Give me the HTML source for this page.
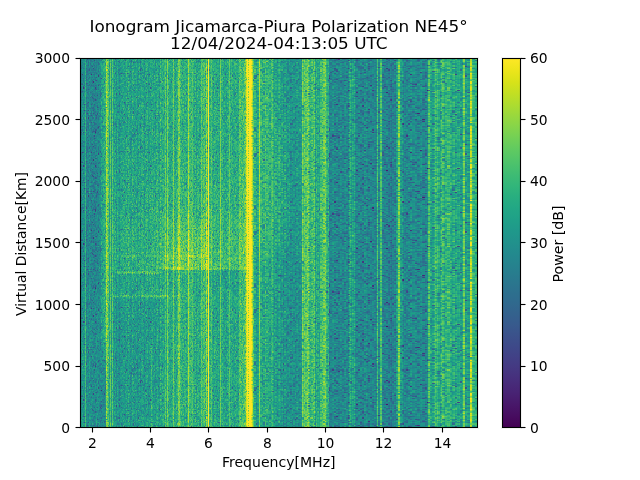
<!DOCTYPE html>
<html><head><meta charset="utf-8"><title>Ionogram</title>
<style>
html,body{margin:0;padding:0;background:#fff;}
body{width:640px;height:480px;overflow:hidden;}
svg{display:block;}
text{font-family:"DejaVu Sans","Liberation Sans",sans-serif;fill:#000;}
.t{font-size:13.89px;}
.ti{font-size:16.67px;}
</style></head><body>
<svg width="640" height="480" viewBox="0 0 640 480">
<defs>
<filter id="vir" x="0" y="0" width="100%" height="100%" filterUnits="objectBoundingBox" color-interpolation-filters="sRGB">
<feColorMatrix type="matrix" values="1.3333 .5 -.5 0 0 1.3333 .5 -.5 0 0 1.3333 .5 -.5 0 0 0 0 0 1 0"/>
<feComponentTransfer><feFuncR type="table" tableValues="0.267 0.273 0.277 0.280 0.282 0.283 0.283 0.281 0.279 0.275 0.271 0.265 0.259 0.252 0.245 0.237 0.230 0.222 0.214 0.207 0.199 0.192 0.186 0.179 0.173 0.167 0.161 0.155 0.149 0.143 0.138 0.132 0.128 0.123 0.121 0.119 0.121 0.125 0.132 0.143 0.158 0.176 0.197 0.220 0.246 0.274 0.304 0.336 0.369 0.404 0.440 0.478 0.516 0.555 0.596 0.637 0.678 0.720 0.762 0.804 0.846 0.886 0.926 0.965 0.993"/><feFuncG type="table" tableValues="0.005 0.026 0.050 0.073 0.095 0.116 0.136 0.156 0.175 0.195 0.214 0.233 0.252 0.270 0.288 0.305 0.322 0.339 0.356 0.372 0.388 0.403 0.419 0.434 0.449 0.464 0.479 0.493 0.508 0.523 0.537 0.552 0.567 0.582 0.596 0.611 0.626 0.640 0.655 0.669 0.684 0.698 0.712 0.726 0.739 0.752 0.765 0.777 0.789 0.800 0.811 0.821 0.831 0.840 0.849 0.857 0.864 0.870 0.876 0.882 0.887 0.892 0.897 0.902 0.906"/><feFuncB type="table" tableValues="0.329 0.353 0.376 0.397 0.417 0.436 0.453 0.469 0.483 0.496 0.507 0.517 0.525 0.532 0.537 0.542 0.546 0.549 0.551 0.553 0.555 0.556 0.557 0.557 0.558 0.558 0.558 0.558 0.557 0.556 0.555 0.553 0.551 0.547 0.544 0.539 0.533 0.527 0.520 0.511 0.502 0.491 0.479 0.466 0.452 0.437 0.420 0.402 0.383 0.363 0.341 0.318 0.294 0.269 0.243 0.217 0.190 0.163 0.137 0.115 0.100 0.095 0.104 0.124 0.144"/></feComponentTransfer>
</filter>
<pattern id="nA1" width="67" height="78" patternUnits="userSpaceOnUse" patternTransform="translate(81,59)"><g shape-rendering="crispEdges"><path fill="rgb(0,0,178)" d="M20 19h1v1h-1M43 43h1v1h-1"/><path fill="rgb(0,0,170)" d="M47 7h1v1h-1M1 15h1v1h-1M31 20h1v1h-1M65 24h1v1h-1M2 28h1v2h-1M66 43h1v1h-1M43 55h1v1h-1M14 73h1v1h-1"/><path fill="rgb(0,0,162)" d="M59 10h1v2h-1M57 12h1v1h-1M52 26h1v1h-1M63 57h1v1h-1M26 69h1v1h-1M45 76h1v2h-1"/><path fill="rgb(0,0,153)" d="M60 9h1v1h-1M12 22h1v2h-1M55 38h1v1h-1M3 45h1v1h-1M3 51h1v1h-1M59 66h1v1h-1M55 70h1v2h-1M26 72h1v1h-1M63 74h1v1h-1"/><path fill="rgb(0,0,144)" d="M52 3h1v1h-1M40 14h1v1h-1M46 14h1v1h-1M10 15h1v1h-1M17 16h1v2h-1M65 33h1v1h-1M57 46h1v2h-1M23 56h1v1h-1M56 74h1v1h-1"/><path fill="rgb(0,0,136)" d="M44 1h1v1h-1M7 58h1v2h-1"/><path fill="rgb(0,0,128)" d="M49 12h1v1h-1M34 14h1v1h-1M64 19h1v1h-1M23 22h1v2h-1M1 25h1v1h-1M65 27h1v1h-1M14 28h1v2h-1M47 39h1v1h-1M56 55h1v1h-1M60 58h1v2h-1M27 60h1v1h-1M17 68h1v1h-1M2 73h1v1h-1M53 74h1v1h-1M66 75h1v1h-1"/><path fill="rgb(0,0,119)" d="M34 0h1v1h-1M12 9h1v1h-1M61 10h1v2h-1M57 15h1v1h-1M66 15h1v1h-1M62 18h1v1h-1M35 34h1v2h-1M38 34h1v2h-1M19 36h1v1h-1M11 38h1v1h-1M47 43h1v1h-1M52 52h1v2h-1M30 58h1v2h-1M24 63h1v1h-1M42 63h1v1h-1M23 67h1v1h-1M35 67h1v1h-1M14 72h1v1h-1"/><path fill="rgb(0,0,110)" d="M6 0h1v1h-1M37 2h1v1h-1M11 7h1v1h-1M26 9h1v1h-1M38 15h1v1h-1M8 18h1v1h-1M15 21h1v1h-1M47 21h1v1h-1M57 25h1v1h-1M51 30h1v1h-1M57 31h1v1h-1M1 32h1v1h-1M2 36h1v1h-1M40 36h1v1h-1M7 43h1v1h-1M47 45h1v1h-1M38 46h1v2h-1M16 48h1v1h-1M25 48h1v1h-1M23 50h1v1h-1M40 52h1v2h-1M6 54h1v1h-1M57 54h1v1h-1M41 58h1v2h-1M10 63h1v1h-1M30 66h1v1h-1M32 66h1v1h-1M52 66h1v1h-1M46 67h1v1h-1M51 76h1v2h-1"/><path fill="rgb(0,0,102)" d="M26 1h1v1h-1M50 1h1v1h-1M28 6h1v1h-1M8 10h1v2h-1M29 27h1v1h-1M20 30h1v1h-1M53 31h1v1h-1M47 32h1v1h-1M16 36h1v1h-1M50 37h1v1h-1M29 39h1v1h-1M14 40h1v2h-1M65 44h1v1h-1M46 46h1v2h-1M48 50h1v1h-1M4 51h1v1h-1M7 51h1v1h-1M12 54h1v1h-1M52 54h1v1h-1M16 55h1v1h-1M21 58h1v2h-1M66 66h1v1h-1M1 67h1v1h-1M21 67h1v1h-1M52 69h1v1h-1M5 70h1v2h-1M13 76h1v2h-1"/><path fill="rgb(0,0,94)" d="M29 0h1v1h-1M20 1h1v1h-1M38 3h1v1h-1M59 3h1v1h-1M35 9h1v1h-1M59 14h1v1h-1M24 16h1v2h-1M51 20h1v1h-1M14 21h1v1h-1M38 21h1v1h-1M59 26h1v1h-1M62 27h1v1h-1M20 34h1v2h-1M60 50h1v1h-1M31 55h1v1h-1M10 56h1v1h-1M55 60h1v1h-1M59 60h1v1h-1M43 62h1v1h-1M34 64h1v2h-1M22 67h1v1h-1M64 72h1v1h-1M11 73h1v1h-1"/><path fill="rgb(0,0,85)" d="M64 0h1v1h-1M13 1h1v1h-1M50 2h1v1h-1M55 2h1v1h-1M59 2h1v1h-1M29 3h1v1h-1M33 4h1v2h-1M7 6h1v1h-1M47 14h1v1h-1M57 14h1v1h-1M27 15h1v1h-1M31 19h1v1h-1M59 20h1v1h-1M8 25h1v1h-1M17 26h1v1h-1M15 30h1v1h-1M49 31h1v1h-1M12 39h1v1h-1M46 39h1v1h-1M58 44h1v1h-1M52 49h1v1h-1M63 51h1v1h-1M16 54h1v1h-1M63 60h1v1h-1M21 63h1v1h-1M31 63h1v1h-1M54 66h1v1h-1M17 67h1v1h-1M24 69h1v1h-1M12 72h1v1h-1M30 72h1v1h-1M44 72h1v1h-1M17 73h1v1h-1M31 75h1v1h-1M52 75h1v1h-1"/><path fill="rgb(0,0,76)" d="M49 2h1v1h-1M54 3h1v1h-1M24 4h1v2h-1M63 4h1v2h-1M34 6h1v1h-1M34 8h1v1h-1M66 12h1v1h-1M34 13h1v1h-1M62 14h1v1h-1M19 15h1v1h-1M54 18h1v1h-1M4 19h1v1h-1M23 19h1v1h-1M42 19h1v1h-1M62 22h1v2h-1M0 25h1v1h-1M34 25h1v1h-1M3 26h1v1h-1M3 28h1v2h-1M32 28h1v2h-1M38 28h1v2h-1M17 30h1v1h-1M13 36h1v1h-1M24 37h1v1h-1M29 37h1v1h-1M53 37h1v1h-1M28 39h1v1h-1M58 39h1v1h-1M13 45h1v1h-1M65 45h1v1h-1M17 48h1v1h-1M30 49h1v1h-1M19 50h1v1h-1M24 50h1v1h-1M23 51h1v1h-1M37 52h1v2h-1M7 56h1v1h-1M52 56h1v1h-1M46 58h1v2h-1M32 62h1v1h-1M43 63h1v1h-1M45 67h1v1h-1M62 67h1v1h-1M1 70h1v2h-1M14 70h1v2h-1M62 70h1v2h-1M56 72h1v1h-1M23 75h1v1h-1"/><path fill="rgb(0,0,68)" d="M48 2h1v1h-1M51 2h1v1h-1M30 6h1v1h-1M26 7h1v1h-1M57 7h1v1h-1M49 8h1v1h-1M45 9h1v1h-1M50 9h1v1h-1M27 10h1v2h-1M17 12h1v1h-1M32 12h1v1h-1M30 13h1v1h-1M15 14h1v1h-1M39 14h1v1h-1M41 14h1v1h-1M43 14h1v1h-1M52 14h1v1h-1M60 14h1v1h-1M49 15h1v1h-1M15 18h1v1h-1M33 20h1v1h-1M56 20h1v1h-1M64 20h1v1h-1M33 22h1v2h-1M5 24h1v1h-1M10 26h1v1h-1M66 28h1v2h-1M7 30h1v1h-1M45 33h1v1h-1M54 33h1v1h-1M27 34h1v2h-1M46 34h1v2h-1M26 36h1v1h-1M20 37h1v1h-1M62 40h1v2h-1M49 42h1v1h-1M57 44h1v1h-1M59 44h1v1h-1M23 45h1v1h-1M33 45h1v1h-1M35 45h1v1h-1M37 46h1v2h-1M50 48h1v1h-1M20 49h1v1h-1M29 50h1v1h-1M45 50h1v1h-1M21 51h1v1h-1M61 55h1v1h-1M18 57h1v1h-1M34 60h1v1h-1M8 61h1v1h-1M20 63h1v1h-1M59 67h1v1h-1M35 70h1v2h-1M0 73h1v1h-1M26 75h1v1h-1M57 75h1v1h-1M28 76h1v2h-1M32 76h1v2h-1"/><path fill="rgb(0,0,60)" d="M20 0h2v1h-2M51 0h1v1h-1M53 2h1v1h-1M1 3h1v1h-1M49 6h1v1h-1M8 9h1v1h-1M37 10h1v2h-1M25 13h1v1h-1M37 13h1v1h-1M61 13h1v1h-1M63 13h1v1h-1M50 14h1v1h-1M42 15h1v1h-1M20 16h1v2h-1M48 16h1v2h-1M48 18h1v1h-1M54 21h1v1h-1M8 22h1v2h-1M23 27h1v1h-1M48 30h1v1h-1M26 31h1v1h-1M52 31h1v1h-1M2 32h1v1h-1M40 32h1v1h-1M9 33h1v1h-1M22 33h1v1h-1M38 33h1v1h-1M40 33h1v1h-1M42 33h1v1h-1M11 34h1v2h-1M19 34h1v2h-1M62 34h1v2h-1M57 36h1v1h-1M10 37h1v1h-1M64 37h1v1h-1M18 39h1v1h-1M30 40h1v2h-1M60 40h1v2h-1M63 42h1v1h-1M26 43h1v1h-1M32 43h1v1h-1M38 44h1v1h-1M44 44h1v1h-1M4 45h1v1h-1M10 45h1v1h-1M22 45h1v1h-1M30 45h1v1h-1M36 46h1v2h-1M65 46h1v2h-1M38 49h1v1h-1M45 49h1v1h-1M17 50h1v1h-1M53 51h1v1h-1M51 52h1v2h-1M2 54h1v1h-1M9 54h2v1h-2M13 54h1v1h-1M51 54h1v1h-1M35 55h1v1h-1M1 56h1v1h-1M46 56h1v1h-1M32 57h1v1h-1M2 58h1v2h-1M15 58h1v2h-1M47 58h1v2h-1M57 61h1v1h-1M34 63h1v1h-1M63 64h1v2h-1M11 67h1v1h-1M18 67h1v1h-1M23 68h1v1h-1M40 69h1v1h-1M15 70h1v2h-1M51 70h1v2h-1M65 70h1v2h-1M36 72h1v1h-1M48 72h2v1h-2M54 72h1v1h-1M58 73h1v1h-1M14 74h1v1h-1M22 75h1v1h-1M30 75h1v1h-1M54 75h2v1h-2"/><path fill="rgb(0,0,51)" d="M52 0h1v1h-1M28 1h1v1h-1M42 1h1v1h-1M33 2h1v1h-1M21 3h1v1h-1M50 3h1v1h-1M57 3h1v1h-1M17 4h1v2h-1M10 6h1v1h-1M22 7h1v1h-1M54 8h1v1h-1M2 9h1v1h-1M30 9h1v1h-1M38 12h1v1h-1M53 12h1v1h-1M64 12h1v1h-1M6 13h1v1h-1M10 14h1v1h-1M19 14h1v1h-1M24 14h1v1h-1M12 15h1v1h-1M17 15h1v1h-1M4 16h1v2h-1M40 16h1v2h-1M5 18h1v1h-1M50 18h1v1h-1M2 19h1v1h-1M65 19h1v1h-1M24 20h1v1h-1M57 20h1v1h-1M65 20h1v1h-1M25 21h1v1h-1M35 22h1v2h-1M1 24h1v1h-1M6 24h1v1h-1M46 24h1v1h-1M18 25h1v1h-1M14 26h1v1h-1M30 26h1v1h-1M4 27h1v1h-1M21 28h1v2h-1M53 28h1v2h-1M8 30h1v1h-1M36 30h1v1h-1M45 30h1v1h-1M57 30h1v1h-1M5 31h1v1h-1M22 31h1v1h-1M58 31h1v1h-1M6 33h1v1h-1M2 34h1v2h-1M27 36h1v1h-1M9 38h1v1h-1M31 38h1v1h-1M33 38h1v1h-1M50 38h1v1h-1M59 39h1v1h-1M15 40h1v2h-1M38 42h1v1h-1M48 42h1v1h-1M61 42h1v1h-1M2 43h1v1h-1M56 43h1v1h-1M52 44h1v1h-1M1 48h1v1h-1M49 48h1v1h-1M52 48h1v1h-1M9 49h1v1h-1M11 49h1v1h-1M29 49h1v1h-1M51 49h1v1h-1M65 50h1v1h-1M47 51h1v1h-1M36 52h1v2h-1M54 52h1v2h-1M41 54h1v1h-1M9 56h1v1h-1M60 56h1v1h-1M54 57h1v1h-1M62 57h1v1h-1M32 58h1v2h-1M55 58h1v2h-1M0 60h1v1h-1M8 60h1v1h-1M37 60h1v1h-1M49 61h1v1h-1M1 62h1v1h-1M32 63h1v1h-1M44 63h1v1h-1M6 64h1v2h-1M39 64h1v2h-1M51 64h1v2h-1M59 64h1v2h-1M27 66h1v1h-1M39 66h1v1h-1M50 66h1v1h-1M64 66h1v1h-1M61 67h1v1h-1M51 68h1v1h-1M59 68h1v1h-1M12 70h1v2h-1M19 70h1v2h-1M40 72h1v1h-1M7 73h1v1h-1M45 73h1v1h-1M66 73h1v1h-1M60 74h1v1h-1M18 75h1v1h-1M20 75h1v1h-1M48 75h1v1h-1M31 76h1v2h-1M52 76h1v2h-1"/><path fill="rgb(0,0,42)" d="M48 0h1v1h-1M9 1h1v1h-1M9 2h1v1h-1M23 2h1v1h-1M7 3h1v1h-1M40 3h1v1h-1M58 3h1v1h-1M9 4h1v2h-1M18 4h1v2h-1M28 4h1v2h-1M59 4h1v2h-1M51 6h1v1h-1M62 6h1v1h-1M50 7h1v1h-1M66 7h1v1h-1M9 9h1v1h-1M14 10h1v2h-1M6 12h1v1h-1M28 12h1v1h-1M22 14h1v1h-1M26 14h1v1h-1M5 15h1v1h-1M60 15h1v1h-1M1 16h1v2h-1M47 16h1v2h-1M11 18h1v1h-1M27 18h1v1h-1M65 18h1v1h-1M14 19h1v1h-1M12 20h1v1h-1M22 20h1v1h-1M43 20h1v1h-1M4 21h1v1h-1M49 22h1v2h-1M25 24h1v1h-1M35 24h1v1h-1M60 24h1v1h-1M10 25h1v1h-1M22 25h1v1h-1M32 25h1v1h-1M8 26h1v1h-1M12 26h1v1h-1M15 26h1v1h-1M28 26h1v1h-1M36 27h1v1h-1M15 28h1v2h-1M63 28h1v2h-1M14 30h1v1h-1M28 31h1v1h-1M4 32h1v1h-1M19 32h1v1h-1M0 33h1v1h-1M19 33h2v1h-2M64 33h1v1h-1M41 36h1v1h-1M45 36h1v1h-1M14 37h1v1h-1M46 37h1v1h-1M1 38h1v1h-1M36 38h1v1h-1M40 38h1v1h-1M63 38h1v1h-1M66 38h1v1h-1M41 42h1v1h-1M57 42h2v1h-2M62 42h1v1h-1M2 44h1v1h-1M29 44h1v1h-1M43 44h1v1h-1M1 45h1v1h-1M25 45h1v1h-1M48 45h1v1h-1M57 45h1v1h-1M16 46h1v2h-1M19 46h1v2h-1M44 46h1v2h-1M5 48h1v1h-1M26 48h1v1h-1M44 48h1v1h-1M58 48h1v1h-1M8 49h1v1h-1M62 49h1v1h-1M52 50h1v1h-1M66 50h1v1h-1M43 51h1v1h-1M14 52h1v2h-1M40 54h1v1h-1M47 54h1v1h-1M55 54h1v1h-1M14 55h1v1h-1M24 55h1v1h-1M55 55h1v1h-1M15 56h1v1h-1M48 56h1v1h-1M11 58h1v2h-1M63 58h1v2h-1M17 60h1v1h-1M22 60h1v1h-1M9 61h1v1h-1M38 61h1v1h-1M34 62h1v1h-1M38 62h1v1h-1M8 63h1v1h-1M40 63h1v1h-1M13 64h1v2h-1M53 64h1v2h-1M42 66h1v1h-1M28 67h1v1h-1M40 67h1v1h-1M63 67h1v1h-1M31 68h1v1h-1M62 68h1v1h-1M5 69h1v1h-1M10 69h1v1h-1M13 69h1v1h-1M38 69h1v1h-1M66 70h1v2h-1M13 72h1v1h-1M21 72h1v1h-1M4 73h1v1h-1M37 73h1v1h-1M44 74h1v1h-1M9 75h1v1h-1M37 75h1v1h-1M53 75h1v1h-1M65 75h1v1h-1M54 76h1v2h-1"/><path fill="rgb(0,0,34)" d="M43 0h1v1h-1M60 0h1v1h-1M24 1h1v1h-1M29 1h1v1h-1M55 1h2v1h-2M66 2h1v1h-1M17 3h1v1h-1M1 6h1v1h-1M24 6h1v1h-1M26 6h1v1h-1M37 6h1v1h-1M58 6h1v1h-1M28 7h1v1h-1M13 8h1v1h-1M30 8h1v1h-1M46 8h1v1h-1M3 9h1v1h-1M17 9h1v1h-1M33 9h1v1h-1M51 9h1v1h-1M55 9h1v1h-1M6 10h1v2h-1M17 10h1v2h-1M35 12h1v1h-1M43 12h1v1h-1M9 13h1v1h-1M8 14h1v1h-1M18 14h1v1h-1M28 14h1v1h-1M63 14h1v1h-1M0 15h1v1h-1M6 15h1v1h-1M13 15h1v1h-1M63 15h1v1h-1M56 16h1v2h-1M10 18h1v1h-1M30 18h1v1h-1M52 18h1v1h-1M8 19h1v1h-1M26 20h1v1h-1M48 20h1v1h-1M2 21h1v1h-1M11 21h1v1h-1M30 21h1v1h-1M39 21h1v1h-1M45 21h1v1h-1M65 21h1v1h-1M11 22h1v2h-1M27 22h1v2h-1M39 22h1v2h-1M57 22h1v2h-1M0 24h1v1h-1M3 24h1v1h-1M58 24h1v1h-1M5 25h1v1h-1M20 25h1v1h-1M46 25h1v1h-1M55 26h1v1h-1M33 27h1v1h-1M8 28h1v2h-1M22 28h1v2h-1M25 28h1v2h-1M30 28h1v2h-1M37 28h1v2h-1M5 30h1v1h-1M26 30h1v1h-1M54 30h1v1h-1M65 30h1v1h-1M48 31h1v1h-1M11 32h1v1h-1M27 32h1v1h-1M37 32h1v1h-1M46 32h1v1h-1M15 33h1v1h-1M56 33h1v1h-1M39 34h1v2h-1M41 37h1v1h-1M56 37h1v1h-1M51 38h1v1h-1M4 39h1v1h-1M7 39h1v1h-1M11 39h1v1h-1M60 39h1v1h-1M64 39h1v1h-1M8 40h1v2h-1M13 40h1v2h-1M50 40h1v2h-1M2 42h1v1h-1M12 42h1v1h-1M28 42h1v1h-1M30 43h1v1h-1M36 43h1v1h-1M41 43h1v1h-1M24 44h1v1h-1M28 44h1v1h-1M32 44h1v1h-1M26 45h1v1h-1M32 45h1v1h-1M50 46h1v2h-1M2 48h1v1h-1M11 48h2v1h-2M36 48h1v1h-1M22 49h1v1h-1M56 49h1v1h-1M64 49h1v1h-1M13 50h1v1h-1M30 50h1v1h-1M41 50h1v1h-1M54 50h1v1h-1M2 51h1v1h-1M19 51h1v1h-1M28 51h1v1h-1M31 51h1v1h-1M10 52h1v2h-1M13 52h1v2h-1M17 52h1v2h-1M49 52h1v2h-1M57 52h1v2h-1M7 54h1v1h-1M18 54h1v1h-1M21 54h1v1h-1M49 54h1v1h-1M63 54h1v1h-1M19 55h1v1h-1M45 55h1v1h-1M17 56h1v1h-1M20 56h1v1h-1M55 56h1v1h-1M8 57h1v1h-1M11 57h1v1h-1M20 57h1v1h-1M31 57h1v1h-1M40 57h1v1h-1M55 57h1v1h-1M5 58h1v2h-1M12 58h1v2h-1M27 58h1v2h-1M44 58h1v2h-1M61 58h1v2h-1M2 60h1v1h-1M9 60h1v1h-1M61 60h1v1h-1M4 61h1v1h-1M20 61h2v1h-2M25 61h1v1h-1M61 61h2v1h-2M2 62h1v1h-1M9 62h1v1h-1M6 63h1v1h-1M12 63h1v1h-1M54 63h1v1h-1M63 63h1v1h-1M54 64h1v2h-1M38 66h1v1h-1M58 66h1v1h-1M39 67h1v1h-1M56 67h1v1h-1M55 68h1v1h-1M4 69h1v1h-1M7 69h1v1h-1M17 69h1v1h-1M39 69h1v1h-1M58 69h1v1h-1M62 69h1v1h-1M0 70h1v2h-1M10 70h1v2h-1M20 70h1v2h-1M32 70h1v2h-1M39 70h1v2h-1M45 70h1v2h-1M11 72h1v1h-1M18 72h2v1h-2M41 72h1v1h-1M22 74h1v1h-1M29 74h1v1h-1M47 74h1v1h-1M50 74h2v1h-2M5 75h1v1h-1M19 76h1v2h-1M50 76h1v2h-1M64 76h1v2h-1"/><path fill="rgb(0,0,26)" d="M4 0h1v1h-1M15 0h1v1h-1M36 0h1v1h-1M45 0h1v1h-1M10 1h1v1h-1M58 1h1v1h-1M4 2h1v1h-1M22 2h1v1h-1M31 2h1v1h-1M42 2h1v1h-1M57 2h1v1h-1M14 3h1v1h-1M28 3h1v1h-1M47 3h1v1h-1M56 3h1v1h-1M3 4h1v2h-1M43 4h1v2h-1M61 4h1v2h-1M25 6h1v1h-1M47 6h1v1h-1M31 7h1v1h-1M49 7h1v1h-1M59 7h1v1h-1M1 8h1v1h-1M44 8h1v1h-1M4 9h3v1h-3M52 9h1v1h-1M54 9h1v1h-1M59 9h1v1h-1M63 9h1v1h-1M39 10h1v2h-1M55 10h1v2h-1M3 12h1v1h-1M44 12h1v1h-1M63 12h1v1h-1M65 12h1v1h-1M15 13h1v1h-1M49 13h1v1h-1M62 13h1v1h-1M42 14h1v1h-1M58 14h1v1h-1M61 14h1v1h-1M28 15h1v1h-1M34 15h1v1h-1M39 15h1v1h-1M44 15h1v1h-1M43 16h1v2h-1M62 16h1v2h-1M65 16h1v2h-1M3 18h1v1h-1M19 19h1v1h-1M26 19h1v1h-1M38 19h1v1h-1M62 19h1v1h-1M16 20h1v1h-1M20 20h1v1h-1M27 20h1v1h-1M35 20h1v1h-1M41 20h1v1h-1M50 20h1v1h-1M23 21h1v1h-1M28 21h1v1h-1M61 21h1v1h-1M2 22h1v2h-1M27 24h1v1h-1M38 24h1v1h-1M43 24h1v1h-1M21 25h1v1h-1M35 25h1v1h-1M41 25h1v1h-1M51 25h1v1h-1M54 25h2v1h-2M58 25h1v1h-1M62 25h1v1h-1M65 25h1v1h-1M66 26h1v1h-1M9 27h1v1h-1M26 27h1v1h-1M28 27h1v1h-1M39 27h1v1h-1M46 27h1v1h-1M34 28h1v2h-1M48 28h1v2h-1M51 28h1v2h-1M58 28h1v2h-1M22 30h1v1h-1M35 30h1v1h-1M39 30h1v1h-1M52 30h1v1h-1M0 31h1v1h-1M19 31h1v1h-1M33 31h1v1h-1M39 31h1v1h-1M65 31h1v1h-1M0 32h1v1h-1M48 32h1v1h-1M55 32h1v1h-1M61 32h1v1h-1M1 33h1v1h-1M7 34h1v2h-1M18 34h1v2h-1M11 36h1v1h-1M36 36h1v1h-1M39 36h1v1h-1M42 36h1v1h-1M59 36h1v1h-1M19 37h1v1h-1M44 37h1v1h-1M47 37h1v1h-1M54 37h1v1h-1M0 38h1v1h-1M8 38h1v1h-1M29 38h1v1h-1M35 38h1v1h-1M64 38h1v1h-1M5 39h1v1h-1M8 39h1v1h-1M14 39h1v1h-1M16 39h1v1h-1M19 39h1v1h-1M33 39h1v1h-1M36 39h1v1h-1M44 39h1v1h-1M20 40h1v2h-1M39 40h1v2h-1M57 40h1v2h-1M61 40h1v2h-1M4 42h1v1h-1M31 42h1v1h-1M34 42h1v1h-1M14 43h1v1h-1M38 43h1v1h-1M44 43h1v1h-1M46 43h1v1h-1M62 43h1v1h-1M21 44h1v1h-1M63 44h1v1h-1M7 45h1v1h-1M34 45h1v1h-1M39 45h1v1h-1M49 45h2v1h-2M53 45h2v1h-2M62 45h1v1h-1M26 46h1v2h-1M30 46h1v2h-1M40 46h1v2h-1M10 48h1v1h-1M31 48h1v1h-1M42 48h1v1h-1M54 48h1v1h-1M12 49h1v1h-1M19 49h1v1h-1M33 49h2v1h-2M65 49h1v1h-1M12 50h1v1h-1M33 50h1v1h-1M36 50h1v1h-1M57 50h1v1h-1M45 51h1v1h-1M6 52h1v2h-1M41 52h2v2h-2M64 52h1v2h-1M5 54h1v1h-1M25 54h1v1h-1M5 55h1v1h-1M63 55h1v1h-1M44 56h1v1h-1M4 57h1v1h-1M15 57h1v1h-1M42 57h1v1h-1M52 58h1v2h-1M3 60h1v1h-1M14 60h2v1h-2M38 60h1v1h-1M42 60h1v1h-1M46 60h1v1h-1M53 60h1v1h-1M39 61h1v1h-1M41 61h1v1h-1M47 61h1v1h-1M66 61h1v1h-1M21 62h1v1h-1M26 62h1v1h-1M35 62h1v1h-1M42 62h1v1h-1M54 62h1v1h-1M7 63h1v1h-1M9 63h1v1h-1M13 63h1v1h-1M46 63h1v1h-1M49 63h1v1h-1M51 63h1v1h-1M3 64h1v2h-1M14 64h2v2h-2M28 64h1v2h-1M58 64h1v2h-1M34 66h1v1h-1M40 66h1v1h-1M56 66h1v1h-1M6 67h2v1h-2M32 67h1v1h-1M48 67h2v1h-2M65 67h1v1h-1M22 68h1v1h-1M56 68h1v1h-1M1 69h1v1h-1M3 69h1v1h-1M41 69h1v1h-1M65 69h1v1h-1M27 70h1v2h-1M40 70h1v2h-1M48 70h1v2h-1M53 70h1v2h-1M58 70h1v2h-1M22 72h1v1h-1M29 72h1v1h-1M57 72h1v1h-1M39 73h1v1h-1M46 73h1v1h-1M60 73h1v1h-1M2 74h1v1h-1M16 74h1v1h-1M30 74h1v1h-1M57 74h1v1h-1M64 74h1v1h-1M2 75h2v1h-2M16 75h1v1h-1M38 75h1v1h-1M45 75h1v1h-1M64 75h1v1h-1M8 76h1v2h-1M29 76h1v2h-1M46 76h1v2h-1M53 76h1v2h-1"/><path fill="rgb(0,0,17)" d="M9 0h1v1h-1M11 0h1v1h-1M18 0h1v1h-1M30 0h1v1h-1M37 0h1v1h-1M44 0h1v1h-1M5 1h1v1h-1M38 1h1v1h-1M47 1h1v1h-1M11 2h1v1h-1M21 2h1v1h-1M26 2h1v1h-1M36 2h1v1h-1M38 2h1v1h-1M5 3h1v1h-1M22 3h1v1h-1M30 3h2v1h-2M44 3h1v1h-1M62 3h1v1h-1M1 4h1v2h-1M4 4h1v2h-1M12 4h1v2h-1M40 4h1v2h-1M47 4h1v2h-1M49 4h1v2h-1M53 4h1v2h-1M62 4h1v2h-1M0 6h1v1h-1M17 6h1v1h-1M35 6h2v1h-2M38 6h1v1h-1M27 7h1v1h-1M15 8h1v1h-1M41 8h1v1h-1M55 8h1v1h-1M61 8h1v1h-1M64 8h1v1h-1M25 9h1v1h-1M40 9h1v1h-1M4 10h2v2h-2M7 10h1v2h-1M11 10h1v2h-1M24 10h1v2h-1M30 10h1v2h-1M38 10h1v2h-1M42 10h1v2h-1M50 10h1v2h-1M63 10h1v2h-1M5 12h1v1h-1M45 12h1v1h-1M59 12h1v1h-1M1 13h1v1h-1M4 13h1v1h-1M10 13h1v1h-1M18 13h1v1h-1M22 13h1v1h-1M28 13h1v1h-1M6 14h1v1h-1M9 14h1v1h-1M27 14h1v1h-1M22 15h1v1h-1M24 15h1v1h-1M36 15h1v1h-1M48 15h1v1h-1M55 15h1v1h-1M28 16h1v2h-1M35 16h1v2h-1M53 16h1v2h-1M55 16h1v2h-1M47 18h1v1h-1M5 19h1v1h-1M7 19h1v1h-1M25 19h1v1h-1M57 19h1v1h-1M2 20h1v1h-1M5 20h1v1h-1M10 20h1v1h-1M39 20h1v1h-1M42 20h1v1h-1M46 20h1v1h-1M52 21h1v1h-1M58 21h1v1h-1M60 21h1v1h-1M3 22h1v2h-1M19 22h1v2h-1M31 22h1v2h-1M37 22h2v2h-2M40 22h1v2h-1M43 22h1v2h-1M61 22h1v2h-1M14 24h1v1h-1M39 24h1v1h-1M45 24h1v1h-1M43 25h1v1h-1M52 25h1v1h-1M66 25h1v1h-1M6 26h2v1h-2M40 26h1v1h-1M46 26h1v1h-1M50 26h1v1h-1M56 26h1v1h-1M58 26h1v1h-1M15 27h1v1h-1M27 27h1v1h-1M58 27h1v1h-1M6 28h2v2h-2M28 28h1v2h-1M13 30h1v1h-1M24 30h1v1h-1M63 30h1v1h-1M21 31h1v1h-1M8 32h1v1h-1M18 32h1v1h-1M32 32h1v1h-1M38 32h1v1h-1M21 33h1v1h-1M50 33h1v1h-1M53 33h1v1h-1M62 33h2v1h-2M12 34h1v2h-1M14 34h2v2h-2M23 34h3v2h-3M33 34h1v2h-1M48 34h1v2h-1M57 34h1v2h-1M59 34h3v2h-3M65 34h1v2h-1M8 36h1v1h-1M12 36h1v1h-1M21 36h1v1h-1M37 36h1v1h-1M46 36h1v1h-1M55 36h1v1h-1M62 36h1v1h-1M8 37h1v1h-1M30 37h1v1h-1M39 37h1v1h-1M59 37h1v1h-1M63 37h1v1h-1M24 38h1v1h-1M43 38h1v1h-1M57 38h2v1h-2M26 39h1v1h-1M54 39h1v1h-1M65 39h1v1h-1M3 40h2v2h-2M9 40h1v2h-1M29 40h1v2h-1M54 40h1v2h-1M64 40h1v2h-1M5 42h1v1h-1M8 42h1v1h-1M17 42h1v1h-1M6 43h1v1h-1M42 43h1v1h-1M54 43h1v1h-1M60 43h1v1h-1M64 43h1v1h-1M5 44h1v1h-1M53 44h1v1h-1M2 45h1v1h-1M21 45h1v1h-1M45 45h1v1h-1M56 45h1v1h-1M64 45h1v1h-1M3 46h1v2h-1M7 46h1v2h-1M14 46h1v2h-1M20 46h1v2h-1M28 46h1v2h-1M33 46h1v2h-1M66 46h1v2h-1M8 48h1v1h-1M29 48h1v1h-1M33 48h1v1h-1M35 48h1v1h-1M56 48h1v1h-1M65 48h1v1h-1M3 49h1v1h-1M41 49h1v1h-1M49 49h1v1h-1M26 50h1v1h-1M43 50h1v1h-1M50 50h1v1h-1M62 50h1v1h-1M12 51h1v1h-1M39 51h2v1h-2M19 52h1v2h-1M24 52h1v2h-1M28 52h1v2h-1M38 52h1v2h-1M56 52h1v2h-1M58 52h1v2h-1M61 52h1v2h-1M63 52h1v2h-1M30 54h1v1h-1M44 54h1v1h-1M48 54h1v1h-1M64 54h1v1h-1M6 55h1v1h-1M22 55h1v1h-1M3 56h1v1h-1M12 56h1v1h-1M39 56h1v1h-1M51 56h1v1h-1M5 57h1v1h-1M0 58h1v2h-1M22 58h1v2h-1M36 58h1v2h-1M59 58h1v2h-1M7 60h1v1h-1M32 60h1v1h-1M40 60h1v1h-1M64 60h1v1h-1M3 61h1v1h-1M13 61h1v1h-1M17 61h1v1h-1M42 61h1v1h-1M20 62h1v1h-1M29 62h1v1h-1M46 62h1v1h-1M48 62h1v1h-1M62 62h2v1h-2M0 63h1v1h-1M23 63h1v1h-1M66 63h1v1h-1M10 64h1v2h-1M26 64h1v2h-1M38 64h1v2h-1M46 64h1v2h-1M48 64h1v2h-1M57 64h1v2h-1M62 64h1v2h-1M22 66h1v1h-1M31 66h1v1h-1M65 66h1v1h-1M2 67h2v1h-2M24 67h1v1h-1M36 67h1v1h-1M54 67h2v1h-2M3 68h1v1h-1M6 68h2v1h-2M10 68h1v1h-1M14 68h1v1h-1M25 68h1v1h-1M34 68h1v1h-1M36 68h1v1h-1M60 68h1v1h-1M9 69h1v1h-1M14 69h1v1h-1M32 69h1v1h-1M44 69h1v1h-1M46 69h1v1h-1M25 70h1v2h-1M23 72h1v1h-1M28 72h1v1h-1M33 72h1v1h-1M51 72h1v1h-1M59 72h1v1h-1M35 73h1v1h-1M49 73h2v1h-2M19 74h1v1h-1M48 74h1v1h-1M6 75h1v1h-1M17 75h1v1h-1M51 75h1v1h-1M7 76h1v2h-1M18 76h1v2h-1M22 76h1v2h-1M38 76h1v2h-1M42 76h1v2h-1M66 76h1v2h-1"/><path fill="rgb(0,0,8)" d="M25 0h1v1h-1M49 0h1v1h-1M19 1h1v1h-1M22 1h1v1h-1M35 1h1v1h-1M49 1h1v1h-1M13 2h1v1h-1M34 2h1v1h-1M46 2h1v1h-1M52 2h1v1h-1M63 2h1v1h-1M8 3h1v1h-1M23 3h1v1h-1M33 3h1v1h-1M48 3h1v1h-1M53 3h1v1h-1M60 3h1v1h-1M65 3h1v1h-1M26 4h1v2h-1M36 4h2v2h-2M50 4h1v2h-1M52 4h1v2h-1M57 4h1v2h-1M9 6h1v1h-1M13 6h1v1h-1M15 6h1v1h-1M46 6h1v1h-1M4 7h1v1h-1M6 7h1v1h-1M9 7h2v1h-2M14 7h1v1h-1M18 7h1v1h-1M2 8h1v1h-1M7 8h1v1h-1M9 8h1v1h-1M21 8h1v1h-1M32 8h1v1h-1M40 8h1v1h-1M43 8h1v1h-1M48 8h1v1h-1M59 8h2v1h-2M65 8h1v1h-1M0 9h1v1h-1M10 9h1v1h-1M15 9h1v1h-1M19 9h1v1h-1M22 9h1v1h-1M39 9h1v1h-1M43 9h1v1h-1M49 9h1v1h-1M10 10h1v2h-1M13 10h1v2h-1M20 10h1v2h-1M41 10h1v2h-1M44 10h1v2h-1M48 10h1v2h-1M51 10h1v2h-1M0 12h1v1h-1M25 12h1v1h-1M27 12h1v1h-1M36 12h2v1h-2M40 12h2v1h-2M46 12h1v1h-1M5 13h1v1h-1M11 13h1v1h-1M24 13h1v1h-1M40 13h1v1h-1M7 14h1v1h-1M13 14h1v1h-1M37 14h1v1h-1M56 14h1v1h-1M18 15h1v1h-1M52 15h1v1h-1M59 15h1v1h-1M0 16h1v2h-1M5 16h1v2h-1M50 16h1v2h-1M63 16h1v2h-1M9 18h1v1h-1M26 18h1v1h-1M34 18h1v1h-1M45 18h1v1h-1M53 18h1v1h-1M57 18h1v1h-1M60 18h1v1h-1M0 19h1v1h-1M28 19h1v1h-1M32 19h1v1h-1M36 19h1v1h-1M60 19h1v1h-1M6 20h1v1h-1M30 20h1v1h-1M38 20h1v1h-1M45 20h1v1h-1M55 20h1v1h-1M16 21h1v1h-1M18 21h1v1h-1M32 21h1v1h-1M36 21h1v1h-1M42 21h1v1h-1M48 21h1v1h-1M9 22h1v2h-1M56 22h1v2h-1M33 24h1v1h-1M48 24h1v1h-1M53 24h1v1h-1M59 24h1v1h-1M61 24h1v1h-1M3 25h2v1h-2M17 25h1v1h-1M23 25h1v1h-1M30 25h1v1h-1M40 25h1v1h-1M42 25h1v1h-1M47 25h1v1h-1M61 25h1v1h-1M18 26h1v1h-1M25 26h1v1h-1M33 26h1v1h-1M38 26h1v1h-1M44 26h2v1h-2M54 26h1v1h-1M61 26h1v1h-1M0 27h1v1h-1M12 27h2v1h-2M38 27h1v1h-1M40 27h3v1h-3M50 27h1v1h-1M0 28h1v2h-1M9 28h1v2h-1M17 28h1v2h-1M23 28h1v2h-1M27 28h1v2h-1M39 28h1v2h-1M44 28h2v2h-2M49 28h2v2h-2M54 28h2v2h-2M32 30h1v1h-1M44 30h1v1h-1M1 31h1v1h-1M10 31h1v1h-1M25 31h1v1h-1M46 31h1v1h-1M3 32h1v1h-1M9 32h1v1h-1M28 32h1v1h-1M50 32h1v1h-1M53 32h2v1h-2M3 33h1v1h-1M51 33h1v1h-1M59 33h1v1h-1M49 34h1v2h-1M51 34h1v2h-1M55 34h1v2h-1M63 34h2v2h-2M0 36h1v1h-1M7 36h1v1h-1M29 36h1v1h-1M35 36h1v1h-1M50 36h1v1h-1M61 36h1v1h-1M36 37h1v1h-1M42 37h1v1h-1M3 38h1v1h-1M15 38h1v1h-1M20 38h1v1h-1M23 38h1v1h-1M34 38h1v1h-1M61 38h1v1h-1M42 39h1v1h-1M49 39h1v1h-1M62 39h1v1h-1M0 40h1v2h-1M2 40h1v2h-1M21 40h1v2h-1M27 40h2v2h-2M45 40h1v2h-1M47 40h1v2h-1M56 40h1v2h-1M0 42h1v1h-1M13 42h1v1h-1M22 42h1v1h-1M32 42h1v1h-1M37 42h1v1h-1M60 42h1v1h-1M19 43h1v1h-1M22 43h1v1h-1M53 43h1v1h-1M58 43h1v1h-1M6 44h1v1h-1M16 44h1v1h-1M18 44h1v1h-1M22 44h1v1h-1M31 44h1v1h-1M5 45h1v1h-1M11 45h1v1h-1M14 45h1v1h-1M27 45h1v1h-1M31 45h1v1h-1M44 45h1v1h-1M6 46h1v2h-1M18 46h1v2h-1M54 46h1v2h-1M18 48h1v1h-1M30 48h1v1h-1M39 48h1v1h-1M6 49h1v1h-1M13 49h1v1h-1M17 49h1v1h-1M23 49h1v1h-1M46 49h1v1h-1M61 49h1v1h-1M38 50h1v1h-1M58 50h1v1h-1M63 50h1v1h-1M6 51h1v1h-1M42 51h1v1h-1M16 52h1v2h-1M55 52h1v2h-1M31 54h1v1h-1M33 54h1v1h-1M46 54h1v1h-1M53 54h1v1h-1M58 54h1v1h-1M28 55h1v1h-1M32 55h1v1h-1M50 55h1v1h-1M53 55h1v1h-1M60 55h1v1h-1M65 55h1v1h-1M8 56h1v1h-1M19 56h1v1h-1M26 56h1v1h-1M35 56h1v1h-1M45 56h1v1h-1M50 56h1v1h-1M54 56h1v1h-1M56 56h1v1h-1M17 57h1v1h-1M24 57h1v1h-1M9 58h1v2h-1M16 58h1v2h-1M25 58h1v2h-1M39 58h1v2h-1M57 58h1v2h-1M11 60h1v1h-1M24 60h2v1h-2M29 60h1v1h-1M36 60h1v1h-1M47 60h2v1h-2M51 60h1v1h-1M15 61h1v1h-1M24 61h1v1h-1M45 61h1v1h-1M56 61h1v1h-1M63 61h2v1h-2M6 62h1v1h-1M17 62h1v1h-1M28 62h1v1h-1M36 62h1v1h-1M45 62h1v1h-1M51 62h1v1h-1M53 62h1v1h-1M55 62h1v1h-1M19 63h1v1h-1M29 63h1v1h-1M37 63h1v1h-1M47 63h1v1h-1M59 63h1v1h-1M7 64h1v2h-1M18 64h1v2h-1M32 64h2v2h-2M35 64h1v2h-1M42 64h1v2h-1M7 66h1v1h-1M10 66h1v1h-1M13 66h1v1h-1M20 66h1v1h-1M26 66h1v1h-1M47 66h1v1h-1M51 66h1v1h-1M63 66h1v1h-1M25 67h1v1h-1M33 67h1v1h-1M37 67h1v1h-1M1 68h1v1h-1M12 68h1v1h-1M16 68h1v1h-1M24 68h1v1h-1M28 68h1v1h-1M38 68h1v1h-1M40 68h1v1h-1M44 68h3v1h-3M52 68h1v1h-1M63 68h1v1h-1M16 69h1v1h-1M23 69h1v1h-1M29 69h2v1h-2M49 69h1v1h-1M56 69h1v1h-1M18 70h1v2h-1M22 70h1v2h-1M46 70h1v2h-1M56 70h1v2h-1M63 70h1v2h-1M17 72h1v1h-1M58 72h1v1h-1M66 72h1v1h-1M15 73h1v1h-1M24 73h1v1h-1M27 73h3v1h-3M42 73h1v1h-1M44 73h1v1h-1M47 73h1v1h-1M52 73h1v1h-1M54 73h1v1h-1M56 73h1v1h-1M0 74h1v1h-1M18 74h1v1h-1M21 74h1v1h-1M34 74h2v1h-2M45 74h1v1h-1M58 74h1v1h-1M19 75h1v1h-1M28 75h1v1h-1M40 75h2v1h-2M50 75h1v1h-1M35 76h1v2h-1M39 76h1v2h-1M59 76h1v2h-1M65 76h1v2h-1"/><path fill="rgb(0,8,0)" d="M0 0h1v1h-1M17 0h1v1h-1M23 0h1v1h-1M53 0h1v1h-1M56 0h1v1h-1M58 0h1v1h-1M63 0h1v1h-1M7 1h2v1h-2M12 1h1v1h-1M17 1h1v1h-1M27 1h1v1h-1M32 1h1v1h-1M39 1h1v1h-1M48 1h1v1h-1M51 1h1v1h-1M63 1h1v1h-1M7 2h1v1h-1M58 2h1v1h-1M65 2h1v1h-1M11 3h1v1h-1M13 3h1v1h-1M20 3h1v1h-1M24 3h1v1h-1M61 3h1v1h-1M64 3h1v1h-1M66 3h1v1h-1M7 4h1v2h-1M27 4h1v2h-1M30 4h1v2h-1M55 4h1v2h-1M12 6h1v1h-1M31 6h1v1h-1M48 6h1v1h-1M50 6h1v1h-1M59 6h1v1h-1M1 7h1v1h-1M17 7h1v1h-1M24 7h1v1h-1M38 7h1v1h-1M40 7h1v1h-1M46 7h1v1h-1M52 7h1v1h-1M56 7h1v1h-1M10 8h1v1h-1M33 8h1v1h-1M39 8h1v1h-1M13 9h1v1h-1M48 9h1v1h-1M61 9h1v1h-1M0 10h1v2h-1M12 10h1v2h-1M15 10h1v2h-1M21 10h1v2h-1M29 10h1v2h-1M32 10h1v2h-1M34 10h1v2h-1M47 10h1v2h-1M56 10h1v2h-1M64 10h1v2h-1M7 12h1v1h-1M9 12h1v1h-1M11 12h1v1h-1M14 12h1v1h-1M16 12h1v1h-1M20 12h1v1h-1M24 12h1v1h-1M55 12h1v1h-1M61 12h2v1h-2M3 13h1v1h-1M17 13h1v1h-1M29 13h1v1h-1M50 13h3v1h-3M55 13h1v1h-1M58 13h3v1h-3M65 13h1v1h-1M0 14h1v1h-1M16 14h1v1h-1M20 14h1v1h-1M30 14h1v1h-1M35 14h1v1h-1M55 14h1v1h-1M65 14h1v1h-1M9 15h1v1h-1M15 15h1v1h-1M30 15h1v1h-1M50 15h1v1h-1M64 15h1v1h-1M3 16h1v2h-1M11 16h1v2h-1M13 16h1v2h-1M27 16h1v2h-1M29 16h1v2h-1M57 16h1v2h-1M61 16h1v2h-1M20 18h1v1h-1M22 18h1v1h-1M24 18h1v1h-1M39 18h1v1h-1M41 18h1v1h-1M55 18h1v1h-1M10 19h1v1h-1M27 19h1v1h-1M34 19h1v1h-1M46 19h1v1h-1M53 19h1v1h-1M8 20h1v1h-1M22 21h1v1h-1M49 21h1v1h-1M51 21h1v1h-1M55 21h1v1h-1M59 21h1v1h-1M63 21h1v1h-1M0 22h2v2h-2M15 22h1v2h-1M25 22h1v2h-1M28 22h1v2h-1M34 22h1v2h-1M46 22h1v2h-1M55 22h1v2h-1M26 24h1v1h-1M28 24h1v1h-1M31 24h1v1h-1M44 24h1v1h-1M47 24h1v1h-1M57 24h1v1h-1M12 25h1v1h-1M14 25h2v1h-2M27 25h2v1h-2M31 25h1v1h-1M5 26h1v1h-1M13 26h1v1h-1M22 26h1v1h-1M48 26h2v1h-2M60 26h1v1h-1M1 27h1v1h-1M10 27h1v1h-1M25 27h1v1h-1M51 27h4v1h-4M60 27h1v1h-1M1 28h1v2h-1M29 28h1v2h-1M43 28h1v2h-1M61 28h2v2h-2M0 30h2v1h-2M12 30h1v1h-1M19 30h1v1h-1M23 30h1v1h-1M30 30h2v1h-2M40 30h1v1h-1M64 30h1v1h-1M4 31h1v1h-1M8 31h2v1h-2M12 31h1v1h-1M18 31h1v1h-1M29 31h1v1h-1M32 31h1v1h-1M34 31h1v1h-1M37 31h1v1h-1M44 31h1v1h-1M55 31h1v1h-1M59 31h1v1h-1M63 31h1v1h-1M33 32h1v1h-1M42 32h1v1h-1M45 32h1v1h-1M57 32h1v1h-1M60 32h1v1h-1M4 33h1v1h-1M11 33h1v1h-1M33 33h1v1h-1M55 33h1v1h-1M57 33h1v1h-1M0 34h1v2h-1M4 34h1v2h-1M6 34h1v2h-1M8 34h2v2h-2M13 34h1v2h-1M26 34h1v2h-1M32 34h1v2h-1M52 34h1v2h-1M66 34h1v2h-1M1 36h1v1h-1M23 36h1v1h-1M31 36h1v1h-1M44 36h1v1h-1M47 36h1v1h-1M51 36h2v1h-2M58 36h1v1h-1M63 36h2v1h-2M1 37h1v1h-1M5 37h1v1h-1M17 37h1v1h-1M26 37h1v1h-1M51 37h1v1h-1M4 38h1v1h-1M25 38h1v1h-1M37 38h1v1h-1M41 38h1v1h-1M59 38h1v1h-1M22 39h1v1h-1M24 39h2v1h-2M27 39h1v1h-1M31 39h1v1h-1M35 39h1v1h-1M40 39h2v1h-2M66 39h1v1h-1M16 40h1v2h-1M22 40h1v2h-1M34 40h1v2h-1M40 40h1v2h-1M42 40h1v2h-1M48 40h1v2h-1M51 40h1v2h-1M25 42h1v1h-1M39 42h1v1h-1M42 42h2v1h-2M55 42h2v1h-2M39 43h2v1h-2M48 43h1v1h-1M50 43h1v1h-1M52 43h1v1h-1M0 44h2v1h-2M7 44h2v1h-2M15 44h1v1h-1M36 44h1v1h-1M40 44h1v1h-1M48 44h2v1h-2M60 44h1v1h-1M12 45h1v1h-1M36 45h3v1h-3M55 45h1v1h-1M63 45h1v1h-1M15 46h1v2h-1M23 46h1v2h-1M29 46h1v2h-1M45 46h1v2h-1M51 46h3v2h-3M34 48h1v1h-1M38 48h1v1h-1M41 48h1v1h-1M48 48h1v1h-1M51 48h1v1h-1M53 48h1v1h-1M59 48h1v1h-1M18 49h1v1h-1M21 49h1v1h-1M32 49h1v1h-1M43 49h1v1h-1M54 49h1v1h-1M66 49h1v1h-1M8 50h1v1h-1M14 50h1v1h-1M28 50h1v1h-1M31 50h1v1h-1M49 50h1v1h-1M0 51h1v1h-1M9 51h1v1h-1M11 51h1v1h-1M14 51h1v1h-1M34 51h1v1h-1M37 51h1v1h-1M46 51h1v1h-1M51 51h1v1h-1M54 51h1v1h-1M57 51h1v1h-1M61 51h1v1h-1M5 52h1v2h-1M23 52h1v2h-1M34 52h1v2h-1M66 52h1v2h-1M3 54h1v1h-1M15 54h1v1h-1M20 54h1v1h-1M22 54h1v1h-1M36 54h1v1h-1M43 54h1v1h-1M45 54h1v1h-1M0 55h1v1h-1M12 55h2v1h-2M21 55h1v1h-1M25 55h1v1h-1M29 55h2v1h-2M40 55h1v1h-1M47 55h1v1h-1M58 55h1v1h-1M66 55h1v1h-1M31 56h1v1h-1M40 56h1v1h-1M42 56h1v1h-1M57 56h1v1h-1M62 56h1v1h-1M64 56h1v1h-1M3 57h1v1h-1M25 57h1v1h-1M39 57h1v1h-1M44 57h1v1h-1M50 57h1v1h-1M8 58h1v2h-1M17 58h1v2h-1M26 58h1v2h-1M29 58h1v2h-1M31 58h1v2h-1M34 58h1v2h-1M40 58h1v2h-1M56 58h1v2h-1M58 58h1v2h-1M10 60h1v1h-1M16 60h1v1h-1M20 60h1v1h-1M44 60h1v1h-1M49 60h2v1h-2M57 60h2v1h-2M62 60h1v1h-1M65 60h1v1h-1M1 61h1v1h-1M10 61h1v1h-1M14 61h1v1h-1M22 61h1v1h-1M32 61h1v1h-1M34 61h2v1h-2M43 61h1v1h-1M46 61h1v1h-1M50 61h1v1h-1M4 62h1v1h-1M12 62h1v1h-1M16 62h1v1h-1M25 62h1v1h-1M27 62h1v1h-1M39 62h1v1h-1M41 62h1v1h-1M49 62h1v1h-1M56 62h1v1h-1M58 62h1v1h-1M28 63h1v1h-1M33 63h1v1h-1M50 63h1v1h-1M53 63h1v1h-1M57 63h2v1h-2M62 63h1v1h-1M16 64h1v2h-1M23 64h1v2h-1M25 64h1v2h-1M36 64h1v2h-1M40 64h1v2h-1M60 64h2v2h-2M65 64h1v2h-1M15 66h1v1h-1M29 66h1v1h-1M55 66h1v1h-1M57 66h1v1h-1M61 66h1v1h-1M0 67h1v1h-1M5 67h1v1h-1M14 67h1v1h-1M11 68h1v1h-1M18 68h2v1h-2M33 68h1v1h-1M35 68h1v1h-1M43 68h1v1h-1M49 68h2v1h-2M15 69h1v1h-1M18 69h1v1h-1M31 69h1v1h-1M34 69h1v1h-1M36 69h1v1h-1M54 69h1v1h-1M57 69h1v1h-1M59 69h1v1h-1M63 69h1v1h-1M3 70h1v2h-1M17 70h1v2h-1M23 70h1v2h-1M30 70h1v2h-1M36 70h1v2h-1M47 70h1v2h-1M54 70h1v2h-1M1 72h1v1h-1M8 72h2v1h-2M27 72h1v1h-1M37 72h1v1h-1M65 72h1v1h-1M8 73h1v1h-1M25 73h1v1h-1M30 73h1v1h-1M40 73h1v1h-1M48 73h1v1h-1M55 73h1v1h-1M64 73h1v1h-1M5 74h1v1h-1M7 74h1v1h-1M17 74h1v1h-1M23 74h1v1h-1M28 74h1v1h-1M11 75h1v1h-1M24 75h1v1h-1M35 75h1v1h-1M39 75h1v1h-1M43 75h1v1h-1M60 75h1v1h-1M4 76h1v2h-1M14 76h2v2h-2M23 76h1v2h-1M26 76h1v2h-1M30 76h1v2h-1M33 76h1v2h-1M43 76h1v2h-1M55 76h1v2h-1M61 76h1v2h-1"/><path fill="rgb(0,17,0)" d="M1 0h1v1h-1M3 0h1v1h-1M12 0h2v1h-2M19 0h1v1h-1M27 0h1v1h-1M31 0h1v1h-1M35 0h1v1h-1M46 0h1v1h-1M50 0h1v1h-1M59 0h1v1h-1M62 0h1v1h-1M65 0h2v1h-2M0 1h1v1h-1M18 1h1v1h-1M34 1h1v1h-1M40 1h2v1h-2M53 1h1v1h-1M66 1h1v1h-1M12 2h1v1h-1M15 2h1v1h-1M18 2h1v1h-1M29 2h1v1h-1M32 2h1v1h-1M62 2h1v1h-1M4 3h1v1h-1M10 3h1v1h-1M27 3h1v1h-1M35 3h2v1h-2M39 3h1v1h-1M41 3h1v1h-1M51 3h1v1h-1M6 4h1v2h-1M16 4h1v2h-1M22 4h1v2h-1M56 4h1v2h-1M11 6h1v1h-1M16 6h1v1h-1M23 6h1v1h-1M45 6h1v1h-1M53 6h1v1h-1M0 7h1v1h-1M19 7h2v1h-2M23 7h1v1h-1M32 7h1v1h-1M34 7h2v1h-2M42 7h1v1h-1M54 7h1v1h-1M58 7h1v1h-1M3 8h1v1h-1M17 8h1v1h-1M19 8h1v1h-1M23 8h1v1h-1M26 8h1v1h-1M37 8h1v1h-1M62 8h1v1h-1M1 9h1v1h-1M11 9h1v1h-1M20 9h1v1h-1M29 9h1v1h-1M31 9h1v1h-1M34 9h1v1h-1M37 9h1v1h-1M44 9h1v1h-1M53 9h1v1h-1M56 9h1v1h-1M62 9h1v1h-1M64 9h1v1h-1M1 10h3v2h-3M9 10h1v2h-1M36 10h1v2h-1M54 10h1v2h-1M58 10h1v2h-1M62 10h1v2h-1M8 12h1v1h-1M10 12h1v1h-1M12 12h1v1h-1M19 12h1v1h-1M22 12h1v1h-1M26 12h1v1h-1M34 12h1v1h-1M42 12h1v1h-1M48 12h1v1h-1M50 12h1v1h-1M60 12h1v1h-1M2 13h1v1h-1M7 13h1v1h-1M16 13h1v1h-1M36 13h1v1h-1M38 13h1v1h-1M42 13h1v1h-1M54 13h1v1h-1M4 14h1v1h-1M14 14h1v1h-1M44 14h1v1h-1M51 14h1v1h-1M66 14h1v1h-1M2 15h1v1h-1M21 15h1v1h-1M26 15h1v1h-1M33 15h1v1h-1M43 15h1v1h-1M58 15h1v1h-1M61 15h1v1h-1M65 15h1v1h-1M8 16h1v2h-1M10 16h1v2h-1M12 16h1v2h-1M22 16h1v2h-1M25 16h2v2h-2M30 16h1v2h-1M39 16h1v2h-1M44 16h1v2h-1M49 16h1v2h-1M51 16h1v2h-1M59 16h1v2h-1M66 16h1v2h-1M13 18h1v1h-1M28 18h1v1h-1M35 18h1v1h-1M37 18h1v1h-1M46 18h1v1h-1M56 18h1v1h-1M59 18h1v1h-1M63 18h1v1h-1M18 19h1v1h-1M21 19h1v1h-1M29 19h1v1h-1M37 19h1v1h-1M48 19h1v1h-1M51 19h1v1h-1M58 19h1v1h-1M61 19h1v1h-1M3 20h2v1h-2M7 20h1v1h-1M9 20h1v1h-1M17 20h1v1h-1M23 20h1v1h-1M34 20h1v1h-1M37 20h1v1h-1M49 20h1v1h-1M54 20h1v1h-1M62 20h1v1h-1M1 21h1v1h-1M37 21h1v1h-1M50 21h1v1h-1M21 22h1v2h-1M36 22h1v2h-1M41 22h2v2h-2M63 22h2v2h-2M66 22h1v2h-1M9 24h1v1h-1M20 24h1v1h-1M34 24h1v1h-1M37 24h1v1h-1M56 24h1v1h-1M64 24h1v1h-1M2 25h1v1h-1M6 25h1v1h-1M9 25h1v1h-1M13 25h1v1h-1M16 25h1v1h-1M19 25h1v1h-1M24 25h1v1h-1M29 25h1v1h-1M44 25h1v1h-1M60 25h1v1h-1M63 25h1v1h-1M2 26h1v1h-1M19 26h1v1h-1M26 26h2v1h-2M39 26h1v1h-1M42 26h1v1h-1M3 27h1v1h-1M7 27h1v1h-1M16 27h1v1h-1M37 27h1v1h-1M47 27h1v1h-1M56 27h2v1h-2M59 27h1v1h-1M61 27h1v1h-1M63 27h2v1h-2M66 27h1v1h-1M16 28h1v2h-1M35 28h2v2h-2M47 28h1v2h-1M59 28h1v2h-1M65 28h1v2h-1M4 30h1v1h-1M9 30h1v1h-1M18 30h1v1h-1M25 30h1v1h-1M41 30h1v1h-1M49 30h1v1h-1M6 31h2v1h-2M23 31h1v1h-1M38 31h1v1h-1M40 31h3v1h-3M60 31h1v1h-1M6 32h2v1h-2M12 32h1v1h-1M22 32h1v1h-1M25 32h1v1h-1M29 32h1v1h-1M35 32h1v1h-1M49 32h1v1h-1M56 32h1v1h-1M59 32h1v1h-1M65 32h1v1h-1M7 33h1v1h-1M10 33h1v1h-1M12 33h1v1h-1M14 33h1v1h-1M16 33h1v1h-1M18 33h1v1h-1M27 33h1v1h-1M30 33h2v1h-2M41 33h1v1h-1M46 33h1v1h-1M58 33h1v1h-1M1 34h1v2h-1M16 34h2v2h-2M29 34h1v2h-1M31 34h1v2h-1M37 34h1v2h-1M44 34h1v2h-1M50 34h1v2h-1M53 34h1v2h-1M56 34h1v2h-1M58 34h1v2h-1M22 36h1v1h-1M24 36h2v1h-2M38 36h1v1h-1M54 36h1v1h-1M66 36h1v1h-1M6 37h1v1h-1M12 37h1v1h-1M16 37h1v1h-1M23 37h1v1h-1M33 37h1v1h-1M38 37h1v1h-1M40 37h1v1h-1M45 37h1v1h-1M48 37h1v1h-1M58 37h1v1h-1M17 38h2v1h-2M46 38h1v1h-1M49 38h1v1h-1M52 38h3v1h-3M62 38h1v1h-1M0 39h3v1h-3M6 39h1v1h-1M9 39h2v1h-2M13 39h1v1h-1M15 39h1v1h-1M23 39h1v1h-1M30 39h1v1h-1M32 39h1v1h-1M48 39h1v1h-1M5 40h1v2h-1M10 40h1v2h-1M17 40h1v2h-1M36 40h1v2h-1M38 40h1v2h-1M46 40h1v2h-1M59 40h1v2h-1M65 40h1v2h-1M7 42h1v1h-1M15 42h1v1h-1M20 42h2v1h-2M26 42h1v1h-1M29 42h1v1h-1M35 42h2v1h-2M40 42h1v1h-1M53 42h1v1h-1M5 43h1v1h-1M11 43h1v1h-1M15 43h1v1h-1M37 43h1v1h-1M45 43h1v1h-1M4 44h1v1h-1M14 44h1v1h-1M51 44h1v1h-1M55 44h1v1h-1M62 44h1v1h-1M64 44h1v1h-1M9 45h1v1h-1M17 45h1v1h-1M19 45h1v1h-1M24 45h1v1h-1M28 45h2v1h-2M51 45h1v1h-1M59 45h2v1h-2M5 46h1v2h-1M21 46h1v2h-1M39 46h1v2h-1M42 46h1v2h-1M48 46h1v2h-1M55 46h2v2h-2M61 46h1v2h-1M63 46h1v2h-1M4 48h1v1h-1M7 48h1v1h-1M13 48h1v1h-1M19 48h1v1h-1M24 48h1v1h-1M45 48h1v1h-1M47 48h1v1h-1M64 48h1v1h-1M4 49h1v1h-1M7 49h1v1h-1M24 49h1v1h-1M27 49h2v1h-2M63 49h1v1h-1M0 50h1v1h-1M3 50h1v1h-1M9 50h1v1h-1M11 50h1v1h-1M16 50h1v1h-1M20 50h3v1h-3M34 50h1v1h-1M37 50h1v1h-1M55 50h1v1h-1M61 50h1v1h-1M25 51h1v1h-1M38 51h1v1h-1M44 51h1v1h-1M49 51h1v1h-1M59 51h1v1h-1M4 52h1v2h-1M8 52h1v2h-1M22 52h1v2h-1M25 52h2v2h-2M30 52h1v2h-1M33 52h1v2h-1M44 52h1v2h-1M47 52h1v2h-1M11 54h1v1h-1M14 54h1v1h-1M29 54h1v1h-1M38 54h1v1h-1M59 54h1v1h-1M7 55h1v1h-1M10 55h2v1h-2M15 55h1v1h-1M17 55h1v1h-1M23 55h1v1h-1M39 55h1v1h-1M44 55h1v1h-1M6 56h1v1h-1M13 56h1v1h-1M18 56h1v1h-1M36 56h1v1h-1M43 56h1v1h-1M9 57h1v1h-1M30 57h1v1h-1M36 57h1v1h-1M52 57h1v1h-1M65 57h1v1h-1M10 58h1v2h-1M35 58h1v2h-1M6 60h1v1h-1M13 60h1v1h-1M23 60h1v1h-1M26 60h1v1h-1M43 60h1v1h-1M52 60h1v1h-1M54 60h1v1h-1M27 61h1v1h-1M37 61h1v1h-1M52 61h1v1h-1M55 61h1v1h-1M19 62h1v1h-1M22 62h1v1h-1M30 62h1v1h-1M47 62h1v1h-1M50 62h1v1h-1M57 62h1v1h-1M59 62h2v1h-2M3 63h1v1h-1M18 63h1v1h-1M26 63h2v1h-2M61 63h1v1h-1M5 64h1v2h-1M9 64h1v2h-1M20 64h1v2h-1M24 64h1v2h-1M45 64h1v2h-1M49 64h1v2h-1M52 64h1v2h-1M3 66h1v1h-1M17 66h1v1h-1M23 66h1v1h-1M35 66h1v1h-1M37 66h1v1h-1M45 66h2v1h-2M62 66h1v1h-1M9 67h1v1h-1M15 67h1v1h-1M26 67h2v1h-2M31 67h1v1h-1M44 67h1v1h-1M50 67h1v1h-1M58 67h1v1h-1M64 67h1v1h-1M66 67h1v1h-1M0 68h1v1h-1M4 68h2v1h-2M21 68h1v1h-1M29 68h1v1h-1M32 68h1v1h-1M47 68h1v1h-1M65 68h1v1h-1M2 69h1v1h-1M6 69h1v1h-1M12 69h1v1h-1M37 69h1v1h-1M6 70h1v2h-1M29 70h1v2h-1M37 70h1v2h-1M24 72h1v1h-1M32 72h1v1h-1M39 72h1v1h-1M50 72h1v1h-1M55 72h1v1h-1M62 72h2v1h-2M3 73h1v1h-1M10 73h1v1h-1M16 73h1v1h-1M63 73h1v1h-1M6 74h1v1h-1M11 74h1v1h-1M27 74h1v1h-1M59 74h1v1h-1M61 74h1v1h-1M7 75h1v1h-1M27 75h1v1h-1M29 75h1v1h-1M42 75h1v1h-1M46 75h1v1h-1M59 75h1v1h-1M1 76h1v2h-1M10 76h1v2h-1M16 76h1v2h-1M41 76h1v2h-1M49 76h1v2h-1"/><path fill="rgb(0,26,0)" d="M22 0h1v1h-1M33 0h1v1h-1M39 0h1v1h-1M47 0h1v1h-1M57 0h1v1h-1M2 1h2v1h-2M14 1h1v1h-1M30 1h1v1h-1M33 1h1v1h-1M45 1h2v1h-2M52 1h1v1h-1M61 1h1v1h-1M1 2h2v1h-2M6 2h1v1h-1M19 2h1v1h-1M27 2h1v1h-1M40 2h1v1h-1M44 2h1v1h-1M54 2h1v1h-1M64 2h1v1h-1M9 3h1v1h-1M16 3h1v1h-1M18 3h1v1h-1M32 3h1v1h-1M42 3h1v1h-1M45 3h1v1h-1M55 3h1v1h-1M63 3h1v1h-1M0 4h1v2h-1M13 4h1v2h-1M25 4h1v2h-1M44 4h2v2h-2M8 6h1v1h-1M18 6h1v1h-1M20 6h1v1h-1M40 6h1v1h-1M64 6h1v1h-1M3 7h1v1h-1M5 7h1v1h-1M7 7h1v1h-1M16 7h1v1h-1M25 7h1v1h-1M45 7h1v1h-1M51 7h1v1h-1M6 8h1v1h-1M14 8h1v1h-1M47 8h1v1h-1M7 9h1v1h-1M21 9h1v1h-1M24 9h1v1h-1M28 9h1v1h-1M41 9h2v1h-2M58 9h1v1h-1M23 10h1v2h-1M35 10h1v2h-1M4 12h1v1h-1M21 12h1v1h-1M51 12h1v1h-1M54 12h1v1h-1M0 13h1v1h-1M19 13h1v1h-1M27 13h1v1h-1M32 13h1v1h-1M43 13h1v1h-1M53 13h1v1h-1M66 13h1v1h-1M5 14h1v1h-1M21 14h1v1h-1M32 14h2v1h-2M36 14h1v1h-1M45 14h1v1h-1M11 15h1v1h-1M40 15h1v1h-1M45 15h1v1h-1M47 15h1v1h-1M21 16h1v2h-1M31 16h1v2h-1M54 16h1v2h-1M1 18h1v1h-1M4 18h1v1h-1M6 18h1v1h-1M16 18h1v1h-1M29 18h1v1h-1M32 18h1v1h-1M42 18h1v1h-1M51 18h1v1h-1M61 18h1v1h-1M12 19h2v1h-2M35 19h1v1h-1M39 19h1v1h-1M44 19h2v1h-2M52 19h1v1h-1M56 19h1v1h-1M66 19h1v1h-1M14 20h1v1h-1M19 20h1v1h-1M47 20h1v1h-1M53 20h1v1h-1M9 21h1v1h-1M17 21h1v1h-1M19 21h1v1h-1M24 21h1v1h-1M33 21h1v1h-1M35 21h1v1h-1M41 21h1v1h-1M46 21h1v1h-1M57 21h1v1h-1M13 22h1v2h-1M16 22h3v2h-3M45 22h1v2h-1M50 22h1v2h-1M59 22h1v2h-1M7 24h1v1h-1M12 24h2v1h-2M17 24h1v1h-1M21 24h1v1h-1M62 24h1v1h-1M11 25h1v1h-1M50 25h1v1h-1M20 26h2v1h-2M29 26h1v1h-1M31 26h1v1h-1M37 26h1v1h-1M6 27h1v1h-1M17 27h2v1h-2M21 27h2v1h-2M55 27h1v1h-1M5 28h1v2h-1M18 28h2v2h-2M41 28h1v2h-1M52 28h1v2h-1M16 30h1v1h-1M62 30h1v1h-1M2 31h1v1h-1M50 31h2v1h-2M54 31h1v1h-1M66 31h1v1h-1M13 32h1v1h-1M21 32h1v1h-1M30 32h1v1h-1M41 32h1v1h-1M58 32h1v1h-1M66 32h1v1h-1M5 33h1v1h-1M23 33h1v1h-1M26 33h1v1h-1M36 33h1v1h-1M44 33h1v1h-1M47 33h2v1h-2M52 33h1v1h-1M60 33h1v1h-1M66 33h1v1h-1M10 34h1v2h-1M30 34h1v2h-1M41 34h1v2h-1M45 34h1v2h-1M5 36h1v1h-1M17 36h2v1h-2M30 36h1v1h-1M43 36h1v1h-1M48 36h1v1h-1M53 36h1v1h-1M56 36h1v1h-1M60 36h1v1h-1M2 37h1v1h-1M13 37h1v1h-1M21 37h1v1h-1M37 37h1v1h-1M12 38h1v1h-1M30 38h1v1h-1M44 38h1v1h-1M47 38h2v1h-2M45 39h1v1h-1M51 39h2v1h-2M55 39h1v1h-1M63 39h1v1h-1M11 40h1v2h-1M23 40h2v2h-2M43 40h1v2h-1M49 40h1v2h-1M52 40h1v2h-1M63 40h1v2h-1M18 42h1v1h-1M23 42h1v1h-1M59 42h1v1h-1M4 43h1v1h-1M10 43h1v1h-1M23 43h1v1h-1M31 43h1v1h-1M34 43h1v1h-1M57 43h1v1h-1M65 43h1v1h-1M9 44h1v1h-1M13 44h1v1h-1M25 44h1v1h-1M45 44h1v1h-1M8 45h1v1h-1M42 45h1v1h-1M4 46h1v2h-1M8 46h1v2h-1M17 46h1v2h-1M35 46h1v2h-1M43 46h1v2h-1M59 46h2v2h-2M3 48h1v1h-1M6 48h1v1h-1M28 48h1v1h-1M32 48h1v1h-1M46 48h1v1h-1M55 48h1v1h-1M57 48h1v1h-1M61 48h2v1h-2M2 49h1v1h-1M14 49h3v1h-3M39 49h2v1h-2M55 49h1v1h-1M6 50h2v1h-2M10 50h1v1h-1M39 50h1v1h-1M42 50h1v1h-1M59 50h1v1h-1M64 50h1v1h-1M18 51h1v1h-1M33 51h1v1h-1M48 51h1v1h-1M12 52h1v2h-1M21 52h1v2h-1M32 52h1v2h-1M35 52h1v2h-1M46 52h1v2h-1M50 52h1v2h-1M53 52h1v2h-1M65 52h1v2h-1M8 54h1v1h-1M23 54h1v1h-1M28 54h1v1h-1M32 54h1v1h-1M56 54h1v1h-1M4 55h1v1h-1M20 55h1v1h-1M33 55h1v1h-1M36 55h2v1h-2M42 55h1v1h-1M48 55h1v1h-1M54 55h1v1h-1M2 56h1v1h-1M32 56h2v1h-2M37 56h1v1h-1M6 57h2v1h-2M10 57h1v1h-1M21 57h1v1h-1M23 57h1v1h-1M46 57h1v1h-1M58 57h1v1h-1M64 57h1v1h-1M3 58h1v2h-1M18 58h1v2h-1M24 58h1v2h-1M28 58h1v2h-1M33 58h1v2h-1M1 60h1v1h-1M4 60h1v1h-1M30 60h1v1h-1M35 60h1v1h-1M45 60h1v1h-1M7 61h1v1h-1M16 61h1v1h-1M18 61h1v1h-1M23 61h1v1h-1M28 61h1v1h-1M30 61h1v1h-1M60 61h1v1h-1M13 62h1v1h-1M23 62h2v1h-2M31 62h1v1h-1M37 62h1v1h-1M52 62h1v1h-1M61 62h1v1h-1M4 63h1v1h-1M15 63h1v1h-1M39 63h1v1h-1M48 63h1v1h-1M56 63h1v1h-1M60 63h1v1h-1M0 64h1v2h-1M2 64h1v2h-1M11 64h1v2h-1M41 64h1v2h-1M43 64h2v2h-2M1 66h2v1h-2M6 66h1v1h-1M19 66h1v1h-1M21 66h1v1h-1M28 66h1v1h-1M48 66h1v1h-1M10 67h1v1h-1M29 67h1v1h-1M53 67h1v1h-1M57 67h1v1h-1M8 68h1v1h-1M37 68h1v1h-1M41 68h2v1h-2M48 68h1v1h-1M53 68h1v1h-1M57 68h1v1h-1M66 68h1v1h-1M8 69h1v1h-1M19 69h1v1h-1M27 69h1v1h-1M43 69h1v1h-1M45 69h1v1h-1M47 69h1v1h-1M53 69h1v1h-1M7 70h1v2h-1M9 70h1v2h-1M13 70h1v2h-1M34 70h1v2h-1M38 70h1v2h-1M41 70h2v2h-2M50 70h1v2h-1M60 70h2v2h-2M3 72h1v1h-1M25 72h1v1h-1M35 72h1v1h-1M38 72h1v1h-1M46 72h1v1h-1M6 73h1v1h-1M19 73h1v1h-1M21 73h1v1h-1M34 73h1v1h-1M36 73h1v1h-1M4 74h1v1h-1M13 74h1v1h-1M26 74h1v1h-1M33 74h1v1h-1M36 74h1v1h-1M39 74h1v1h-1M41 74h1v1h-1M54 74h1v1h-1M65 74h1v1h-1M10 75h1v1h-1M14 75h1v1h-1M2 76h1v2h-1M9 76h1v2h-1M11 76h1v2h-1M27 76h1v2h-1M40 76h1v2h-1M56 76h2v2h-2"/><path fill="rgb(0,34,0)" d="M14 0h1v1h-1M41 0h1v1h-1M54 0h1v1h-1M6 1h1v1h-1M11 1h1v1h-1M23 1h1v1h-1M37 1h1v1h-1M0 2h1v1h-1M3 2h1v1h-1M17 2h1v1h-1M39 2h1v1h-1M0 3h1v1h-1M2 3h2v1h-2M6 3h1v1h-1M26 3h1v1h-1M37 3h1v1h-1M10 4h1v2h-1M14 4h2v2h-2M20 4h1v2h-1M23 4h1v2h-1M38 4h1v2h-1M58 4h1v2h-1M60 4h1v2h-1M64 4h2v2h-2M2 6h1v1h-1M4 6h1v1h-1M14 6h1v1h-1M27 6h1v1h-1M29 6h1v1h-1M39 6h1v1h-1M42 6h1v1h-1M55 6h1v1h-1M61 6h1v1h-1M63 6h1v1h-1M65 6h1v1h-1M2 7h1v1h-1M12 7h1v1h-1M30 7h1v1h-1M37 7h1v1h-1M39 7h1v1h-1M43 7h1v1h-1M48 7h1v1h-1M5 8h1v1h-1M11 8h1v1h-1M16 8h1v1h-1M20 8h1v1h-1M22 8h1v1h-1M25 8h1v1h-1M28 8h2v1h-2M31 8h1v1h-1M42 8h1v1h-1M45 8h1v1h-1M50 8h1v1h-1M52 8h1v1h-1M57 8h1v1h-1M66 8h1v1h-1M16 9h1v1h-1M27 9h1v1h-1M57 9h1v1h-1M18 10h1v2h-1M26 10h1v2h-1M33 10h1v2h-1M43 10h1v2h-1M57 10h1v2h-1M29 12h2v1h-2M33 12h1v1h-1M47 12h1v1h-1M20 13h1v1h-1M23 13h1v1h-1M26 13h1v1h-1M35 13h1v1h-1M41 13h1v1h-1M48 13h1v1h-1M56 13h1v1h-1M49 14h1v1h-1M64 14h1v1h-1M4 15h1v1h-1M14 15h1v1h-1M16 15h1v1h-1M41 15h1v1h-1M46 15h1v1h-1M51 15h1v1h-1M32 16h1v2h-1M36 16h1v2h-1M41 16h1v2h-1M46 16h1v2h-1M52 16h1v2h-1M60 16h1v2h-1M12 18h1v1h-1M23 18h1v1h-1M36 18h1v1h-1M38 18h1v1h-1M40 18h1v1h-1M9 19h1v1h-1M15 19h2v1h-2M43 19h1v1h-1M55 19h1v1h-1M63 19h1v1h-1M1 20h1v1h-1M11 20h1v1h-1M25 20h1v1h-1M60 20h2v1h-2M66 20h1v1h-1M7 21h1v1h-1M12 21h1v1h-1M20 21h2v1h-2M43 21h1v1h-1M62 21h1v1h-1M4 22h2v2h-2M7 22h1v2h-1M20 22h1v2h-1M29 22h2v2h-2M32 22h1v2h-1M51 22h2v2h-2M16 24h1v1h-1M29 24h1v1h-1M42 24h1v1h-1M49 24h1v1h-1M54 24h2v1h-2M38 25h1v1h-1M1 26h1v1h-1M4 26h1v1h-1M23 26h1v1h-1M32 26h1v1h-1M64 26h1v1h-1M5 27h1v1h-1M8 27h1v1h-1M24 27h1v1h-1M34 27h2v1h-2M44 27h1v1h-1M49 27h1v1h-1M10 28h1v2h-1M13 28h1v2h-1M56 28h1v2h-1M60 28h1v2h-1M2 30h1v1h-1M42 30h1v1h-1M46 30h1v1h-1M50 30h1v1h-1M55 30h1v1h-1M58 30h1v1h-1M60 30h1v1h-1M13 31h1v1h-1M31 31h1v1h-1M47 31h1v1h-1M10 32h1v1h-1M15 32h1v1h-1M20 32h1v1h-1M62 32h3v1h-3M2 33h1v1h-1M32 33h1v1h-1M39 33h1v1h-1M3 34h1v2h-1M28 34h1v2h-1M34 34h1v2h-1M36 34h1v2h-1M43 34h1v2h-1M47 34h1v2h-1M54 34h1v2h-1M9 36h1v1h-1M20 36h1v1h-1M34 36h1v1h-1M4 37h1v1h-1M7 37h1v1h-1M15 37h1v1h-1M22 37h1v1h-1M27 37h1v1h-1M31 37h2v1h-2M35 37h1v1h-1M60 37h1v1h-1M65 37h1v1h-1M2 38h1v1h-1M13 38h2v1h-2M22 38h1v1h-1M42 38h1v1h-1M60 38h1v1h-1M3 39h1v1h-1M20 39h2v1h-2M37 39h1v1h-1M6 40h2v2h-2M55 40h1v2h-1M3 42h1v1h-1M6 42h1v1h-1M11 42h1v1h-1M14 42h1v1h-1M16 42h1v1h-1M19 42h1v1h-1M24 42h1v1h-1M33 42h1v1h-1M52 42h1v1h-1M54 42h1v1h-1M12 43h2v1h-2M21 43h1v1h-1M51 43h1v1h-1M59 43h1v1h-1M61 43h1v1h-1M63 43h1v1h-1M33 44h3v1h-3M37 44h1v1h-1M39 44h1v1h-1M46 44h1v1h-1M50 44h1v1h-1M66 44h1v1h-1M18 45h1v1h-1M20 45h1v1h-1M40 45h1v1h-1M52 45h1v1h-1M2 46h1v2h-1M10 46h2v2h-2M22 46h1v2h-1M24 46h1v2h-1M27 46h1v2h-1M47 46h1v2h-1M64 46h1v2h-1M9 48h1v1h-1M21 48h1v1h-1M23 48h1v1h-1M5 49h1v1h-1M25 49h1v1h-1M44 49h1v1h-1M59 49h2v1h-2M1 50h1v1h-1M18 50h1v1h-1M40 50h1v1h-1M8 51h1v1h-1M15 51h2v1h-2M32 51h1v1h-1M0 52h1v2h-1M9 52h1v2h-1M15 52h1v2h-1M20 52h1v2h-1M27 52h1v2h-1M59 52h1v2h-1M1 54h1v1h-1M24 54h1v1h-1M26 54h1v1h-1M34 54h2v1h-2M39 54h1v1h-1M50 54h1v1h-1M60 54h1v1h-1M66 54h1v1h-1M1 55h1v1h-1M9 55h1v1h-1M27 55h1v1h-1M41 55h1v1h-1M49 55h1v1h-1M51 55h1v1h-1M57 55h1v1h-1M62 55h1v1h-1M5 56h1v1h-1M25 56h1v1h-1M28 56h1v1h-1M41 56h1v1h-1M59 56h1v1h-1M63 56h1v1h-1M0 57h2v1h-2M26 57h1v1h-1M33 57h1v1h-1M43 57h1v1h-1M47 57h1v1h-1M59 57h1v1h-1M23 58h1v2h-1M38 58h1v2h-1M45 58h1v2h-1M33 60h1v1h-1M56 60h1v1h-1M66 60h1v1h-1M19 61h1v1h-1M36 61h1v1h-1M40 61h1v1h-1M3 62h1v1h-1M5 62h1v1h-1M18 62h1v1h-1M1 63h1v1h-1M35 63h1v1h-1M52 63h1v1h-1M55 63h1v1h-1M1 64h1v2h-1M8 64h1v2h-1M22 64h1v2h-1M50 64h1v2h-1M56 64h1v2h-1M0 66h1v1h-1M4 66h2v1h-2M24 66h1v1h-1M49 66h1v1h-1M53 66h1v1h-1M4 67h1v1h-1M12 67h1v1h-1M19 67h1v1h-1M41 67h1v1h-1M9 68h1v1h-1M11 69h1v1h-1M25 69h1v1h-1M35 69h1v1h-1M42 69h1v1h-1M66 69h1v1h-1M16 70h1v2h-1M21 70h1v2h-1M5 72h1v1h-1M7 72h1v1h-1M15 72h1v1h-1M20 72h1v1h-1M31 72h1v1h-1M34 72h1v1h-1M47 72h1v1h-1M13 73h1v1h-1M20 73h1v1h-1M23 73h1v1h-1M31 73h1v1h-1M41 73h1v1h-1M59 73h1v1h-1M62 73h1v1h-1M8 74h1v1h-1M12 74h1v1h-1M24 74h1v1h-1M37 74h1v1h-1M21 75h1v1h-1M25 75h1v1h-1M34 75h1v1h-1M58 75h1v1h-1M3 76h1v2h-1M24 76h1v2h-1M36 76h1v2h-1M44 76h1v2h-1M48 76h1v2h-1"/><path fill="rgb(0,42,0)" d="M7 0h1v1h-1M24 0h1v1h-1M42 0h1v1h-1M55 0h1v1h-1M61 0h1v1h-1M25 1h1v1h-1M31 1h1v1h-1M36 1h1v1h-1M60 1h1v1h-1M8 2h1v1h-1M16 2h1v1h-1M24 2h1v1h-1M30 2h1v1h-1M43 2h1v1h-1M47 2h1v1h-1M61 2h1v1h-1M19 3h1v1h-1M34 3h1v1h-1M8 4h1v2h-1M11 4h1v2h-1M29 4h1v2h-1M34 4h1v2h-1M54 4h1v2h-1M66 4h1v2h-1M19 6h1v1h-1M22 6h1v1h-1M32 6h1v1h-1M43 6h1v1h-1M60 6h1v1h-1M66 6h1v1h-1M21 7h1v1h-1M33 7h1v1h-1M36 7h1v1h-1M55 7h1v1h-1M65 7h1v1h-1M24 8h1v1h-1M38 8h1v1h-1M51 8h1v1h-1M23 9h1v1h-1M16 10h1v2h-1M22 10h1v2h-1M28 10h1v2h-1M31 10h1v2h-1M45 10h1v2h-1M65 10h1v2h-1M1 12h1v1h-1M31 12h1v1h-1M58 12h1v1h-1M14 13h1v1h-1M21 13h1v1h-1M45 13h2v1h-2M64 13h1v1h-1M11 14h1v1h-1M17 14h1v1h-1M29 14h1v1h-1M54 14h1v1h-1M8 15h1v1h-1M23 15h1v1h-1M32 15h1v1h-1M53 15h2v1h-2M56 15h1v1h-1M62 15h1v1h-1M2 16h1v2h-1M9 16h1v2h-1M14 16h1v2h-1M16 16h1v2h-1M19 16h1v2h-1M34 16h1v2h-1M45 16h1v2h-1M58 16h1v2h-1M17 18h1v1h-1M49 18h1v1h-1M58 18h1v1h-1M11 19h1v1h-1M17 19h1v1h-1M24 19h1v1h-1M40 19h2v1h-2M49 19h1v1h-1M15 20h1v1h-1M18 20h1v1h-1M28 20h2v1h-2M40 20h1v1h-1M63 20h1v1h-1M26 21h1v1h-1M53 22h1v2h-1M58 22h1v2h-1M2 24h1v1h-1M10 24h1v1h-1M15 24h1v1h-1M19 24h1v1h-1M7 25h1v1h-1M25 25h1v1h-1M33 25h1v1h-1M45 25h1v1h-1M48 25h2v1h-2M64 25h1v1h-1M35 26h2v1h-2M41 26h1v1h-1M51 26h1v1h-1M20 27h1v1h-1M4 28h1v2h-1M24 28h1v2h-1M46 28h1v2h-1M37 30h1v1h-1M47 30h1v1h-1M53 30h1v1h-1M59 30h1v1h-1M66 30h1v1h-1M3 31h1v1h-1M16 31h1v1h-1M27 31h1v1h-1M30 31h1v1h-1M24 32h1v1h-1M36 32h1v1h-1M39 32h1v1h-1M52 32h1v1h-1M8 33h1v1h-1M13 33h1v1h-1M28 33h2v1h-2M49 33h1v1h-1M21 34h1v2h-1M40 34h1v2h-1M3 36h1v1h-1M6 36h1v1h-1M33 36h1v1h-1M0 37h1v1h-1M34 37h1v1h-1M66 37h1v1h-1M21 38h1v1h-1M26 38h1v1h-1M39 38h1v1h-1M65 38h1v1h-1M38 39h1v1h-1M50 39h1v1h-1M53 39h1v1h-1M56 39h1v1h-1M19 40h1v2h-1M25 40h1v2h-1M44 40h1v2h-1M9 42h1v1h-1M27 42h1v1h-1M46 42h1v1h-1M64 42h1v1h-1M9 43h1v1h-1M24 43h1v1h-1M28 43h1v1h-1M55 43h1v1h-1M19 44h2v1h-2M42 44h1v1h-1M54 44h1v1h-1M61 44h1v1h-1M0 45h1v1h-1M15 45h1v1h-1M58 45h1v1h-1M41 46h1v2h-1M62 46h1v2h-1M22 48h1v1h-1M37 48h1v1h-1M63 48h1v1h-1M1 49h1v1h-1M47 49h1v1h-1M50 49h1v1h-1M58 49h1v1h-1M4 50h1v1h-1M1 51h1v1h-1M17 51h1v1h-1M22 51h1v1h-1M35 51h1v1h-1M50 51h1v1h-1M58 51h1v1h-1M2 52h1v2h-1M7 52h1v2h-1M31 52h1v2h-1M4 54h1v1h-1M17 54h1v1h-1M61 54h2v1h-2M3 55h1v1h-1M18 55h1v1h-1M26 55h1v1h-1M52 55h1v1h-1M0 56h1v1h-1M16 56h1v1h-1M24 56h1v1h-1M29 56h1v1h-1M34 56h1v1h-1M47 56h1v1h-1M61 56h1v1h-1M13 57h2v1h-2M34 57h1v1h-1M37 57h2v1h-2M48 57h2v1h-2M61 57h1v1h-1M19 58h1v2h-1M37 58h1v2h-1M51 58h1v2h-1M53 58h1v2h-1M64 58h1v2h-1M5 60h1v1h-1M12 60h1v1h-1M48 61h1v1h-1M53 61h1v1h-1M0 62h1v1h-1M14 62h1v1h-1M33 62h1v1h-1M44 62h1v1h-1M64 62h1v1h-1M66 62h1v1h-1M11 63h1v1h-1M12 64h1v2h-1M19 64h1v2h-1M21 64h1v2h-1M30 64h2v2h-2M33 66h1v1h-1M36 66h1v1h-1M44 66h1v1h-1M60 66h1v1h-1M13 67h1v1h-1M20 67h1v1h-1M51 67h1v1h-1M15 68h1v1h-1M54 68h1v1h-1M64 68h1v1h-1M28 69h1v1h-1M51 69h1v1h-1M55 69h1v1h-1M64 69h1v1h-1M4 70h1v2h-1M49 70h1v2h-1M59 70h1v2h-1M64 70h1v2h-1M2 72h1v1h-1M43 72h1v1h-1M60 72h1v1h-1M22 73h1v1h-1M43 73h1v1h-1M65 73h1v1h-1M3 74h1v1h-1M15 74h1v1h-1M25 74h1v1h-1M46 74h1v1h-1M55 74h1v1h-1M62 74h1v1h-1M66 74h1v1h-1M15 75h1v1h-1M33 75h1v1h-1M36 75h1v1h-1M61 75h1v1h-1M63 75h1v1h-1M58 76h1v2h-1"/><path fill="rgb(0,51,0)" d="M5 0h1v1h-1M16 0h1v1h-1M38 0h1v1h-1M40 0h1v1h-1M16 1h1v1h-1M14 2h1v1h-1M45 2h1v1h-1M19 4h1v2h-1M41 4h1v2h-1M51 4h1v2h-1M61 7h1v1h-1M12 8h1v1h-1M35 8h1v1h-1M36 9h1v1h-1M65 9h1v1h-1M25 10h1v2h-1M46 10h1v2h-1M52 10h1v2h-1M13 12h1v1h-1M33 13h1v1h-1M47 13h1v1h-1M12 14h1v1h-1M48 14h1v1h-1M31 15h1v1h-1M6 16h1v2h-1M7 18h1v1h-1M3 19h1v1h-1M6 19h1v1h-1M22 19h1v1h-1M33 19h1v1h-1M47 19h1v1h-1M59 19h1v1h-1M36 20h1v1h-1M44 20h1v1h-1M8 21h1v1h-1M34 21h1v1h-1M44 21h1v1h-1M64 21h1v1h-1M6 22h1v2h-1M14 22h1v2h-1M24 22h1v2h-1M47 22h2v2h-2M32 24h1v1h-1M40 24h2v1h-2M26 25h1v1h-1M37 25h1v1h-1M59 25h1v1h-1M0 26h1v1h-1M16 26h1v1h-1M47 26h1v1h-1M53 26h1v1h-1M30 27h1v1h-1M32 27h1v1h-1M43 27h1v1h-1M21 30h1v1h-1M27 30h1v1h-1M38 30h1v1h-1M15 31h1v1h-1M17 31h1v1h-1M35 31h1v1h-1M56 31h1v1h-1M61 31h1v1h-1M64 31h1v1h-1M26 32h1v1h-1M25 33h1v1h-1M34 33h2v1h-2M37 33h1v1h-1M4 36h1v1h-1M10 36h1v1h-1M3 37h1v1h-1M9 37h1v1h-1M25 37h1v1h-1M49 37h1v1h-1M55 37h1v1h-1M61 37h1v1h-1M10 38h1v1h-1M28 38h1v1h-1M31 40h1v2h-1M53 40h1v2h-1M1 42h1v1h-1M45 42h1v1h-1M16 43h1v1h-1M20 43h1v1h-1M25 43h1v1h-1M33 43h1v1h-1M17 44h1v1h-1M9 46h1v2h-1M25 46h1v2h-1M34 46h1v2h-1M58 46h1v2h-1M0 48h1v1h-1M14 48h1v1h-1M27 48h1v1h-1M66 48h1v1h-1M42 49h1v1h-1M48 49h1v1h-1M57 49h1v1h-1M5 50h1v1h-1M15 50h1v1h-1M32 50h1v1h-1M35 50h1v1h-1M44 50h1v1h-1M53 50h1v1h-1M10 51h1v1h-1M27 51h1v1h-1M52 51h1v1h-1M65 51h2v1h-2M11 52h1v2h-1M43 52h1v2h-1M48 52h1v2h-1M42 54h1v1h-1M2 55h1v1h-1M30 56h1v1h-1M38 56h1v1h-1M66 56h1v1h-1M28 57h1v1h-1M35 57h1v1h-1M53 57h1v1h-1M66 57h1v1h-1M1 58h1v2h-1M4 58h1v2h-1M6 58h1v2h-1M43 58h1v2h-1M66 58h1v2h-1M31 60h1v1h-1M39 60h1v1h-1M41 60h1v1h-1M60 60h1v1h-1M26 61h1v1h-1M31 61h1v1h-1M33 61h1v1h-1M58 61h2v1h-2M5 63h1v1h-1M22 63h1v1h-1M41 63h1v1h-1M65 63h1v1h-1M29 64h1v2h-1M55 64h1v2h-1M66 64h1v2h-1M16 67h1v1h-1M20 68h1v1h-1M0 69h1v1h-1M20 69h1v1h-1M50 69h1v1h-1M43 70h1v2h-1M6 72h1v1h-1M18 73h1v1h-1M9 74h2v1h-2M40 74h1v1h-1M4 75h1v1h-1M8 75h1v1h-1M13 75h1v1h-1M6 76h1v2h-1M25 76h1v2h-1M60 76h1v2h-1"/><path fill="rgb(0,60,0)" d="M43 1h1v1h-1M54 1h1v1h-1M12 3h1v1h-1M5 4h1v2h-1M21 4h1v2h-1M48 4h1v2h-1M53 7h1v1h-1M56 12h1v1h-1M25 14h1v1h-1M30 19h1v1h-1M54 19h1v1h-1M52 20h1v1h-1M13 21h1v1h-1M63 24h1v1h-1M39 25h1v1h-1M11 28h2v2h-2M20 28h1v2h-1M10 30h1v1h-1M56 30h1v1h-1M11 31h1v1h-1M5 32h1v1h-1M5 34h1v2h-1M14 36h1v1h-1M28 36h1v1h-1M49 36h1v1h-1M57 37h1v1h-1M45 38h1v1h-1M57 39h1v1h-1M33 40h1v2h-1M41 40h1v2h-1M3 44h1v1h-1M12 44h1v1h-1M15 48h1v1h-1M43 48h1v1h-1M0 49h1v1h-1M37 49h1v1h-1M26 51h1v1h-1M18 52h1v2h-1M64 55h1v1h-1M2 57h1v1h-1M12 57h1v1h-1M13 58h1v2h-1M20 58h1v2h-1M28 60h1v1h-1M2 61h1v1h-1M12 61h1v1h-1M10 62h1v1h-1M2 63h1v1h-1M45 63h1v1h-1M27 64h1v2h-1M25 66h1v1h-1M42 67h2v1h-2M2 68h1v1h-1M30 68h1v1h-1M39 68h1v1h-1M26 70h1v2h-1M4 72h1v1h-1M61 72h1v1h-1M5 73h1v1h-1M33 73h1v1h-1M51 73h1v1h-1M52 74h1v1h-1M12 75h1v1h-1M32 75h1v1h-1"/><path fill="rgb(0,68,0)" d="M21 1h1v1h-1M64 1h1v1h-1M58 8h1v1h-1M52 12h1v1h-1M44 13h1v1h-1M64 16h1v2h-1M65 22h1v2h-1M52 24h1v1h-1M45 27h1v1h-1M33 30h1v1h-1M28 37h1v1h-1M47 42h1v1h-1M51 42h1v1h-1M35 43h1v1h-1M47 50h1v1h-1M56 50h1v1h-1M29 52h1v2h-1M51 57h1v1h-1M11 62h1v1h-1M61 68h1v1h-1M1 73h1v1h-1"/><path fill="rgb(0,76,0)" d="M62 37h1v1h-1M8 55h1v1h-1"/></g></pattern>
<pattern id="nA2" width="59" height="66" patternUnits="userSpaceOnUse" patternTransform="translate(81,59)"><g shape-rendering="crispEdges"><path fill="rgb(0,0,110)" d="M2 27h1v1h-1"/><path fill="rgb(0,0,76)" d="M21 4h1v2h-1"/><path fill="rgb(0,0,68)" d="M41 13h1v1h-1M42 14h1v1h-1M20 19h1v1h-1M29 27h1v1h-1M2 55h1v1h-1M15 56h1v1h-1"/><path fill="rgb(0,0,60)" d="M24 0h1v1h-1M39 6h1v1h-1M28 12h1v1h-1M14 13h1v1h-1M23 15h1v1h-1M28 19h1v1h-1M14 20h1v1h-1M17 26h1v1h-1M19 26h1v1h-1M20 28h1v2h-1M41 37h1v1h-1M6 44h1v1h-1M4 45h1v1h-1M44 45h1v1h-1M12 51h1v1h-1M58 54h1v1h-1M1 57h1v1h-1M21 57h1v1h-1M17 58h1v2h-1M32 64h1v2h-1"/><path fill="rgb(0,0,51)" d="M56 0h1v1h-1M56 3h1v1h-1M37 7h1v1h-1M0 9h1v1h-1M37 13h1v1h-1M31 15h1v1h-1M2 16h1v2h-1M21 16h1v2h-1M38 18h1v1h-1M11 24h1v1h-1M27 24h1v1h-1M58 27h1v1h-1M35 28h1v2h-1M49 28h1v2h-1M57 28h1v2h-1M34 31h1v1h-1M26 39h1v1h-1M40 39h1v1h-1M25 40h1v2h-1M39 42h1v1h-1M16 50h1v1h-1M41 50h1v1h-1M27 57h1v1h-1M46 58h1v2h-1M40 61h1v1h-1M21 62h1v1h-1M52 62h1v1h-1M58 62h1v1h-1M3 64h1v2h-1M38 64h1v2h-1"/><path fill="rgb(0,0,42)" d="M8 0h1v1h-1M43 1h1v1h-1M4 2h1v1h-1M16 2h1v1h-1M53 3h1v1h-1M48 7h1v1h-1M28 8h1v1h-1M53 8h1v1h-1M31 9h1v1h-1M23 13h1v1h-1M26 14h1v1h-1M48 14h1v1h-1M49 16h1v2h-1M53 16h1v2h-1M58 20h1v1h-1M48 21h1v1h-1M44 22h1v2h-1M20 25h1v1h-1M27 25h1v1h-1M42 25h1v1h-1M53 25h1v1h-1M30 26h1v1h-1M46 26h1v1h-1M30 27h1v1h-1M46 27h1v1h-1M32 36h1v1h-1M41 38h1v1h-1M55 38h1v1h-1M47 39h1v1h-1M16 43h1v1h-1M11 44h1v1h-1M38 44h1v1h-1M3 48h1v1h-1M55 49h1v1h-1M40 50h1v1h-1M53 50h1v1h-1M36 52h1v2h-1M26 55h1v1h-1M36 56h1v1h-1M42 56h1v1h-1M20 57h1v1h-1M25 57h1v1h-1M43 57h1v1h-1M45 57h1v1h-1M58 57h1v1h-1M55 60h1v1h-1M46 62h1v1h-1M56 63h1v1h-1M39 64h1v2h-1"/><path fill="rgb(0,0,34)" d="M21 0h1v1h-1M16 1h1v1h-1M18 1h1v1h-1M20 1h1v1h-1M25 1h1v1h-1M7 2h1v1h-1M17 3h1v1h-1M8 4h1v2h-1M15 4h1v2h-1M43 4h1v2h-1M13 6h1v1h-1M0 7h1v1h-1M3 7h1v1h-1M43 7h1v1h-1M50 7h1v1h-1M33 8h1v1h-1M39 8h1v1h-1M32 9h1v1h-1M39 9h1v1h-1M51 9h1v1h-1M38 10h1v2h-1M21 12h1v1h-1M26 12h1v1h-1M35 13h1v1h-1M8 14h1v1h-1M39 14h1v1h-1M8 16h1v2h-1M35 16h1v2h-1M19 18h1v1h-1M27 18h1v1h-1M3 19h1v1h-1M57 19h1v1h-1M19 20h1v1h-1M31 20h1v1h-1M57 20h1v1h-1M1 21h1v1h-1M20 21h1v1h-1M25 21h1v1h-1M26 25h1v1h-1M56 25h1v1h-1M8 26h1v1h-1M26 26h1v1h-1M38 26h1v1h-1M41 26h1v1h-1M41 27h1v1h-1M49 27h2v1h-2M27 32h1v1h-1M52 32h1v1h-1M58 32h1v1h-1M10 33h1v1h-1M36 33h1v1h-1M49 33h1v1h-1M16 34h1v2h-1M27 36h1v1h-1M35 36h1v1h-1M37 37h1v1h-1M20 40h1v2h-1M29 43h1v1h-1M34 43h1v1h-1M30 44h1v1h-1M24 45h1v1h-1M32 45h1v1h-1M37 45h1v1h-1M10 46h1v2h-1M24 48h1v1h-1M33 49h1v1h-1M49 49h1v1h-1M10 51h1v1h-1M56 52h1v2h-1M3 54h1v1h-1M18 54h1v1h-1M30 54h1v1h-1M38 55h1v1h-1M14 56h1v1h-1M0 57h1v1h-1M9 57h1v1h-1M19 57h1v1h-1M46 57h1v1h-1M36 60h1v1h-1M31 61h1v1h-1M27 62h1v1h-1M32 63h1v1h-1M40 63h1v1h-1M33 64h1v2h-1M42 64h1v2h-1"/><path fill="rgb(0,0,26)" d="M7 0h1v1h-1M12 0h1v1h-1M39 0h1v1h-1M0 1h1v1h-1M2 1h2v1h-2M15 1h1v1h-1M5 2h1v1h-1M15 2h1v1h-1M47 2h1v1h-1M16 3h1v1h-1M20 3h3v1h-3M32 3h2v1h-2M40 3h1v1h-1M43 3h1v1h-1M50 3h1v1h-1M31 4h1v2h-1M51 4h1v2h-1M15 6h1v1h-1M51 6h1v1h-1M31 7h1v1h-1M38 7h1v1h-1M15 8h1v1h-1M22 8h1v1h-1M29 9h1v1h-1M40 9h1v1h-1M43 9h1v1h-1M47 9h2v1h-2M52 9h1v1h-1M31 10h1v2h-1M58 10h1v2h-1M8 12h1v1h-1M19 12h1v1h-1M2 13h1v1h-1M40 13h1v1h-1M49 13h1v1h-1M34 14h1v1h-1M37 14h1v1h-1M40 14h1v1h-1M46 14h1v1h-1M50 14h1v1h-1M7 15h1v1h-1M10 15h1v1h-1M26 15h1v1h-1M28 15h1v1h-1M30 15h1v1h-1M6 16h1v2h-1M22 16h1v2h-1M48 16h1v2h-1M1 18h1v1h-1M4 18h1v1h-1M6 18h1v1h-1M13 18h1v1h-1M15 18h1v1h-1M21 18h1v1h-1M29 18h2v1h-2M48 18h1v1h-1M56 18h1v1h-1M7 19h1v1h-1M34 19h1v1h-1M45 19h1v1h-1M5 20h1v1h-1M18 20h1v1h-1M22 20h1v1h-1M25 20h1v1h-1M11 21h1v1h-1M44 21h1v1h-1M49 21h1v1h-1M8 22h1v2h-1M17 22h1v2h-1M20 22h1v2h-1M31 22h1v2h-1M9 24h1v1h-1M23 24h1v1h-1M44 24h1v1h-1M17 25h1v1h-1M25 25h1v1h-1M37 25h1v1h-1M54 25h1v1h-1M7 26h1v1h-1M12 28h1v2h-1M32 28h1v2h-1M14 30h1v1h-1M12 31h1v1h-1M7 32h1v1h-1M38 32h1v1h-1M42 33h1v1h-1M36 34h1v2h-1M14 36h1v1h-1M45 36h1v1h-1M3 37h1v1h-1M15 37h1v1h-1M23 37h1v1h-1M48 37h1v1h-1M12 38h1v1h-1M39 38h1v1h-1M29 39h1v1h-1M0 40h1v2h-1M12 40h1v2h-1M27 40h1v2h-1M9 42h1v1h-1M12 42h1v1h-1M21 42h1v1h-1M10 43h1v1h-1M18 43h1v1h-1M21 43h1v1h-1M30 43h1v1h-1M37 43h1v1h-1M53 43h1v1h-1M42 44h1v1h-1M38 45h1v1h-1M46 45h1v1h-1M50 45h1v1h-1M53 45h1v1h-1M22 46h1v2h-1M12 48h1v1h-1M41 48h1v1h-1M51 48h1v1h-1M0 49h1v1h-1M8 49h1v1h-1M19 49h1v1h-1M27 49h1v1h-1M32 49h1v1h-1M37 50h1v1h-1M46 50h1v1h-1M50 50h1v1h-1M15 52h1v2h-1M27 52h1v2h-1M52 52h1v2h-1M10 55h1v1h-1M19 55h1v1h-1M23 55h1v1h-1M28 55h1v1h-1M18 56h1v1h-1M23 56h1v1h-1M39 56h1v1h-1M8 57h1v1h-1M14 57h2v1h-2M14 58h2v2h-2M26 58h1v2h-1M31 58h1v2h-1M54 58h1v2h-1M42 60h1v1h-1M47 60h1v1h-1M25 61h1v1h-1M41 61h1v1h-1M10 62h1v1h-1M41 62h1v1h-1M48 62h1v1h-1M21 63h1v1h-1M49 63h1v1h-1M1 64h1v2h-1M7 64h1v2h-1M19 64h1v2h-1M35 64h1v2h-1M45 64h1v2h-1"/><path fill="rgb(0,0,17)" d="M16 0h1v1h-1M27 0h1v1h-1M31 0h1v1h-1M34 0h1v1h-1M49 0h1v1h-1M6 1h1v1h-1M13 1h1v1h-1M21 1h1v1h-1M35 1h1v1h-1M38 1h1v1h-1M48 1h1v1h-1M22 2h1v1h-1M25 2h1v1h-1M37 2h2v1h-2M41 2h1v1h-1M58 2h1v1h-1M9 3h1v1h-1M15 3h1v1h-1M30 3h1v1h-1M7 4h1v2h-1M20 4h1v2h-1M24 4h1v2h-1M39 4h1v2h-1M41 4h2v2h-2M52 4h1v2h-1M1 6h1v1h-1M5 6h1v1h-1M2 7h1v1h-1M46 7h1v1h-1M51 7h1v1h-1M1 8h1v1h-1M19 8h1v1h-1M32 8h1v1h-1M57 8h1v1h-1M8 9h1v1h-1M18 9h1v1h-1M8 10h1v2h-1M10 10h1v2h-1M12 10h1v2h-1M15 10h1v2h-1M54 10h1v2h-1M56 10h1v2h-1M20 12h1v1h-1M30 12h1v1h-1M49 12h1v1h-1M57 12h1v1h-1M20 13h1v1h-1M29 13h1v1h-1M53 13h2v1h-2M56 13h1v1h-1M0 14h1v1h-1M16 14h1v1h-1M28 14h1v1h-1M38 14h1v1h-1M25 15h1v1h-1M58 15h1v1h-1M4 16h1v2h-1M26 16h1v2h-1M28 16h1v2h-1M33 16h1v2h-1M40 16h1v2h-1M43 16h2v2h-2M57 16h1v2h-1M0 18h1v1h-1M14 18h1v1h-1M28 18h1v1h-1M47 18h1v1h-1M1 19h2v1h-2M19 19h1v1h-1M43 19h2v1h-2M52 19h1v1h-1M56 19h1v1h-1M1 20h2v1h-2M24 20h1v1h-1M30 21h1v1h-1M33 21h1v1h-1M40 21h1v1h-1M45 21h1v1h-1M53 21h1v1h-1M18 22h2v2h-2M23 22h1v2h-1M22 24h1v1h-1M26 24h1v1h-1M49 24h1v1h-1M57 24h1v1h-1M45 25h1v1h-1M6 26h1v1h-1M11 26h1v1h-1M31 26h1v1h-1M33 26h3v1h-3M43 26h1v1h-1M21 27h1v1h-1M24 27h1v1h-1M36 27h1v1h-1M42 27h1v1h-1M51 27h1v1h-1M29 28h1v2h-1M31 28h1v2h-1M43 28h1v2h-1M7 30h1v1h-1M26 30h1v1h-1M43 30h1v1h-1M56 30h1v1h-1M39 31h2v1h-2M48 31h1v1h-1M55 31h1v1h-1M3 32h1v1h-1M10 32h1v1h-1M18 32h1v1h-1M31 32h1v1h-1M1 33h1v1h-1M21 33h1v1h-1M30 33h1v1h-1M37 33h1v1h-1M51 33h1v1h-1M20 34h1v2h-1M52 34h1v2h-1M58 34h1v2h-1M11 36h1v1h-1M1 37h1v1h-1M8 37h1v1h-1M18 37h1v1h-1M20 37h1v1h-1M24 37h1v1h-1M38 37h1v1h-1M51 37h1v1h-1M56 37h1v1h-1M4 38h3v1h-3M9 38h2v1h-2M19 38h1v1h-1M24 38h1v1h-1M28 38h1v1h-1M35 38h2v1h-2M49 38h1v1h-1M13 39h1v1h-1M24 39h2v1h-2M30 39h1v1h-1M46 39h1v1h-1M57 39h2v1h-2M11 40h1v2h-1M43 40h2v2h-2M53 40h1v2h-1M56 40h2v2h-2M1 42h1v1h-1M47 42h1v1h-1M49 42h1v1h-1M53 42h1v1h-1M26 43h1v1h-1M31 43h1v1h-1M57 43h1v1h-1M9 44h1v1h-1M15 44h1v1h-1M36 44h1v1h-1M43 44h1v1h-1M54 44h1v1h-1M0 45h1v1h-1M10 45h1v1h-1M21 45h1v1h-1M35 45h1v1h-1M40 45h1v1h-1M42 45h1v1h-1M54 45h1v1h-1M58 45h1v1h-1M5 46h3v2h-3M19 46h1v2h-1M21 46h1v2h-1M27 46h1v2h-1M51 46h1v2h-1M14 48h1v1h-1M20 48h1v1h-1M27 48h1v1h-1M56 48h1v1h-1M6 49h1v1h-1M12 49h1v1h-1M20 49h1v1h-1M34 49h1v1h-1M48 49h1v1h-1M24 50h1v1h-1M36 50h1v1h-1M52 50h1v1h-1M7 51h1v1h-1M9 51h1v1h-1M17 51h1v1h-1M22 51h1v1h-1M45 51h1v1h-1M47 51h1v1h-1M56 51h1v1h-1M2 52h3v2h-3M8 52h1v2h-1M12 52h1v2h-1M25 52h1v2h-1M30 52h1v2h-1M33 52h1v2h-1M2 54h1v1h-1M16 54h1v1h-1M24 54h1v1h-1M29 54h1v1h-1M32 54h1v1h-1M53 54h1v1h-1M9 55h1v1h-1M12 55h1v1h-1M36 55h1v1h-1M42 55h1v1h-1M8 56h1v1h-1M10 56h1v1h-1M17 56h1v1h-1M19 56h1v1h-1M25 56h1v1h-1M30 56h1v1h-1M32 56h1v1h-1M41 56h1v1h-1M44 57h1v1h-1M12 58h1v2h-1M20 58h2v2h-2M23 58h1v2h-1M36 58h1v2h-1M58 58h1v2h-1M1 60h1v1h-1M5 60h1v1h-1M17 60h1v1h-1M48 60h1v1h-1M57 60h1v1h-1M9 61h2v1h-2M12 61h1v1h-1M33 61h1v1h-1M47 61h1v1h-1M12 63h1v1h-1M37 63h1v1h-1M47 63h1v1h-1M51 63h1v1h-1M55 63h1v1h-1M5 64h1v2h-1M30 64h1v2h-1M41 64h1v2h-1M43 64h2v2h-2M55 64h1v2h-1"/><path fill="rgb(0,0,8)" d="M5 0h1v1h-1M10 0h2v1h-2M17 0h1v1h-1M26 0h1v1h-1M32 0h2v1h-2M43 0h1v1h-1M57 0h1v1h-1M5 1h1v1h-1M17 1h1v1h-1M27 1h2v1h-2M42 1h1v1h-1M50 1h2v1h-2M56 1h1v1h-1M58 1h1v1h-1M1 2h2v1h-2M10 2h1v1h-1M12 2h1v1h-1M17 2h1v1h-1M31 2h1v1h-1M33 2h1v1h-1M35 2h1v1h-1M46 2h1v1h-1M56 2h2v1h-2M7 3h1v1h-1M13 3h1v1h-1M19 3h1v1h-1M24 3h1v1h-1M42 3h1v1h-1M52 3h1v1h-1M55 3h1v1h-1M14 4h1v2h-1M27 4h1v2h-1M47 4h1v2h-1M54 4h1v2h-1M6 6h1v1h-1M22 6h2v1h-2M27 6h1v1h-1M36 6h2v1h-2M42 6h1v1h-1M52 6h2v1h-2M55 6h1v1h-1M18 7h2v1h-2M29 7h1v1h-1M36 7h1v1h-1M49 7h1v1h-1M53 7h2v1h-2M0 8h1v1h-1M6 8h1v1h-1M9 8h2v1h-2M17 8h1v1h-1M20 8h1v1h-1M23 8h1v1h-1M30 8h1v1h-1M34 8h1v1h-1M38 8h1v1h-1M40 8h1v1h-1M46 8h1v1h-1M2 9h1v1h-1M5 9h1v1h-1M33 9h1v1h-1M37 9h2v1h-2M42 9h1v1h-1M53 9h1v1h-1M13 10h1v2h-1M19 10h1v2h-1M28 10h2v2h-2M37 10h1v2h-1M46 10h1v2h-1M57 10h1v2h-1M1 12h1v1h-1M12 12h1v1h-1M14 12h1v1h-1M25 12h1v1h-1M27 12h1v1h-1M42 12h1v1h-1M44 12h1v1h-1M50 12h1v1h-1M8 13h1v1h-1M11 13h3v1h-3M26 13h2v1h-2M58 13h1v1h-1M12 14h1v1h-1M27 14h1v1h-1M29 14h1v1h-1M31 14h2v1h-2M43 14h2v1h-2M53 14h1v1h-1M55 14h1v1h-1M1 15h1v1h-1M3 15h1v1h-1M9 15h1v1h-1M16 15h1v1h-1M18 15h1v1h-1M33 15h1v1h-1M51 15h1v1h-1M3 16h1v2h-1M13 16h1v2h-1M20 16h1v2h-1M30 16h1v2h-1M34 16h1v2h-1M38 16h1v2h-1M47 16h1v2h-1M51 16h2v2h-2M54 16h1v2h-1M49 18h1v1h-1M22 19h1v1h-1M37 19h1v1h-1M39 19h1v1h-1M41 19h2v1h-2M49 19h1v1h-1M55 19h1v1h-1M58 19h1v1h-1M10 20h1v1h-1M23 20h1v1h-1M28 20h1v1h-1M36 20h1v1h-1M39 20h2v1h-2M44 20h1v1h-1M2 21h1v1h-1M17 21h1v1h-1M19 21h1v1h-1M28 21h1v1h-1M41 21h1v1h-1M47 21h1v1h-1M56 21h1v1h-1M12 22h1v2h-1M16 22h1v2h-1M28 22h1v2h-1M38 22h1v2h-1M49 22h1v2h-1M56 22h1v2h-1M1 24h1v1h-1M3 24h1v1h-1M6 24h2v1h-2M13 24h1v1h-1M20 24h1v1h-1M28 24h2v1h-2M35 24h1v1h-1M51 24h1v1h-1M2 25h1v1h-1M8 25h1v1h-1M18 25h2v1h-2M21 25h1v1h-1M31 25h1v1h-1M44 25h1v1h-1M57 25h1v1h-1M2 26h1v1h-1M4 26h1v1h-1M21 26h1v1h-1M29 26h1v1h-1M39 26h1v1h-1M44 26h1v1h-1M49 26h3v1h-3M5 27h1v1h-1M7 27h2v1h-2M13 27h1v1h-1M17 27h1v1h-1M23 27h1v1h-1M25 27h1v1h-1M37 27h1v1h-1M44 27h1v1h-1M0 28h1v2h-1M10 28h1v2h-1M13 28h1v2h-1M21 28h1v2h-1M24 28h1v2h-1M26 28h1v2h-1M37 28h2v2h-2M40 28h1v2h-1M42 28h1v2h-1M47 28h1v2h-1M51 28h1v2h-1M56 28h1v2h-1M58 28h1v2h-1M2 30h1v1h-1M4 30h1v1h-1M15 30h1v1h-1M25 30h1v1h-1M28 30h1v1h-1M34 30h1v1h-1M36 30h1v1h-1M42 30h1v1h-1M46 30h1v1h-1M1 31h3v1h-3M8 31h1v1h-1M14 31h1v1h-1M16 31h1v1h-1M19 31h1v1h-1M28 31h1v1h-1M36 31h1v1h-1M38 31h1v1h-1M41 31h1v1h-1M52 31h1v1h-1M0 32h1v1h-1M11 32h1v1h-1M13 32h1v1h-1M22 32h1v1h-1M25 32h2v1h-2M30 32h1v1h-1M33 32h1v1h-1M46 32h1v1h-1M49 32h1v1h-1M51 32h1v1h-1M56 32h1v1h-1M2 33h1v1h-1M6 33h2v1h-2M14 33h1v1h-1M19 33h1v1h-1M35 33h1v1h-1M52 33h2v1h-2M57 33h1v1h-1M8 34h1v2h-1M10 34h1v2h-1M17 34h1v2h-1M21 34h1v2h-1M46 34h1v2h-1M15 36h2v1h-2M21 36h2v1h-2M24 36h1v1h-1M44 36h1v1h-1M53 36h2v1h-2M10 37h1v1h-1M12 37h1v1h-1M17 37h1v1h-1M19 37h1v1h-1M32 37h1v1h-1M45 37h1v1h-1M18 38h1v1h-1M20 38h1v1h-1M23 38h1v1h-1M31 38h1v1h-1M34 38h1v1h-1M0 39h1v1h-1M10 39h1v1h-1M20 39h1v1h-1M22 39h1v1h-1M37 39h3v1h-3M41 39h1v1h-1M52 39h2v1h-2M10 40h1v2h-1M14 40h1v2h-1M26 40h1v2h-1M30 40h1v2h-1M35 40h2v2h-2M42 40h1v2h-1M51 40h1v2h-1M58 40h1v2h-1M6 42h1v1h-1M23 42h3v1h-3M27 42h2v1h-2M50 42h1v1h-1M3 43h2v1h-2M9 43h1v1h-1M15 43h1v1h-1M17 43h1v1h-1M19 43h1v1h-1M32 43h1v1h-1M36 43h1v1h-1M49 43h1v1h-1M8 44h1v1h-1M16 44h1v1h-1M24 44h1v1h-1M29 44h1v1h-1M35 44h1v1h-1M51 44h1v1h-1M55 44h2v1h-2M5 45h1v1h-1M8 45h2v1h-2M18 45h1v1h-1M22 45h2v1h-2M28 45h1v1h-1M51 45h2v1h-2M56 45h2v1h-2M13 46h1v2h-1M15 46h2v2h-2M23 46h1v2h-1M29 46h2v2h-2M36 46h1v2h-1M46 46h1v2h-1M48 46h1v2h-1M57 46h1v2h-1M1 48h1v1h-1M5 48h1v1h-1M8 48h1v1h-1M10 48h1v1h-1M15 48h1v1h-1M23 48h1v1h-1M25 48h1v1h-1M30 48h1v1h-1M32 48h1v1h-1M37 48h1v1h-1M43 48h2v1h-2M48 48h1v1h-1M2 49h1v1h-1M11 49h1v1h-1M25 49h1v1h-1M28 49h1v1h-1M36 49h2v1h-2M39 49h1v1h-1M46 49h1v1h-1M56 49h2v1h-2M10 50h1v1h-1M12 50h1v1h-1M33 50h1v1h-1M55 50h1v1h-1M58 50h1v1h-1M1 51h1v1h-1M4 51h1v1h-1M11 51h1v1h-1M18 51h1v1h-1M27 51h2v1h-2M30 51h1v1h-1M33 51h1v1h-1M37 51h1v1h-1M51 51h1v1h-1M55 51h1v1h-1M57 51h1v1h-1M0 52h1v2h-1M24 52h1v2h-1M38 52h1v2h-1M42 52h1v2h-1M44 52h1v2h-1M49 52h2v2h-2M5 54h1v1h-1M17 54h1v1h-1M20 54h3v1h-3M25 54h1v1h-1M28 54h1v1h-1M31 54h1v1h-1M36 54h1v1h-1M46 54h1v1h-1M49 54h1v1h-1M8 55h1v1h-1M14 55h1v1h-1M18 55h1v1h-1M25 55h1v1h-1M30 55h1v1h-1M41 55h1v1h-1M57 55h1v1h-1M11 56h1v1h-1M16 56h1v1h-1M31 56h1v1h-1M37 56h1v1h-1M43 56h1v1h-1M49 56h2v1h-2M53 56h1v1h-1M57 56h1v1h-1M2 57h1v1h-1M10 57h1v1h-1M23 57h1v1h-1M35 57h1v1h-1M52 57h1v1h-1M7 58h2v2h-2M27 58h1v2h-1M30 58h1v2h-1M49 58h1v2h-1M57 58h1v2h-1M3 60h1v1h-1M12 60h1v1h-1M26 60h2v1h-2M35 60h1v1h-1M38 60h1v1h-1M58 60h1v1h-1M0 61h2v1h-2M3 61h1v1h-1M8 61h1v1h-1M28 61h1v1h-1M36 61h1v1h-1M38 61h1v1h-1M48 61h1v1h-1M3 62h1v1h-1M5 62h1v1h-1M8 62h1v1h-1M20 62h1v1h-1M22 62h1v1h-1M30 62h1v1h-1M33 62h1v1h-1M38 62h2v1h-2M54 62h1v1h-1M57 62h1v1h-1M3 63h1v1h-1M5 63h1v1h-1M13 63h1v1h-1M28 63h1v1h-1M54 63h1v1h-1M0 64h1v2h-1M2 64h1v2h-1M14 64h2v2h-2M17 64h2v2h-2M20 64h2v2h-2M27 64h1v2h-1M48 64h1v2h-1M51 64h1v2h-1M56 64h1v2h-1M58 64h1v2h-1"/><path fill="rgb(0,8,0)" d="M4 0h1v1h-1M6 0h1v1h-1M15 0h1v1h-1M18 0h1v1h-1M20 0h1v1h-1M29 0h2v1h-2M36 0h1v1h-1M46 0h2v1h-2M58 0h1v1h-1M8 1h3v1h-3M34 1h1v1h-1M40 1h1v1h-1M45 1h1v1h-1M55 1h1v1h-1M57 1h1v1h-1M6 2h1v1h-1M13 2h1v1h-1M18 2h1v1h-1M21 2h1v1h-1M27 2h1v1h-1M29 2h1v1h-1M34 2h1v1h-1M42 2h1v1h-1M45 2h1v1h-1M4 3h1v1h-1M8 3h1v1h-1M10 3h1v1h-1M27 3h1v1h-1M34 3h2v1h-2M39 3h1v1h-1M46 3h1v1h-1M51 3h1v1h-1M1 4h1v2h-1M4 4h1v2h-1M6 4h1v2h-1M9 4h2v2h-2M12 4h1v2h-1M16 4h1v2h-1M22 4h1v2h-1M25 4h1v2h-1M29 4h1v2h-1M32 4h4v2h-4M37 4h1v2h-1M44 4h1v2h-1M55 4h1v2h-1M58 4h1v2h-1M0 6h1v1h-1M2 6h2v1h-2M9 6h2v1h-2M14 6h1v1h-1M16 6h1v1h-1M19 6h2v1h-2M25 6h1v1h-1M30 6h1v1h-1M32 6h1v1h-1M43 6h1v1h-1M49 6h1v1h-1M57 6h1v1h-1M7 7h1v1h-1M9 7h1v1h-1M13 7h2v1h-2M20 7h2v1h-2M25 7h3v1h-3M42 7h1v1h-1M44 7h1v1h-1M47 7h1v1h-1M55 7h3v1h-3M3 8h3v1h-3M7 8h1v1h-1M11 8h1v1h-1M14 8h1v1h-1M16 8h1v1h-1M26 8h1v1h-1M29 8h1v1h-1M35 8h3v1h-3M41 8h5v1h-5M49 8h1v1h-1M55 8h2v1h-2M1 9h1v1h-1M10 9h1v1h-1M12 9h1v1h-1M15 9h1v1h-1M17 9h1v1h-1M19 9h1v1h-1M25 9h2v1h-2M28 9h1v1h-1M41 9h1v1h-1M44 9h2v1h-2M50 9h1v1h-1M55 9h2v1h-2M2 10h2v2h-2M9 10h1v2h-1M16 10h2v2h-2M21 10h1v2h-1M24 10h1v2h-1M36 10h1v2h-1M40 10h1v2h-1M43 10h1v2h-1M47 10h2v2h-2M2 12h1v1h-1M10 12h2v1h-2M13 12h1v1h-1M18 12h1v1h-1M22 12h2v1h-2M31 12h1v1h-1M35 12h1v1h-1M37 12h1v1h-1M41 12h1v1h-1M43 12h1v1h-1M46 12h1v1h-1M55 12h1v1h-1M3 13h1v1h-1M5 13h1v1h-1M15 13h2v1h-2M24 13h2v1h-2M30 13h2v1h-2M39 13h1v1h-1M44 13h1v1h-1M48 13h1v1h-1M52 13h1v1h-1M5 14h2v1h-2M11 14h1v1h-1M15 14h1v1h-1M18 14h1v1h-1M21 14h1v1h-1M33 14h1v1h-1M35 14h1v1h-1M41 14h1v1h-1M47 14h1v1h-1M52 14h1v1h-1M56 14h1v1h-1M58 14h1v1h-1M4 15h3v1h-3M8 15h1v1h-1M13 15h1v1h-1M19 15h2v1h-2M24 15h1v1h-1M32 15h1v1h-1M38 15h1v1h-1M43 15h1v1h-1M46 15h1v1h-1M56 15h2v1h-2M0 16h2v2h-2M10 16h1v2h-1M12 16h1v2h-1M19 16h1v2h-1M23 16h1v2h-1M31 16h2v2h-2M42 16h1v2h-1M56 16h1v2h-1M11 18h1v1h-1M17 18h2v1h-2M22 18h1v1h-1M24 18h3v1h-3M31 18h1v1h-1M34 18h2v1h-2M40 18h1v1h-1M45 18h1v1h-1M50 18h2v1h-2M55 18h1v1h-1M0 19h1v1h-1M4 19h1v1h-1M9 19h1v1h-1M11 19h3v1h-3M16 19h1v1h-1M25 19h3v1h-3M31 19h1v1h-1M35 19h1v1h-1M40 19h1v1h-1M54 19h1v1h-1M0 20h1v1h-1M3 20h1v1h-1M8 20h1v1h-1M21 20h1v1h-1M30 20h1v1h-1M34 20h2v1h-2M42 20h2v1h-2M50 20h3v1h-3M55 20h1v1h-1M3 21h1v1h-1M5 21h2v1h-2M8 21h2v1h-2M15 21h2v1h-2M18 21h1v1h-1M23 21h1v1h-1M34 21h1v1h-1M36 21h1v1h-1M54 21h2v1h-2M3 22h3v2h-3M10 22h1v2h-1M13 22h1v2h-1M26 22h1v2h-1M30 22h1v2h-1M45 22h1v2h-1M54 22h1v2h-1M58 22h1v2h-1M0 24h1v1h-1M2 24h1v1h-1M5 24h1v1h-1M8 24h1v1h-1M10 24h1v1h-1M15 24h1v1h-1M19 24h1v1h-1M30 24h1v1h-1M34 24h1v1h-1M37 24h1v1h-1M40 24h1v1h-1M43 24h1v1h-1M55 24h2v1h-2M58 24h1v1h-1M1 25h1v1h-1M3 25h3v1h-3M13 25h1v1h-1M22 25h1v1h-1M29 25h2v1h-2M32 25h1v1h-1M35 25h1v1h-1M40 25h1v1h-1M48 25h1v1h-1M51 25h2v1h-2M55 25h1v1h-1M58 25h1v1h-1M5 26h1v1h-1M9 26h1v1h-1M12 26h1v1h-1M15 26h2v1h-2M20 26h1v1h-1M27 26h1v1h-1M52 26h2v1h-2M56 26h1v1h-1M1 27h1v1h-1M4 27h1v1h-1M10 27h2v1h-2M18 27h1v1h-1M26 27h1v1h-1M28 27h1v1h-1M34 27h2v1h-2M39 27h2v1h-2M45 27h1v1h-1M54 27h1v1h-1M57 27h1v1h-1M3 28h3v2h-3M16 28h1v2h-1M27 28h1v2h-1M34 28h1v2h-1M41 28h1v2h-1M46 28h1v2h-1M52 28h2v2h-2M5 30h1v1h-1M10 30h4v1h-4M18 30h1v1h-1M21 30h3v1h-3M31 30h2v1h-2M35 30h1v1h-1M40 30h2v1h-2M48 30h2v1h-2M4 31h1v1h-1M7 31h1v1h-1M20 31h1v1h-1M25 31h2v1h-2M29 31h1v1h-1M42 31h1v1h-1M46 31h1v1h-1M50 31h2v1h-2M54 31h1v1h-1M4 32h2v1h-2M9 32h1v1h-1M14 32h1v1h-1M19 32h3v1h-3M29 32h1v1h-1M35 32h2v1h-2M39 32h1v1h-1M43 32h1v1h-1M48 32h1v1h-1M53 32h2v1h-2M3 33h1v1h-1M9 33h1v1h-1M12 33h1v1h-1M16 33h1v1h-1M26 33h1v1h-1M29 33h1v1h-1M33 33h1v1h-1M41 33h1v1h-1M43 33h1v1h-1M45 33h2v1h-2M50 33h1v1h-1M54 33h2v1h-2M0 34h1v2h-1M2 34h1v2h-1M4 34h1v2h-1M13 34h2v2h-2M18 34h1v2h-1M23 34h1v2h-1M25 34h1v2h-1M33 34h1v2h-1M40 34h2v2h-2M43 34h1v2h-1M49 34h1v2h-1M51 34h1v2h-1M54 34h1v2h-1M56 34h2v2h-2M0 36h1v1h-1M4 36h1v1h-1M9 36h1v1h-1M13 36h1v1h-1M23 36h1v1h-1M26 36h1v1h-1M31 36h1v1h-1M34 36h1v1h-1M37 36h3v1h-3M41 36h1v1h-1M43 36h1v1h-1M47 36h1v1h-1M49 36h1v1h-1M51 36h2v1h-2M2 37h1v1h-1M6 37h1v1h-1M11 37h1v1h-1M13 37h1v1h-1M26 37h1v1h-1M29 37h1v1h-1M31 37h1v1h-1M33 37h2v1h-2M40 37h1v1h-1M43 37h1v1h-1M49 37h1v1h-1M53 37h1v1h-1M57 37h1v1h-1M1 38h3v1h-3M13 38h3v1h-3M26 38h1v1h-1M29 38h2v1h-2M37 38h2v1h-2M42 38h3v1h-3M52 38h2v1h-2M2 39h1v1h-1M7 39h1v1h-1M11 39h2v1h-2M16 39h1v1h-1M18 39h1v1h-1M31 39h1v1h-1M33 39h1v1h-1M42 39h1v1h-1M45 39h1v1h-1M48 39h1v1h-1M50 39h1v1h-1M6 40h3v2h-3M15 40h1v2h-1M17 40h2v2h-2M24 40h1v2h-1M31 40h2v2h-2M37 40h3v2h-3M47 40h2v2h-2M4 42h2v1h-2M7 42h1v1h-1M14 42h1v1h-1M16 42h2v1h-2M26 42h1v1h-1M31 42h1v1h-1M33 42h4v1h-4M44 42h1v1h-1M48 42h1v1h-1M52 42h1v1h-1M55 42h2v1h-2M58 42h1v1h-1M2 43h1v1h-1M13 43h1v1h-1M22 43h1v1h-1M33 43h1v1h-1M35 43h1v1h-1M39 43h1v1h-1M43 43h1v1h-1M46 43h1v1h-1M2 44h1v1h-1M10 44h1v1h-1M13 44h1v1h-1M17 44h1v1h-1M19 44h1v1h-1M21 44h1v1h-1M23 44h1v1h-1M25 44h1v1h-1M46 44h1v1h-1M57 44h1v1h-1M1 45h1v1h-1M11 45h3v1h-3M30 45h1v1h-1M33 45h2v1h-2M39 45h1v1h-1M47 45h1v1h-1M49 45h1v1h-1M0 46h1v2h-1M3 46h1v2h-1M8 46h2v2h-2M17 46h1v2h-1M32 46h4v2h-4M37 46h4v2h-4M44 46h2v2h-2M55 46h1v2h-1M2 48h1v1h-1M13 48h1v1h-1M16 48h1v1h-1M18 48h2v1h-2M21 48h2v1h-2M45 48h2v1h-2M53 48h3v1h-3M5 49h1v1h-1M9 49h1v1h-1M13 49h2v1h-2M22 49h2v1h-2M44 49h1v1h-1M50 49h1v1h-1M54 49h1v1h-1M4 50h2v1h-2M8 50h1v1h-1M13 50h3v1h-3M17 50h3v1h-3M27 50h1v1h-1M31 50h2v1h-2M39 50h1v1h-1M43 50h1v1h-1M45 50h1v1h-1M49 50h1v1h-1M51 50h1v1h-1M54 50h1v1h-1M57 50h1v1h-1M6 51h1v1h-1M8 51h1v1h-1M13 51h3v1h-3M20 51h2v1h-2M24 51h2v1h-2M35 51h1v1h-1M50 51h1v1h-1M1 52h1v2h-1M5 52h1v2h-1M16 52h2v2h-2M20 52h1v2h-1M23 52h1v2h-1M34 52h2v2h-2M39 52h1v2h-1M43 52h1v2h-1M45 52h2v2h-2M55 52h1v2h-1M57 52h1v2h-1M7 54h1v1h-1M9 54h2v1h-2M14 54h1v1h-1M26 54h1v1h-1M39 54h2v1h-2M44 54h1v1h-1M51 54h1v1h-1M57 54h1v1h-1M3 55h2v1h-2M11 55h1v1h-1M15 55h1v1h-1M20 55h1v1h-1M24 55h1v1h-1M31 55h1v1h-1M33 55h1v1h-1M35 55h1v1h-1M39 55h1v1h-1M44 55h1v1h-1M49 55h3v1h-3M56 55h1v1h-1M0 56h2v1h-2M4 56h2v1h-2M13 56h1v1h-1M20 56h3v1h-3M24 56h1v1h-1M46 56h2v1h-2M51 56h1v1h-1M54 56h2v1h-2M4 57h2v1h-2M7 57h1v1h-1M13 57h1v1h-1M16 57h2v1h-2M34 57h1v1h-1M36 57h1v1h-1M38 57h1v1h-1M47 57h2v1h-2M53 57h1v1h-1M0 58h1v2h-1M11 58h1v2h-1M13 58h1v2h-1M24 58h2v2h-2M28 58h1v2h-1M33 58h1v2h-1M37 58h1v2h-1M50 58h1v2h-1M6 60h1v1h-1M10 60h1v1h-1M16 60h1v1h-1M18 60h1v1h-1M23 60h1v1h-1M28 60h1v1h-1M31 60h1v1h-1M33 60h2v1h-2M37 60h1v1h-1M46 60h1v1h-1M50 60h1v1h-1M52 60h3v1h-3M11 61h1v1h-1M14 61h1v1h-1M16 61h1v1h-1M18 61h1v1h-1M22 61h2v1h-2M27 61h1v1h-1M29 61h1v1h-1M43 61h1v1h-1M49 61h1v1h-1M51 61h1v1h-1M53 61h1v1h-1M55 61h3v1h-3M0 62h1v1h-1M12 62h3v1h-3M17 62h1v1h-1M25 62h1v1h-1M35 62h1v1h-1M40 62h1v1h-1M42 62h1v1h-1M50 62h1v1h-1M53 62h1v1h-1M55 62h1v1h-1M0 63h1v1h-1M8 63h4v1h-4M24 63h2v1h-2M30 63h1v1h-1M33 63h1v1h-1M35 63h1v1h-1M38 63h1v1h-1M43 63h1v1h-1M45 63h1v1h-1M52 63h1v1h-1M58 63h1v1h-1M10 64h2v2h-2M23 64h1v2h-1M26 64h1v2h-1M47 64h1v2h-1M49 64h1v2h-1M52 64h1v2h-1M54 64h1v2h-1M57 64h1v2h-1"/><path fill="rgb(0,17,0)" d="M1 0h1v1h-1M14 0h1v1h-1M28 0h1v1h-1M38 0h1v1h-1M40 0h1v1h-1M42 0h1v1h-1M45 0h1v1h-1M50 0h4v1h-4M11 1h2v1h-2M22 1h2v1h-2M31 1h3v1h-3M37 1h1v1h-1M39 1h1v1h-1M47 1h1v1h-1M14 2h1v1h-1M32 2h1v1h-1M36 2h1v1h-1M40 2h1v1h-1M44 2h1v1h-1M48 2h1v1h-1M51 2h1v1h-1M2 3h2v1h-2M11 3h2v1h-2M14 3h1v1h-1M18 3h1v1h-1M23 3h1v1h-1M31 3h1v1h-1M49 3h1v1h-1M11 4h1v2h-1M19 4h1v2h-1M26 4h1v2h-1M45 4h2v2h-2M48 4h1v2h-1M17 6h2v1h-2M31 6h1v1h-1M35 6h1v1h-1M44 6h5v1h-5M50 6h1v1h-1M56 6h1v1h-1M58 6h1v1h-1M4 7h3v1h-3M8 7h1v1h-1M11 7h2v1h-2M17 7h1v1h-1M24 7h1v1h-1M30 7h1v1h-1M34 7h1v1h-1M52 7h1v1h-1M58 7h1v1h-1M2 8h1v1h-1M18 8h1v1h-1M21 8h1v1h-1M24 8h1v1h-1M31 8h1v1h-1M47 8h1v1h-1M54 8h1v1h-1M3 9h2v1h-2M22 9h1v1h-1M24 9h1v1h-1M27 9h1v1h-1M36 9h1v1h-1M6 10h1v2h-1M25 10h1v2h-1M33 10h1v2h-1M44 10h2v2h-2M0 12h1v1h-1M3 12h2v1h-2M16 12h2v1h-2M32 12h1v1h-1M34 12h1v1h-1M38 12h1v1h-1M45 12h1v1h-1M47 12h1v1h-1M51 12h1v1h-1M6 13h2v1h-2M10 13h1v1h-1M18 13h2v1h-2M33 13h1v1h-1M36 13h1v1h-1M38 13h1v1h-1M50 13h2v1h-2M1 14h1v1h-1M4 14h1v1h-1M10 14h1v1h-1M19 14h2v1h-2M24 14h1v1h-1M36 14h1v1h-1M49 14h1v1h-1M51 14h1v1h-1M54 14h1v1h-1M57 14h1v1h-1M12 15h1v1h-1M29 15h1v1h-1M36 15h1v1h-1M40 15h1v1h-1M42 15h1v1h-1M50 15h1v1h-1M52 15h1v1h-1M5 16h1v2h-1M9 16h1v2h-1M16 16h1v2h-1M24 16h1v2h-1M55 16h1v2h-1M2 18h1v1h-1M7 18h3v1h-3M12 18h1v1h-1M20 18h1v1h-1M23 18h1v1h-1M32 18h2v1h-2M36 18h2v1h-2M39 18h1v1h-1M42 18h2v1h-2M52 18h1v1h-1M57 18h2v1h-2M15 19h1v1h-1M17 19h1v1h-1M21 19h1v1h-1M23 19h1v1h-1M29 19h2v1h-2M32 19h2v1h-2M51 19h1v1h-1M53 19h1v1h-1M26 20h1v1h-1M32 20h1v1h-1M38 20h1v1h-1M41 20h1v1h-1M49 20h1v1h-1M54 20h1v1h-1M10 21h1v1h-1M13 21h2v1h-2M29 21h1v1h-1M43 21h1v1h-1M46 21h1v1h-1M52 21h1v1h-1M57 21h2v1h-2M0 22h1v2h-1M7 22h1v2h-1M9 22h1v2h-1M21 22h1v2h-1M25 22h1v2h-1M27 22h1v2h-1M29 22h1v2h-1M34 22h1v2h-1M39 22h1v2h-1M55 22h1v2h-1M4 24h1v1h-1M12 24h1v1h-1M21 24h1v1h-1M33 24h1v1h-1M38 24h1v1h-1M50 24h1v1h-1M0 25h1v1h-1M11 25h1v1h-1M14 25h1v1h-1M23 25h1v1h-1M34 25h1v1h-1M36 25h1v1h-1M38 25h2v1h-2M43 25h1v1h-1M46 25h1v1h-1M10 26h1v1h-1M13 26h1v1h-1M22 26h1v1h-1M24 26h1v1h-1M32 26h1v1h-1M36 26h1v1h-1M0 27h1v1h-1M3 27h1v1h-1M14 27h1v1h-1M27 27h1v1h-1M31 27h1v1h-1M43 27h1v1h-1M47 27h1v1h-1M7 28h3v2h-3M15 28h1v2h-1M19 28h1v2h-1M25 28h1v2h-1M44 28h1v2h-1M50 28h1v2h-1M9 30h1v1h-1M17 30h1v1h-1M19 30h1v1h-1M24 30h1v1h-1M38 30h2v1h-2M44 30h2v1h-2M47 30h1v1h-1M50 30h1v1h-1M52 30h1v1h-1M5 31h1v1h-1M9 31h2v1h-2M13 31h1v1h-1M15 31h1v1h-1M22 31h1v1h-1M37 31h1v1h-1M49 31h1v1h-1M57 31h2v1h-2M6 32h1v1h-1M16 32h1v1h-1M23 32h2v1h-2M34 32h1v1h-1M40 32h1v1h-1M42 32h1v1h-1M47 32h1v1h-1M57 32h1v1h-1M11 33h1v1h-1M13 33h1v1h-1M18 33h1v1h-1M22 33h1v1h-1M27 33h2v1h-2M31 33h1v1h-1M38 33h1v1h-1M47 33h2v1h-2M56 33h1v1h-1M1 34h1v2h-1M7 34h1v2h-1M19 34h1v2h-1M22 34h1v2h-1M32 34h1v2h-1M45 34h1v2h-1M50 34h1v2h-1M53 34h1v2h-1M6 36h2v1h-2M10 36h1v1h-1M25 36h1v1h-1M33 36h1v1h-1M36 36h1v1h-1M40 36h1v1h-1M46 36h1v1h-1M48 36h1v1h-1M0 37h1v1h-1M7 37h1v1h-1M14 37h1v1h-1M28 37h1v1h-1M30 37h1v1h-1M36 37h1v1h-1M39 37h1v1h-1M42 37h1v1h-1M46 37h1v1h-1M50 37h1v1h-1M54 37h1v1h-1M58 37h1v1h-1M0 38h1v1h-1M8 38h1v1h-1M11 38h1v1h-1M22 38h1v1h-1M45 38h1v1h-1M51 38h1v1h-1M6 39h1v1h-1M8 39h1v1h-1M23 39h1v1h-1M27 39h2v1h-2M32 39h1v1h-1M36 39h1v1h-1M44 39h1v1h-1M49 39h1v1h-1M51 39h1v1h-1M54 39h1v1h-1M3 40h2v2h-2M13 40h1v2h-1M16 40h1v2h-1M19 40h1v2h-1M33 40h2v2h-2M40 40h1v2h-1M50 40h1v2h-1M52 40h1v2h-1M54 40h2v2h-2M2 42h2v1h-2M8 42h1v1h-1M20 42h1v1h-1M29 42h1v1h-1M32 42h1v1h-1M40 42h1v1h-1M43 42h1v1h-1M54 42h1v1h-1M1 43h1v1h-1M8 43h1v1h-1M11 43h1v1h-1M14 43h1v1h-1M20 43h1v1h-1M25 43h1v1h-1M38 43h1v1h-1M41 43h1v1h-1M45 43h1v1h-1M0 44h2v1h-2M4 44h2v1h-2M18 44h1v1h-1M27 44h2v1h-2M31 44h1v1h-1M39 44h1v1h-1M41 44h1v1h-1M44 44h2v1h-2M48 44h2v1h-2M3 45h1v1h-1M7 45h1v1h-1M14 45h1v1h-1M26 45h1v1h-1M31 45h1v1h-1M45 45h1v1h-1M55 45h1v1h-1M11 46h1v2h-1M14 46h1v2h-1M18 46h1v2h-1M28 46h1v2h-1M41 46h1v2h-1M43 46h1v2h-1M47 46h1v2h-1M49 46h1v2h-1M52 46h1v2h-1M4 48h1v1h-1M6 48h1v1h-1M9 48h1v1h-1M11 48h1v1h-1M26 48h1v1h-1M29 48h1v1h-1M31 48h1v1h-1M34 48h2v1h-2M40 48h1v1h-1M49 48h1v1h-1M1 49h1v1h-1M3 49h2v1h-2M7 49h1v1h-1M15 49h1v1h-1M26 49h1v1h-1M29 49h2v1h-2M42 49h1v1h-1M47 49h1v1h-1M51 49h1v1h-1M53 49h1v1h-1M0 50h2v1h-2M7 50h1v1h-1M20 50h1v1h-1M22 50h1v1h-1M34 50h1v1h-1M38 50h1v1h-1M48 50h1v1h-1M56 50h1v1h-1M3 51h1v1h-1M19 51h1v1h-1M29 51h1v1h-1M32 51h1v1h-1M40 51h1v1h-1M44 51h1v1h-1M48 51h2v1h-2M52 51h3v1h-3M6 52h1v2h-1M11 52h1v2h-1M13 52h2v2h-2M26 52h1v2h-1M31 52h1v2h-1M40 52h2v2h-2M47 52h2v2h-2M54 52h1v2h-1M1 54h1v1h-1M4 54h1v1h-1M11 54h1v1h-1M15 54h1v1h-1M27 54h1v1h-1M33 54h2v1h-2M37 54h2v1h-2M48 54h1v1h-1M5 55h1v1h-1M13 55h1v1h-1M21 55h1v1h-1M37 55h1v1h-1M40 55h1v1h-1M46 55h1v1h-1M48 55h1v1h-1M58 55h1v1h-1M3 56h1v1h-1M9 56h1v1h-1M26 56h4v1h-4M33 56h2v1h-2M40 56h1v1h-1M44 56h2v1h-2M48 56h1v1h-1M52 56h1v1h-1M56 56h1v1h-1M58 56h1v1h-1M6 57h1v1h-1M26 57h1v1h-1M28 57h1v1h-1M33 57h1v1h-1M37 57h1v1h-1M41 57h2v1h-2M50 57h1v1h-1M54 57h1v1h-1M56 57h2v1h-2M1 58h1v2h-1M3 58h1v2h-1M6 58h1v2h-1M9 58h2v2h-2M19 58h1v2h-1M29 58h1v2h-1M34 58h2v2h-2M39 58h1v2h-1M47 58h1v2h-1M4 60h1v1h-1M8 60h2v1h-2M13 60h1v1h-1M22 60h1v1h-1M29 60h1v1h-1M32 60h1v1h-1M40 60h1v1h-1M49 60h1v1h-1M51 60h1v1h-1M56 60h1v1h-1M6 61h1v1h-1M19 61h3v1h-3M24 61h1v1h-1M26 61h1v1h-1M35 61h1v1h-1M37 61h1v1h-1M50 61h1v1h-1M54 61h1v1h-1M1 62h2v1h-2M6 62h2v1h-2M16 62h1v1h-1M26 62h1v1h-1M28 62h2v1h-2M32 62h1v1h-1M34 62h1v1h-1M36 62h1v1h-1M45 62h1v1h-1M47 62h1v1h-1M2 63h1v1h-1M4 63h1v1h-1M7 63h1v1h-1M14 63h1v1h-1M17 63h1v1h-1M19 63h1v1h-1M22 63h2v1h-2M36 63h1v1h-1M39 63h1v1h-1M41 63h1v1h-1M48 63h1v1h-1M57 63h1v1h-1M16 64h1v2h-1M28 64h2v2h-2M34 64h1v2h-1M36 64h1v2h-1"/><path fill="rgb(0,26,0)" d="M3 0h1v1h-1M19 0h1v1h-1M37 0h1v1h-1M29 1h1v1h-1M41 1h1v1h-1M46 1h1v1h-1M9 2h1v1h-1M24 2h1v1h-1M53 2h1v1h-1M5 3h2v1h-2M26 3h1v1h-1M29 3h1v1h-1M44 3h1v1h-1M5 4h1v2h-1M36 4h1v2h-1M40 4h1v2h-1M50 4h1v2h-1M53 4h1v2h-1M4 6h1v1h-1M7 6h1v1h-1M21 6h1v1h-1M41 6h1v1h-1M22 7h1v1h-1M33 7h1v1h-1M39 7h1v1h-1M12 8h1v1h-1M27 8h1v1h-1M48 8h1v1h-1M6 9h1v1h-1M9 9h1v1h-1M13 9h1v1h-1M16 9h1v1h-1M0 10h1v2h-1M5 10h1v2h-1M14 10h1v2h-1M18 10h1v2h-1M26 10h1v2h-1M49 10h1v2h-1M55 10h1v2h-1M15 12h1v1h-1M39 12h1v1h-1M48 12h1v1h-1M52 12h2v1h-2M58 12h1v1h-1M0 13h1v1h-1M32 13h1v1h-1M34 13h1v1h-1M45 13h1v1h-1M17 14h1v1h-1M23 14h1v1h-1M45 14h1v1h-1M0 15h1v1h-1M2 15h1v1h-1M34 15h1v1h-1M45 15h1v1h-1M53 15h3v1h-3M7 16h1v2h-1M11 16h1v2h-1M14 16h2v2h-2M27 16h1v2h-1M45 16h1v2h-1M58 16h1v2h-1M41 18h1v1h-1M54 18h1v1h-1M5 19h2v1h-2M14 19h1v1h-1M46 19h1v1h-1M4 20h1v1h-1M9 20h1v1h-1M16 20h2v1h-2M20 20h1v1h-1M27 20h1v1h-1M45 20h1v1h-1M35 21h1v1h-1M42 21h1v1h-1M50 21h1v1h-1M22 22h1v2h-1M36 22h2v2h-2M46 22h2v2h-2M52 22h1v2h-1M57 22h1v2h-1M16 24h1v1h-1M18 24h1v1h-1M39 24h1v1h-1M41 24h1v1h-1M45 24h1v1h-1M48 24h1v1h-1M52 24h2v1h-2M7 25h1v1h-1M10 25h1v1h-1M16 25h1v1h-1M24 25h1v1h-1M49 25h1v1h-1M0 26h1v1h-1M18 26h1v1h-1M23 26h1v1h-1M25 26h1v1h-1M28 26h1v1h-1M37 26h1v1h-1M40 26h1v1h-1M47 26h1v1h-1M6 27h1v1h-1M16 27h1v1h-1M22 27h1v1h-1M32 27h1v1h-1M52 27h1v1h-1M1 28h1v2h-1M6 28h1v2h-1M37 30h1v1h-1M54 30h1v1h-1M0 31h1v1h-1M33 31h1v1h-1M35 31h1v1h-1M2 32h1v1h-1M12 32h1v1h-1M15 32h1v1h-1M28 32h1v1h-1M32 32h1v1h-1M41 32h1v1h-1M55 32h1v1h-1M5 33h1v1h-1M15 33h1v1h-1M17 33h1v1h-1M24 33h2v1h-2M3 34h1v2h-1M5 34h1v2h-1M15 34h1v2h-1M31 34h1v2h-1M37 34h1v2h-1M39 34h1v2h-1M44 34h1v2h-1M2 36h1v1h-1M28 36h2v1h-2M42 36h1v1h-1M58 36h1v1h-1M4 37h2v1h-2M9 37h1v1h-1M22 37h1v1h-1M44 37h1v1h-1M55 37h1v1h-1M50 38h1v1h-1M54 38h1v1h-1M58 38h1v1h-1M1 39h1v1h-1M4 39h1v1h-1M15 39h1v1h-1M19 39h1v1h-1M29 40h1v2h-1M46 40h1v2h-1M49 40h1v2h-1M0 42h1v1h-1M11 42h1v1h-1M13 42h1v1h-1M37 42h1v1h-1M42 42h1v1h-1M51 42h1v1h-1M5 43h1v1h-1M24 43h1v1h-1M52 43h1v1h-1M56 43h1v1h-1M3 44h1v1h-1M52 44h1v1h-1M16 45h1v1h-1M41 45h1v1h-1M2 46h1v2h-1M25 46h1v2h-1M42 46h1v2h-1M58 46h1v2h-1M33 48h1v1h-1M39 48h1v1h-1M50 48h1v1h-1M58 48h1v1h-1M17 49h1v1h-1M21 49h1v1h-1M31 49h1v1h-1M41 49h1v1h-1M43 49h1v1h-1M23 51h1v1h-1M26 51h1v1h-1M43 51h1v1h-1M46 51h1v1h-1M7 52h1v2h-1M9 52h1v2h-1M19 52h1v2h-1M22 52h1v2h-1M32 52h1v2h-1M51 52h1v2h-1M58 52h1v2h-1M13 54h1v1h-1M19 54h1v1h-1M23 54h1v1h-1M43 54h1v1h-1M50 54h1v1h-1M54 54h1v1h-1M22 55h1v1h-1M52 55h1v1h-1M3 57h1v1h-1M12 57h1v1h-1M29 57h1v1h-1M31 57h1v1h-1M51 57h1v1h-1M55 57h1v1h-1M4 58h1v2h-1M16 58h1v2h-1M40 58h1v2h-1M42 58h1v2h-1M48 58h1v2h-1M51 58h1v2h-1M15 60h1v1h-1M19 60h3v1h-3M25 60h1v1h-1M2 61h1v1h-1M32 61h1v1h-1M34 61h1v1h-1M19 62h1v1h-1M26 63h1v1h-1M6 64h1v2h-1M22 64h1v2h-1M24 64h2v2h-2M50 64h1v2h-1M53 64h1v2h-1"/><path fill="rgb(0,34,0)" d="M52 1h1v1h-1M54 1h1v1h-1M26 2h1v1h-1M28 2h1v1h-1M35 9h1v1h-1M58 9h1v1h-1M50 10h1v2h-1M44 15h1v1h-1M10 18h1v1h-1M32 24h1v1h-1M48 26h1v1h-1M33 28h1v2h-1M48 28h1v2h-1M55 30h1v1h-1M4 33h1v1h-1M11 34h1v2h-1M27 34h1v2h-1M1 36h1v1h-1M12 36h1v1h-1M47 37h1v1h-1M43 39h1v1h-1M23 40h1v2h-1M36 45h1v1h-1M1 46h1v2h-1M42 50h1v1h-1M2 56h1v1h-1M12 56h1v1h-1M52 58h1v2h-1M44 61h1v1h-1M44 62h1v1h-1M27 63h1v1h-1M8 64h1v2h-1"/><path fill="rgb(0,42,0)" d="M17 55h1v1h-1"/></g></pattern>
<pattern id="nB1" width="75" height="78" patternUnits="userSpaceOnUse" patternTransform="translate(250,59)"><g shape-rendering="crispEdges"><path fill="rgb(0,0,178)" d="M3 21h1v1h-1"/><path fill="rgb(0,0,170)" d="M4 19h2v1h-2M58 34h2v2h-2M28 60h2v1h-2"/><path fill="rgb(0,0,162)" d="M22 20h2v1h-2M64 25h2v1h-2"/><path fill="rgb(0,0,144)" d="M7 15h2v1h-2M30 60h1v1h-1M66 69h1v1h-1M69 72h1v1h-1"/><path fill="rgb(0,0,136)" d="M9 8h1v1h-1M64 12h2v1h-2M55 32h2v1h-2M45 48h1v1h-1M61 55h2v1h-2M57 76h1v2h-1"/><path fill="rgb(0,0,128)" d="M6 16h1v2h-1M13 22h2v2h-2M12 45h1v1h-1M6 52h1v2h-1M1 76h2v2h-2"/><path fill="rgb(0,0,119)" d="M57 12h1v1h-1M69 30h1v1h-1M6 32h1v1h-1M36 46h1v2h-1M52 46h2v2h-2M25 57h2v1h-2M72 68h1v1h-1M33 70h1v2h-1"/><path fill="rgb(0,0,110)" d="M18 0h1v1h-1M4 16h2v2h-2M40 37h2v1h-2M27 43h1v1h-1M19 61h2v1h-2M4 70h2v2h-2M15 72h1v1h-1M58 75h2v1h-2M28 76h3v2h-3M33 76h1v2h-1M70 76h2v2h-2"/><path fill="rgb(0,0,102)" d="M6 1h1v1h-1M45 6h1v1h-1M13 12h2v1h-2M12 13h1v1h-1M34 14h2v1h-2M40 15h2v1h-2M42 25h1v1h-1M61 31h2v1h-2M60 37h1v1h-1M13 45h2v1h-2M25 49h2v1h-2M13 51h2v1h-2M36 51h1v1h-1M9 58h1v2h-1M6 60h1v1h-1M51 61h1v1h-1M1 63h2v1h-2M4 69h2v1h-2M6 72h1v1h-1M66 74h3v1h-3M63 76h1v2h-1"/><path fill="rgb(0,0,94)" d="M12 0h1v1h-1M72 4h1v2h-1M24 15h1v1h-1M4 18h2v1h-2M66 20h1v1h-1M33 26h1v1h-1M67 30h2v1h-2M58 37h2v1h-2M37 39h2v1h-2M46 46h2v2h-2M24 51h1v1h-1M73 57h2v1h-2M45 58h1v2h-1M42 61h1v1h-1M40 64h2v2h-2M12 67h1v1h-1M3 72h1v1h-1M46 73h2v1h-2M52 73h2v1h-2M27 75h1v1h-1"/><path fill="rgb(0,0,85)" d="M12 7h1v1h-1M13 9h2v1h-2M12 12h1v1h-1M30 12h1v1h-1M61 13h2v1h-2M48 20h1v1h-1M61 24h2v1h-2M66 24h1v1h-1M58 26h2v1h-2M18 28h1v2h-1M60 30h1v1h-1M42 43h1v1h-1M19 46h2v2h-2M52 48h2v1h-2M64 52h2v2h-2M52 57h2v1h-2M69 57h1v1h-1M58 72h2v1h-2"/><path fill="rgb(0,0,76)" d="M19 1h2v1h-2M51 1h1v1h-1M34 2h2v1h-2M16 3h2v1h-2M63 8h1v1h-1M16 9h2v1h-2M10 10h2v2h-2M61 10h2v2h-2M39 14h1v1h-1M60 14h1v1h-1M9 19h1v1h-1M63 19h1v1h-1M3 20h1v1h-1M40 21h2v1h-2M73 22h2v2h-2M60 24h1v1h-1M19 26h2v1h-2M51 27h1v1h-1M57 27h1v1h-1M51 32h1v1h-1M3 34h1v2h-1M36 36h1v1h-1M18 38h1v1h-1M60 54h1v1h-1M52 56h2v1h-2M12 58h1v2h-1M42 64h1v2h-1M4 68h2v1h-2M25 68h2v1h-2M55 70h2v2h-2M12 76h1v2h-1"/><path fill="rgb(0,0,68)" d="M58 0h2v1h-2M31 2h2v1h-2M12 4h1v2h-1M48 4h1v2h-1M0 6h3v1h-3M70 7h2v1h-2M13 13h2v1h-2M13 15h2v1h-2M16 15h2v1h-2M33 15h1v1h-1M27 16h1v2h-1M37 24h2v1h-2M4 27h2v1h-2M54 27h1v1h-1M40 28h2v2h-2M45 28h1v2h-1M70 28h2v2h-2M6 33h1v1h-1M55 36h2v1h-2M73 39h2v1h-2M27 44h1v1h-1M64 44h2v1h-2M57 48h1v1h-1M12 50h1v1h-1M40 51h2v1h-2M73 51h2v1h-2M36 57h1v1h-1M1 61h2v1h-2M57 69h1v1h-1M21 74h1v1h-1"/><path fill="rgb(0,0,60)" d="M46 0h2v1h-2M22 1h2v1h-2M72 1h1v1h-1M63 2h1v1h-1M25 8h3v1h-3M6 9h1v1h-1M27 9h1v1h-1M49 9h2v1h-2M46 10h2v2h-2M70 13h2v1h-2M58 14h2v1h-2M67 19h2v1h-2M46 22h2v2h-2M34 25h2v1h-2M67 26h2v1h-2M64 28h2v2h-2M10 30h2v1h-2M45 31h1v1h-1M13 32h2v1h-2M19 34h2v2h-2M66 36h1v1h-1M12 39h1v1h-1M70 39h2v1h-2M21 42h1v1h-1M36 42h1v1h-1M60 45h1v1h-1M33 46h1v2h-1M9 48h1v1h-1M49 48h2v1h-2M33 49h1v1h-1M61 50h2v1h-2M7 51h2v1h-2M19 51h2v1h-2M9 52h1v2h-1M28 54h2v1h-2M51 55h1v1h-1M64 55h2v1h-2M51 56h1v1h-1M54 56h1v1h-1M66 57h1v1h-1M7 58h2v2h-2M19 58h2v2h-2M67 58h2v2h-2M19 60h2v1h-2M9 61h1v1h-1M39 62h1v1h-1M30 64h1v2h-1M66 64h3v2h-3M13 66h2v1h-2M24 66h1v1h-1M18 68h1v1h-1M15 69h1v1h-1M55 69h2v1h-2M63 69h1v1h-1M37 70h2v2h-2M61 70h2v2h-2M34 72h2v1h-2M54 72h1v1h-1M15 73h1v1h-1M22 74h2v1h-2M46 74h2v1h-2M25 75h2v1h-2"/><path fill="rgb(0,0,51)" d="M42 2h1v1h-1M27 3h1v1h-1M52 3h2v1h-2M66 3h1v1h-1M24 4h1v2h-1M37 4h2v2h-2M45 4h1v2h-1M12 6h1v1h-1M30 6h1v1h-1M0 7h1v1h-1M61 7h3v1h-3M15 8h1v1h-1M24 8h1v1h-1M69 10h1v2h-1M31 12h2v1h-2M40 14h2v1h-2M67 14h2v1h-2M25 15h2v1h-2M43 15h2v1h-2M28 16h2v2h-2M39 16h1v2h-1M55 18h2v1h-2M40 20h2v1h-2M46 21h2v1h-2M40 22h2v2h-2M63 22h1v2h-1M72 22h1v2h-1M58 24h2v1h-2M72 27h1v1h-1M13 28h2v2h-2M73 28h2v2h-2M24 31h1v1h-1M72 32h1v1h-1M13 33h2v1h-2M37 33h2v1h-2M24 34h1v2h-1M34 36h2v1h-2M70 36h2v1h-2M19 37h2v1h-2M22 38h2v1h-2M7 39h2v1h-2M25 42h2v1h-2M3 43h1v1h-1M54 43h1v1h-1M61 43h2v1h-2M66 43h1v1h-1M1 44h2v1h-2M15 44h1v1h-1M72 44h1v1h-1M7 45h2v1h-2M28 45h2v1h-2M3 46h1v2h-1M58 46h2v2h-2M42 48h1v1h-1M45 49h1v1h-1M42 50h1v1h-1M57 50h1v1h-1M60 50h1v1h-1M27 54h1v1h-1M36 54h1v1h-1M7 55h2v1h-2M13 57h2v1h-2M49 57h2v1h-2M57 57h1v1h-1M0 62h1v1h-1M19 62h2v1h-2M30 62h1v1h-1M49 63h2v1h-2M25 64h2v2h-2M70 64h2v2h-2M19 66h2v1h-2M58 66h2v1h-2M52 67h3v1h-3M10 68h2v1h-2M9 69h1v1h-1M21 70h1v2h-1M60 72h1v1h-1M25 73h2v1h-2M18 74h1v1h-1M40 74h2v1h-2M6 75h1v1h-1M19 75h2v1h-2M48 76h1v2h-1M55 76h2v2h-2"/><path fill="rgb(0,0,42)" d="M16 0h2v1h-2M37 0h2v1h-2M24 1h1v1h-1M27 2h1v1h-1M40 2h2v1h-2M46 2h2v1h-2M60 2h1v1h-1M12 3h1v1h-1M22 3h2v1h-2M55 3h2v1h-2M58 3h2v1h-2M57 6h1v1h-1M24 7h1v1h-1M43 7h2v1h-2M55 7h2v1h-2M67 7h2v1h-2M1 9h2v1h-2M42 9h1v1h-1M12 10h1v2h-1M33 10h1v2h-1M39 12h1v1h-1M22 13h2v1h-2M49 13h2v1h-2M49 14h2v1h-2M10 16h2v2h-2M34 16h2v2h-2M58 16h2v2h-2M40 18h2v1h-2M25 19h2v1h-2M31 20h2v1h-2M60 20h1v1h-1M39 21h1v1h-1M24 24h1v1h-1M54 24h1v1h-1M15 26h1v1h-1M9 27h1v1h-1M63 28h1v2h-1M22 30h2v1h-2M33 30h1v1h-1M39 30h1v1h-1M58 30h2v1h-2M51 31h1v1h-1M55 31h2v1h-2M70 31h2v1h-2M36 32h1v1h-1M58 32h2v1h-2M66 32h3v1h-3M12 33h1v1h-1M6 36h1v1h-1M19 36h2v1h-2M34 37h2v1h-2M7 38h2v1h-2M37 38h2v1h-2M64 38h2v1h-2M63 39h1v1h-1M10 40h2v2h-2M39 40h1v2h-1M66 40h1v2h-1M22 43h2v1h-2M28 44h2v1h-2M63 45h1v1h-1M9 46h1v2h-1M10 49h2v1h-2M18 49h1v1h-1M42 49h1v1h-1M54 49h1v1h-1M30 50h1v1h-1M39 50h1v1h-1M61 51h2v1h-2M33 52h1v2h-1M48 52h1v2h-1M30 54h1v1h-1M48 54h1v1h-1M13 55h2v1h-2M19 56h2v1h-2M25 56h2v1h-2M45 56h1v1h-1M3 57h1v1h-1M54 57h1v1h-1M60 57h1v1h-1M54 60h1v1h-1M30 61h1v1h-1M52 61h2v1h-2M42 62h1v1h-1M55 62h2v1h-2M34 63h2v1h-2M42 63h1v1h-1M60 63h1v1h-1M66 63h1v1h-1M45 66h1v1h-1M73 66h2v1h-2M7 67h2v1h-2M48 67h1v1h-1M63 67h1v1h-1M40 68h2v1h-2M37 72h2v1h-2M61 72h2v1h-2M1 73h2v1h-2M61 73h2v1h-2M31 74h2v1h-2M0 75h1v1h-1M72 76h1v2h-1"/><path fill="rgb(0,0,34)" d="M51 0h1v1h-1M55 0h2v1h-2M4 1h2v1h-2M4 2h2v1h-2M66 2h1v1h-1M10 3h2v1h-2M42 3h1v1h-1M63 3h1v1h-1M69 3h1v1h-1M51 4h1v2h-1M66 4h1v2h-1M9 6h1v1h-1M19 6h2v1h-2M24 6h1v1h-1M39 7h1v1h-1M3 8h1v1h-1M28 8h2v1h-2M34 8h2v1h-2M58 8h2v1h-2M72 8h1v1h-1M7 9h2v1h-2M37 9h2v1h-2M43 9h2v1h-2M58 9h3v1h-3M22 10h2v2h-2M25 10h2v2h-2M54 10h1v2h-1M3 12h1v1h-1M21 12h1v1h-1M45 12h1v1h-1M21 14h1v1h-1M37 14h2v1h-2M42 14h1v1h-1M64 14h2v1h-2M49 15h2v1h-2M69 16h1v2h-1M0 18h1v1h-1M22 18h2v1h-2M13 19h2v1h-2M49 19h2v1h-2M54 20h1v1h-1M37 21h2v1h-2M52 21h2v1h-2M31 22h2v2h-2M51 22h1v2h-1M49 24h2v1h-2M57 24h1v1h-1M3 25h1v1h-1M10 25h2v1h-2M13 25h2v1h-2M30 25h1v1h-1M37 25h2v1h-2M72 25h1v1h-1M13 26h2v1h-2M18 26h1v1h-1M43 27h2v1h-2M48 27h1v1h-1M12 31h1v1h-1M34 31h2v1h-2M69 31h1v1h-1M3 33h1v1h-1M10 33h2v1h-2M25 34h2v2h-2M51 34h1v2h-1M54 34h1v2h-1M67 34h2v2h-2M31 36h2v1h-2M48 37h1v1h-1M12 38h1v1h-1M6 39h1v1h-1M28 39h2v1h-2M33 40h1v2h-1M36 40h1v2h-1M73 40h2v2h-2M12 42h1v1h-1M22 42h2v1h-2M45 42h1v1h-1M48 42h3v1h-3M69 42h1v1h-1M4 43h2v1h-2M34 43h2v1h-2M46 43h2v1h-2M63 43h1v1h-1M6 44h1v1h-1M9 44h1v1h-1M54 44h1v1h-1M57 44h1v1h-1M15 45h3v1h-3M34 46h2v2h-2M63 46h1v2h-1M28 48h2v1h-2M63 49h1v1h-1M70 49h2v1h-2M37 50h2v1h-2M63 50h1v1h-1M73 50h2v1h-2M9 51h1v1h-1M31 54h2v1h-2M25 55h2v1h-2M63 55h1v1h-1M13 56h2v1h-2M27 56h1v1h-1M4 58h2v2h-2M22 60h2v1h-2M72 60h1v1h-1M48 63h1v1h-1M34 64h2v2h-2M61 64h2v2h-2M37 66h2v1h-2M1 67h2v1h-2M13 67h2v1h-2M28 67h2v1h-2M49 67h2v1h-2M3 68h1v1h-1M6 68h1v1h-1M13 68h2v1h-2M43 68h2v1h-2M51 68h3v1h-3M73 68h2v1h-2M73 69h2v1h-2M1 72h2v1h-2M9 72h1v1h-1M27 72h1v1h-1M43 72h2v1h-2M39 73h1v1h-1M55 73h2v1h-2M67 73h2v1h-2M0 74h1v1h-1M15 74h1v1h-1M19 74h2v1h-2M45 74h1v1h-1M70 74h2v1h-2M16 75h2v1h-2M16 76h2v2h-2M49 76h3v2h-3M69 76h1v2h-1"/><path fill="rgb(0,0,26)" d="M21 0h1v1h-1M48 0h1v1h-1M63 0h1v1h-1M3 1h1v1h-1M9 1h1v1h-1M33 1h1v1h-1M70 1h2v1h-2M6 2h1v1h-1M52 2h2v1h-2M28 3h2v1h-2M31 3h2v1h-2M18 4h1v2h-1M30 4h1v2h-1M6 6h1v1h-1M49 6h2v1h-2M22 7h2v1h-2M49 7h2v1h-2M72 7h1v1h-1M1 8h2v1h-2M18 8h1v1h-1M37 8h2v1h-2M45 8h1v1h-1M55 8h2v1h-2M60 8h1v1h-1M66 8h1v1h-1M19 9h2v1h-2M34 9h2v1h-2M51 9h1v1h-1M63 9h1v1h-1M6 10h1v2h-1M52 10h2v2h-2M24 12h1v1h-1M27 12h1v1h-1M37 12h2v1h-2M52 12h2v1h-2M1 13h2v1h-2M24 13h1v1h-1M31 13h2v1h-2M37 13h3v1h-3M16 14h2v1h-2M22 14h3v1h-3M27 14h1v1h-1M48 14h1v1h-1M31 15h2v1h-2M73 15h2v1h-2M33 16h1v2h-1M64 16h2v2h-2M70 16h2v2h-2M73 16h2v2h-2M6 18h1v1h-1M66 19h1v1h-1M30 20h1v1h-1M43 20h2v1h-2M7 21h2v1h-2M12 21h1v1h-1M4 22h2v2h-2M16 22h2v2h-2M37 22h2v2h-2M54 22h1v2h-1M6 24h1v1h-1M48 25h1v1h-1M58 25h2v1h-2M36 26h1v1h-1M51 26h1v1h-1M0 27h1v1h-1M12 27h1v1h-1M27 27h1v1h-1M60 27h1v1h-1M0 28h1v2h-1M27 28h1v2h-1M33 28h1v2h-1M36 28h1v2h-1M66 28h3v2h-3M4 30h2v1h-2M19 30h2v1h-2M36 30h1v1h-1M31 31h3v1h-3M73 31h2v1h-2M22 32h2v1h-2M43 32h2v1h-2M7 33h2v1h-2M34 34h2v2h-2M55 34h2v2h-2M64 34h2v2h-2M54 36h1v1h-1M67 36h2v1h-2M6 37h1v1h-1M45 37h1v1h-1M73 37h2v1h-2M40 38h2v1h-2M70 38h2v1h-2M73 38h2v1h-2M25 39h2v1h-2M43 39h3v1h-3M69 39h1v1h-1M31 40h2v2h-2M69 40h1v2h-1M0 42h1v1h-1M10 42h2v1h-2M24 42h1v1h-1M51 42h1v1h-1M57 42h1v1h-1M30 43h3v1h-3M64 43h2v1h-2M72 43h1v1h-1M0 44h1v1h-1M19 44h2v1h-2M36 44h1v1h-1M49 44h2v1h-2M6 45h1v1h-1M19 45h2v1h-2M33 45h1v1h-1M39 45h1v1h-1M51 45h1v1h-1M55 45h2v1h-2M67 45h2v1h-2M73 45h2v1h-2M1 46h2v2h-2M10 46h2v2h-2M51 46h1v2h-1M0 48h1v1h-1M25 48h2v1h-2M36 48h1v1h-1M46 48h2v1h-2M61 48h2v1h-2M72 48h3v1h-3M0 49h1v1h-1M31 49h2v1h-2M60 49h1v1h-1M24 50h1v1h-1M31 50h2v1h-2M33 51h1v1h-1M54 51h1v1h-1M16 52h2v2h-2M36 52h1v2h-1M42 52h1v2h-1M4 54h2v1h-2M37 54h2v1h-2M10 55h3v1h-3M39 55h1v1h-1M45 55h1v1h-1M52 55h2v1h-2M72 55h1v1h-1M33 56h1v1h-1M58 56h2v1h-2M7 57h2v1h-2M55 57h2v1h-2M58 57h2v1h-2M3 58h1v2h-1M54 58h1v2h-1M12 60h1v1h-1M33 60h1v1h-1M37 60h2v1h-2M55 60h2v1h-2M73 60h2v1h-2M33 61h1v1h-1M9 62h1v1h-1M72 62h1v1h-1M37 63h2v1h-2M57 63h1v1h-1M9 64h1v2h-1M28 64h2v2h-2M10 67h2v1h-2M39 67h1v1h-1M42 67h1v1h-1M45 67h1v1h-1M73 67h2v1h-2M1 68h2v1h-2M16 68h2v1h-2M24 68h1v1h-1M10 69h2v1h-2M54 69h1v1h-1M0 70h1v2h-1M66 70h1v2h-1M13 72h2v1h-2M30 72h1v1h-1M36 72h1v1h-1M51 72h3v1h-3M55 72h2v1h-2M7 73h2v1h-2M12 74h1v1h-1M72 74h3v1h-3M21 75h3v1h-3M0 76h1v2h-1M3 76h1v2h-1M6 76h1v2h-1M22 76h2v2h-2M45 76h1v2h-1"/><path fill="rgb(0,0,17)" d="M13 0h2v1h-2M25 0h2v1h-2M15 1h1v1h-1M57 1h1v1h-1M61 1h2v1h-2M67 1h2v1h-2M0 2h1v1h-1M21 2h1v1h-1M48 2h1v1h-1M19 3h2v1h-2M30 3h1v1h-1M33 3h1v1h-1M4 4h2v2h-2M13 4h2v2h-2M16 4h2v2h-2M67 4h2v2h-2M3 6h1v1h-1M15 6h1v1h-1M25 6h2v1h-2M48 6h1v1h-1M55 6h2v1h-2M63 6h1v1h-1M66 6h1v1h-1M54 7h1v1h-1M28 9h2v1h-2M3 10h1v2h-1M43 10h2v2h-2M51 10h1v2h-1M67 10h2v2h-2M61 12h2v1h-2M16 13h2v1h-2M19 13h2v1h-2M27 13h1v1h-1M57 13h3v1h-3M12 14h1v1h-1M31 14h2v1h-2M43 14h2v1h-2M39 15h1v1h-1M58 15h2v1h-2M63 15h1v1h-1M70 15h3v1h-3M3 16h1v2h-1M12 18h1v1h-1M15 18h1v1h-1M36 18h1v1h-1M49 18h2v1h-2M67 18h3v1h-3M73 18h2v1h-2M57 19h1v1h-1M72 19h1v1h-1M16 20h2v1h-2M58 20h2v1h-2M6 21h1v1h-1M30 21h3v1h-3M6 22h1v2h-1M15 22h1v2h-1M25 22h2v2h-2M42 22h1v2h-1M33 24h1v1h-1M4 25h2v1h-2M15 25h1v1h-1M39 25h1v1h-1M6 26h1v1h-1M10 26h2v1h-2M46 26h2v1h-2M49 26h2v1h-2M63 26h1v1h-1M19 27h2v1h-2M66 27h1v1h-1M70 27h2v1h-2M34 28h2v2h-2M52 28h2v2h-2M15 30h1v1h-1M27 30h1v1h-1M30 30h1v1h-1M15 31h1v1h-1M49 31h2v1h-2M67 31h2v1h-2M7 32h2v1h-2M10 32h2v1h-2M30 32h1v1h-1M33 32h1v1h-1M37 32h2v1h-2M49 32h2v1h-2M54 32h1v1h-1M61 33h2v1h-2M13 34h2v2h-2M28 34h2v2h-2M36 34h3v2h-3M73 34h2v2h-2M9 36h1v1h-1M37 36h3v1h-3M3 37h1v1h-1M15 37h1v1h-1M54 37h1v1h-1M61 37h3v1h-3M3 38h1v1h-1M15 38h1v1h-1M19 38h2v1h-2M25 38h2v1h-2M49 38h2v1h-2M55 38h2v1h-2M3 39h1v1h-1M30 39h1v1h-1M51 39h1v1h-1M61 39h2v1h-2M67 39h2v1h-2M3 40h1v2h-1M21 40h1v2h-1M24 40h1v2h-1M28 40h2v2h-2M37 40h2v2h-2M7 42h3v1h-3M46 42h2v1h-2M19 43h2v1h-2M33 43h1v1h-1M58 43h3v1h-3M16 44h2v1h-2M3 45h1v1h-1M54 45h1v1h-1M61 45h2v1h-2M4 46h3v2h-3M19 48h2v1h-2M37 48h2v1h-2M16 49h2v1h-2M30 49h1v1h-1M49 49h2v1h-2M67 49h2v1h-2M21 50h1v1h-1M54 50h1v1h-1M16 51h2v1h-2M27 51h1v1h-1M52 51h2v1h-2M60 51h1v1h-1M12 52h1v2h-1M21 52h1v2h-1M28 52h2v2h-2M34 52h2v2h-2M45 52h3v2h-3M55 52h2v2h-2M13 54h2v1h-2M19 54h3v1h-3M25 54h2v1h-2M33 54h1v1h-1M49 54h2v1h-2M42 55h1v1h-1M31 56h2v1h-2M37 56h2v1h-2M40 56h2v1h-2M49 56h2v1h-2M67 56h2v1h-2M48 57h1v1h-1M13 58h2v2h-2M36 58h1v2h-1M51 60h1v1h-1M61 60h2v1h-2M69 60h3v1h-3M12 61h1v1h-1M16 61h2v1h-2M40 61h2v1h-2M7 62h2v1h-2M12 62h1v1h-1M58 62h2v1h-2M18 63h1v1h-1M21 63h1v1h-1M28 63h2v1h-2M36 63h1v1h-1M46 63h2v1h-2M4 64h2v2h-2M52 64h2v2h-2M55 64h2v2h-2M60 64h1v2h-1M12 66h1v1h-1M25 66h2v1h-2M57 66h1v1h-1M0 67h1v1h-1M57 67h1v1h-1M61 67h2v1h-2M19 68h2v1h-2M49 68h2v1h-2M16 69h3v1h-3M31 69h2v1h-2M39 69h1v1h-1M52 69h2v1h-2M64 69h2v1h-2M10 70h2v2h-2M19 70h2v2h-2M4 72h2v1h-2M22 72h2v1h-2M39 72h1v1h-1M66 72h1v1h-1M73 73h2v1h-2M4 74h2v1h-2M36 75h1v1h-1M45 75h1v1h-1M49 75h3v1h-3M73 75h2v1h-2M24 76h1v2h-1M60 76h1v2h-1"/><path fill="rgb(0,0,8)" d="M24 0h1v1h-1M42 0h1v1h-1M52 0h3v1h-3M1 1h2v1h-2M7 1h2v1h-2M12 1h1v1h-1M16 1h2v1h-2M49 1h2v1h-2M36 2h1v1h-1M49 2h2v1h-2M57 2h1v1h-1M70 2h2v1h-2M4 3h2v1h-2M21 3h1v1h-1M34 3h2v1h-2M49 3h2v1h-2M57 3h1v1h-1M6 4h3v2h-3M25 4h2v2h-2M49 4h2v2h-2M63 4h1v2h-1M64 6h2v1h-2M72 6h1v1h-1M25 7h2v1h-2M34 7h2v1h-2M60 7h1v1h-1M16 8h2v1h-2M73 8h2v1h-2M0 9h1v1h-1M4 9h2v1h-2M18 9h1v1h-1M33 9h1v1h-1M55 9h2v1h-2M61 9h2v1h-2M67 9h2v1h-2M70 9h2v1h-2M73 9h2v1h-2M9 10h1v2h-1M13 10h2v2h-2M24 10h1v2h-1M37 10h2v2h-2M58 10h2v2h-2M25 12h2v1h-2M42 12h1v1h-1M67 12h2v1h-2M72 12h1v1h-1M21 13h1v1h-1M40 13h2v1h-2M55 13h2v1h-2M1 14h2v1h-2M15 14h1v1h-1M30 14h1v1h-1M33 14h1v1h-1M51 14h1v1h-1M55 14h2v1h-2M72 14h1v1h-1M15 15h1v1h-1M30 15h1v1h-1M36 15h1v1h-1M54 16h1v2h-1M61 16h3v2h-3M24 18h3v1h-3M33 18h1v1h-1M37 18h2v1h-2M21 19h1v1h-1M70 19h2v1h-2M21 20h1v1h-1M51 20h1v1h-1M67 20h2v1h-2M4 21h2v1h-2M9 21h1v1h-1M48 21h1v1h-1M9 22h1v2h-1M36 22h1v2h-1M43 22h2v2h-2M58 22h2v2h-2M21 24h1v1h-1M46 24h2v1h-2M69 24h1v1h-1M33 25h1v1h-1M49 25h2v1h-2M70 25h2v1h-2M21 26h3v1h-3M55 26h2v1h-2M60 26h1v1h-1M30 27h1v1h-1M61 27h2v1h-2M24 28h1v2h-1M48 28h1v2h-1M13 30h2v1h-2M24 30h1v1h-1M43 30h2v1h-2M46 30h2v1h-2M54 30h1v1h-1M3 31h1v1h-1M10 31h2v1h-2M16 31h2v1h-2M21 31h3v1h-3M40 31h2v1h-2M3 32h1v1h-1M42 32h1v1h-1M48 32h1v1h-1M57 32h1v1h-1M64 32h2v1h-2M9 33h1v1h-1M22 33h2v1h-2M31 33h3v1h-3M36 33h1v1h-1M42 33h1v1h-1M55 33h2v1h-2M67 33h2v1h-2M7 34h2v2h-2M10 34h2v2h-2M16 34h2v2h-2M22 34h2v2h-2M40 34h2v2h-2M63 34h1v2h-1M3 36h1v1h-1M12 36h1v1h-1M61 36h2v1h-2M0 37h1v1h-1M39 37h1v1h-1M57 37h1v1h-1M27 38h1v1h-1M48 38h1v1h-1M67 38h2v1h-2M21 39h1v1h-1M58 39h2v1h-2M64 39h2v1h-2M0 40h1v2h-1M27 40h1v2h-1M46 40h2v2h-2M61 40h2v2h-2M43 42h2v1h-2M61 42h2v1h-2M64 42h2v1h-2M67 42h2v1h-2M72 42h1v1h-1M18 43h1v1h-1M25 43h2v1h-2M39 43h1v1h-1M61 44h2v1h-2M66 44h1v1h-1M27 45h1v1h-1M69 45h3v1h-3M7 46h2v2h-2M24 46h1v2h-1M72 46h1v2h-1M43 48h2v1h-2M69 48h3v1h-3M9 49h1v1h-1M34 49h2v1h-2M37 49h2v1h-2M58 49h2v1h-2M13 50h2v1h-2M34 50h2v1h-2M52 50h2v1h-2M64 50h3v1h-3M0 51h1v1h-1M64 51h2v1h-2M67 51h2v1h-2M30 52h1v2h-1M49 52h2v2h-2M61 52h2v2h-2M67 52h2v2h-2M7 54h2v1h-2M10 54h2v1h-2M45 54h1v1h-1M70 54h2v1h-2M0 55h1v1h-1M9 55h1v1h-1M15 55h3v1h-3M19 55h2v1h-2M34 55h3v1h-3M57 55h1v1h-1M67 55h2v1h-2M9 56h1v1h-1M18 56h1v1h-1M22 56h2v1h-2M57 56h1v1h-1M12 57h1v1h-1M19 57h2v1h-2M31 57h2v1h-2M34 57h2v1h-2M42 57h1v1h-1M46 57h2v1h-2M63 57h1v1h-1M15 58h1v2h-1M30 58h1v2h-1M33 58h1v2h-1M52 58h2v2h-2M66 58h1v2h-1M69 58h1v2h-1M3 60h1v1h-1M10 60h2v1h-2M13 60h2v1h-2M31 60h2v1h-2M36 60h1v1h-1M45 60h1v1h-1M64 60h2v1h-2M13 61h2v1h-2M18 61h1v1h-1M28 61h2v1h-2M31 61h2v1h-2M39 61h1v1h-1M46 61h2v1h-2M58 61h2v1h-2M63 61h1v1h-1M4 62h2v1h-2M22 62h2v1h-2M31 62h2v1h-2M36 62h3v1h-3M45 62h1v1h-1M60 62h1v1h-1M69 62h1v1h-1M6 63h1v1h-1M13 63h2v1h-2M19 63h2v1h-2M30 63h1v1h-1M61 63h2v1h-2M12 64h1v2h-1M63 64h1v2h-1M60 66h1v1h-1M31 67h2v1h-2M36 67h1v1h-1M7 68h2v1h-2M31 68h2v1h-2M37 68h2v1h-2M42 68h1v1h-1M69 68h1v1h-1M1 69h2v1h-2M12 69h3v1h-3M22 69h2v1h-2M34 69h2v1h-2M9 70h1v2h-1M52 70h2v2h-2M73 72h2v1h-2M3 73h1v1h-1M22 73h2v1h-2M57 73h1v1h-1M69 73h1v1h-1M10 74h2v1h-2M13 74h2v1h-2M16 74h2v1h-2M42 74h1v1h-1M52 74h2v1h-2M13 75h2v1h-2M28 75h2v1h-2M34 75h2v1h-2M54 75h1v1h-1M64 75h2v1h-2M72 75h1v1h-1"/><path fill="rgb(0,8,0)" d="M6 0h1v1h-1M9 0h1v1h-1M27 0h1v1h-1M30 0h3v1h-3M60 0h1v1h-1M64 0h3v1h-3M69 0h1v1h-1M36 1h1v1h-1M40 1h5v1h-5M55 1h2v1h-2M60 1h1v1h-1M7 2h2v1h-2M10 2h2v1h-2M19 2h2v1h-2M28 2h2v1h-2M37 2h2v1h-2M61 2h2v1h-2M3 3h1v1h-1M25 3h2v1h-2M37 3h2v1h-2M51 3h1v1h-1M54 3h1v1h-1M72 3h1v1h-1M1 4h2v2h-2M10 4h2v2h-2M31 4h2v2h-2M36 4h1v2h-1M42 4h1v2h-1M46 4h2v2h-2M55 4h2v2h-2M70 4h2v2h-2M73 4h2v2h-2M13 6h2v1h-2M34 6h5v1h-5M40 6h2v1h-2M67 6h2v1h-2M1 7h2v1h-2M4 7h2v1h-2M7 7h2v1h-2M15 7h1v1h-1M19 7h2v1h-2M45 7h1v1h-1M19 8h3v1h-3M39 8h3v1h-3M43 8h2v1h-2M52 8h2v1h-2M30 9h1v1h-1M46 9h2v1h-2M19 10h2v2h-2M55 10h3v2h-3M16 12h2v1h-2M34 12h3v1h-3M55 12h2v1h-2M63 12h1v1h-1M66 12h1v1h-1M73 12h2v1h-2M7 13h2v1h-2M43 13h2v1h-2M60 13h1v1h-1M66 13h1v1h-1M6 14h1v1h-1M13 14h2v1h-2M19 14h2v1h-2M25 14h2v1h-2M46 14h2v1h-2M52 14h2v1h-2M1 15h2v1h-2M6 15h1v1h-1M9 15h3v1h-3M51 15h3v1h-3M57 15h1v1h-1M64 15h2v1h-2M9 16h1v2h-1M13 16h2v2h-2M18 16h1v2h-1M21 16h1v2h-1M24 16h1v2h-1M30 16h1v2h-1M36 16h1v2h-1M49 16h2v2h-2M57 16h1v2h-1M42 18h1v1h-1M52 18h3v1h-3M58 18h2v1h-2M63 18h1v1h-1M70 18h3v1h-3M0 19h3v1h-3M16 19h2v1h-2M28 19h2v1h-2M31 19h2v1h-2M46 19h2v1h-2M69 19h1v1h-1M25 20h2v1h-2M42 20h1v1h-1M52 20h2v1h-2M61 20h2v1h-2M72 20h3v1h-3M1 21h2v1h-2M15 21h1v1h-1M18 21h1v1h-1M27 21h1v1h-1M33 21h1v1h-1M3 22h1v2h-1M21 22h1v2h-1M7 24h2v1h-2M10 24h2v1h-2M25 24h2v1h-2M45 24h1v1h-1M51 24h1v1h-1M63 24h3v1h-3M1 25h2v1h-2M31 25h2v1h-2M63 25h1v1h-1M66 25h1v1h-1M69 25h1v1h-1M54 26h1v1h-1M69 26h1v1h-1M6 27h3v1h-3M15 27h1v1h-1M28 27h2v1h-2M46 27h2v1h-2M1 28h2v2h-2M6 28h3v2h-3M21 28h1v2h-1M46 28h2v2h-2M55 28h2v2h-2M60 28h1v2h-1M69 28h1v2h-1M0 30h3v1h-3M7 30h2v1h-2M40 30h2v1h-2M49 30h2v1h-2M52 30h2v1h-2M0 31h1v1h-1M6 31h1v1h-1M25 31h2v1h-2M28 31h2v1h-2M48 31h1v1h-1M4 32h2v1h-2M12 32h1v1h-1M52 32h2v1h-2M70 32h2v1h-2M15 33h3v1h-3M21 33h1v1h-1M25 33h2v1h-2M39 33h1v1h-1M66 33h1v1h-1M6 34h1v2h-1M30 34h1v2h-1M48 34h1v2h-1M57 34h1v2h-1M60 34h1v2h-1M72 34h1v2h-1M42 36h1v1h-1M69 36h1v1h-1M72 36h1v1h-1M4 37h2v1h-2M49 37h2v1h-2M10 38h2v1h-2M36 38h1v1h-1M39 38h1v1h-1M63 38h1v1h-1M13 39h2v1h-2M27 39h1v1h-1M36 39h1v1h-1M40 39h2v1h-2M49 39h2v1h-2M52 39h2v1h-2M55 39h2v1h-2M66 39h1v1h-1M72 39h1v1h-1M12 40h1v2h-1M15 40h1v2h-1M40 40h2v2h-2M60 40h1v2h-1M70 40h2v2h-2M27 42h1v1h-1M37 42h2v1h-2M40 42h2v1h-2M63 42h1v1h-1M66 42h1v1h-1M21 43h1v1h-1M51 43h1v1h-1M57 43h1v1h-1M70 43h2v1h-2M73 43h2v1h-2M22 44h2v1h-2M31 44h2v1h-2M34 44h2v1h-2M40 44h2v1h-2M67 44h2v1h-2M70 44h2v1h-2M21 45h1v1h-1M25 45h2v1h-2M43 45h2v1h-2M72 45h1v1h-1M16 46h2v2h-2M31 46h2v2h-2M43 46h2v2h-2M3 48h1v1h-1M6 48h1v1h-1M48 48h1v1h-1M6 49h3v1h-3M15 49h1v1h-1M22 49h2v1h-2M52 49h2v1h-2M55 49h2v1h-2M61 49h2v1h-2M66 49h1v1h-1M18 50h1v1h-1M27 50h1v1h-1M45 50h3v1h-3M25 51h2v1h-2M42 51h1v1h-1M48 51h1v1h-1M57 51h1v1h-1M66 51h1v1h-1M22 52h3v2h-3M57 52h1v2h-1M0 54h1v1h-1M42 54h1v1h-1M72 54h3v1h-3M22 55h2v1h-2M54 55h1v1h-1M70 55h2v1h-2M3 56h1v1h-1M10 56h2v1h-2M55 56h2v1h-2M63 56h1v1h-1M66 56h1v1h-1M69 56h1v1h-1M15 57h1v1h-1M18 57h1v1h-1M39 57h1v1h-1M45 57h1v1h-1M0 58h3v2h-3M28 58h2v2h-2M40 58h3v2h-3M48 58h1v2h-1M0 60h1v1h-1M46 60h2v1h-2M22 61h2v1h-2M27 61h1v1h-1M55 61h2v1h-2M61 61h2v1h-2M64 61h2v1h-2M73 61h2v1h-2M18 62h1v1h-1M24 62h3v1h-3M34 62h2v1h-2M43 62h2v1h-2M54 62h1v1h-1M61 62h2v1h-2M12 63h1v1h-1M31 63h2v1h-2M40 63h2v1h-2M52 63h2v1h-2M55 63h2v1h-2M73 63h2v1h-2M3 64h1v2h-1M15 64h1v2h-1M37 64h2v2h-2M48 64h1v2h-1M69 64h1v2h-1M0 66h1v1h-1M28 66h3v1h-3M33 66h1v1h-1M46 66h3v1h-3M55 66h2v1h-2M61 66h2v1h-2M64 66h2v1h-2M69 66h1v1h-1M6 67h1v1h-1M30 67h1v1h-1M55 67h2v1h-2M0 68h1v1h-1M9 68h1v1h-1M22 68h2v1h-2M34 68h2v1h-2M45 68h3v1h-3M66 68h1v1h-1M0 69h1v1h-1M45 69h1v1h-1M60 69h3v1h-3M72 69h1v1h-1M13 70h2v2h-2M16 70h2v2h-2M22 70h2v2h-2M27 70h1v2h-1M30 70h1v2h-1M46 70h3v2h-3M63 70h1v2h-1M69 70h1v2h-1M73 70h2v2h-2M40 72h2v1h-2M45 72h1v1h-1M18 73h1v1h-1M31 73h2v1h-2M37 73h2v1h-2M40 73h2v1h-2M39 74h1v1h-1M43 74h2v1h-2M40 75h2v1h-2M43 75h2v1h-2M55 75h3v1h-3M61 75h2v1h-2M10 76h2v2h-2M31 76h2v2h-2M64 76h2v2h-2"/><path fill="rgb(0,17,0)" d="M3 0h3v1h-3M10 0h2v1h-2M36 0h1v1h-1M39 0h1v1h-1M49 0h2v1h-2M57 0h1v1h-1M34 1h2v1h-2M37 1h2v1h-2M46 1h2v1h-2M3 2h1v1h-1M9 2h1v1h-1M13 2h3v1h-3M22 2h3v1h-3M30 2h1v1h-1M51 2h1v1h-1M55 2h2v1h-2M58 2h2v1h-2M72 2h3v1h-3M0 3h3v1h-3M67 3h2v1h-2M15 4h1v2h-1M34 4h2v2h-2M40 4h2v2h-2M4 6h2v1h-2M16 6h2v1h-2M39 6h1v1h-1M51 6h3v1h-3M70 6h2v1h-2M73 6h2v1h-2M10 7h2v1h-2M16 7h2v1h-2M31 7h2v1h-2M57 7h1v1h-1M66 7h1v1h-1M4 8h2v1h-2M54 8h1v1h-1M57 8h1v1h-1M61 8h2v1h-2M69 8h1v1h-1M3 9h1v1h-1M16 10h2v2h-2M27 10h1v2h-1M48 10h1v2h-1M60 10h1v2h-1M64 10h2v2h-2M7 12h2v1h-2M28 12h2v1h-2M33 12h1v1h-1M48 12h1v1h-1M51 12h1v1h-1M60 12h1v1h-1M69 12h1v1h-1M0 13h1v1h-1M10 13h2v1h-2M25 13h2v1h-2M36 13h1v1h-1M45 13h1v1h-1M54 13h1v1h-1M69 13h1v1h-1M7 14h2v1h-2M18 14h1v1h-1M28 14h2v1h-2M54 14h1v1h-1M73 14h2v1h-2M27 15h1v1h-1M48 15h1v1h-1M61 15h2v1h-2M45 16h1v2h-1M52 16h2v2h-2M55 16h2v2h-2M7 18h2v1h-2M10 18h2v1h-2M13 18h2v1h-2M27 18h1v1h-1M39 18h1v1h-1M6 19h1v1h-1M22 19h2v1h-2M27 19h1v1h-1M36 19h1v1h-1M40 19h2v1h-2M1 20h2v1h-2M4 20h2v1h-2M10 20h2v1h-2M13 20h2v1h-2M63 20h1v1h-1M13 21h2v1h-2M22 21h3v1h-3M34 21h2v1h-2M49 21h2v1h-2M57 21h1v1h-1M66 21h3v1h-3M73 21h2v1h-2M1 22h2v2h-2M22 22h2v2h-2M30 22h1v2h-1M48 22h3v2h-3M52 22h2v2h-2M67 22h2v2h-2M70 22h2v2h-2M3 24h1v1h-1M31 24h2v1h-2M36 24h1v1h-1M40 24h2v1h-2M43 24h2v1h-2M19 25h2v1h-2M22 25h2v1h-2M27 25h1v1h-1M40 25h2v1h-2M55 25h3v1h-3M28 26h2v1h-2M61 26h2v1h-2M70 26h2v1h-2M73 26h2v1h-2M55 27h2v1h-2M64 27h2v1h-2M16 28h2v2h-2M22 28h2v2h-2M39 28h1v2h-1M54 28h1v2h-1M61 28h2v2h-2M72 28h1v2h-1M6 30h1v1h-1M25 30h2v1h-2M28 30h2v1h-2M55 30h2v1h-2M73 30h2v1h-2M1 31h2v1h-2M9 31h1v1h-1M60 31h1v1h-1M24 32h1v1h-1M4 33h2v1h-2M18 33h3v1h-3M27 33h1v1h-1M70 33h2v1h-2M21 34h1v2h-1M49 34h2v2h-2M66 34h1v2h-1M69 34h1v2h-1M4 36h2v1h-2M7 36h2v1h-2M10 36h2v1h-2M22 36h2v1h-2M25 36h2v1h-2M28 36h2v1h-2M7 37h2v1h-2M12 37h1v1h-1M64 37h3v1h-3M1 38h2v1h-2M30 38h1v1h-1M42 38h1v1h-1M52 38h3v1h-3M22 39h2v1h-2M31 39h2v1h-2M39 39h1v1h-1M54 39h1v1h-1M13 40h2v2h-2M49 40h2v2h-2M63 40h1v2h-1M3 42h1v1h-1M6 42h1v1h-1M30 42h1v1h-1M54 42h3v1h-3M70 42h2v1h-2M0 43h1v1h-1M6 43h4v1h-4M13 43h2v1h-2M24 43h1v1h-1M36 43h1v1h-1M45 43h1v1h-1M48 43h1v1h-1M67 43h2v1h-2M45 44h3v1h-3M58 44h3v1h-3M0 45h1v1h-1M40 45h2v1h-2M66 45h1v1h-1M12 46h1v2h-1M18 46h1v2h-1M28 46h2v2h-2M45 46h1v2h-1M48 46h1v2h-1M64 46h2v2h-2M73 46h2v2h-2M1 48h2v1h-2M12 48h3v1h-3M16 48h2v1h-2M21 48h1v1h-1M39 48h1v1h-1M51 48h1v1h-1M58 48h2v1h-2M63 48h1v1h-1M12 49h1v1h-1M24 49h1v1h-1M27 49h1v1h-1M6 50h6v1h-6M22 50h2v1h-2M36 50h1v1h-1M67 50h3v1h-3M3 51h1v1h-1M15 51h1v1h-1M34 51h2v1h-2M45 51h1v1h-1M49 51h3v1h-3M72 51h1v1h-1M0 52h1v2h-1M10 52h2v2h-2M15 52h1v2h-1M18 52h3v2h-3M40 52h2v2h-2M52 52h3v2h-3M16 54h2v1h-2M39 54h1v1h-1M52 54h2v1h-2M67 54h3v1h-3M21 55h1v1h-1M24 55h1v1h-1M27 55h1v1h-1M33 55h1v1h-1M37 55h2v1h-2M46 55h2v1h-2M49 55h2v1h-2M0 56h1v1h-1M21 56h1v1h-1M28 56h3v1h-3M34 56h3v1h-3M42 56h3v1h-3M64 56h2v1h-2M1 57h2v1h-2M4 57h2v1h-2M9 57h1v1h-1M21 57h1v1h-1M64 57h2v1h-2M10 58h2v2h-2M55 58h2v2h-2M61 58h2v2h-2M9 60h1v1h-1M25 60h2v1h-2M39 60h1v1h-1M42 60h1v1h-1M67 60h2v1h-2M4 61h2v1h-2M7 61h2v1h-2M10 61h2v1h-2M24 61h1v1h-1M37 61h2v1h-2M48 61h3v1h-3M54 61h1v1h-1M66 61h3v1h-3M70 61h2v1h-2M1 62h2v1h-2M15 62h3v1h-3M49 62h3v1h-3M57 62h1v1h-1M7 63h2v1h-2M15 63h1v1h-1M22 63h2v1h-2M25 63h2v1h-2M45 63h1v1h-1M64 63h2v1h-2M69 63h1v1h-1M0 64h1v2h-1M7 64h2v2h-2M13 64h2v2h-2M45 64h1v2h-1M72 64h1v2h-1M3 66h3v1h-3M34 66h2v1h-2M42 66h1v1h-1M49 66h2v1h-2M54 66h1v1h-1M72 66h1v1h-1M18 67h1v1h-1M64 67h2v1h-2M12 68h1v1h-1M30 68h1v1h-1M55 68h2v1h-2M58 68h2v1h-2M3 69h1v1h-1M6 69h1v1h-1M27 69h3v1h-3M43 69h2v1h-2M46 69h2v1h-2M49 69h2v1h-2M69 69h3v1h-3M6 70h1v2h-1M24 70h1v2h-1M60 70h1v2h-1M7 72h2v1h-2M10 72h2v1h-2M21 72h1v1h-1M31 72h2v1h-2M0 73h1v1h-1M16 73h2v1h-2M34 73h2v1h-2M48 73h1v1h-1M58 73h2v1h-2M24 74h1v1h-1M30 74h1v1h-1M37 74h2v1h-2M49 74h3v1h-3M54 74h3v1h-3M33 75h1v1h-1M48 75h1v1h-1M52 75h2v1h-2M37 76h2v2h-2M42 76h1v2h-1M54 76h1v2h-1M66 76h1v2h-1"/><path fill="rgb(0,26,0)" d="M7 0h2v1h-2M28 0h2v1h-2M33 0h3v1h-3M45 0h1v1h-1M0 1h1v1h-1M21 1h1v1h-1M28 1h2v1h-2M52 1h2v1h-2M66 1h1v1h-1M1 2h2v1h-2M45 2h1v1h-1M39 3h1v1h-1M70 3h2v1h-2M3 4h1v2h-1M9 4h1v2h-1M19 4h2v2h-2M22 4h2v2h-2M27 4h3v2h-3M52 4h2v2h-2M64 4h2v2h-2M7 6h2v1h-2M10 6h2v1h-2M31 6h2v1h-2M42 6h1v1h-1M54 6h1v1h-1M60 6h1v1h-1M46 7h2v1h-2M64 7h2v1h-2M69 7h1v1h-1M0 8h1v1h-1M10 8h2v1h-2M31 8h2v1h-2M36 8h1v1h-1M9 9h1v1h-1M15 9h1v1h-1M25 9h2v1h-2M39 9h1v1h-1M54 9h1v1h-1M72 9h1v1h-1M15 10h1v2h-1M40 10h2v2h-2M49 10h2v2h-2M63 10h1v2h-1M0 12h1v1h-1M4 12h2v1h-2M10 12h2v1h-2M19 12h2v1h-2M40 12h2v1h-2M49 12h2v1h-2M30 13h1v1h-1M51 13h1v1h-1M72 13h1v1h-1M57 14h1v1h-1M70 14h2v1h-2M3 15h1v1h-1M12 15h1v1h-1M19 15h2v1h-2M34 15h2v1h-2M37 15h2v1h-2M46 15h2v1h-2M60 15h1v1h-1M66 15h1v1h-1M0 16h1v2h-1M7 16h2v2h-2M15 16h3v2h-3M19 16h2v2h-2M25 16h2v2h-2M37 16h2v2h-2M40 16h2v2h-2M1 18h2v1h-2M9 18h1v1h-1M16 18h2v1h-2M19 18h2v1h-2M28 18h2v1h-2M45 18h1v1h-1M66 18h1v1h-1M39 19h1v1h-1M43 19h2v1h-2M51 19h1v1h-1M61 19h2v1h-2M64 19h2v1h-2M73 19h2v1h-2M0 20h1v1h-1M9 20h1v1h-1M15 20h1v1h-1M19 20h2v1h-2M49 20h2v1h-2M57 20h1v1h-1M10 21h2v1h-2M16 21h2v1h-2M25 21h2v1h-2M63 21h3v1h-3M69 21h3v1h-3M12 22h1v2h-1M19 22h2v2h-2M24 22h1v2h-1M27 22h1v2h-1M33 22h1v2h-1M60 22h1v2h-1M66 22h1v2h-1M1 24h2v1h-2M16 24h2v1h-2M6 25h1v1h-1M18 25h1v1h-1M24 25h1v1h-1M36 25h1v1h-1M45 25h1v1h-1M7 26h2v1h-2M25 26h2v1h-2M31 26h2v1h-2M34 26h2v1h-2M43 26h2v1h-2M52 26h2v1h-2M64 26h3v1h-3M72 26h1v1h-1M3 27h1v1h-1M16 27h2v1h-2M34 27h3v1h-3M39 27h4v1h-4M63 27h1v1h-1M67 27h3v1h-3M73 27h2v1h-2M31 28h2v2h-2M43 28h2v2h-2M57 28h3v2h-3M3 30h1v1h-1M16 30h2v1h-2M42 30h1v1h-1M57 30h1v1h-1M72 30h1v1h-1M36 31h1v1h-1M43 31h2v1h-2M52 31h2v1h-2M66 31h1v1h-1M0 32h1v1h-1M46 32h2v1h-2M69 32h1v1h-1M73 32h2v1h-2M28 33h3v1h-3M40 33h2v1h-2M49 33h2v1h-2M54 33h1v1h-1M73 33h2v1h-2M0 34h1v2h-1M27 34h1v2h-1M39 34h1v2h-1M43 34h2v2h-2M1 36h2v1h-2M13 36h2v1h-2M16 36h3v1h-3M21 36h1v1h-1M45 36h1v1h-1M60 36h1v1h-1M64 36h2v1h-2M27 37h3v1h-3M31 37h2v1h-2M51 37h1v1h-1M69 37h1v1h-1M43 38h2v1h-2M51 38h1v1h-1M57 38h1v1h-1M60 38h1v1h-1M1 39h2v1h-2M57 39h1v1h-1M4 40h3v2h-3M19 40h2v2h-2M25 40h2v2h-2M52 40h2v2h-2M55 40h3v2h-3M72 40h1v2h-1M13 42h2v1h-2M16 42h2v1h-2M19 42h2v1h-2M28 42h2v1h-2M39 42h1v1h-1M42 42h1v1h-1M52 42h2v1h-2M60 42h1v1h-1M73 42h2v1h-2M40 43h2v1h-2M52 43h2v1h-2M37 44h2v1h-2M43 44h2v1h-2M69 44h1v1h-1M10 45h2v1h-2M24 45h1v1h-1M49 45h2v1h-2M52 45h2v1h-2M0 46h1v2h-1M13 46h2v2h-2M30 46h1v2h-1M42 46h1v2h-1M54 46h1v2h-1M70 46h2v2h-2M7 48h2v1h-2M33 48h1v1h-1M54 48h1v1h-1M1 49h3v1h-3M21 49h1v1h-1M43 49h2v1h-2M46 49h3v1h-3M57 49h1v1h-1M72 49h1v1h-1M25 50h2v1h-2M48 50h1v1h-1M72 50h1v1h-1M18 51h1v1h-1M22 51h2v1h-2M69 51h3v1h-3M1 52h2v2h-2M27 52h1v2h-1M31 52h2v2h-2M69 52h1v2h-1M72 52h1v2h-1M6 54h1v1h-1M9 54h1v1h-1M15 54h1v1h-1M46 54h2v1h-2M63 54h1v1h-1M1 55h2v1h-2M40 55h2v1h-2M43 55h2v1h-2M48 55h1v1h-1M69 55h1v1h-1M15 56h1v1h-1M73 56h2v1h-2M10 57h2v1h-2M22 57h2v1h-2M28 57h2v1h-2M33 57h1v1h-1M61 57h2v1h-2M16 58h2v2h-2M21 58h1v2h-1M25 58h2v2h-2M31 58h2v2h-2M39 58h1v2h-1M57 58h1v2h-1M60 58h1v2h-1M4 60h2v1h-2M7 60h2v1h-2M15 60h1v1h-1M24 60h1v1h-1M27 60h1v1h-1M48 60h1v1h-1M52 60h2v1h-2M60 60h1v1h-1M6 61h1v1h-1M21 61h1v1h-1M25 61h2v1h-2M36 61h1v1h-1M43 61h2v1h-2M57 61h1v1h-1M72 61h1v1h-1M10 62h2v1h-2M21 62h1v1h-1M28 62h2v1h-2M64 62h2v1h-2M73 62h2v1h-2M0 63h1v1h-1M24 63h1v1h-1M43 63h2v1h-2M58 63h2v1h-2M1 64h2v2h-2M16 64h2v2h-2M22 64h2v2h-2M36 64h1v2h-1M73 64h2v2h-2M10 66h2v1h-2M18 66h1v1h-1M22 66h2v1h-2M40 66h2v1h-2M63 66h1v1h-1M66 66h1v1h-1M3 67h1v1h-1M16 67h2v1h-2M19 67h2v1h-2M22 67h2v1h-2M25 67h2v1h-2M40 67h2v1h-2M46 67h2v1h-2M60 67h1v1h-1M69 67h1v1h-1M33 68h1v1h-1M54 68h1v1h-1M57 68h1v1h-1M64 68h2v1h-2M67 68h2v1h-2M70 68h2v1h-2M30 69h1v1h-1M33 69h1v1h-1M36 69h1v1h-1M28 70h2v2h-2M31 70h2v2h-2M70 70h3v2h-3M0 72h1v1h-1M18 72h3v1h-3M28 72h2v1h-2M42 72h1v1h-1M48 72h1v1h-1M63 72h1v1h-1M6 73h1v1h-1M13 73h2v1h-2M19 73h2v1h-2M28 73h2v1h-2M33 73h1v1h-1M42 73h1v1h-1M49 73h2v1h-2M54 73h1v1h-1M70 73h2v1h-2M63 74h1v1h-1M7 75h2v1h-2M12 75h1v1h-1M30 75h1v1h-1M46 75h2v1h-2M63 75h1v1h-1M67 75h2v1h-2M7 76h3v2h-3M21 76h1v2h-1M36 76h1v2h-1M40 76h2v2h-2M43 76h2v2h-2M67 76h2v2h-2M73 76h2v2h-2"/><path fill="rgb(0,34,0)" d="M43 0h2v1h-2M61 0h2v1h-2M73 0h2v1h-2M13 1h2v1h-2M25 1h2v1h-2M39 1h1v1h-1M48 1h1v1h-1M54 1h1v1h-1M69 1h1v1h-1M12 2h1v1h-1M25 2h2v1h-2M54 2h1v1h-1M69 2h1v1h-1M6 3h1v1h-1M24 3h1v1h-1M40 3h2v1h-2M60 3h1v1h-1M0 4h1v2h-1M60 4h1v2h-1M69 4h1v2h-1M18 6h1v1h-1M21 6h3v1h-3M28 6h2v1h-2M43 6h2v1h-2M9 7h1v1h-1M13 7h2v1h-2M27 7h1v1h-1M30 7h1v1h-1M33 7h1v1h-1M13 8h2v1h-2M48 8h1v1h-1M70 8h2v1h-2M40 9h2v1h-2M52 9h2v1h-2M64 9h3v1h-3M1 10h2v2h-2M7 10h2v2h-2M18 10h1v2h-1M21 10h1v2h-1M28 10h3v2h-3M39 10h1v2h-1M42 10h1v2h-1M66 10h1v2h-1M1 12h2v1h-2M9 12h1v1h-1M15 12h1v1h-1M18 12h1v1h-1M54 12h1v1h-1M58 12h2v1h-2M33 13h1v1h-1M64 13h2v1h-2M3 14h1v1h-1M36 14h1v1h-1M61 14h3v1h-3M66 14h1v1h-1M4 15h2v1h-2M18 15h1v1h-1M21 15h3v1h-3M42 15h1v1h-1M55 15h2v1h-2M67 15h3v1h-3M1 16h2v2h-2M12 16h1v2h-1M51 16h1v2h-1M72 16h1v2h-1M21 18h1v1h-1M46 18h2v1h-2M64 18h2v1h-2M18 19h1v1h-1M45 19h1v1h-1M6 20h1v1h-1M27 20h1v1h-1M33 20h1v1h-1M36 20h1v1h-1M64 20h2v1h-2M21 21h1v1h-1M28 21h2v1h-2M42 21h1v1h-1M45 21h1v1h-1M55 22h2v2h-2M69 22h1v2h-1M0 24h1v1h-1M9 24h1v1h-1M18 24h3v1h-3M27 24h3v1h-3M34 24h2v1h-2M72 24h1v1h-1M12 25h1v1h-1M52 25h2v1h-2M1 26h2v1h-2M4 26h2v1h-2M40 26h2v1h-2M45 26h1v1h-1M57 26h1v1h-1M10 27h2v1h-2M21 27h1v1h-1M24 27h1v1h-1M9 28h1v2h-1M19 28h2v2h-2M28 28h3v2h-3M37 28h2v2h-2M21 30h1v1h-1M37 30h2v1h-2M70 30h2v1h-2M4 31h2v1h-2M7 31h2v1h-2M13 31h2v1h-2M27 31h1v1h-1M72 31h1v1h-1M15 32h1v1h-1M18 32h3v1h-3M31 32h2v1h-2M34 32h2v1h-2M45 32h1v1h-1M61 32h3v1h-3M51 33h3v1h-3M57 33h1v1h-1M60 33h1v1h-1M33 34h1v2h-1M52 34h2v2h-2M70 34h2v2h-2M15 36h1v1h-1M48 36h3v1h-3M57 36h1v1h-1M73 36h2v1h-2M13 37h2v1h-2M21 37h3v1h-3M67 37h2v1h-2M9 38h1v1h-1M24 38h1v1h-1M28 38h2v1h-2M31 38h2v1h-2M66 38h1v1h-1M9 39h1v1h-1M15 39h1v1h-1M18 39h1v1h-1M24 39h1v1h-1M46 39h2v1h-2M16 40h2v2h-2M42 40h1v2h-1M45 40h1v2h-1M18 42h1v1h-1M31 42h2v1h-2M34 42h2v1h-2M49 43h2v1h-2M55 43h2v1h-2M12 44h1v1h-1M24 44h3v1h-3M39 44h1v1h-1M52 44h2v1h-2M73 44h2v1h-2M18 45h1v1h-1M37 45h2v1h-2M42 45h1v1h-1M64 45h2v1h-2M25 46h2v2h-2M37 46h2v2h-2M55 46h2v2h-2M66 46h1v2h-1M69 46h1v2h-1M30 48h1v1h-1M55 48h2v1h-2M19 49h2v1h-2M28 49h2v1h-2M64 49h2v1h-2M69 49h1v1h-1M0 50h3v1h-3M16 50h2v1h-2M33 50h1v1h-1M49 50h2v1h-2M6 51h1v1h-1M12 51h1v1h-1M28 51h2v1h-2M37 51h2v1h-2M46 51h2v1h-2M60 52h1v2h-1M70 52h2v2h-2M3 54h1v1h-1M22 54h2v1h-2M34 54h2v1h-2M40 54h2v1h-2M54 54h1v1h-1M58 54h2v1h-2M66 54h1v1h-1M3 55h1v1h-1M18 55h1v1h-1M55 55h2v1h-2M1 56h2v1h-2M6 56h1v1h-1M24 57h1v1h-1M27 57h1v1h-1M67 57h2v1h-2M24 58h1v2h-1M43 58h2v2h-2M51 58h1v2h-1M58 58h2v2h-2M72 58h1v2h-1M16 60h2v1h-2M0 61h1v1h-1M3 61h1v1h-1M45 61h1v1h-1M6 62h1v1h-1M40 62h2v1h-2M48 62h1v1h-1M66 62h1v1h-1M4 63h2v1h-2M9 63h1v1h-1M16 63h2v1h-2M54 63h1v1h-1M49 64h2v2h-2M64 64h2v2h-2M15 66h1v1h-1M27 66h1v1h-1M36 66h1v1h-1M39 66h1v1h-1M52 66h2v1h-2M67 66h2v1h-2M4 67h2v1h-2M24 67h1v1h-1M27 67h1v1h-1M34 67h2v1h-2M51 67h1v1h-1M36 68h1v1h-1M63 68h1v1h-1M21 69h1v1h-1M42 69h1v1h-1M48 69h1v1h-1M51 69h1v1h-1M58 69h2v1h-2M7 70h2v2h-2M42 70h1v2h-1M58 70h2v2h-2M64 70h2v2h-2M33 72h1v1h-1M57 72h1v1h-1M64 72h2v1h-2M10 73h3v1h-3M21 73h1v1h-1M60 73h1v1h-1M66 73h1v1h-1M72 73h1v1h-1M25 74h2v1h-2M28 74h2v1h-2M33 74h1v1h-1M61 74h2v1h-2M64 74h2v1h-2M3 75h3v1h-3M24 75h1v1h-1M31 75h2v1h-2M37 75h2v1h-2M69 75h3v1h-3M19 76h2v2h-2M34 76h2v2h-2M39 76h1v2h-1"/><path fill="rgb(0,42,0)" d="M15 0h1v1h-1M22 0h2v1h-2M40 0h2v1h-2M67 0h2v1h-2M18 1h1v1h-1M30 1h1v1h-1M58 1h2v1h-2M18 2h1v1h-1M33 2h1v1h-1M39 2h1v1h-1M15 3h1v1h-1M18 3h1v1h-1M48 3h1v1h-1M21 4h1v2h-1M33 4h1v2h-1M39 4h1v2h-1M43 4h2v2h-2M27 6h1v1h-1M61 6h2v1h-2M69 6h1v1h-1M3 7h1v1h-1M6 7h1v1h-1M21 7h1v1h-1M28 7h2v1h-2M42 7h1v1h-1M7 8h2v1h-2M46 8h2v1h-2M49 8h2v1h-2M64 8h2v1h-2M67 8h2v1h-2M10 9h2v1h-2M21 9h1v1h-1M57 9h1v1h-1M31 10h2v2h-2M36 10h1v2h-1M70 10h2v2h-2M22 12h2v1h-2M15 13h1v1h-1M34 13h2v1h-2M46 13h2v1h-2M63 13h1v1h-1M73 13h2v1h-2M10 14h2v1h-2M54 15h1v1h-1M42 16h3v2h-3M48 16h1v2h-1M60 16h1v2h-1M48 18h1v1h-1M61 18h2v1h-2M3 19h1v1h-1M15 19h1v1h-1M19 19h2v1h-2M33 19h3v1h-3M37 19h2v1h-2M60 19h1v1h-1M18 20h1v1h-1M24 20h1v1h-1M37 20h3v1h-3M45 20h1v1h-1M55 20h2v1h-2M69 20h1v1h-1M0 21h1v1h-1M54 21h1v1h-1M61 21h2v1h-2M72 21h1v1h-1M7 22h2v2h-2M18 22h1v2h-1M34 22h2v2h-2M39 22h1v2h-1M4 24h2v1h-2M13 24h2v1h-2M39 24h1v1h-1M42 24h1v1h-1M52 24h2v1h-2M25 25h2v1h-2M67 25h2v1h-2M3 26h1v1h-1M30 26h1v1h-1M39 26h1v1h-1M1 27h2v1h-2M33 27h1v1h-1M45 27h1v1h-1M58 27h2v1h-2M3 28h1v2h-1M25 28h2v2h-2M49 28h2v2h-2M9 30h1v1h-1M51 30h1v1h-1M61 30h2v1h-2M19 31h2v1h-2M30 31h1v1h-1M54 31h1v1h-1M57 31h1v1h-1M1 32h2v1h-2M60 32h1v1h-1M1 33h2v1h-2M48 33h1v1h-1M58 33h2v1h-2M72 33h1v1h-1M1 34h2v2h-2M12 34h1v2h-1M42 34h1v2h-1M0 36h1v1h-1M24 36h1v1h-1M30 36h1v1h-1M52 36h2v1h-2M58 36h2v1h-2M63 36h1v1h-1M1 37h2v1h-2M37 37h2v1h-2M43 37h2v1h-2M46 37h2v1h-2M72 37h1v1h-1M4 38h2v1h-2M34 38h2v1h-2M45 38h1v1h-1M61 38h2v1h-2M69 38h1v1h-1M0 39h1v1h-1M18 40h1v2h-1M22 40h2v2h-2M34 40h2v2h-2M51 40h1v2h-1M67 40h2v2h-2M58 42h2v1h-2M10 43h3v1h-3M3 44h1v1h-1M10 44h2v1h-2M18 44h1v1h-1M33 44h1v1h-1M51 44h1v1h-1M55 44h2v1h-2M22 45h2v1h-2M36 45h1v1h-1M58 45h2v1h-2M27 46h1v2h-1M40 46h2v2h-2M49 46h2v2h-2M57 46h1v2h-1M61 46h2v2h-2M67 46h2v2h-2M4 48h2v1h-2M24 48h1v1h-1M27 48h1v1h-1M60 48h1v1h-1M66 48h1v1h-1M4 49h2v1h-2M39 49h1v1h-1M51 49h1v1h-1M73 49h2v1h-2M43 50h2v1h-2M21 51h1v1h-1M37 52h2v2h-2M63 52h1v2h-1M1 54h2v1h-2M18 54h1v1h-1M24 54h1v1h-1M64 54h2v1h-2M30 55h3v1h-3M7 56h2v1h-2M16 56h2v1h-2M39 56h1v1h-1M0 57h1v1h-1M43 57h2v1h-2M51 57h1v1h-1M70 57h3v1h-3M22 58h2v2h-2M37 58h2v2h-2M64 58h2v2h-2M1 60h2v1h-2M18 60h1v1h-1M57 60h1v1h-1M34 61h2v1h-2M60 61h1v1h-1M3 62h1v1h-1M13 62h2v1h-2M27 62h1v1h-1M46 62h2v1h-2M67 62h2v1h-2M10 63h2v1h-2M67 63h2v1h-2M72 63h1v1h-1M10 64h2v2h-2M19 64h2v2h-2M43 64h2v2h-2M1 66h2v1h-2M21 66h1v1h-1M31 66h2v1h-2M43 66h2v1h-2M51 66h1v1h-1M9 67h1v1h-1M15 67h1v1h-1M33 67h1v1h-1M66 67h1v1h-1M72 67h1v1h-1M21 68h1v1h-1M27 68h1v1h-1M61 68h2v1h-2M1 70h2v2h-2M25 70h2v2h-2M39 70h1v2h-1M45 70h1v2h-1M57 70h1v2h-1M67 70h2v2h-2M25 72h2v1h-2M49 72h2v1h-2M67 72h2v1h-2M4 73h2v1h-2M9 73h1v1h-1M45 73h1v1h-1M1 74h3v1h-3M7 74h3v1h-3M48 74h1v1h-1M57 74h3v1h-3M42 75h1v1h-1M60 75h1v1h-1M13 76h2v2h-2M25 76h3v2h-3M46 76h2v2h-2"/><path fill="rgb(0,51,0)" d="M0 0h1v1h-1M67 2h2v1h-2M9 3h1v1h-1M13 3h2v1h-2M61 3h2v1h-2M64 3h2v1h-2M73 3h2v1h-2M73 7h2v1h-2M22 8h2v1h-2M42 8h1v1h-1M4 10h2v2h-2M73 10h2v2h-2M4 13h2v1h-2M18 13h1v1h-1M28 13h2v1h-2M66 16h1v2h-1M31 18h2v1h-2M7 19h2v1h-2M42 19h1v1h-1M54 19h1v1h-1M46 20h2v1h-2M70 20h2v1h-2M58 21h2v1h-2M48 24h1v1h-1M0 25h1v1h-1M9 25h1v1h-1M60 25h1v1h-1M73 25h2v1h-2M0 26h1v1h-1M27 26h1v1h-1M13 27h2v1h-2M18 27h1v1h-1M31 27h2v1h-2M49 27h2v1h-2M51 28h1v2h-1M58 31h2v1h-2M63 31h1v1h-1M24 33h1v1h-1M34 33h2v1h-2M46 33h2v1h-2M63 33h1v1h-1M31 34h2v2h-2M40 36h2v1h-2M43 36h2v1h-2M24 37h1v1h-1M33 37h1v1h-1M46 38h2v1h-2M16 39h2v1h-2M33 39h1v1h-1M42 39h1v1h-1M48 39h1v1h-1M54 40h1v2h-1M64 40h2v2h-2M48 44h1v1h-1M1 45h2v1h-2M4 45h2v1h-2M45 45h3v1h-3M40 48h2v1h-2M67 48h2v1h-2M13 49h2v1h-2M15 50h1v1h-1M19 50h2v1h-2M28 50h2v1h-2M40 50h2v1h-2M31 51h2v1h-2M39 51h1v1h-1M43 51h2v1h-2M43 52h2v2h-2M66 52h1v2h-1M73 52h2v2h-2M6 55h1v1h-1M58 55h2v1h-2M30 57h1v1h-1M34 58h2v2h-2M70 58h2v2h-2M58 60h2v1h-2M66 60h1v1h-1M70 62h2v1h-2M27 63h1v1h-1M51 63h1v1h-1M21 64h1v2h-1M31 64h2v2h-2M39 64h1v2h-1M57 64h1v2h-1M58 67h2v1h-2M48 68h1v1h-1M37 69h2v1h-2M3 70h1v2h-1M12 70h1v2h-1M34 70h2v2h-2M40 70h2v2h-2M43 70h2v2h-2M16 72h2v1h-2M70 72h2v1h-2M24 73h1v1h-1M51 73h1v1h-1M27 74h1v1h-1M66 75h1v1h-1M4 76h2v2h-2M15 76h1v2h-1M52 76h2v2h-2"/><path fill="rgb(0,60,0)" d="M72 0h1v1h-1M7 3h2v1h-2M36 3h1v1h-1M46 3h2v1h-2M58 6h2v1h-2M52 7h2v1h-2M58 7h2v1h-2M6 8h1v1h-1M69 9h1v1h-1M70 12h2v1h-2M18 18h1v1h-1M30 18h1v1h-1M36 21h1v1h-1M45 22h1v2h-1M12 24h1v1h-1M28 25h2v1h-2M42 26h1v1h-1M37 27h2v1h-2M18 30h1v1h-1M64 31h2v1h-2M18 34h1v2h-1M33 36h1v1h-1M18 37h1v1h-1M52 37h2v1h-2M33 42h1v1h-1M30 45h1v1h-1M57 45h1v1h-1M39 46h1v2h-1M60 55h1v1h-1M66 55h1v1h-1M6 57h1v1h-1M40 57h2v1h-2M18 58h1v2h-1M52 62h2v1h-2M33 63h1v1h-1M70 66h2v1h-2M37 67h2v1h-2M39 68h1v1h-1M24 69h1v1h-1M18 70h1v2h-1M72 72h1v1h-1M69 74h1v1h-1M18 75h1v1h-1M39 75h1v1h-1M18 76h1v2h-1"/><path fill="rgb(0,68,0)" d="M19 0h2v1h-2M16 2h2v1h-2M34 18h2v1h-2M57 22h1v2h-1M51 25h1v1h-1M45 30h1v1h-1M66 30h1v1h-1M46 31h2v1h-2M46 36h2v1h-2M16 38h2v1h-2M15 46h1v2h-1M60 46h1v2h-1M58 51h2v1h-2M57 54h1v1h-1M63 62h1v1h-1M49 70h2v2h-2M36 73h1v1h-1M58 76h2v2h-2"/></g></pattern>
<pattern id="nB2" width="63" height="66" patternUnits="userSpaceOnUse" patternTransform="translate(250,59)"><g shape-rendering="crispEdges"><path fill="rgb(0,0,110)" d="M27 62h1v1h-1"/><path fill="rgb(0,0,102)" d="M13 34h2v2h-2"/><path fill="rgb(0,0,94)" d="M21 10h1v2h-1M52 50h2v1h-2M15 57h1v1h-1"/><path fill="rgb(0,0,76)" d="M1 30h2v1h-2M24 40h1v2h-1M37 43h2v1h-2M3 44h1v1h-1"/><path fill="rgb(0,0,68)" d="M54 6h1v1h-1M31 18h2v1h-2M49 20h2v1h-2M55 31h2v1h-2M30 49h1v1h-1M25 51h2v1h-2M43 61h2v1h-2"/><path fill="rgb(0,0,60)" d="M33 3h1v1h-1M25 13h2v1h-2M48 20h1v1h-1M45 24h1v1h-1M37 42h2v1h-2M16 45h2v1h-2M24 46h1v2h-1M16 48h2v1h-2M3 55h1v1h-1M4 60h2v1h-2M9 60h1v1h-1M43 60h2v1h-2"/><path fill="rgb(0,0,51)" d="M27 3h1v1h-1M43 7h2v1h-2M58 8h2v1h-2M37 10h2v2h-2M0 12h1v1h-1M58 14h2v1h-2M15 19h1v1h-1M28 19h2v1h-2M31 19h2v1h-2M60 21h1v1h-1M36 22h1v2h-1M46 24h2v1h-2M4 30h2v1h-2M18 30h1v1h-1M48 30h1v1h-1M27 31h1v1h-1M22 32h2v1h-2M61 33h2v1h-2M16 34h2v2h-2M9 38h1v1h-1M12 42h1v1h-1M61 51h2v1h-2M10 52h3v2h-3M1 61h2v1h-2M1 64h2v2h-2"/><path fill="rgb(0,0,42)" d="M55 1h2v1h-2M10 2h2v1h-2M18 2h1v1h-1M37 2h2v1h-2M48 3h1v1h-1M25 6h2v1h-2M42 8h1v1h-1M52 8h2v1h-2M15 9h1v1h-1M16 10h2v2h-2M9 13h1v1h-1M21 13h1v1h-1M49 13h2v1h-2M54 16h1v2h-1M34 18h2v1h-2M19 19h2v1h-2M43 20h2v1h-2M9 24h1v1h-1M39 24h1v1h-1M33 27h1v1h-1M10 32h2v1h-2M42 33h1v1h-1M30 37h1v1h-1M24 39h1v1h-1M7 42h2v1h-2M24 42h3v1h-3M33 43h1v1h-1M7 48h2v1h-2M31 50h2v1h-2M48 52h1v2h-1M12 56h1v1h-1M31 57h2v1h-2M7 58h2v2h-2M18 58h1v2h-1M36 60h1v1h-1M27 61h1v1h-1M48 61h1v1h-1M28 62h2v1h-2M55 63h2v1h-2"/><path fill="rgb(0,0,34)" d="M7 0h2v1h-2M19 2h2v1h-2M6 4h1v2h-1M27 6h1v1h-1M28 7h2v1h-2M9 8h1v1h-1M49 8h2v1h-2M0 9h1v1h-1M60 9h1v1h-1M13 10h2v2h-2M16 14h2v1h-2M42 14h1v1h-1M15 15h1v1h-1M24 15h1v1h-1M6 16h1v2h-1M37 16h2v2h-2M49 16h2v2h-2M12 19h1v1h-1M16 19h2v1h-2M30 19h1v1h-1M39 20h1v1h-1M6 22h1v2h-1M27 22h1v2h-1M54 22h1v2h-1M7 24h2v1h-2M13 25h2v1h-2M33 25h3v1h-3M15 26h1v1h-1M33 26h1v1h-1M13 27h2v1h-2M16 28h2v2h-2M40 28h2v2h-2M43 28h2v2h-2M40 31h2v1h-2M25 32h2v1h-2M12 33h1v1h-1M7 34h2v2h-2M28 34h2v2h-2M42 34h1v2h-1M10 36h2v1h-2M25 36h2v1h-2M33 37h4v1h-4M42 37h1v1h-1M34 38h2v1h-2M51 38h1v1h-1M3 40h1v2h-1M10 40h2v2h-2M39 40h1v2h-1M30 42h1v1h-1M55 42h2v1h-2M36 43h1v1h-1M58 43h2v1h-2M13 44h2v1h-2M52 44h2v1h-2M15 45h1v1h-1M33 45h1v1h-1M21 46h1v2h-1M30 46h1v2h-1M33 46h1v2h-1M22 49h2v1h-2M13 50h2v1h-2M43 50h2v1h-2M28 51h2v1h-2M60 52h1v2h-1M16 54h2v1h-2M22 54h2v1h-2M55 54h2v1h-2M7 56h2v1h-2M28 57h2v1h-2M34 57h2v1h-2M12 58h1v2h-1M25 61h2v1h-2M13 63h2v1h-2M43 63h2v1h-2"/><path fill="rgb(0,0,26)" d="M27 0h1v1h-1M1 1h2v1h-2M60 1h1v1h-1M4 2h2v1h-2M24 2h1v1h-1M27 2h1v1h-1M37 3h3v1h-3M45 3h1v1h-1M51 3h1v1h-1M36 4h1v2h-1M33 6h1v1h-1M13 7h2v1h-2M21 7h3v1h-3M37 7h2v1h-2M34 8h2v1h-2M39 9h1v1h-1M25 10h2v2h-2M58 10h2v2h-2M10 12h2v1h-2M13 12h2v1h-2M19 12h2v1h-2M37 12h2v1h-2M61 12h2v1h-2M55 13h2v1h-2M60 13h1v1h-1M43 14h5v1h-5M61 14h2v1h-2M4 15h2v1h-2M19 15h2v1h-2M22 15h2v1h-2M54 15h1v1h-1M13 16h2v2h-2M3 18h1v1h-1M6 18h1v1h-1M60 18h1v1h-1M6 19h1v1h-1M10 19h2v1h-2M12 20h1v1h-1M0 21h1v1h-1M33 21h1v1h-1M15 22h1v2h-1M21 22h1v2h-1M27 24h1v1h-1M60 24h1v1h-1M19 25h2v1h-2M24 26h1v1h-1M37 26h2v1h-2M49 26h5v1h-5M16 27h2v1h-2M6 28h1v2h-1M15 30h1v1h-1M12 31h1v1h-1M22 31h2v1h-2M51 31h1v1h-1M13 33h2v1h-2M49 33h2v1h-2M34 34h2v2h-2M55 38h2v1h-2M40 39h2v1h-2M7 40h2v2h-2M57 40h1v2h-1M33 42h1v1h-1M40 43h2v1h-2M54 43h3v1h-3M1 46h2v2h-2M54 46h1v2h-1M9 48h1v1h-1M40 48h2v1h-2M45 48h1v1h-1M55 48h2v1h-2M16 49h2v1h-2M34 49h2v1h-2M57 50h1v1h-1M0 51h1v1h-1M15 51h3v1h-3M3 54h1v1h-1M52 55h2v1h-2M4 56h2v1h-2M28 56h2v1h-2M42 56h1v1h-1M1 57h2v1h-2M22 57h2v1h-2M45 58h1v2h-1M24 60h1v1h-1M40 60h2v1h-2M46 60h2v1h-2M0 61h1v1h-1M34 61h2v1h-2M45 61h1v1h-1M43 62h2v1h-2M60 62h1v1h-1M0 63h1v1h-1M45 63h1v1h-1M51 64h1v2h-1"/><path fill="rgb(0,0,17)" d="M40 0h2v1h-2M45 0h1v1h-1M52 0h2v1h-2M28 1h2v1h-2M40 1h2v1h-2M6 2h1v1h-1M43 2h2v1h-2M28 3h2v1h-2M31 3h2v1h-2M4 4h2v2h-2M27 4h1v2h-1M60 4h1v2h-1M12 6h3v1h-3M19 6h2v1h-2M37 6h3v1h-3M61 7h2v1h-2M3 8h1v1h-1M21 8h1v1h-1M6 9h1v1h-1M24 9h1v1h-1M36 9h1v1h-1M10 10h2v2h-2M60 10h1v2h-1M49 12h2v1h-2M1 13h2v1h-2M28 13h2v1h-2M31 13h2v1h-2M61 13h2v1h-2M6 14h1v1h-1M12 14h1v1h-1M21 14h1v1h-1M28 15h2v1h-2M36 15h1v1h-1M0 16h1v2h-1M31 16h2v2h-2M52 16h2v2h-2M12 18h1v1h-1M30 18h1v1h-1M42 18h1v1h-1M33 19h1v1h-1M60 19h1v1h-1M9 20h1v1h-1M13 20h2v1h-2M4 21h2v1h-2M46 21h2v1h-2M51 21h3v1h-3M34 22h2v2h-2M39 22h1v2h-1M45 22h1v2h-1M34 24h2v1h-2M49 24h2v1h-2M10 25h2v1h-2M18 25h1v1h-1M25 25h2v1h-2M0 26h3v1h-3M7 27h2v1h-2M45 27h1v1h-1M1 28h3v2h-3M21 28h1v2h-1M21 30h1v1h-1M6 31h4v1h-4M28 31h3v1h-3M0 32h1v1h-1M7 32h2v1h-2M24 32h1v1h-1M42 32h1v1h-1M52 32h2v1h-2M1 33h2v1h-2M24 33h1v1h-1M33 33h1v1h-1M0 34h1v2h-1M13 36h2v1h-2M31 36h2v1h-2M43 36h2v1h-2M55 36h2v1h-2M22 37h2v1h-2M31 37h2v1h-2M48 37h1v1h-1M12 38h1v1h-1M18 38h1v1h-1M21 38h1v1h-1M36 38h1v1h-1M40 38h2v1h-2M4 39h2v1h-2M25 39h2v1h-2M45 39h3v1h-3M58 39h2v1h-2M30 40h1v2h-1M36 40h1v2h-1M10 42h2v1h-2M16 42h2v1h-2M1 43h2v1h-2M6 43h1v1h-1M9 43h1v1h-1M15 43h1v1h-1M25 43h2v1h-2M34 43h2v1h-2M12 44h1v1h-1M15 44h1v1h-1M22 44h2v1h-2M1 45h2v1h-2M12 45h1v1h-1M43 45h2v1h-2M55 45h2v1h-2M58 45h2v1h-2M0 46h1v2h-1M7 46h2v2h-2M10 46h2v2h-2M28 46h2v2h-2M52 46h2v2h-2M30 48h3v1h-3M34 48h2v1h-2M58 48h2v1h-2M7 49h2v1h-2M42 49h1v1h-1M39 50h3v1h-3M45 50h1v1h-1M51 50h1v1h-1M61 50h2v1h-2M6 51h1v1h-1M19 52h2v2h-2M51 52h1v2h-1M54 52h1v2h-1M10 54h3v1h-3M21 54h1v1h-1M27 54h1v1h-1M36 54h1v1h-1M25 55h2v1h-2M57 55h1v1h-1M6 56h1v1h-1M18 56h1v1h-1M21 56h1v1h-1M39 56h3v1h-3M49 56h2v1h-2M58 56h2v1h-2M61 56h2v1h-2M12 57h1v1h-1M27 57h1v1h-1M33 57h1v1h-1M48 57h1v1h-1M58 57h2v1h-2M15 58h1v2h-1M27 58h1v2h-1M31 58h2v2h-2M31 60h2v1h-2M21 61h1v1h-1M30 61h1v1h-1M36 61h1v1h-1M0 62h1v1h-1M3 62h1v1h-1M9 62h1v1h-1M48 62h1v1h-1M1 63h2v1h-2M27 63h1v1h-1M12 64h1v2h-1M25 64h2v2h-2M34 64h3v2h-3M42 64h1v2h-1M49 64h2v2h-2M57 64h1v2h-1"/><path fill="rgb(0,0,8)" d="M10 0h2v1h-2M16 0h2v1h-2M28 0h2v1h-2M33 0h1v1h-1M36 0h1v1h-1M43 0h2v1h-2M54 0h1v1h-1M7 1h6v1h-6M25 1h2v1h-2M51 1h1v1h-1M9 2h1v1h-1M15 2h1v1h-1M21 2h1v1h-1M31 2h3v1h-3M46 2h2v1h-2M34 3h2v1h-2M42 3h1v1h-1M54 3h1v1h-1M60 3h1v1h-1M0 4h1v2h-1M10 4h2v2h-2M18 4h1v2h-1M22 4h2v2h-2M25 4h2v2h-2M28 4h2v2h-2M31 4h2v2h-2M40 4h3v2h-3M48 4h1v2h-1M52 4h3v2h-3M0 6h1v1h-1M4 6h2v1h-2M7 6h2v1h-2M16 6h2v1h-2M46 6h2v1h-2M51 6h1v1h-1M3 7h1v1h-1M10 7h2v1h-2M27 7h1v1h-1M54 7h1v1h-1M18 8h1v1h-1M37 8h2v1h-2M19 9h2v1h-2M34 9h2v1h-2M49 9h2v1h-2M3 10h1v2h-1M43 10h2v2h-2M61 10h2v2h-2M9 12h1v1h-1M18 12h1v1h-1M39 12h1v1h-1M42 12h1v1h-1M45 12h1v1h-1M52 12h3v1h-3M58 12h2v1h-2M12 13h1v1h-1M37 13h2v1h-2M42 13h1v1h-1M58 13h2v1h-2M9 14h3v1h-3M18 14h1v1h-1M27 14h1v1h-1M40 14h2v1h-2M57 14h1v1h-1M6 15h1v1h-1M33 15h1v1h-1M46 15h2v1h-2M51 15h1v1h-1M4 16h2v2h-2M9 16h1v2h-1M46 16h2v2h-2M9 18h1v1h-1M13 18h2v1h-2M22 18h2v1h-2M27 18h1v1h-1M36 18h1v1h-1M39 18h3v1h-3M58 18h2v1h-2M52 19h3v1h-3M3 20h1v1h-1M25 20h2v1h-2M7 21h2v1h-2M19 21h2v1h-2M22 21h2v1h-2M27 21h1v1h-1M36 21h1v1h-1M43 21h2v1h-2M55 21h2v1h-2M0 22h1v2h-1M33 22h1v2h-1M37 22h2v2h-2M49 22h2v2h-2M57 22h3v2h-3M61 22h2v2h-2M0 24h1v1h-1M3 24h1v1h-1M22 24h2v1h-2M28 24h3v1h-3M36 24h1v1h-1M51 24h1v1h-1M55 24h2v1h-2M0 25h1v1h-1M21 25h1v1h-1M28 25h2v1h-2M36 25h1v1h-1M52 25h2v1h-2M6 26h3v1h-3M12 26h1v1h-1M27 26h1v1h-1M36 26h1v1h-1M40 26h5v1h-5M55 26h3v1h-3M60 26h1v1h-1M22 27h5v1h-5M30 27h1v1h-1M36 27h1v1h-1M51 27h1v1h-1M54 27h3v1h-3M4 28h2v2h-2M13 28h3v2h-3M19 28h2v2h-2M25 28h2v2h-2M31 28h2v2h-2M10 30h2v1h-2M33 30h1v1h-1M45 30h1v1h-1M54 30h1v1h-1M61 30h2v1h-2M1 31h2v1h-2M13 31h2v1h-2M18 31h1v1h-1M21 31h1v1h-1M25 31h2v1h-2M31 31h2v1h-2M36 31h1v1h-1M39 31h1v1h-1M1 32h2v1h-2M6 32h1v1h-1M15 32h1v1h-1M18 32h1v1h-1M39 32h1v1h-1M46 32h2v1h-2M49 32h2v1h-2M55 32h2v1h-2M19 33h2v1h-2M37 33h2v1h-2M40 33h2v1h-2M51 33h1v1h-1M54 33h1v1h-1M60 33h1v1h-1M1 34h2v2h-2M6 34h1v2h-1M12 34h1v2h-1M31 34h2v2h-2M54 34h1v2h-1M18 36h1v1h-1M24 36h1v1h-1M34 36h2v1h-2M24 37h1v1h-1M45 37h3v1h-3M49 37h2v1h-2M60 37h1v1h-1M7 38h2v1h-2M10 38h2v1h-2M19 38h2v1h-2M22 38h2v1h-2M42 38h3v1h-3M46 38h3v1h-3M54 38h1v1h-1M10 39h2v1h-2M13 39h2v1h-2M27 39h1v1h-1M31 39h2v1h-2M36 39h4v1h-4M48 39h3v1h-3M4 40h2v2h-2M16 40h2v2h-2M22 40h2v2h-2M27 40h1v2h-1M33 40h1v2h-1M46 40h2v2h-2M15 42h1v1h-1M27 42h1v1h-1M42 42h1v1h-1M18 43h1v1h-1M10 44h2v1h-2M18 44h3v1h-3M27 44h1v1h-1M30 44h1v1h-1M40 44h2v1h-2M51 44h1v1h-1M57 44h1v1h-1M21 45h1v1h-1M24 45h1v1h-1M28 45h2v1h-2M37 45h3v1h-3M42 45h1v1h-1M45 45h1v1h-1M49 45h2v1h-2M54 45h1v1h-1M61 45h2v1h-2M18 46h1v2h-1M25 46h2v2h-2M36 46h1v2h-1M40 46h2v2h-2M45 46h1v2h-1M61 46h2v2h-2M0 48h1v1h-1M6 48h1v1h-1M10 48h2v1h-2M18 48h1v1h-1M42 48h1v1h-1M49 48h2v1h-2M52 48h3v1h-3M3 49h3v1h-3M13 49h2v1h-2M21 49h1v1h-1M24 49h1v1h-1M37 49h2v1h-2M40 49h2v1h-2M49 49h2v1h-2M52 49h3v1h-3M1 50h2v1h-2M4 50h2v1h-2M16 50h2v1h-2M21 50h1v1h-1M42 50h1v1h-1M54 50h1v1h-1M22 51h2v1h-2M30 51h1v1h-1M42 51h1v1h-1M46 51h6v1h-6M54 51h1v1h-1M4 52h2v2h-2M18 52h1v2h-1M21 52h1v2h-1M30 52h3v2h-3M57 52h3v2h-3M7 54h2v1h-2M25 54h2v1h-2M33 54h1v1h-1M43 54h2v1h-2M10 55h2v1h-2M24 55h1v1h-1M28 55h2v1h-2M39 55h1v1h-1M43 55h3v1h-3M49 55h2v1h-2M54 55h1v1h-1M61 55h2v1h-2M0 56h1v1h-1M27 56h1v1h-1M31 56h2v1h-2M43 56h2v1h-2M52 56h2v1h-2M6 57h1v1h-1M10 57h2v1h-2M16 57h5v1h-5M39 57h1v1h-1M43 57h2v1h-2M54 57h1v1h-1M61 57h2v1h-2M4 58h2v2h-2M16 58h2v2h-2M24 58h1v2h-1M28 58h2v2h-2M34 58h2v2h-2M42 58h1v2h-1M6 60h1v1h-1M12 60h1v1h-1M39 60h1v1h-1M54 60h1v1h-1M3 61h1v1h-1M24 61h1v1h-1M46 61h2v1h-2M61 61h2v1h-2M10 62h2v1h-2M15 62h1v1h-1M22 62h2v1h-2M25 62h2v1h-2M31 62h2v1h-2M42 62h1v1h-1M25 63h2v1h-2M28 63h2v1h-2M58 63h2v1h-2M0 64h1v2h-1M27 64h1v2h-1M30 64h1v2h-1M33 64h1v2h-1M48 64h1v2h-1M54 64h1v2h-1M58 64h2v2h-2"/><path fill="rgb(0,8,0)" d="M0 0h1v1h-1M9 0h1v1h-1M12 0h1v1h-1M21 0h1v1h-1M25 0h2v1h-2M30 0h1v1h-1M37 0h2v1h-2M46 0h2v1h-2M55 0h3v1h-3M61 0h2v1h-2M0 1h1v1h-1M3 1h1v1h-1M6 1h1v1h-1M18 1h1v1h-1M27 1h1v1h-1M30 1h1v1h-1M33 1h1v1h-1M36 1h4v1h-4M45 1h1v1h-1M49 1h2v1h-2M57 1h1v1h-1M1 2h2v1h-2M25 2h2v1h-2M36 2h1v1h-1M42 2h1v1h-1M45 2h1v1h-1M48 2h1v1h-1M51 2h1v1h-1M54 2h1v1h-1M0 3h3v1h-3M7 3h2v1h-2M12 3h1v1h-1M22 3h5v1h-5M30 3h1v1h-1M36 3h1v1h-1M43 3h2v1h-2M52 3h2v1h-2M55 3h3v1h-3M1 4h3v2h-3M13 4h2v2h-2M24 4h1v2h-1M51 4h1v2h-1M57 4h1v2h-1M3 6h1v1h-1M18 6h1v1h-1M21 6h1v1h-1M31 6h2v1h-2M34 6h2v1h-2M42 6h1v1h-1M55 6h5v1h-5M61 6h2v1h-2M4 7h3v1h-3M19 7h2v1h-2M31 7h2v1h-2M36 7h1v1h-1M40 7h2v1h-2M48 7h6v1h-6M60 7h1v1h-1M0 8h1v1h-1M6 8h3v1h-3M10 8h2v1h-2M19 8h2v1h-2M22 8h2v1h-2M33 8h1v1h-1M39 8h3v1h-3M54 8h1v1h-1M60 8h3v1h-3M10 9h3v1h-3M25 9h2v1h-2M31 9h2v1h-2M37 9h2v1h-2M40 9h2v1h-2M43 9h2v1h-2M46 9h3v1h-3M52 9h5v1h-5M58 9h2v1h-2M4 10h2v2h-2M9 10h1v2h-1M22 10h2v2h-2M30 10h1v2h-1M36 10h1v2h-1M39 10h3v2h-3M45 10h1v2h-1M54 10h1v2h-1M4 12h2v1h-2M12 12h1v1h-1M15 12h1v1h-1M25 12h2v1h-2M30 12h3v1h-3M48 12h1v1h-1M3 13h1v1h-1M10 13h2v1h-2M13 13h2v1h-2M19 13h2v1h-2M33 13h3v1h-3M54 13h1v1h-1M1 14h2v1h-2M24 14h1v1h-1M28 14h2v1h-2M34 14h2v1h-2M48 14h3v1h-3M55 14h2v1h-2M9 15h3v1h-3M16 15h3v1h-3M21 15h1v1h-1M25 15h3v1h-3M39 15h1v1h-1M42 15h1v1h-1M52 15h2v1h-2M55 15h2v1h-2M1 16h2v2h-2M15 16h4v2h-4M21 16h1v2h-1M27 16h4v2h-4M33 16h1v2h-1M36 16h1v2h-1M43 16h2v2h-2M55 16h3v2h-3M0 18h1v1h-1M10 18h2v1h-2M19 18h2v1h-2M24 18h3v1h-3M45 18h3v1h-3M49 18h2v1h-2M52 18h3v1h-3M61 18h2v1h-2M1 19h2v1h-2M7 19h2v1h-2M18 19h1v1h-1M21 19h3v1h-3M37 19h5v1h-5M48 19h1v1h-1M51 19h1v1h-1M57 19h1v1h-1M61 19h2v1h-2M0 20h1v1h-1M6 20h1v1h-1M33 20h1v1h-1M36 20h3v1h-3M52 20h2v1h-2M1 21h2v1h-2M9 21h1v1h-1M18 21h1v1h-1M24 21h1v1h-1M37 21h2v1h-2M42 21h1v1h-1M48 21h3v1h-3M57 21h3v1h-3M4 22h2v2h-2M7 22h2v2h-2M16 22h2v2h-2M19 22h2v2h-2M30 22h1v2h-1M40 22h3v2h-3M46 22h2v2h-2M1 24h2v1h-2M19 24h2v1h-2M31 24h3v1h-3M37 24h2v1h-2M40 24h3v1h-3M52 24h2v1h-2M61 24h2v1h-2M3 25h3v1h-3M12 25h1v1h-1M22 25h2v1h-2M27 25h1v1h-1M30 25h1v1h-1M37 25h2v1h-2M51 25h1v1h-1M54 25h3v1h-3M4 26h2v1h-2M10 26h2v1h-2M13 26h2v1h-2M16 26h3v1h-3M21 26h1v1h-1M28 26h3v1h-3M34 26h2v1h-2M0 27h1v1h-1M3 27h1v1h-1M6 27h1v1h-1M12 27h1v1h-1M21 27h1v1h-1M52 27h2v1h-2M34 28h2v2h-2M42 28h1v2h-1M51 28h1v2h-1M54 28h3v2h-3M60 28h1v2h-1M6 30h1v1h-1M12 30h1v1h-1M16 30h2v1h-2M25 30h2v1h-2M30 30h1v1h-1M40 30h2v1h-2M43 30h2v1h-2M46 30h2v1h-2M10 31h2v1h-2M15 31h1v1h-1M19 31h2v1h-2M42 31h3v1h-3M49 31h2v1h-2M57 31h1v1h-1M31 32h5v1h-5M48 32h1v1h-1M61 32h2v1h-2M3 33h1v1h-1M6 33h4v1h-4M18 33h1v1h-1M21 33h1v1h-1M27 33h1v1h-1M30 33h1v1h-1M52 33h2v1h-2M24 34h1v2h-1M36 34h1v2h-1M43 34h3v2h-3M49 34h3v2h-3M55 34h2v2h-2M1 36h2v1h-2M12 36h1v1h-1M19 36h2v1h-2M22 36h2v1h-2M27 36h1v1h-1M39 36h1v1h-1M49 36h2v1h-2M54 36h1v1h-1M57 36h1v1h-1M1 37h2v1h-2M15 37h3v1h-3M19 37h3v1h-3M28 37h2v1h-2M40 37h2v1h-2M51 37h1v1h-1M54 37h1v1h-1M58 37h2v1h-2M61 37h2v1h-2M0 38h1v1h-1M3 38h3v1h-3M27 38h1v1h-1M37 38h2v1h-2M57 38h1v1h-1M0 39h1v1h-1M12 39h1v1h-1M16 39h2v1h-2M52 39h2v1h-2M55 39h2v1h-2M61 39h2v1h-2M0 40h1v2h-1M6 40h1v2h-1M12 40h1v2h-1M15 40h1v2h-1M18 40h3v2h-3M31 40h2v2h-2M34 40h2v2h-2M37 40h2v2h-2M54 40h1v2h-1M0 42h1v1h-1M9 42h1v1h-1M19 42h3v1h-3M28 42h2v1h-2M36 42h1v1h-1M40 42h2v1h-2M52 42h2v1h-2M61 42h2v1h-2M0 43h1v1h-1M16 43h2v1h-2M22 43h3v1h-3M30 43h1v1h-1M42 43h1v1h-1M48 43h6v1h-6M0 44h1v1h-1M9 44h1v1h-1M25 44h2v1h-2M28 44h2v1h-2M36 44h1v1h-1M46 44h3v1h-3M0 45h1v1h-1M3 45h1v1h-1M6 45h6v1h-6M27 45h1v1h-1M30 45h3v1h-3M36 45h1v1h-1M46 45h3v1h-3M57 45h1v1h-1M6 46h1v2h-1M9 46h1v2h-1M34 46h2v2h-2M46 46h2v2h-2M58 46h2v2h-2M12 48h1v1h-1M15 48h1v1h-1M19 48h2v1h-2M28 48h2v1h-2M37 48h3v1h-3M43 48h2v1h-2M48 48h1v1h-1M51 48h1v1h-1M61 48h2v1h-2M0 49h1v1h-1M9 49h1v1h-1M36 49h1v1h-1M43 49h2v1h-2M55 49h3v1h-3M60 49h1v1h-1M15 50h1v1h-1M27 50h1v1h-1M36 50h1v1h-1M46 50h2v1h-2M1 51h2v1h-2M7 51h2v1h-2M12 51h1v1h-1M19 51h3v1h-3M24 51h1v1h-1M27 51h1v1h-1M31 51h3v1h-3M36 51h1v1h-1M52 51h2v1h-2M57 51h3v1h-3M0 52h3v2h-3M7 52h2v2h-2M13 52h2v2h-2M24 52h1v2h-1M28 52h2v2h-2M34 52h2v2h-2M42 52h1v2h-1M49 52h2v2h-2M55 52h2v2h-2M61 52h2v2h-2M1 54h2v1h-2M4 54h2v1h-2M31 54h2v1h-2M46 54h2v1h-2M58 54h2v1h-2M1 55h2v1h-2M6 55h4v1h-4M12 55h1v1h-1M21 55h1v1h-1M33 55h1v1h-1M37 55h2v1h-2M40 55h3v1h-3M48 55h1v1h-1M51 55h1v1h-1M55 55h2v1h-2M60 55h1v1h-1M9 56h3v1h-3M30 56h1v1h-1M37 56h2v1h-2M46 56h2v1h-2M57 56h1v1h-1M3 57h1v1h-1M9 58h3v2h-3M19 58h3v2h-3M46 58h5v2h-5M52 58h2v2h-2M57 58h1v2h-1M61 58h2v2h-2M7 60h2v1h-2M10 60h2v1h-2M19 60h2v1h-2M22 60h2v1h-2M25 60h2v1h-2M34 60h2v1h-2M45 60h1v1h-1M51 60h1v1h-1M55 60h3v1h-3M61 60h2v1h-2M9 61h3v1h-3M13 61h2v1h-2M16 61h2v1h-2M42 61h1v1h-1M54 61h1v1h-1M4 62h3v1h-3M12 62h3v1h-3M16 62h3v1h-3M30 62h1v1h-1M46 62h2v1h-2M54 62h3v1h-3M58 62h2v1h-2M7 63h2v1h-2M24 63h1v1h-1M34 63h5v1h-5M42 63h1v1h-1M48 63h1v1h-1M61 63h2v1h-2M6 64h3v2h-3M13 64h2v2h-2M16 64h2v2h-2M19 64h2v2h-2M22 64h3v2h-3M45 64h3v2h-3M55 64h2v2h-2"/><path fill="rgb(0,17,0)" d="M3 0h1v1h-1M22 0h2v1h-2M31 0h2v1h-2M34 0h2v1h-2M49 0h2v1h-2M58 0h3v1h-3M16 1h2v1h-2M52 1h3v1h-3M58 1h2v1h-2M61 1h2v1h-2M3 2h1v1h-1M7 2h2v1h-2M22 2h2v1h-2M49 2h2v1h-2M52 2h2v1h-2M60 2h1v1h-1M9 3h1v1h-1M13 3h3v1h-3M21 3h1v1h-1M46 3h2v1h-2M49 3h2v1h-2M58 3h2v1h-2M61 3h2v1h-2M7 4h3v2h-3M12 4h1v2h-1M39 4h1v2h-1M45 4h3v2h-3M55 4h2v2h-2M61 4h2v2h-2M6 6h1v1h-1M9 6h1v1h-1M24 6h1v1h-1M28 6h3v1h-3M40 6h2v1h-2M60 6h1v1h-1M0 7h3v1h-3M12 7h1v1h-1M24 7h3v1h-3M33 7h3v1h-3M39 7h1v1h-1M45 7h1v1h-1M57 7h1v1h-1M1 8h2v1h-2M4 8h2v1h-2M24 8h3v1h-3M31 8h2v1h-2M51 8h1v1h-1M57 8h1v1h-1M1 9h3v1h-3M9 9h1v1h-1M28 9h3v1h-3M33 9h1v1h-1M45 9h1v1h-1M51 9h1v1h-1M57 9h1v1h-1M7 10h2v2h-2M12 10h1v2h-1M19 10h2v2h-2M28 10h2v2h-2M33 10h3v2h-3M48 10h6v2h-6M1 12h2v1h-2M6 12h3v1h-3M22 12h2v1h-2M33 12h1v1h-1M36 12h1v1h-1M43 12h2v1h-2M51 12h1v1h-1M55 12h3v1h-3M60 12h1v1h-1M24 13h1v1h-1M30 13h1v1h-1M36 13h1v1h-1M51 13h3v1h-3M0 14h1v1h-1M7 14h2v1h-2M13 14h2v1h-2M22 14h2v1h-2M36 14h3v1h-3M51 14h1v1h-1M60 14h1v1h-1M12 15h1v1h-1M30 15h3v1h-3M37 15h2v1h-2M45 15h1v1h-1M61 15h2v1h-2M3 16h1v2h-1M7 16h2v2h-2M10 16h3v2h-3M19 16h2v2h-2M24 16h1v2h-1M34 16h2v2h-2M48 16h1v2h-1M51 16h1v2h-1M60 16h1v2h-1M1 18h2v1h-2M4 18h2v1h-2M15 18h1v1h-1M18 18h1v1h-1M37 18h2v1h-2M48 18h1v1h-1M57 18h1v1h-1M0 19h1v1h-1M3 19h1v1h-1M42 19h1v1h-1M45 19h1v1h-1M49 19h2v1h-2M58 19h2v1h-2M1 20h2v1h-2M4 20h2v1h-2M7 20h2v1h-2M10 20h2v1h-2M15 20h6v1h-6M22 20h3v1h-3M30 20h3v1h-3M34 20h2v1h-2M45 20h1v1h-1M51 20h1v1h-1M54 20h1v1h-1M57 20h1v1h-1M60 20h3v1h-3M6 21h1v1h-1M10 21h3v1h-3M15 21h1v1h-1M39 21h3v1h-3M54 21h1v1h-1M61 21h2v1h-2M10 22h2v2h-2M31 22h2v2h-2M51 22h1v2h-1M4 24h2v1h-2M12 24h1v1h-1M18 24h1v1h-1M24 24h1v1h-1M43 24h2v1h-2M54 24h1v1h-1M6 25h1v1h-1M45 25h1v1h-1M57 25h1v1h-1M19 26h2v1h-2M25 26h2v1h-2M46 26h2v1h-2M61 26h2v1h-2M31 27h2v1h-2M39 27h1v1h-1M43 27h2v1h-2M9 28h1v2h-1M27 28h4v2h-4M33 28h1v2h-1M37 28h2v2h-2M57 28h1v2h-1M7 30h2v1h-2M19 30h2v1h-2M22 30h2v1h-2M27 30h3v1h-3M36 30h3v1h-3M42 30h1v1h-1M52 30h2v1h-2M55 30h2v1h-2M0 31h1v1h-1M24 31h1v1h-1M34 31h2v1h-2M45 31h4v1h-4M52 31h3v1h-3M58 31h3v1h-3M3 32h1v1h-1M27 32h1v1h-1M40 32h2v1h-2M43 32h2v1h-2M58 32h2v1h-2M15 33h1v1h-1M34 33h3v1h-3M45 33h3v1h-3M55 33h2v1h-2M3 34h3v2h-3M19 34h5v2h-5M39 34h3v2h-3M46 34h2v2h-2M52 34h2v2h-2M57 34h1v2h-1M0 36h1v1h-1M4 36h6v1h-6M30 36h1v1h-1M45 36h1v1h-1M51 36h1v1h-1M58 36h2v1h-2M0 37h1v1h-1M6 37h1v1h-1M10 37h3v1h-3M18 37h1v1h-1M25 37h3v1h-3M43 37h2v1h-2M1 38h2v1h-2M15 38h3v1h-3M28 38h2v1h-2M31 38h2v1h-2M45 38h1v1h-1M52 38h2v1h-2M58 38h2v1h-2M3 39h1v1h-1M7 39h2v1h-2M15 39h1v1h-1M18 39h1v1h-1M28 39h3v1h-3M33 39h1v1h-1M42 39h1v1h-1M57 39h1v1h-1M60 39h1v1h-1M9 40h1v2h-1M51 40h3v2h-3M55 40h2v2h-2M58 40h3v2h-3M1 42h3v1h-3M18 42h1v1h-1M22 42h2v1h-2M31 42h2v1h-2M34 42h2v1h-2M39 42h1v1h-1M43 42h3v1h-3M48 42h1v1h-1M51 42h1v1h-1M54 42h1v1h-1M58 42h3v1h-3M4 43h2v1h-2M7 43h2v1h-2M12 43h1v1h-1M19 43h3v1h-3M31 43h2v1h-2M60 43h1v1h-1M24 44h1v1h-1M33 44h3v1h-3M39 44h1v1h-1M45 44h1v1h-1M60 44h3v1h-3M18 45h3v1h-3M25 45h2v1h-2M34 45h2v1h-2M52 45h2v1h-2M22 46h2v2h-2M39 46h1v2h-1M48 46h3v2h-3M55 46h2v2h-2M13 48h2v1h-2M21 48h1v1h-1M24 48h1v1h-1M57 48h1v1h-1M6 49h1v1h-1M10 49h3v1h-3M15 49h1v1h-1M18 49h1v1h-1M31 49h2v1h-2M39 49h1v1h-1M45 49h1v1h-1M51 49h1v1h-1M58 49h2v1h-2M10 50h3v1h-3M19 50h2v1h-2M49 50h2v1h-2M4 51h2v1h-2M10 51h2v1h-2M43 51h2v1h-2M3 52h1v2h-1M16 52h2v2h-2M25 52h3v2h-3M33 52h1v2h-1M37 52h2v2h-2M40 52h2v2h-2M43 52h2v2h-2M6 54h1v1h-1M15 54h1v1h-1M30 54h1v1h-1M37 54h6v1h-6M48 54h1v1h-1M52 54h3v1h-3M57 54h1v1h-1M16 55h3v1h-3M34 55h2v1h-2M58 55h2v1h-2M1 56h3v1h-3M16 56h2v1h-2M24 56h1v1h-1M33 56h1v1h-1M36 56h1v1h-1M51 56h1v1h-1M4 57h2v1h-2M7 57h2v1h-2M24 57h1v1h-1M45 57h3v1h-3M55 57h3v1h-3M60 57h1v1h-1M1 58h2v2h-2M6 58h1v2h-1M22 58h2v2h-2M30 58h1v2h-1M33 58h1v2h-1M39 58h1v2h-1M43 58h2v2h-2M54 58h1v2h-1M60 58h1v2h-1M0 60h4v1h-4M13 60h2v1h-2M18 60h1v1h-1M21 60h1v1h-1M48 60h3v1h-3M58 60h2v1h-2M12 61h1v1h-1M18 61h3v1h-3M31 61h3v1h-3M37 61h5v1h-5M49 61h2v1h-2M52 61h2v1h-2M57 61h1v1h-1M60 61h1v1h-1M1 62h2v1h-2M24 62h1v1h-1M37 62h2v1h-2M40 62h2v1h-2M45 62h1v1h-1M51 62h1v1h-1M57 62h1v1h-1M61 62h2v1h-2M10 63h2v1h-2M15 63h3v1h-3M21 63h1v1h-1M30 63h3v1h-3M40 63h2v1h-2M52 63h2v1h-2M4 64h2v2h-2M9 64h1v2h-1M18 64h1v2h-1M21 64h1v2h-1M31 64h2v2h-2M39 64h1v2h-1M52 64h2v2h-2M61 64h2v2h-2"/><path fill="rgb(0,26,0)" d="M6 0h1v1h-1M21 1h3v1h-3M16 2h2v1h-2M28 2h2v1h-2M34 2h2v1h-2M61 2h2v1h-2M49 4h2v2h-2M36 6h1v1h-1M16 7h2v1h-2M30 7h1v1h-1M12 8h1v1h-1M45 8h1v1h-1M55 8h2v1h-2M7 9h2v1h-2M16 9h2v1h-2M61 9h2v1h-2M0 10h1v2h-1M27 10h1v2h-1M31 10h2v2h-2M42 10h1v2h-1M57 10h1v2h-1M27 12h1v1h-1M40 12h2v1h-2M4 13h2v1h-2M16 13h2v1h-2M27 13h1v1h-1M46 13h3v1h-3M15 14h1v1h-1M25 14h2v1h-2M30 14h1v1h-1M54 14h1v1h-1M3 15h1v1h-1M40 15h2v1h-2M57 15h1v1h-1M39 16h1v2h-1M51 18h1v1h-1M9 19h1v1h-1M27 19h1v1h-1M43 19h2v1h-2M46 19h2v1h-2M28 20h2v1h-2M21 21h1v1h-1M25 21h2v1h-2M28 21h3v1h-3M1 22h2v2h-2M9 22h1v2h-1M22 22h2v2h-2M43 22h2v2h-2M52 22h2v2h-2M15 24h1v1h-1M58 24h2v1h-2M7 25h2v1h-2M15 25h1v1h-1M31 25h2v1h-2M40 25h2v1h-2M49 25h2v1h-2M3 26h1v1h-1M22 26h2v1h-2M10 27h2v1h-2M27 27h1v1h-1M34 27h2v1h-2M40 27h2v1h-2M46 27h2v1h-2M57 27h3v1h-3M61 27h2v1h-2M7 28h2v2h-2M45 28h1v2h-1M48 28h1v2h-1M52 28h2v2h-2M24 30h1v1h-1M39 30h1v1h-1M49 30h2v1h-2M4 31h2v1h-2M21 32h1v1h-1M28 32h2v1h-2M28 33h2v1h-2M48 33h1v1h-1M57 33h1v1h-1M15 34h1v2h-1M30 34h1v2h-1M58 34h2v2h-2M21 36h1v1h-1M28 36h2v1h-2M42 36h1v1h-1M4 37h2v1h-2M7 37h3v1h-3M37 37h2v1h-2M61 38h2v1h-2M34 39h2v1h-2M43 39h2v1h-2M51 39h1v1h-1M21 40h1v2h-1M40 40h2v2h-2M48 40h1v2h-1M27 43h3v1h-3M46 43h2v1h-2M57 43h1v1h-1M31 44h2v1h-2M43 44h2v1h-2M13 45h2v1h-2M40 45h2v1h-2M27 46h1v2h-1M43 46h2v2h-2M25 48h2v1h-2M25 49h3v1h-3M7 50h3v1h-3M34 50h2v1h-2M37 50h2v1h-2M48 50h1v1h-1M58 50h2v1h-2M3 51h1v1h-1M18 51h1v1h-1M45 51h1v1h-1M55 51h2v1h-2M6 52h1v2h-1M15 52h1v2h-1M36 52h1v2h-1M51 54h1v1h-1M60 54h1v1h-1M0 55h1v1h-1M4 55h2v1h-2M15 55h1v1h-1M22 55h2v1h-2M30 55h1v1h-1M22 56h2v1h-2M34 56h2v1h-2M45 56h1v1h-1M55 56h2v1h-2M60 56h1v1h-1M0 57h1v1h-1M25 57h2v1h-2M49 57h2v1h-2M52 57h2v1h-2M25 58h2v2h-2M40 58h2v2h-2M55 58h2v2h-2M15 60h3v1h-3M60 60h1v1h-1M4 61h2v1h-2M58 61h2v1h-2M19 62h3v1h-3M33 62h3v1h-3M9 63h1v1h-1M18 63h1v1h-1M33 63h1v1h-1M46 63h2v1h-2M3 64h1v2h-1"/><path fill="rgb(0,34,0)" d="M31 1h2v1h-2M42 7h1v1h-1M27 9h1v1h-1M7 18h2v1h-2M13 24h2v1h-2M39 25h1v1h-1M22 28h2v2h-2M36 28h1v2h-1M61 28h2v2h-2M3 31h1v1h-1M12 32h1v1h-1M19 32h2v1h-2M51 32h1v1h-1M39 37h1v1h-1M55 37h2v1h-2M24 54h1v1h-1M34 54h2v1h-2M42 57h1v1h-1M33 60h1v1h-1M42 60h1v1h-1M39 62h1v1h-1M3 63h1v1h-1M6 63h1v1h-1"/><path fill="rgb(0,42,0)" d="M3 43h1v1h-1"/></g></pattern>
<pattern id="nC1" width="74" height="78" patternUnits="userSpaceOnUse" patternTransform="translate(330,59)"><g shape-rendering="crispEdges"><path fill="rgb(0,0,178)" d="M18 31h2v1h-2M26 33h2v1h-2M56 33h2v1h-2M66 48h2v1h-2"/><path fill="rgb(0,0,162)" d="M56 9h2v1h-2M40 26h2v1h-2M6 45h2v1h-2M70 60h2v1h-2M72 64h2v2h-2"/><path fill="rgb(0,0,153)" d="M42 70h2v2h-2"/><path fill="rgb(0,0,144)" d="M8 0h2v1h-2M18 1h2v1h-2M32 46h2v2h-2M38 50h2v1h-2M2 76h2v2h-2"/><path fill="rgb(0,0,136)" d="M18 9h2v1h-2M4 64h2v2h-2M22 75h2v1h-2"/><path fill="rgb(0,0,128)" d="M6 12h2v1h-2M54 27h2v1h-2M42 31h2v1h-2M26 37h2v1h-2M72 52h2v2h-2M34 66h2v1h-2M36 68h2v1h-2M42 73h2v1h-2"/><path fill="rgb(0,0,119)" d="M38 7h2v1h-2M4 9h2v1h-2M34 13h2v1h-2M32 27h2v1h-2M18 44h2v1h-2M48 44h2v1h-2M18 46h2v2h-2"/><path fill="rgb(0,0,110)" d="M26 1h2v1h-2M64 1h2v1h-2M38 9h2v1h-2M68 14h2v1h-2M70 33h2v1h-2M66 39h2v1h-2M52 60h2v1h-2M46 63h2v1h-2M28 76h2v2h-2"/><path fill="rgb(0,0,102)" d="M48 8h2v1h-2M58 10h2v2h-2M6 20h2v1h-2M14 26h2v1h-2M32 40h2v2h-2M66 43h2v1h-2M26 48h2v1h-2M28 54h2v1h-2M50 54h2v1h-2M22 61h2v1h-2M36 62h2v1h-2M48 63h2v1h-2"/><path fill="rgb(0,0,94)" d="M6 10h2v2h-2M20 10h2v2h-2M14 21h2v1h-2M30 31h2v1h-2M18 50h2v1h-2M68 54h2v1h-2M4 55h2v1h-2M22 60h2v1h-2"/><path fill="rgb(0,0,85)" d="M2 12h2v1h-2M30 14h2v1h-2M66 14h2v1h-2M52 18h2v1h-2M60 25h2v1h-2M60 27h2v1h-2M68 28h2v2h-2M42 36h2v1h-2M4 37h2v1h-2M28 39h2v1h-2M68 40h2v2h-2M4 45h2v1h-2M68 45h2v1h-2M52 51h2v1h-2M70 52h2v2h-2M32 55h2v1h-2M18 62h2v1h-2M40 62h2v1h-2M6 74h2v1h-2M18 74h2v1h-2"/><path fill="rgb(0,0,76)" d="M56 0h2v1h-2M28 7h2v1h-2M64 9h2v1h-2M54 10h2v2h-2M4 14h2v1h-2M52 15h2v1h-2M16 18h2v1h-2M34 19h2v1h-2M64 24h2v1h-2M56 27h2v1h-2M44 31h2v1h-2M26 32h2v1h-2M50 33h2v1h-2M26 46h2v2h-2M56 50h2v1h-2M48 52h2v2h-2M56 55h2v1h-2M28 58h2v2h-2M54 61h2v1h-2M58 62h2v1h-2M14 67h2v1h-2M6 72h2v1h-2"/><path fill="rgb(0,0,68)" d="M6 0h2v1h-2M40 1h2v1h-2M24 6h2v1h-2M52 6h2v1h-2M30 9h2v1h-2M62 10h2v2h-2M20 12h2v1h-2M48 18h2v1h-2M70 18h2v1h-2M26 19h2v1h-2M44 19h2v1h-2M68 20h2v1h-2M70 21h2v1h-2M18 22h2v2h-2M50 22h2v2h-2M26 24h2v1h-2M28 26h2v1h-2M20 33h2v1h-2M32 33h2v1h-2M36 34h2v2h-2M32 37h2v1h-2M64 37h2v1h-2M72 39h2v1h-2M60 40h2v2h-2M8 42h2v1h-2M38 42h2v1h-2M34 43h2v1h-2M30 51h2v1h-2M20 52h2v2h-2M38 52h2v2h-2M60 56h2v1h-2M18 57h2v1h-2M72 57h2v1h-2M12 58h2v2h-2M26 60h2v1h-2M34 61h2v1h-2M38 63h2v1h-2M50 72h2v1h-2M10 73h2v1h-2M28 74h2v1h-2M48 74h2v1h-2M2 75h2v1h-2M52 75h2v1h-2M8 76h2v2h-2"/><path fill="rgb(0,0,60)" d="M12 0h2v1h-2M4 1h2v1h-2M24 1h2v1h-2M66 1h2v1h-2M56 2h2v1h-2M54 3h2v1h-2M38 4h2v2h-2M62 4h2v2h-2M60 6h2v1h-2M18 7h2v1h-2M46 8h2v1h-2M72 8h2v1h-2M32 9h2v1h-2M70 14h2v1h-2M22 15h2v1h-2M46 16h2v2h-2M36 18h2v1h-2M58 18h2v1h-2M6 19h2v1h-2M60 21h2v1h-2M34 24h2v1h-2M30 27h2v1h-2M26 28h2v2h-2M36 28h2v2h-2M10 34h2v2h-2M14 36h2v1h-2M24 37h2v1h-2M58 37h2v1h-2M8 38h2v1h-2M66 38h2v1h-2M22 39h2v1h-2M64 39h2v1h-2M56 43h2v1h-2M66 44h2v1h-2M12 51h2v1h-2M66 51h2v1h-2M22 54h2v1h-2M46 55h2v1h-2M64 56h2v1h-2M66 58h2v2h-2M24 62h2v1h-2M24 63h2v1h-2M30 63h2v1h-2M64 68h2v1h-2M14 69h2v1h-2M8 72h2v1h-2M36 72h2v1h-2M66 72h2v1h-2M6 76h2v2h-2"/><path fill="rgb(0,0,51)" d="M50 1h2v1h-2M58 1h2v1h-2M20 2h2v1h-2M26 2h2v1h-2M68 2h2v1h-2M10 3h2v1h-2M32 3h2v1h-2M4 6h2v1h-2M20 7h2v1h-2M26 7h2v1h-2M64 7h2v1h-2M32 8h2v1h-2M34 10h2v2h-2M12 14h2v1h-2M24 14h2v1h-2M12 16h2v2h-2M24 16h2v2h-2M46 19h2v1h-2M4 20h2v1h-2M2 21h2v1h-2M16 21h2v1h-2M46 22h2v2h-2M68 22h2v2h-2M72 22h2v2h-2M18 25h2v1h-2M52 28h2v2h-2M62 32h2v1h-2M36 33h2v1h-2M24 36h2v1h-2M4 40h2v2h-2M54 40h2v2h-2M52 43h2v1h-2M70 44h2v1h-2M58 46h2v2h-2M48 50h2v1h-2M18 52h2v2h-2M36 52h2v2h-2M52 52h2v2h-2M26 54h2v1h-2M44 54h2v1h-2M70 54h2v1h-2M12 55h2v1h-2M36 58h2v2h-2M28 62h2v1h-2M26 63h2v1h-2M40 63h2v1h-2M32 64h2v2h-2M16 66h2v1h-2M56 66h2v1h-2M36 69h2v1h-2M48 69h2v1h-2M40 72h2v1h-2M68 73h2v1h-2M50 74h2v1h-2M12 76h2v2h-2M20 76h2v2h-2M70 76h2v2h-2"/><path fill="rgb(0,0,42)" d="M26 0h2v1h-2M68 1h2v1h-2M12 3h2v1h-2M22 3h2v1h-2M26 3h2v1h-2M34 3h2v1h-2M44 3h2v1h-2M0 4h2v2h-2M8 4h2v2h-2M32 4h2v2h-2M54 6h2v1h-2M4 7h2v1h-2M40 7h2v1h-2M12 8h2v1h-2M16 9h2v1h-2M38 10h2v2h-2M0 13h2v1h-2M16 13h2v1h-2M52 16h2v2h-2M14 18h2v1h-2M36 19h2v1h-2M32 20h2v1h-2M36 20h2v1h-2M26 21h2v1h-2M30 21h2v1h-2M52 21h2v1h-2M4 22h2v2h-2M64 22h2v2h-2M40 27h2v1h-2M72 27h2v1h-2M22 28h2v2h-2M34 28h2v2h-2M46 28h2v2h-2M16 32h4v1h-4M46 33h2v1h-2M54 33h2v1h-2M64 36h2v1h-2M6 38h2v1h-2M12 38h2v1h-2M52 39h2v1h-2M20 40h2v2h-2M72 42h2v1h-2M30 43h2v1h-2M0 44h2v1h-2M22 44h2v1h-2M4 46h2v2h-2M8 48h2v1h-2M34 48h2v1h-2M20 50h2v1h-2M60 51h2v1h-2M30 52h4v2h-4M32 54h2v1h-2M8 55h2v1h-2M68 56h2v1h-2M4 57h4v1h-4M40 57h2v1h-2M34 58h2v2h-2M4 61h2v1h-2M10 61h2v1h-2M26 61h2v1h-2M44 61h2v1h-2M12 63h2v1h-2M62 63h2v1h-2M66 63h2v1h-2M58 64h2v2h-2M64 64h2v2h-2M20 66h2v1h-2M42 66h2v1h-2M50 67h2v1h-2M28 68h2v1h-2M8 73h2v1h-2M46 73h2v1h-2M46 76h2v2h-2"/><path fill="rgb(0,0,34)" d="M14 0h2v1h-2M2 1h2v1h-2M38 1h2v1h-2M16 2h2v1h-2M22 2h2v1h-2M26 4h2v2h-2M2 7h2v1h-2M56 7h2v1h-2M14 8h2v1h-2M70 8h2v1h-2M8 12h2v1h-2M16 12h2v1h-2M56 12h2v1h-2M50 14h2v1h-2M58 14h2v1h-2M18 15h4v1h-4M14 16h2v2h-2M72 18h2v1h-2M4 19h2v1h-2M20 19h2v1h-2M40 19h2v1h-2M0 20h2v1h-2M18 20h2v1h-2M28 20h2v1h-2M10 21h2v1h-2M38 21h2v1h-2M32 22h2v2h-2M40 22h2v2h-2M12 25h2v1h-2M46 25h2v1h-2M12 26h2v1h-2M30 26h2v1h-2M46 26h2v1h-2M50 26h2v1h-2M12 28h2v2h-2M44 28h2v2h-2M56 28h2v2h-2M62 30h2v1h-2M8 31h2v1h-2M28 31h2v1h-2M36 32h2v1h-2M66 32h2v1h-2M18 33h2v1h-2M44 33h2v1h-2M52 33h2v1h-2M26 34h2v2h-2M72 34h2v2h-2M66 36h2v1h-2M18 37h2v1h-2M68 37h2v1h-2M70 38h2v1h-2M6 39h2v1h-2M14 39h2v1h-2M8 40h2v2h-2M36 40h2v2h-2M6 42h2v1h-2M18 42h2v1h-2M22 42h2v1h-2M32 42h2v1h-2M58 42h2v1h-2M0 43h2v1h-2M60 43h2v1h-2M24 44h2v1h-2M42 44h2v1h-2M64 45h2v1h-2M16 48h2v1h-2M58 48h2v1h-2M16 49h2v1h-2M42 49h2v1h-2M68 49h2v1h-2M44 50h2v1h-2M2 51h2v1h-2M38 54h2v1h-2M60 54h2v1h-2M0 55h2v1h-2M24 55h2v1h-2M30 55h2v1h-2M12 56h2v1h-2M32 56h2v1h-2M44 56h2v1h-2M24 57h2v1h-2M14 60h2v1h-2M62 60h2v1h-2M18 61h2v1h-2M68 61h2v1h-2M22 63h2v1h-2M8 64h4v2h-4M2 66h2v1h-2M18 66h2v1h-2M6 67h2v1h-2M16 67h2v1h-2M4 68h2v1h-2M10 68h2v1h-2M20 68h2v1h-2M30 68h2v1h-2M50 70h2v2h-2M66 70h2v2h-2M18 72h2v1h-2M24 73h2v1h-2M44 73h2v1h-2M60 73h2v1h-2M24 74h2v1h-2M46 74h2v1h-2M4 76h2v2h-2"/><path fill="rgb(0,0,26)" d="M0 0h2v1h-2M72 0h2v1h-2M28 1h2v1h-2M36 1h2v1h-2M2 2h2v1h-2M4 3h2v1h-2M18 3h2v1h-2M24 3h2v1h-2M36 3h2v1h-2M24 4h2v2h-2M56 4h2v2h-2M44 6h2v1h-2M66 6h2v1h-2M0 8h2v1h-2M38 8h2v1h-2M66 8h2v1h-2M22 9h2v1h-2M28 9h2v1h-2M28 10h4v2h-4M46 10h2v2h-2M36 12h2v1h-2M44 12h2v1h-2M64 12h2v1h-2M70 12h2v1h-2M50 13h2v1h-2M20 14h2v1h-2M26 14h2v1h-2M48 14h2v1h-2M0 15h2v1h-2M6 15h2v1h-2M10 15h2v1h-2M16 16h2v2h-2M56 16h2v2h-2M10 18h2v1h-2M54 18h2v1h-2M0 19h2v1h-2M8 19h2v1h-2M32 19h2v1h-2M38 19h2v1h-2M56 19h2v1h-2M60 19h2v1h-2M2 20h2v1h-2M50 20h2v1h-2M10 22h2v2h-2M52 22h4v2h-4M0 24h2v1h-2M24 24h2v1h-2M54 24h2v1h-2M2 25h2v1h-2M10 25h2v1h-2M42 25h2v1h-2M18 27h2v1h-2M50 27h2v1h-2M68 27h2v1h-2M8 28h2v2h-2M42 28h2v2h-2M60 28h2v2h-2M56 30h2v1h-2M4 32h2v1h-2M30 32h2v1h-2M42 32h2v1h-2M16 33h2v1h-2M12 34h2v2h-2M42 34h2v2h-2M22 36h2v1h-2M22 38h2v1h-2M24 39h2v1h-2M32 39h2v1h-2M42 39h4v1h-4M18 40h2v2h-2M22 40h2v2h-2M36 42h2v1h-2M40 43h2v1h-2M70 43h2v1h-2M6 44h2v1h-2M16 44h2v1h-2M28 44h2v1h-2M40 45h2v1h-2M52 45h2v1h-2M6 48h2v1h-2M44 48h2v1h-2M6 50h2v1h-2M30 50h2v1h-2M50 50h2v1h-2M54 50h2v1h-2M32 51h2v1h-2M50 51h2v1h-2M22 52h4v2h-4M6 54h2v1h-2M6 55h2v1h-2M62 56h2v1h-2M16 57h2v1h-2M22 57h2v1h-2M32 57h2v1h-2M54 57h2v1h-2M60 57h2v1h-2M18 58h2v2h-2M22 58h2v2h-2M34 60h2v1h-2M38 60h2v1h-2M8 61h2v1h-2M14 61h2v1h-2M56 61h2v1h-2M64 61h2v1h-2M2 62h2v1h-2M42 62h2v1h-2M4 63h2v1h-2M64 63h2v1h-2M28 64h2v2h-2M46 64h2v2h-2M26 66h2v1h-2M36 66h2v1h-2M52 66h2v1h-2M56 67h2v1h-2M8 68h2v1h-2M22 68h2v1h-2M32 68h2v1h-2M8 69h2v1h-2M30 69h2v1h-2M54 69h2v1h-2M58 69h2v1h-2M14 70h2v2h-2M18 70h2v2h-2M30 70h2v2h-2M46 70h2v2h-2M4 72h2v1h-2M14 73h2v1h-2M54 73h2v1h-2M4 74h2v1h-2M10 74h2v1h-2M6 75h2v1h-2M46 75h2v1h-2M54 76h2v2h-2M72 76h2v2h-2"/><path fill="rgb(0,0,17)" d="M16 0h2v1h-2M20 0h2v1h-2M62 0h2v1h-2M68 0h2v1h-2M6 1h2v1h-2M20 1h4v1h-4M52 1h2v1h-2M4 2h2v1h-2M12 2h2v1h-2M38 2h2v1h-2M46 2h2v1h-2M50 3h4v1h-4M70 3h2v1h-2M16 4h2v2h-2M42 4h2v2h-2M48 4h2v2h-2M20 6h2v1h-2M34 6h2v1h-2M8 7h2v1h-2M42 7h2v1h-2M54 7h2v1h-2M18 8h4v1h-4M30 8h2v1h-2M40 8h2v1h-2M68 8h2v1h-2M10 9h4v1h-4M52 9h2v1h-2M4 10h2v2h-2M44 10h2v2h-2M68 10h2v2h-2M26 12h2v1h-2M54 12h2v1h-2M58 12h2v1h-2M10 13h2v1h-2M24 13h2v1h-2M40 13h2v1h-2M48 13h2v1h-2M22 14h2v1h-2M28 14h2v1h-2M52 14h2v1h-2M60 14h2v1h-2M0 16h2v2h-2M34 16h2v2h-2M2 18h2v1h-2M18 18h2v1h-2M30 18h2v1h-2M38 18h2v1h-2M62 18h2v1h-2M68 18h2v1h-2M14 19h2v1h-2M54 19h2v1h-2M54 20h2v1h-2M8 21h2v1h-2M34 21h2v1h-2M40 21h2v1h-2M48 21h2v1h-2M2 22h2v2h-2M12 24h2v1h-2M16 24h4v1h-4M38 24h2v1h-2M4 25h4v1h-4M54 25h6v1h-6M68 25h4v1h-4M0 26h2v1h-2M38 26h2v1h-2M52 26h4v1h-4M10 27h2v1h-2M28 27h2v1h-2M70 27h2v1h-2M18 28h2v2h-2M70 28h2v2h-2M2 30h2v1h-2M48 30h2v1h-2M60 30h2v1h-2M68 30h2v1h-2M6 31h2v1h-2M66 31h2v1h-2M24 32h2v1h-2M38 32h2v1h-2M44 32h2v1h-2M68 32h2v1h-2M34 33h2v1h-2M72 33h2v1h-2M6 34h2v2h-2M28 34h2v2h-2M40 36h2v1h-2M16 37h2v1h-2M56 37h2v1h-2M60 37h2v1h-2M2 38h2v1h-2M10 38h2v1h-2M38 38h2v1h-2M42 38h2v1h-2M56 39h2v1h-2M14 40h2v2h-2M70 40h4v2h-4M2 42h2v1h-2M4 43h2v1h-2M44 44h2v1h-2M2 45h2v1h-2M18 45h2v1h-2M22 45h2v1h-2M26 45h2v1h-2M34 45h2v1h-2M62 45h2v1h-2M12 46h2v2h-2M28 46h2v2h-2M40 46h2v2h-2M64 46h2v2h-2M72 46h2v2h-2M0 48h2v1h-2M46 48h2v1h-2M62 48h2v1h-2M22 49h2v1h-2M32 49h2v1h-2M60 49h2v1h-2M0 50h2v1h-2M8 50h4v1h-4M38 51h2v1h-2M46 51h2v1h-2M46 52h2v2h-2M54 52h2v2h-2M4 54h2v1h-2M36 54h2v1h-2M16 55h2v1h-2M72 56h2v1h-2M14 57h2v1h-2M20 57h2v1h-2M46 57h2v1h-2M64 57h2v1h-2M0 58h2v2h-2M8 58h2v2h-2M30 58h2v2h-2M40 58h2v2h-2M50 58h2v2h-2M48 60h2v1h-2M24 61h2v1h-2M40 61h2v1h-2M26 62h2v1h-2M6 63h2v1h-2M14 63h2v1h-2M28 63h2v1h-2M56 63h2v1h-2M36 64h2v2h-2M44 64h2v2h-2M12 66h2v1h-2M48 66h2v1h-2M2 67h2v1h-2M10 67h2v1h-2M18 67h2v1h-2M26 67h2v1h-2M34 67h2v1h-2M38 67h2v1h-2M72 67h2v1h-2M50 68h2v1h-2M60 68h2v1h-2M6 69h2v1h-2M26 69h2v1h-2M46 72h2v1h-2M52 72h2v1h-2M58 72h2v1h-2M48 73h2v1h-2M58 74h2v1h-2M12 75h2v1h-2M26 75h2v1h-2M44 75h2v1h-2M32 76h2v2h-2M44 76h2v2h-2"/><path fill="rgb(0,0,8)" d="M8 1h2v1h-2M42 2h2v1h-2M66 2h2v1h-2M0 3h2v1h-2M46 3h2v1h-2M12 4h2v2h-2M44 4h2v2h-2M18 6h2v1h-2M22 7h2v1h-2M30 7h4v1h-4M36 7h2v1h-2M60 7h2v1h-2M72 7h2v1h-2M26 8h4v1h-4M6 9h2v1h-2M54 9h2v1h-2M72 9h2v1h-2M56 10h2v2h-2M2 13h2v1h-2M14 13h2v1h-2M8 14h2v1h-2M44 14h2v1h-2M40 15h4v1h-4M46 15h2v1h-2M70 15h2v1h-2M40 16h2v2h-2M62 16h2v2h-2M68 16h2v2h-2M12 18h2v1h-2M64 18h2v1h-2M18 19h2v1h-2M22 19h2v1h-2M28 19h2v1h-2M66 19h2v1h-2M42 20h2v1h-2M52 20h2v1h-2M54 21h2v1h-2M8 22h2v2h-2M12 22h2v2h-2M22 24h2v1h-2M72 24h2v1h-2M8 25h2v1h-2M28 25h4v1h-4M44 25h2v1h-2M10 26h2v1h-2M72 26h2v1h-2M24 27h2v1h-2M24 28h2v2h-2M72 28h2v2h-2M12 30h2v1h-2M40 30h2v1h-2M64 30h2v1h-2M60 31h2v1h-2M68 31h4v1h-4M34 32h2v1h-2M56 32h2v1h-2M64 32h2v1h-2M72 32h2v1h-2M16 34h2v2h-2M30 34h2v2h-2M38 34h2v2h-2M58 34h2v2h-2M64 34h2v2h-2M70 34h2v2h-2M0 36h2v1h-2M26 36h2v1h-2M54 36h2v1h-2M28 37h2v1h-2M44 37h2v1h-2M70 37h4v1h-4M18 38h2v1h-2M52 38h2v1h-2M50 39h2v1h-2M68 39h2v1h-2M26 40h2v2h-2M64 40h2v2h-2M14 42h2v1h-2M24 42h4v1h-4M30 42h2v1h-2M50 43h2v1h-2M72 43h2v1h-2M34 44h2v1h-2M50 44h2v1h-2M56 44h2v1h-2M0 45h2v1h-2M60 45h2v1h-2M16 46h2v2h-2M42 46h2v2h-2M62 46h2v2h-2M66 46h2v2h-2M12 48h2v1h-2M18 48h2v1h-2M24 48h2v1h-2M40 48h2v1h-2M10 49h4v1h-4M26 49h2v1h-2M44 49h2v1h-2M2 50h2v1h-2M68 50h2v1h-2M44 51h2v1h-2M58 51h2v1h-2M34 52h2v2h-2M58 52h2v2h-2M68 52h2v2h-2M62 54h2v1h-2M22 55h2v1h-2M26 55h2v1h-2M44 55h2v1h-2M64 55h2v1h-2M4 56h2v1h-2M30 56h2v1h-2M2 57h2v1h-2M50 57h2v1h-2M4 58h2v2h-2M58 58h2v2h-2M64 58h2v2h-2M68 58h2v2h-2M20 60h2v1h-2M24 60h2v1h-2M50 60h2v1h-2M46 61h4v1h-4M52 61h2v1h-2M62 61h2v1h-2M22 62h2v1h-2M50 62h2v1h-2M70 62h2v1h-2M2 63h2v1h-2M10 63h2v1h-2M54 63h2v1h-2M58 63h2v1h-2M20 64h2v2h-2M38 64h4v2h-4M50 64h2v2h-2M68 64h2v2h-2M8 66h2v1h-2M22 66h2v1h-2M62 67h2v1h-2M66 67h2v1h-2M14 68h2v1h-2M52 68h2v1h-2M72 68h2v1h-2M66 69h2v1h-2M12 70h2v2h-2M44 70h2v2h-2M20 72h2v1h-2M22 73h2v1h-2M26 73h2v1h-2M34 73h2v1h-2M66 73h2v1h-2M26 74h2v1h-2M70 74h2v1h-2M0 75h2v1h-2M8 75h2v1h-2M32 75h2v1h-2M40 75h2v1h-2M48 75h2v1h-2M62 75h2v1h-2M16 76h2v2h-2M22 76h2v2h-2"/><path fill="rgb(0,8,0)" d="M18 0h2v1h-2M22 0h2v1h-2M50 0h2v1h-2M12 1h2v1h-2M42 1h2v1h-2M8 2h2v1h-2M14 2h2v1h-2M50 2h2v1h-2M60 2h2v1h-2M20 3h2v1h-2M48 3h2v1h-2M6 4h2v2h-2M18 4h2v2h-2M40 4h2v2h-2M46 4h2v2h-2M52 4h2v2h-2M70 4h2v2h-2M16 6h2v1h-2M30 6h2v1h-2M38 6h2v1h-2M50 6h2v1h-2M70 6h2v1h-2M10 7h2v1h-2M50 7h2v1h-2M58 7h2v1h-2M66 7h2v1h-2M4 8h2v1h-2M24 8h2v1h-2M44 8h2v1h-2M60 8h4v1h-4M24 9h4v1h-4M44 9h2v1h-2M58 9h2v1h-2M22 10h2v2h-2M40 10h2v2h-2M66 10h2v2h-2M4 12h2v1h-2M30 12h2v1h-2M48 12h2v1h-2M72 12h2v1h-2M26 13h2v1h-2M44 13h2v1h-2M52 13h2v1h-2M38 14h2v1h-2M46 14h2v1h-2M72 14h2v1h-2M12 15h2v1h-2M16 15h2v1h-2M32 15h2v1h-2M36 15h2v1h-2M58 15h2v1h-2M66 15h2v1h-2M6 16h2v2h-2M20 16h2v2h-2M44 16h2v2h-2M48 16h2v2h-2M54 16h2v2h-2M64 16h2v2h-2M40 18h2v1h-2M56 18h2v1h-2M16 19h2v1h-2M50 19h2v1h-2M58 19h2v1h-2M64 19h2v1h-2M48 20h2v1h-2M62 20h2v1h-2M4 21h2v1h-2M36 21h2v1h-2M44 21h2v1h-2M50 21h2v1h-2M62 21h2v1h-2M6 22h2v2h-2M24 22h2v2h-2M66 22h2v2h-2M30 24h4v1h-4M40 24h4v1h-4M62 24h2v1h-2M26 25h2v1h-2M34 25h2v1h-2M40 25h2v1h-2M72 25h2v1h-2M18 26h2v1h-2M44 26h2v1h-2M58 26h2v1h-2M0 27h2v1h-2M34 27h2v1h-2M52 27h2v1h-2M28 28h2v2h-2M50 28h2v2h-2M64 28h4v2h-4M6 30h4v1h-4M26 30h2v1h-2M32 30h2v1h-2M10 31h2v1h-2M38 31h2v1h-2M50 31h2v1h-2M54 31h2v1h-2M72 31h2v1h-2M2 32h2v1h-2M10 32h2v1h-2M14 32h2v1h-2M58 32h2v1h-2M38 33h2v1h-2M42 33h2v1h-2M58 33h2v1h-2M62 33h2v1h-2M2 34h4v2h-4M22 34h4v2h-4M40 34h2v2h-2M60 34h4v2h-4M6 36h2v1h-2M18 36h2v1h-2M28 36h2v1h-2M34 36h2v1h-2M48 37h2v1h-2M36 38h2v1h-2M20 39h2v1h-2M36 39h2v1h-2M54 39h2v1h-2M10 40h2v2h-2M30 40h2v2h-2M44 40h2v2h-2M50 40h4v2h-4M40 42h2v1h-2M44 42h2v1h-2M48 42h2v1h-2M52 42h2v1h-2M2 43h2v1h-2M12 43h2v1h-2M28 43h2v1h-2M42 43h2v1h-2M58 43h2v1h-2M62 43h2v1h-2M2 44h4v1h-4M10 44h2v1h-2M8 45h2v1h-2M16 45h2v1h-2M32 45h2v1h-2M38 45h2v1h-2M42 45h2v1h-2M66 45h2v1h-2M72 45h2v1h-2M0 46h2v2h-2M6 46h2v2h-2M36 46h2v2h-2M10 48h2v1h-2M20 48h4v1h-4M36 48h2v1h-2M56 48h2v1h-2M68 48h2v1h-2M72 48h2v1h-2M8 49h2v1h-2M34 49h2v1h-2M50 49h2v1h-2M70 49h2v1h-2M16 50h2v1h-2M26 50h2v1h-2M60 50h2v1h-2M66 50h2v1h-2M72 50h2v1h-2M0 51h2v1h-2M10 51h2v1h-2M24 51h2v1h-2M42 51h2v1h-2M48 51h2v1h-2M64 51h2v1h-2M72 51h2v1h-2M2 52h2v2h-2M8 52h2v2h-2M10 54h2v1h-2M14 54h2v1h-2M18 54h2v1h-2M20 55h2v1h-2M42 55h2v1h-2M54 55h2v1h-2M58 55h2v1h-2M66 55h2v1h-2M70 55h2v1h-2M6 56h2v1h-2M22 56h4v1h-4M38 56h2v1h-2M58 56h2v1h-2M66 56h2v1h-2M36 57h2v1h-2M52 57h2v1h-2M2 58h2v2h-2M14 58h2v2h-2M70 58h2v2h-2M16 60h2v1h-2M28 60h2v1h-2M42 60h2v1h-2M64 60h2v1h-2M0 61h2v1h-2M20 61h2v1h-2M60 61h2v1h-2M12 62h2v1h-2M16 62h2v1h-2M20 62h2v1h-2M46 62h4v1h-4M60 62h2v1h-2M66 62h4v1h-4M8 63h2v1h-2M0 64h2v2h-2M34 64h2v2h-2M42 64h2v2h-2M66 64h2v2h-2M4 66h2v1h-2M44 66h2v1h-2M66 66h2v1h-2M72 66h2v1h-2M0 67h2v1h-2M60 67h2v1h-2M6 68h2v1h-2M24 68h4v1h-4M16 69h2v1h-2M22 69h2v1h-2M4 70h2v2h-2M22 70h2v2h-2M10 72h2v1h-2M28 72h2v1h-2M34 72h2v1h-2M42 72h2v1h-2M60 72h2v1h-2M68 72h2v1h-2M0 74h4v1h-4M34 74h2v1h-2M38 74h2v1h-2M16 75h2v1h-2M20 75h2v1h-2M38 75h2v1h-2M58 75h2v1h-2M70 75h2v1h-2M40 76h4v2h-4M52 76h2v2h-2M56 76h2v2h-2M62 76h4v2h-4"/><path fill="rgb(0,17,0)" d="M4 0h2v1h-2M24 0h2v1h-2M46 0h2v1h-2M60 0h2v1h-2M10 1h2v1h-2M34 1h2v1h-2M54 1h2v1h-2M72 1h2v1h-2M6 2h2v1h-2M10 2h2v1h-2M24 2h2v1h-2M30 2h2v1h-2M36 2h2v1h-2M44 2h2v1h-2M64 2h2v1h-2M8 3h2v1h-2M16 3h2v1h-2M30 3h2v1h-2M22 4h2v2h-2M60 4h2v2h-2M0 6h2v1h-2M10 6h2v1h-2M14 6h2v1h-2M40 6h2v1h-2M46 6h2v1h-2M56 6h2v1h-2M14 7h2v1h-2M24 7h2v1h-2M44 7h4v1h-4M42 8h2v1h-2M54 8h6v1h-6M64 8h2v1h-2M42 9h2v1h-2M60 9h4v1h-4M0 10h2v2h-2M12 10h6v2h-6M32 10h2v2h-2M48 10h2v2h-2M52 10h2v2h-2M72 10h2v2h-2M0 12h2v1h-2M60 12h4v1h-4M66 12h2v1h-2M12 13h2v1h-2M22 13h2v1h-2M32 13h2v1h-2M38 13h2v1h-2M42 13h2v1h-2M58 13h2v1h-2M66 13h2v1h-2M2 14h2v1h-2M64 14h2v1h-2M30 15h2v1h-2M44 15h2v1h-2M50 15h2v1h-2M18 16h2v2h-2M22 16h2v2h-2M30 16h4v2h-4M60 16h2v2h-2M0 18h2v1h-2M8 18h2v1h-2M34 18h2v1h-2M42 18h2v1h-2M46 18h2v1h-2M48 19h2v1h-2M70 19h2v1h-2M10 20h2v1h-2M14 20h2v1h-2M60 20h2v1h-2M72 20h2v1h-2M6 21h2v1h-2M24 21h2v1h-2M32 21h2v1h-2M66 21h2v1h-2M42 22h2v2h-2M48 22h2v2h-2M58 22h4v2h-4M4 24h2v1h-2M14 24h2v1h-2M68 24h2v1h-2M16 25h2v1h-2M52 25h2v1h-2M34 26h2v1h-2M56 26h2v1h-2M64 26h2v1h-2M68 26h2v1h-2M8 27h2v1h-2M22 27h2v1h-2M46 27h4v1h-4M66 27h2v1h-2M0 28h2v2h-2M4 28h2v2h-2M14 28h2v2h-2M20 28h2v2h-2M32 28h2v2h-2M38 28h2v2h-2M54 28h2v2h-2M10 30h2v1h-2M18 30h4v1h-4M24 30h2v1h-2M42 30h2v1h-2M66 30h2v1h-2M70 30h2v1h-2M2 31h2v1h-2M20 31h2v1h-2M34 31h2v1h-2M46 31h4v1h-4M64 31h2v1h-2M20 32h2v1h-2M28 32h2v1h-2M32 32h2v1h-2M46 32h2v1h-2M0 33h2v1h-2M4 33h2v1h-2M8 33h2v1h-2M22 33h2v1h-2M28 33h2v1h-2M14 34h2v2h-2M20 34h2v2h-2M10 36h2v1h-2M20 36h2v1h-2M58 36h2v1h-2M8 37h2v1h-2M20 37h2v1h-2M30 37h2v1h-2M40 37h2v1h-2M62 37h2v1h-2M0 38h2v1h-2M14 38h2v1h-2M26 38h4v1h-4M40 38h2v1h-2M0 39h2v1h-2M4 39h2v1h-2M12 40h2v2h-2M56 40h2v2h-2M62 40h2v2h-2M34 42h2v1h-2M60 42h2v1h-2M68 42h2v1h-2M14 43h2v1h-2M26 43h2v1h-2M44 43h4v1h-4M20 44h2v1h-2M38 44h2v1h-2M46 44h2v1h-2M64 44h2v1h-2M68 44h2v1h-2M20 45h2v1h-2M58 45h2v1h-2M22 46h2v2h-2M38 46h2v2h-2M48 46h2v2h-2M54 46h2v2h-2M6 49h2v1h-2M20 49h2v1h-2M28 49h2v1h-2M38 49h2v1h-2M46 49h2v1h-2M54 49h2v1h-2M58 49h2v1h-2M64 49h2v1h-2M58 50h2v1h-2M62 50h2v1h-2M16 51h4v1h-4M28 51h2v1h-2M56 51h2v1h-2M0 52h2v2h-2M4 52h2v2h-2M12 52h2v2h-2M44 52h2v2h-2M66 52h2v2h-2M16 54h2v1h-2M54 54h2v1h-2M58 54h2v1h-2M72 54h2v1h-2M60 55h2v1h-2M8 56h2v1h-2M16 56h4v1h-4M28 56h2v1h-2M48 56h2v1h-2M52 56h2v1h-2M56 56h2v1h-2M12 57h2v1h-2M26 57h4v1h-4M56 57h2v1h-2M62 57h2v1h-2M24 58h4v2h-4M44 58h2v2h-2M48 58h2v2h-2M62 58h2v2h-2M40 60h2v1h-2M58 60h2v1h-2M72 60h2v1h-2M0 62h2v1h-2M4 62h2v1h-2M8 62h4v1h-4M54 62h2v1h-2M32 63h2v1h-2M70 63h2v1h-2M12 64h2v2h-2M62 64h2v2h-2M28 66h2v1h-2M68 66h2v1h-2M22 67h2v1h-2M28 67h2v1h-2M32 67h2v1h-2M40 67h2v1h-2M46 67h2v1h-2M34 68h2v1h-2M54 68h2v1h-2M10 69h2v1h-2M46 69h2v1h-2M52 69h2v1h-2M62 69h2v1h-2M70 69h2v1h-2M10 70h2v2h-2M28 70h2v2h-2M70 70h4v2h-4M12 72h2v1h-2M2 73h4v1h-4M12 73h2v1h-2M16 73h2v1h-2M38 73h4v1h-4M50 73h2v1h-2M58 73h2v1h-2M70 73h2v1h-2M8 74h2v1h-2M14 74h4v1h-4M68 74h2v1h-2M36 75h2v1h-2M10 76h2v2h-2M14 76h2v2h-2M36 76h2v2h-2M58 76h2v2h-2"/><path fill="rgb(0,26,0)" d="M28 0h4v1h-4M38 0h2v1h-2M52 0h2v1h-2M70 0h2v1h-2M48 1h2v1h-2M70 1h2v1h-2M34 2h2v1h-2M58 2h2v1h-2M42 3h2v1h-2M72 3h2v1h-2M14 4h2v2h-2M20 4h2v2h-2M54 4h2v2h-2M2 6h2v1h-2M28 6h2v1h-2M48 6h2v1h-2M62 6h4v1h-4M68 6h2v1h-2M72 6h2v1h-2M16 8h2v1h-2M22 8h2v1h-2M36 8h2v1h-2M8 9h2v1h-2M14 9h2v1h-2M46 9h2v1h-2M50 9h2v1h-2M66 9h4v1h-4M10 10h2v2h-2M24 10h2v2h-2M36 10h2v2h-2M50 10h2v2h-2M60 10h2v2h-2M70 10h2v2h-2M12 12h2v1h-2M18 12h2v1h-2M22 12h4v1h-4M28 12h2v1h-2M32 12h2v1h-2M52 12h2v1h-2M68 12h2v1h-2M4 13h2v1h-2M8 13h2v1h-2M28 13h2v1h-2M68 13h4v1h-4M6 14h2v1h-2M42 14h2v1h-2M54 14h2v1h-2M4 15h2v1h-2M26 15h2v1h-2M54 15h2v1h-2M2 16h2v2h-2M8 16h2v2h-2M42 16h2v2h-2M2 19h2v1h-2M12 19h2v1h-2M62 19h2v1h-2M72 19h2v1h-2M8 20h2v1h-2M16 20h2v1h-2M38 20h2v1h-2M56 20h4v1h-4M18 21h2v1h-2M28 21h2v1h-2M42 21h2v1h-2M68 21h2v1h-2M14 22h2v2h-2M26 22h2v2h-2M34 22h2v2h-2M70 22h2v2h-2M10 24h2v1h-2M56 24h4v1h-4M22 25h2v1h-2M38 25h2v1h-2M2 26h4v1h-4M8 26h2v1h-2M16 26h2v1h-2M48 26h2v1h-2M60 26h2v1h-2M16 27h2v1h-2M44 27h2v1h-2M62 27h2v1h-2M16 28h2v2h-2M48 28h2v2h-2M0 30h2v1h-2M38 30h2v1h-2M44 30h4v1h-4M14 31h2v1h-2M32 31h2v1h-2M52 31h2v1h-2M6 32h2v1h-2M12 32h2v1h-2M52 32h2v1h-2M6 33h2v1h-2M14 33h2v1h-2M66 33h2v1h-2M48 34h2v2h-2M52 34h2v2h-2M68 34h2v2h-2M12 36h2v1h-2M16 36h2v1h-2M30 36h4v1h-4M38 36h2v1h-2M50 36h2v1h-2M62 36h2v1h-2M72 36h2v1h-2M22 37h2v1h-2M38 37h2v1h-2M34 38h2v1h-2M50 38h2v1h-2M54 38h4v1h-4M62 38h2v1h-2M2 39h2v1h-2M8 39h2v1h-2M12 39h2v1h-2M16 39h2v1h-2M30 39h2v1h-2M46 39h2v1h-2M16 40h2v2h-2M40 40h4v2h-4M46 42h2v1h-2M50 42h2v1h-2M62 42h2v1h-2M8 43h2v1h-2M22 43h2v1h-2M32 43h2v1h-2M14 44h2v1h-2M26 44h2v1h-2M36 44h2v1h-2M40 44h2v1h-2M60 44h2v1h-2M10 45h2v1h-2M44 45h2v1h-2M48 45h4v1h-4M2 46h2v2h-2M8 46h2v2h-2M14 46h2v2h-2M30 46h2v2h-2M44 46h2v2h-2M50 46h4v2h-4M68 46h2v2h-2M14 48h2v1h-2M28 48h2v1h-2M50 48h2v1h-2M14 49h2v1h-2M24 49h2v1h-2M30 49h2v1h-2M48 49h2v1h-2M70 50h2v1h-2M6 51h2v1h-2M34 51h2v1h-2M40 51h2v1h-2M68 51h2v1h-2M6 52h2v2h-2M10 52h2v2h-2M40 52h2v2h-2M56 52h2v2h-2M12 54h2v1h-2M30 54h2v1h-2M46 54h2v1h-2M52 54h2v1h-2M56 54h2v1h-2M10 55h2v1h-2M34 55h2v1h-2M38 55h4v1h-4M52 55h2v1h-2M62 55h2v1h-2M72 55h2v1h-2M34 56h2v1h-2M40 56h4v1h-4M10 57h2v1h-2M44 57h2v1h-2M58 57h2v1h-2M66 57h2v1h-2M32 58h2v2h-2M42 58h2v2h-2M54 58h4v2h-4M72 58h2v2h-2M2 60h2v1h-2M6 60h2v1h-2M32 60h2v1h-2M46 60h2v1h-2M66 60h2v1h-2M30 61h2v1h-2M50 61h2v1h-2M70 61h2v1h-2M30 62h4v1h-4M56 62h2v1h-2M16 63h2v1h-2M20 63h2v1h-2M44 63h2v1h-2M50 63h4v1h-4M60 63h2v1h-2M14 64h2v2h-2M18 64h2v2h-2M22 64h2v2h-2M48 64h2v2h-2M56 64h2v2h-2M6 66h2v1h-2M10 66h2v1h-2M24 66h2v1h-2M30 66h4v1h-4M38 66h4v1h-4M58 66h2v1h-2M62 66h4v1h-4M44 67h2v1h-2M40 68h6v1h-6M66 68h4v1h-4M0 69h2v1h-2M20 69h2v1h-2M34 69h2v1h-2M40 69h4v1h-4M72 69h2v1h-2M6 70h2v2h-2M20 70h2v2h-2M26 70h2v2h-2M56 70h2v2h-2M60 70h4v2h-4M0 72h4v1h-4M22 72h2v1h-2M38 72h2v1h-2M54 72h4v1h-4M6 73h2v1h-2M36 73h2v1h-2M52 73h2v1h-2M62 73h2v1h-2M72 73h2v1h-2M44 74h2v1h-2M52 74h2v1h-2M10 75h2v1h-2M42 75h2v1h-2M50 75h2v1h-2M24 76h2v2h-2M34 76h2v2h-2M66 76h2v2h-2"/><path fill="rgb(0,34,0)" d="M36 0h2v1h-2M56 1h2v1h-2M28 2h2v1h-2M48 2h2v1h-2M52 2h2v1h-2M62 2h2v1h-2M2 3h2v1h-2M6 3h2v1h-2M58 3h2v1h-2M10 4h2v2h-2M66 4h4v2h-4M72 4h2v2h-2M12 6h2v1h-2M36 6h2v1h-2M58 6h2v1h-2M34 7h2v1h-2M48 7h2v1h-2M62 7h2v1h-2M10 8h2v1h-2M52 8h2v1h-2M10 12h2v1h-2M46 12h2v1h-2M18 13h4v1h-4M46 13h2v1h-2M56 13h2v1h-2M72 13h2v1h-2M32 14h2v1h-2M2 15h2v1h-2M14 15h2v1h-2M38 15h2v1h-2M48 15h2v1h-2M4 16h2v2h-2M28 16h2v2h-2M50 16h2v2h-2M58 16h2v2h-2M66 16h2v2h-2M6 18h2v1h-2M24 18h4v1h-4M50 18h2v1h-2M60 18h2v1h-2M30 19h2v1h-2M24 20h4v1h-4M46 20h2v1h-2M20 21h4v1h-4M46 21h2v1h-2M56 21h4v1h-4M30 22h2v2h-2M56 22h2v2h-2M52 24h2v1h-2M66 24h2v1h-2M0 25h2v1h-2M24 25h2v1h-2M62 25h4v1h-4M6 26h2v1h-2M22 26h2v1h-2M26 26h2v1h-2M36 26h2v1h-2M42 26h2v1h-2M62 26h2v1h-2M70 26h2v1h-2M38 27h2v1h-2M58 27h2v1h-2M40 28h2v2h-2M14 30h2v1h-2M22 30h2v1h-2M30 30h2v1h-2M54 30h2v1h-2M0 31h2v1h-2M4 31h2v1h-2M16 31h2v1h-2M36 31h2v1h-2M56 31h2v1h-2M48 32h2v1h-2M24 33h2v1h-2M30 33h2v1h-2M48 33h2v1h-2M0 34h2v2h-2M34 34h2v2h-2M66 34h2v2h-2M36 36h2v1h-2M52 36h2v1h-2M60 36h2v1h-2M68 36h2v1h-2M2 37h2v1h-2M10 37h2v1h-2M34 37h2v1h-2M4 38h2v1h-2M20 38h2v1h-2M44 38h4v1h-4M58 38h2v1h-2M68 38h2v1h-2M10 39h2v1h-2M40 39h2v1h-2M28 40h2v2h-2M38 40h2v2h-2M58 40h2v2h-2M54 42h2v1h-2M66 42h2v1h-2M70 42h2v1h-2M6 43h2v1h-2M18 43h2v1h-2M24 43h2v1h-2M36 43h2v1h-2M48 43h2v1h-2M54 43h2v1h-2M12 44h2v1h-2M72 44h2v1h-2M14 45h2v1h-2M30 45h2v1h-2M36 45h2v1h-2M10 46h2v2h-2M24 46h2v2h-2M34 46h2v2h-2M70 46h2v2h-2M2 48h2v1h-2M52 48h2v1h-2M60 48h2v1h-2M64 48h2v1h-2M70 48h2v1h-2M0 49h2v1h-2M40 49h2v1h-2M72 49h2v1h-2M12 50h2v1h-2M22 50h2v1h-2M34 50h4v1h-4M42 50h2v1h-2M36 51h2v1h-2M54 51h2v1h-2M62 51h2v1h-2M2 54h2v1h-2M40 54h4v1h-4M18 55h2v1h-2M28 55h2v1h-2M54 56h2v1h-2M34 57h2v1h-2M42 57h2v1h-2M48 57h2v1h-2M70 57h2v1h-2M20 58h2v2h-2M0 60h2v1h-2M8 60h2v1h-2M30 60h2v1h-2M56 60h2v1h-2M68 60h2v1h-2M6 61h2v1h-2M28 61h2v1h-2M34 62h2v1h-2M38 62h2v1h-2M52 62h2v1h-2M0 63h2v1h-2M34 63h4v1h-4M42 63h2v1h-2M24 64h2v2h-2M12 67h2v1h-2M54 67h2v1h-2M48 68h2v1h-2M70 68h2v1h-2M18 69h2v1h-2M32 69h2v1h-2M60 69h2v1h-2M68 69h2v1h-2M36 70h4v2h-4M68 70h2v2h-2M26 72h2v1h-2M32 72h2v1h-2M48 72h2v1h-2M72 72h2v1h-2M0 73h2v1h-2M18 73h2v1h-2M28 73h2v1h-2M64 73h2v1h-2M12 74h2v1h-2M60 74h4v1h-4M18 75h2v1h-2M24 75h2v1h-2M28 75h2v1h-2M54 75h2v1h-2M60 75h2v1h-2M64 75h2v1h-2M68 75h2v1h-2M26 76h2v2h-2M38 76h2v2h-2M50 76h2v2h-2"/><path fill="rgb(0,42,0)" d="M32 0h2v1h-2M48 0h2v1h-2M32 2h2v1h-2M40 2h2v1h-2M14 3h2v1h-2M28 3h2v1h-2M4 4h2v2h-2M36 4h2v2h-2M50 4h2v2h-2M64 4h2v2h-2M0 7h2v1h-2M6 7h2v1h-2M12 7h2v1h-2M68 7h2v1h-2M6 8h4v1h-4M0 9h2v1h-2M20 9h2v1h-2M48 9h2v1h-2M2 10h2v2h-2M26 10h2v2h-2M42 10h2v2h-2M42 12h2v1h-2M14 14h2v1h-2M40 14h2v1h-2M60 15h2v1h-2M64 15h2v1h-2M72 15h2v1h-2M70 16h2v2h-2M28 18h2v1h-2M32 18h2v1h-2M44 18h2v1h-2M20 20h2v1h-2M30 20h2v1h-2M64 21h2v1h-2M0 22h2v2h-2M16 22h2v2h-2M36 22h4v2h-4M44 24h2v1h-2M14 25h2v1h-2M50 25h2v1h-2M20 26h2v1h-2M24 26h2v1h-2M2 27h4v1h-4M20 27h2v1h-2M42 27h2v1h-2M6 28h2v2h-2M30 28h2v2h-2M58 28h2v2h-2M50 30h2v1h-2M12 31h2v1h-2M24 31h2v1h-2M0 32h2v1h-2M2 33h2v1h-2M18 34h2v2h-2M44 34h2v2h-2M54 34h2v2h-2M2 36h4v1h-4M48 36h2v1h-2M56 36h2v1h-2M52 37h2v1h-2M24 38h2v1h-2M60 38h2v1h-2M64 38h2v1h-2M72 38h2v1h-2M38 39h2v1h-2M58 39h2v1h-2M62 39h2v1h-2M0 40h2v2h-2M6 40h2v2h-2M66 40h2v2h-2M12 42h2v1h-2M16 42h2v1h-2M42 42h2v1h-2M10 43h2v1h-2M64 43h2v1h-2M68 43h2v1h-2M58 44h2v1h-2M62 44h2v1h-2M20 46h2v2h-2M60 46h2v2h-2M42 48h2v1h-2M36 49h2v1h-2M52 49h2v1h-2M56 49h2v1h-2M14 50h2v1h-2M32 50h2v1h-2M40 50h2v1h-2M64 50h2v1h-2M20 51h2v1h-2M70 51h2v1h-2M28 52h2v2h-2M50 52h2v2h-2M24 54h2v1h-2M64 54h2v1h-2M2 55h2v1h-2M36 55h2v1h-2M48 55h2v1h-2M68 55h2v1h-2M0 56h4v1h-4M14 56h2v1h-2M20 56h2v1h-2M36 56h2v1h-2M50 56h2v1h-2M70 56h2v1h-2M30 57h2v1h-2M68 57h2v1h-2M6 58h2v2h-2M52 58h2v2h-2M36 60h2v1h-2M60 60h2v1h-2M2 61h2v1h-2M16 61h2v1h-2M38 61h2v1h-2M42 61h2v1h-2M58 61h2v1h-2M72 61h2v1h-2M6 62h2v1h-2M44 62h2v1h-2M62 62h2v1h-2M72 62h2v1h-2M18 63h2v1h-2M68 63h2v1h-2M26 64h2v2h-2M70 64h2v2h-2M54 66h2v1h-2M4 67h2v1h-2M48 67h2v1h-2M64 67h2v1h-2M70 67h2v1h-2M0 68h4v1h-4M16 68h2v1h-2M56 68h2v1h-2M12 69h2v1h-2M28 69h2v1h-2M0 70h4v2h-4M16 70h2v2h-2M24 70h2v2h-2M34 70h2v2h-2M52 70h4v2h-4M22 74h2v1h-2M30 74h2v1h-2M40 74h2v1h-2M54 74h4v1h-4M64 74h4v1h-4M4 75h2v1h-2M14 75h2v1h-2M30 75h2v1h-2M18 76h2v2h-2M48 76h2v2h-2"/><path fill="rgb(0,51,0)" d="M10 0h2v1h-2M34 0h2v1h-2M54 0h2v1h-2M64 0h2v1h-2M14 1h2v1h-2M30 1h2v1h-2M60 1h2v1h-2M18 2h2v1h-2M54 2h2v1h-2M70 2h2v1h-2M38 3h4v1h-4M56 3h2v1h-2M60 3h2v1h-2M66 3h2v1h-2M52 7h2v1h-2M2 8h2v1h-2M34 8h2v1h-2M34 9h2v1h-2M70 9h2v1h-2M8 10h2v2h-2M64 10h2v2h-2M38 12h2v1h-2M6 13h2v1h-2M62 13h2v1h-2M16 14h2v1h-2M8 15h2v1h-2M28 15h2v1h-2M10 16h2v2h-2M72 16h2v2h-2M42 19h2v1h-2M28 24h2v1h-2M36 24h2v1h-2M48 24h2v1h-2M20 25h2v1h-2M14 27h2v1h-2M36 27h2v1h-2M52 30h2v1h-2M8 32h2v1h-2M12 33h2v1h-2M64 33h2v1h-2M44 36h4v1h-4M6 37h2v1h-2M12 37h2v1h-2M50 37h2v1h-2M18 39h2v1h-2M34 39h2v1h-2M70 39h2v1h-2M46 40h2v2h-2M28 42h2v1h-2M52 44h2v1h-2M56 45h2v1h-2M38 48h2v1h-2M18 49h2v1h-2M14 52h4v2h-4M10 56h2v1h-2M38 57h2v1h-2M32 61h2v1h-2M36 61h2v1h-2M14 62h2v1h-2M72 63h2v1h-2M50 66h2v1h-2M70 66h2v1h-2M20 67h2v1h-2M24 67h2v1h-2M42 67h2v1h-2M52 67h2v1h-2M12 68h2v1h-2M46 68h2v1h-2M40 70h2v2h-2M64 70h2v2h-2M64 72h2v1h-2M42 74h2v1h-2M72 74h2v1h-2M34 75h2v1h-2M56 75h2v1h-2M68 76h2v2h-2"/><path fill="rgb(0,60,0)" d="M0 2h2v1h-2M30 4h2v2h-2M58 4h2v2h-2M32 6h2v1h-2M16 7h2v1h-2M40 12h2v1h-2M10 14h2v1h-2M34 15h2v1h-2M56 15h2v1h-2M64 20h2v1h-2M62 22h2v2h-2M26 27h2v1h-2M2 28h2v2h-2M28 30h2v1h-2M26 31h2v1h-2M40 31h2v1h-2M40 32h2v1h-2M14 37h2v1h-2M16 38h2v1h-2M4 42h2v1h-2M16 43h2v1h-2M4 51h2v1h-2M14 55h2v1h-2M0 57h2v1h-2M2 64h2v2h-2M46 66h2v1h-2M8 67h2v1h-2M30 67h2v1h-2M38 69h2v1h-2M8 70h2v2h-2M24 72h2v1h-2M32 74h2v1h-2M30 76h2v2h-2"/><path fill="rgb(0,68,0)" d="M0 21h2v1h-2M58 30h2v1h-2M56 73h2v1h-2"/><path fill="rgb(0,76,0)" d="M22 20h2v1h-2"/></g></pattern>
<pattern id="nC2" width="62" height="66" patternUnits="userSpaceOnUse" patternTransform="translate(330,59)"><g shape-rendering="crispEdges"><path fill="rgb(0,0,94)" d="M46 37h2v1h-2"/><path fill="rgb(0,0,85)" d="M20 3h2v1h-2"/><path fill="rgb(0,0,76)" d="M30 20h2v1h-2M22 30h2v1h-2M10 46h2v2h-2"/><path fill="rgb(0,0,68)" d="M4 10h2v2h-2M40 16h2v2h-2M38 37h2v1h-2M60 40h2v2h-2M34 50h2v1h-2"/><path fill="rgb(0,0,60)" d="M20 0h2v1h-2M6 4h2v2h-2M2 6h2v1h-2M12 6h2v1h-2M52 6h2v1h-2M48 26h2v1h-2M48 40h2v2h-2M14 42h2v1h-2M50 54h2v1h-2M16 61h2v1h-2"/><path fill="rgb(0,0,51)" d="M56 3h2v1h-2M0 13h2v1h-2M50 18h2v1h-2M56 20h2v1h-2M10 22h2v2h-2M54 25h2v1h-2M46 26h2v1h-2M44 27h2v1h-2M20 31h2v1h-2M30 37h2v1h-2M54 37h2v1h-2M32 39h2v1h-2M4 43h2v1h-2M50 50h2v1h-2M0 54h2v1h-2M20 60h2v1h-2M18 64h2v2h-2"/><path fill="rgb(0,0,42)" d="M10 1h2v1h-2M14 1h2v1h-2M58 3h2v1h-2M28 8h2v1h-2M32 14h2v1h-2M8 15h2v1h-2M42 16h2v2h-2M20 18h2v1h-2M30 19h2v1h-2M60 21h2v1h-2M10 24h2v1h-2M48 24h2v1h-2M60 26h2v1h-2M18 27h2v1h-2M42 34h2v2h-2M58 34h2v2h-2M6 36h2v1h-2M44 36h2v1h-2M50 36h2v1h-2M60 37h2v1h-2M8 40h2v2h-2M12 42h2v1h-2M44 42h2v1h-2M16 46h2v2h-2M50 49h2v1h-2M22 50h2v1h-2M6 52h2v2h-2M32 54h2v1h-2M4 56h2v1h-2M20 58h2v2h-2M22 60h2v1h-2M22 61h2v1h-2M44 62h2v1h-2"/><path fill="rgb(0,0,34)" d="M4 0h2v1h-2M50 2h2v1h-2M60 4h2v2h-2M34 6h2v1h-2M48 6h2v1h-2M50 8h2v1h-2M22 10h2v2h-2M34 10h2v2h-2M16 13h2v1h-2M56 15h2v1h-2M12 18h2v1h-2M36 18h2v1h-2M54 18h2v1h-2M48 19h2v1h-2M20 20h2v1h-2M12 21h2v1h-2M0 24h2v1h-2M34 25h2v1h-2M54 28h2v2h-2M60 30h2v1h-2M10 31h2v1h-2M14 31h2v1h-2M26 31h2v1h-2M10 33h2v1h-2M14 33h2v1h-2M30 33h2v1h-2M44 34h2v2h-2M38 38h2v1h-2M50 39h2v1h-2M28 42h2v1h-2M14 44h2v1h-2M20 45h2v1h-2M0 46h2v2h-2M18 46h2v2h-2M22 46h2v2h-2M42 48h2v1h-2M48 52h2v2h-2M8 62h2v1h-2"/><path fill="rgb(0,0,26)" d="M28 1h2v1h-2M14 2h2v1h-2M54 2h2v1h-2M28 3h2v1h-2M42 3h2v1h-2M18 4h2v2h-2M58 4h2v2h-2M18 6h2v1h-2M30 7h2v1h-2M42 7h2v1h-2M46 7h2v1h-2M2 8h2v1h-2M20 8h2v1h-2M30 8h2v1h-2M34 8h2v1h-2M2 9h2v1h-2M50 10h2v2h-2M12 12h2v1h-2M40 12h2v1h-2M8 13h2v1h-2M4 15h2v1h-2M26 15h2v1h-2M42 15h2v1h-2M18 18h2v1h-2M56 19h2v1h-2M14 21h2v1h-2M52 21h2v1h-2M6 22h2v2h-2M24 22h2v2h-2M44 22h4v2h-4M6 24h2v1h-2M32 24h2v1h-2M44 24h2v1h-2M0 25h2v1h-2M38 25h2v1h-2M24 26h2v1h-2M52 26h2v1h-2M14 27h2v1h-2M4 28h2v2h-2M16 28h2v2h-2M20 28h2v2h-2M52 28h2v2h-2M2 30h2v1h-2M24 30h2v1h-2M52 30h2v1h-2M56 31h4v1h-4M14 32h2v1h-2M32 32h2v1h-2M16 33h2v1h-2M48 33h2v1h-2M4 34h2v2h-2M8 34h2v2h-2M18 34h2v2h-2M4 36h2v1h-2M22 36h2v1h-2M34 36h4v1h-4M44 38h2v1h-2M60 38h2v1h-2M0 39h2v1h-2M60 39h2v1h-2M2 40h2v2h-2M6 40h2v2h-2M44 40h2v2h-2M30 43h2v1h-2M10 44h2v1h-2M52 44h2v1h-2M46 48h2v1h-2M12 49h2v1h-2M44 50h2v1h-2M24 51h2v1h-2M46 51h2v1h-2M18 54h2v1h-2M38 54h2v1h-2M12 55h4v1h-4M36 55h2v1h-2M0 56h2v1h-2M38 56h2v1h-2M60 57h2v1h-2M18 58h2v2h-2M12 60h2v1h-2M8 61h2v1h-2M14 61h2v1h-2M24 61h2v1h-2M48 61h2v1h-2M60 61h2v1h-2M30 62h2v1h-2M60 62h2v1h-2M22 63h2v1h-2M30 63h2v1h-2"/><path fill="rgb(0,0,17)" d="M6 0h2v1h-2M22 0h2v1h-2M48 0h2v1h-2M4 1h4v1h-4M20 1h2v1h-2M22 2h2v1h-2M32 2h4v1h-4M0 3h4v1h-4M12 3h2v1h-2M22 3h2v1h-2M48 3h2v1h-2M52 3h2v1h-2M16 4h2v2h-2M24 4h2v2h-2M28 4h2v2h-2M46 4h2v2h-2M24 6h2v1h-2M28 6h2v1h-2M36 8h2v1h-2M60 9h2v1h-2M14 10h2v2h-2M20 10h2v2h-2M18 12h4v1h-4M24 12h2v1h-2M50 12h2v1h-2M54 12h2v1h-2M6 13h2v1h-2M32 13h2v1h-2M54 13h2v1h-2M4 14h2v1h-2M14 15h2v1h-2M20 15h4v1h-4M48 15h2v1h-2M2 16h2v2h-2M26 16h2v2h-2M54 16h2v2h-2M58 16h2v2h-2M16 18h2v1h-2M58 18h2v1h-2M16 19h2v1h-2M20 19h6v1h-6M32 19h2v1h-2M4 20h2v1h-2M38 20h2v1h-2M42 20h2v1h-2M10 21h2v1h-2M24 21h2v1h-2M38 21h4v1h-4M48 21h2v1h-2M4 22h2v2h-2M18 22h2v2h-2M36 22h2v2h-2M60 22h2v2h-2M2 25h2v1h-2M30 25h2v1h-2M50 25h2v1h-2M58 25h2v1h-2M8 26h2v1h-2M34 26h2v1h-2M50 26h2v1h-2M12 27h2v1h-2M28 27h2v1h-2M48 27h2v1h-2M0 28h2v2h-2M6 28h2v2h-2M18 28h2v2h-2M24 28h2v2h-2M0 30h2v1h-2M6 30h2v1h-2M2 31h2v1h-2M40 31h2v1h-2M50 31h2v1h-2M12 32h2v1h-2M20 32h4v1h-4M12 33h2v1h-2M50 33h2v1h-2M24 34h2v2h-2M40 34h2v2h-2M60 34h2v2h-2M38 36h2v1h-2M0 37h2v1h-2M22 37h4v1h-4M34 37h2v1h-2M2 38h2v1h-2M20 38h2v1h-2M58 38h2v1h-2M16 40h2v2h-2M36 40h2v2h-2M32 42h2v1h-2M40 42h2v1h-2M46 42h2v1h-2M8 43h2v1h-2M28 43h2v1h-2M8 45h2v1h-2M18 45h2v1h-2M40 45h2v1h-2M44 45h2v1h-2M56 45h2v1h-2M12 46h2v2h-2M20 46h2v2h-2M28 46h2v2h-2M56 46h2v2h-2M0 48h2v1h-2M12 48h2v1h-2M16 48h2v1h-2M40 48h2v1h-2M44 48h2v1h-2M44 49h2v1h-2M40 50h2v1h-2M12 52h4v2h-4M38 52h2v2h-2M2 54h2v1h-2M6 54h2v1h-2M38 55h2v1h-2M60 55h2v1h-2M48 56h2v1h-2M58 56h2v1h-2M28 57h2v1h-2M58 57h2v1h-2M14 58h2v2h-2M58 58h2v2h-2M8 60h2v1h-2M30 60h2v1h-2M34 60h2v1h-2M40 60h2v1h-2M10 61h2v1h-2M42 61h2v1h-2M14 62h2v1h-2M58 62h2v1h-2M46 63h2v1h-2M8 64h2v2h-2M42 64h2v2h-2M46 64h2v2h-2M50 64h2v2h-2M56 64h2v2h-2"/><path fill="rgb(0,0,8)" d="M26 0h2v1h-2M30 0h2v1h-2M38 0h4v1h-4M56 0h4v1h-4M22 1h2v1h-2M56 1h2v1h-2M8 2h2v1h-2M28 2h2v1h-2M36 2h4v1h-4M42 2h2v1h-2M14 3h6v1h-6M36 3h2v1h-2M4 4h2v2h-2M0 6h2v1h-2M8 6h2v1h-2M26 6h2v1h-2M0 7h2v1h-2M16 7h2v1h-2M20 7h2v1h-2M14 8h2v1h-2M22 8h2v1h-2M26 8h2v1h-2M32 8h2v1h-2M48 8h2v1h-2M24 9h2v1h-2M28 9h2v1h-2M42 9h2v1h-2M48 9h2v1h-2M58 9h2v1h-2M2 10h2v2h-2M6 10h2v2h-2M10 10h2v2h-2M60 10h2v2h-2M0 12h4v1h-4M22 12h2v1h-2M30 12h2v1h-2M52 13h2v1h-2M2 14h2v1h-2M8 14h4v1h-4M14 14h2v1h-2M40 14h2v1h-2M48 14h2v1h-2M54 14h6v1h-6M6 15h2v1h-2M10 15h2v1h-2M18 15h2v1h-2M50 15h2v1h-2M58 15h2v1h-2M6 16h2v2h-2M16 16h2v2h-2M24 16h2v2h-2M36 16h2v2h-2M60 16h2v2h-2M4 18h2v1h-2M38 18h2v1h-2M44 18h2v1h-2M52 18h2v1h-2M8 19h2v1h-2M58 19h2v1h-2M6 20h2v1h-2M58 20h2v1h-2M8 21h2v1h-2M36 21h2v1h-2M42 21h4v1h-4M58 21h2v1h-2M2 22h2v2h-2M26 22h2v2h-2M34 22h2v2h-2M42 22h2v2h-2M38 24h2v1h-2M8 25h2v1h-2M14 25h2v1h-2M22 25h2v1h-2M32 25h2v1h-2M44 25h2v1h-2M52 25h2v1h-2M2 26h2v1h-2M10 26h2v1h-2M14 26h2v1h-2M18 26h2v1h-2M0 27h2v1h-2M4 27h4v1h-4M10 27h2v1h-2M32 27h2v1h-2M38 27h2v1h-2M52 27h2v1h-2M58 27h2v1h-2M14 28h2v2h-2M34 28h2v2h-2M48 28h2v2h-2M4 30h2v1h-2M8 30h2v1h-2M40 30h2v1h-2M46 30h2v1h-2M56 30h2v1h-2M0 31h2v1h-2M4 31h2v1h-2M12 31h2v1h-2M24 31h2v1h-2M38 31h2v1h-2M18 32h2v1h-2M38 32h4v1h-4M30 34h2v2h-2M46 34h2v2h-2M54 34h2v2h-2M16 36h2v1h-2M20 36h2v1h-2M42 36h2v1h-2M58 36h2v1h-2M2 37h2v1h-2M8 37h2v1h-2M16 37h2v1h-2M44 37h2v1h-2M56 37h2v1h-2M10 38h2v1h-2M24 38h2v1h-2M28 38h2v1h-2M34 38h2v1h-2M50 38h2v1h-2M56 38h2v1h-2M16 39h2v1h-2M36 39h2v1h-2M30 40h2v2h-2M34 40h2v2h-2M38 40h2v2h-2M50 40h2v2h-2M0 42h2v1h-2M4 42h2v1h-2M22 42h2v1h-2M34 42h2v1h-2M56 42h2v1h-2M60 42h2v1h-2M26 43h2v1h-2M38 43h2v1h-2M42 43h2v1h-2M46 43h2v1h-2M50 43h2v1h-2M58 43h2v1h-2M2 44h2v1h-2M40 44h2v1h-2M54 44h4v1h-4M16 45h2v1h-2M60 45h2v1h-2M2 46h2v2h-2M40 46h2v2h-2M50 46h6v2h-6M4 48h2v1h-2M10 48h2v1h-2M58 48h2v1h-2M4 49h2v1h-2M8 49h2v1h-2M24 49h2v1h-2M28 49h2v1h-2M40 49h4v1h-4M58 49h2v1h-2M2 50h2v1h-2M8 50h2v1h-2M12 50h2v1h-2M26 50h4v1h-4M10 51h2v1h-2M22 51h2v1h-2M60 51h2v1h-2M16 52h6v2h-6M34 52h2v2h-2M42 52h2v2h-2M46 52h2v2h-2M54 52h2v2h-2M16 54h2v1h-2M22 54h2v1h-2M28 54h4v1h-4M48 54h2v1h-2M56 54h2v1h-2M0 55h2v1h-2M6 55h2v1h-2M20 55h2v1h-2M24 55h2v1h-2M50 55h4v1h-4M20 56h2v1h-2M26 56h2v1h-2M34 56h2v1h-2M6 57h2v1h-2M26 57h2v1h-2M40 57h2v1h-2M44 57h2v1h-2M28 58h2v2h-2M34 58h2v2h-2M38 58h2v2h-2M46 58h6v2h-6M54 58h2v2h-2M2 60h2v1h-2M50 60h2v1h-2M54 61h2v1h-2M0 62h2v1h-2M4 62h2v1h-2M26 62h2v1h-2M40 62h4v1h-4M52 62h2v1h-2M6 63h2v1h-2M10 63h4v1h-4M28 63h2v1h-2M0 64h2v2h-2M14 64h2v2h-2M20 64h2v2h-2M26 64h2v2h-2M40 64h2v2h-2"/><path fill="rgb(0,8,0)" d="M0 0h2v1h-2M10 0h2v1h-2M18 0h2v1h-2M32 0h2v1h-2M36 0h2v1h-2M52 0h2v1h-2M60 0h2v1h-2M18 1h2v1h-2M24 1h4v1h-4M30 1h4v1h-4M38 1h2v1h-2M44 1h2v1h-2M50 1h4v1h-4M58 1h4v1h-4M0 2h4v1h-4M6 2h2v1h-2M12 2h2v1h-2M16 2h2v1h-2M20 2h2v1h-2M56 2h2v1h-2M60 2h2v1h-2M4 3h4v1h-4M10 3h2v1h-2M30 3h4v1h-4M46 3h2v1h-2M50 3h2v1h-2M54 3h2v1h-2M8 4h2v2h-2M26 4h2v2h-2M30 4h2v2h-2M34 4h2v2h-2M40 4h2v2h-2M48 4h6v2h-6M22 6h2v1h-2M42 6h4v1h-4M56 6h6v1h-6M6 7h2v1h-2M10 7h4v1h-4M26 7h2v1h-2M50 7h2v1h-2M54 7h4v1h-4M60 7h2v1h-2M4 8h2v1h-2M12 8h2v1h-2M24 8h2v1h-2M44 8h2v1h-2M60 8h2v1h-2M4 9h2v1h-2M20 9h2v1h-2M32 9h2v1h-2M36 9h4v1h-4M16 10h2v2h-2M28 10h2v2h-2M38 10h4v2h-4M46 10h4v2h-4M4 12h2v1h-2M8 12h2v1h-2M14 12h4v1h-4M26 12h2v1h-2M34 12h6v1h-6M46 12h4v1h-4M58 12h4v1h-4M12 13h4v1h-4M20 13h2v1h-2M26 13h4v1h-4M34 13h2v1h-2M44 13h8v1h-8M6 14h2v1h-2M16 14h6v1h-6M24 14h4v1h-4M30 14h2v1h-2M46 14h2v1h-2M50 14h2v1h-2M0 15h2v1h-2M12 15h2v1h-2M30 15h2v1h-2M38 15h2v1h-2M44 15h2v1h-2M4 16h2v2h-2M8 16h2v2h-2M20 16h4v2h-4M28 16h8v2h-8M38 16h2v2h-2M46 16h2v2h-2M52 16h2v2h-2M2 18h2v1h-2M6 18h4v1h-4M22 18h2v1h-2M40 18h4v1h-4M56 18h2v1h-2M28 19h2v1h-2M34 19h2v1h-2M40 19h8v1h-8M60 19h2v1h-2M2 20h2v1h-2M16 20h2v1h-2M22 20h2v1h-2M28 20h2v1h-2M32 20h4v1h-4M52 20h2v1h-2M2 21h2v1h-2M6 21h2v1h-2M16 21h2v1h-2M26 21h2v1h-2M54 21h2v1h-2M0 22h2v2h-2M8 22h2v2h-2M12 22h6v2h-6M32 22h2v2h-2M38 22h4v2h-4M48 22h2v2h-2M2 24h2v1h-2M8 24h2v1h-2M18 24h2v1h-2M22 24h10v1h-10M46 24h2v1h-2M52 24h2v1h-2M58 24h4v1h-4M12 25h2v1h-2M16 25h2v1h-2M28 25h2v1h-2M40 25h2v1h-2M48 25h2v1h-2M4 26h4v1h-4M16 26h2v1h-2M26 26h2v1h-2M36 26h10v1h-10M56 26h2v1h-2M20 27h2v1h-2M40 27h2v1h-2M46 27h2v1h-2M50 27h2v1h-2M54 27h2v1h-2M26 28h2v2h-2M36 28h2v2h-2M18 30h2v1h-2M26 30h2v1h-2M30 30h2v1h-2M38 30h2v1h-2M42 30h2v1h-2M6 31h4v1h-4M28 31h2v1h-2M32 31h2v1h-2M46 31h2v1h-2M52 31h4v1h-4M8 32h2v1h-2M26 32h2v1h-2M34 32h2v1h-2M42 32h10v1h-10M60 32h2v1h-2M2 33h2v1h-2M22 33h2v1h-2M28 33h2v1h-2M44 33h4v1h-4M56 33h2v1h-2M0 34h2v2h-2M10 34h2v2h-2M16 34h2v2h-2M20 34h2v2h-2M0 36h2v1h-2M14 36h2v1h-2M28 36h2v1h-2M52 36h2v1h-2M56 36h2v1h-2M60 36h2v1h-2M14 37h2v1h-2M18 37h4v1h-4M42 37h2v1h-2M48 37h2v1h-2M16 38h2v1h-2M36 38h2v1h-2M40 38h2v1h-2M54 38h2v1h-2M10 39h4v1h-4M26 39h2v1h-2M30 39h2v1h-2M34 39h2v1h-2M40 39h2v1h-2M56 39h2v1h-2M14 40h2v2h-2M42 40h2v2h-2M46 40h2v2h-2M52 40h6v2h-6M2 42h2v1h-2M10 42h2v1h-2M16 42h2v1h-2M20 42h2v1h-2M36 42h2v1h-2M48 42h2v1h-2M12 43h2v1h-2M18 43h2v1h-2M48 43h2v1h-2M20 44h2v1h-2M24 44h4v1h-4M32 44h4v1h-4M38 44h2v1h-2M58 44h4v1h-4M2 45h2v1h-2M12 45h2v1h-2M26 45h4v1h-4M46 45h2v1h-2M54 45h2v1h-2M58 45h2v1h-2M14 46h2v2h-2M24 46h2v2h-2M32 46h2v2h-2M38 46h2v2h-2M48 46h2v2h-2M58 46h4v2h-4M2 48h2v1h-2M52 48h2v1h-2M56 48h2v1h-2M0 49h2v1h-2M14 49h2v1h-2M18 49h2v1h-2M34 49h6v1h-6M52 49h2v1h-2M0 50h2v1h-2M4 50h2v1h-2M16 50h2v1h-2M24 50h2v1h-2M32 50h2v1h-2M36 50h4v1h-4M42 50h2v1h-2M46 50h2v1h-2M54 50h2v1h-2M60 50h2v1h-2M2 51h2v1h-2M28 51h4v1h-4M56 51h2v1h-2M4 52h2v2h-2M22 52h2v2h-2M26 52h4v2h-4M32 52h2v2h-2M44 52h2v2h-2M56 52h4v2h-4M4 54h2v1h-2M14 54h2v1h-2M24 54h4v1h-4M36 54h2v1h-2M44 54h4v1h-4M52 54h2v1h-2M60 54h2v1h-2M4 55h2v1h-2M10 55h2v1h-2M18 55h2v1h-2M22 55h2v1h-2M28 55h2v1h-2M40 55h2v1h-2M44 55h2v1h-2M48 55h2v1h-2M58 55h2v1h-2M6 56h8v1h-8M16 56h4v1h-4M22 56h4v1h-4M30 56h2v1h-2M36 56h2v1h-2M46 56h2v1h-2M54 56h2v1h-2M16 57h2v1h-2M24 57h2v1h-2M30 57h2v1h-2M36 57h2v1h-2M48 57h6v1h-6M12 58h2v2h-2M16 58h2v2h-2M22 58h2v2h-2M26 58h2v2h-2M40 58h4v2h-4M60 58h2v2h-2M4 60h4v1h-4M16 60h2v1h-2M24 60h2v1h-2M32 60h2v1h-2M44 60h2v1h-2M52 60h2v1h-2M4 61h4v1h-4M12 61h2v1h-2M18 61h2v1h-2M36 61h2v1h-2M40 61h2v1h-2M44 61h2v1h-2M52 61h2v1h-2M58 61h2v1h-2M2 62h2v1h-2M16 62h4v1h-4M24 62h2v1h-2M32 62h2v1h-2M46 62h2v1h-2M50 62h2v1h-2M0 63h2v1h-2M4 63h2v1h-2M14 63h2v1h-2M20 63h2v1h-2M26 63h2v1h-2M36 63h2v1h-2M40 63h2v1h-2M44 63h2v1h-2M48 63h2v1h-2M58 63h2v1h-2M6 64h2v2h-2M16 64h2v2h-2M22 64h4v2h-4M28 64h4v2h-4M36 64h2v2h-2M48 64h2v2h-2M52 64h4v2h-4M58 64h2v2h-2"/><path fill="rgb(0,17,0)" d="M34 0h2v1h-2M42 0h6v1h-6M54 0h2v1h-2M34 1h4v1h-4M46 1h2v1h-2M54 1h2v1h-2M10 2h2v1h-2M26 2h2v1h-2M40 2h2v1h-2M44 2h2v1h-2M48 2h2v1h-2M8 3h2v1h-2M34 3h2v1h-2M40 3h2v1h-2M44 3h2v1h-2M0 4h2v2h-2M10 4h2v2h-2M14 4h2v2h-2M20 4h2v2h-2M4 6h4v1h-4M20 6h2v1h-2M30 6h4v1h-4M4 7h2v1h-2M24 7h2v1h-2M32 7h2v1h-2M38 7h2v1h-2M52 7h2v1h-2M6 8h6v1h-6M42 8h2v1h-2M56 8h4v1h-4M0 9h2v1h-2M6 9h2v1h-2M12 9h2v1h-2M16 9h4v1h-4M30 9h2v1h-2M44 9h4v1h-4M54 9h4v1h-4M0 10h2v2h-2M8 10h2v2h-2M30 10h2v2h-2M36 10h2v2h-2M52 10h2v2h-2M6 12h2v1h-2M44 12h2v1h-2M30 13h2v1h-2M36 13h2v1h-2M60 13h2v1h-2M12 14h2v1h-2M38 14h2v1h-2M42 14h4v1h-4M2 15h2v1h-2M16 15h2v1h-2M28 15h2v1h-2M34 15h2v1h-2M40 15h2v1h-2M46 15h2v1h-2M12 16h2v2h-2M18 16h2v2h-2M48 16h2v2h-2M56 16h2v2h-2M0 18h2v1h-2M24 18h4v1h-4M30 18h2v1h-2M6 19h2v1h-2M14 19h2v1h-2M18 19h2v1h-2M52 19h4v1h-4M18 20h2v1h-2M24 20h4v1h-4M36 20h2v1h-2M48 20h4v1h-4M60 20h2v1h-2M4 21h2v1h-2M18 21h2v1h-2M34 21h2v1h-2M56 21h2v1h-2M22 22h2v2h-2M54 22h2v2h-2M12 24h2v1h-2M20 24h2v1h-2M36 24h2v1h-2M50 24h2v1h-2M18 25h2v1h-2M36 25h2v1h-2M42 25h2v1h-2M56 25h2v1h-2M60 25h2v1h-2M0 26h2v1h-2M30 26h4v1h-4M58 26h2v1h-2M2 27h2v1h-2M16 27h2v1h-2M30 27h2v1h-2M56 27h2v1h-2M12 28h2v2h-2M32 28h2v2h-2M38 28h2v2h-2M46 28h2v2h-2M50 28h2v2h-2M10 30h2v1h-2M14 30h4v1h-4M20 30h2v1h-2M34 30h2v1h-2M50 30h2v1h-2M54 30h2v1h-2M58 30h2v1h-2M16 31h4v1h-4M22 31h2v1h-2M30 31h2v1h-2M2 32h4v1h-4M10 32h2v1h-2M16 32h2v1h-2M24 32h2v1h-2M54 32h2v1h-2M6 33h4v1h-4M18 33h4v1h-4M24 33h2v1h-2M34 33h4v1h-4M40 33h2v1h-2M52 33h4v1h-4M6 34h2v2h-2M12 34h2v2h-2M22 34h2v2h-2M26 34h4v2h-4M34 34h4v2h-4M56 34h2v2h-2M2 36h2v1h-2M10 36h2v1h-2M24 36h4v1h-4M30 36h2v1h-2M54 36h2v1h-2M6 37h2v1h-2M10 37h2v1h-2M52 37h2v1h-2M12 38h2v1h-2M18 38h2v1h-2M22 38h2v1h-2M30 38h2v1h-2M46 38h4v1h-4M52 38h2v1h-2M28 39h2v1h-2M38 39h2v1h-2M42 39h4v1h-4M4 40h2v2h-2M12 40h2v2h-2M20 40h2v2h-2M26 40h4v2h-4M32 40h2v2h-2M18 42h2v1h-2M24 42h2v1h-2M50 42h2v1h-2M0 43h2v1h-2M10 43h2v1h-2M14 43h4v1h-4M22 43h4v1h-4M54 43h2v1h-2M0 44h2v1h-2M6 44h4v1h-4M16 44h2v1h-2M22 44h2v1h-2M28 44h4v1h-4M44 44h2v1h-2M48 44h2v1h-2M10 45h2v1h-2M22 45h2v1h-2M32 45h4v1h-4M38 45h2v1h-2M42 45h2v1h-2M50 45h2v1h-2M4 46h2v2h-2M30 46h2v2h-2M34 46h4v2h-4M44 46h2v2h-2M22 48h4v1h-4M28 48h2v1h-2M38 48h2v1h-2M32 49h2v1h-2M46 49h2v1h-2M60 49h2v1h-2M6 50h2v1h-2M10 50h2v1h-2M18 50h2v1h-2M30 50h2v1h-2M52 50h2v1h-2M58 50h2v1h-2M6 51h2v1h-2M26 51h2v1h-2M36 51h2v1h-2M42 51h2v1h-2M50 51h2v1h-2M58 51h2v1h-2M0 52h2v2h-2M24 52h2v2h-2M40 52h2v2h-2M52 52h2v2h-2M60 52h2v2h-2M10 54h2v1h-2M20 54h2v1h-2M34 54h2v1h-2M42 54h2v1h-2M58 54h2v1h-2M2 55h2v1h-2M26 55h2v1h-2M30 55h6v1h-6M42 55h2v1h-2M46 55h2v1h-2M54 55h2v1h-2M2 56h2v1h-2M14 56h2v1h-2M40 56h2v1h-2M56 56h2v1h-2M60 56h2v1h-2M0 57h6v1h-6M10 57h6v1h-6M32 57h2v1h-2M0 58h2v2h-2M6 58h2v2h-2M10 58h2v2h-2M10 60h2v1h-2M38 60h2v1h-2M54 60h4v1h-4M60 60h2v1h-2M0 61h4v1h-4M26 61h4v1h-4M46 61h2v1h-2M50 61h2v1h-2M6 62h2v1h-2M10 62h4v1h-4M28 62h2v1h-2M36 62h2v1h-2M48 62h2v1h-2M42 63h2v1h-2M56 63h2v1h-2"/><path fill="rgb(0,26,0)" d="M2 0h2v1h-2M12 0h2v1h-2M16 0h2v1h-2M50 0h2v1h-2M8 1h2v1h-2M12 1h2v1h-2M24 2h2v1h-2M46 2h2v1h-2M52 2h2v1h-2M2 4h2v2h-2M12 4h2v2h-2M42 4h4v2h-4M16 6h2v1h-2M18 7h2v1h-2M22 7h2v1h-2M36 7h2v1h-2M58 7h2v1h-2M16 8h2v1h-2M46 8h2v1h-2M52 8h2v1h-2M10 9h2v1h-2M22 9h2v1h-2M26 9h2v1h-2M50 9h4v1h-4M24 10h4v2h-4M44 10h2v2h-2M54 10h2v2h-2M28 12h2v1h-2M2 13h2v1h-2M10 13h2v1h-2M18 13h2v1h-2M40 13h4v1h-4M28 14h2v1h-2M52 14h2v1h-2M60 14h2v1h-2M32 15h2v1h-2M36 15h2v1h-2M60 15h2v1h-2M50 16h2v2h-2M14 18h2v1h-2M46 18h2v1h-2M4 19h2v1h-2M10 20h2v1h-2M44 20h2v1h-2M0 21h2v1h-2M20 21h2v1h-2M30 21h2v1h-2M56 22h2v2h-2M4 24h2v1h-2M34 24h2v1h-2M54 24h2v1h-2M4 25h4v1h-4M10 25h2v1h-2M24 25h4v1h-4M12 26h2v1h-2M20 26h4v1h-4M10 28h2v2h-2M28 28h4v2h-4M40 28h2v2h-2M60 28h2v2h-2M32 30h2v1h-2M36 30h2v1h-2M36 31h2v1h-2M44 31h2v1h-2M52 32h2v1h-2M56 32h2v1h-2M32 33h2v1h-2M42 33h2v1h-2M60 33h2v1h-2M14 34h2v2h-2M32 34h2v2h-2M48 34h2v2h-2M18 36h2v1h-2M40 36h2v1h-2M46 36h2v1h-2M12 37h2v1h-2M50 37h2v1h-2M4 38h4v1h-4M2 39h4v1h-4M46 39h4v1h-4M24 40h2v2h-2M6 42h2v1h-2M26 42h2v1h-2M52 42h2v1h-2M2 43h2v1h-2M20 43h2v1h-2M44 43h2v1h-2M60 43h2v1h-2M4 44h2v1h-2M12 44h2v1h-2M42 44h2v1h-2M14 45h2v1h-2M30 45h2v1h-2M52 45h2v1h-2M8 46h2v2h-2M14 48h2v1h-2M26 48h2v1h-2M60 48h2v1h-2M10 49h2v1h-2M20 49h2v1h-2M0 51h2v1h-2M14 51h2v1h-2M34 51h2v1h-2M52 51h4v1h-4M8 52h4v2h-4M50 52h2v2h-2M40 54h2v1h-2M8 55h2v1h-2M28 56h2v1h-2M32 56h2v1h-2M50 56h2v1h-2M8 57h2v1h-2M42 57h2v1h-2M46 57h2v1h-2M34 61h2v1h-2M20 62h2v1h-2M34 62h2v1h-2M54 62h2v1h-2M2 63h2v1h-2M8 63h2v1h-2M38 63h2v1h-2M52 63h4v1h-4M4 64h2v2h-2M34 64h2v2h-2"/><path fill="rgb(0,34,0)" d="M24 3h2v1h-2M36 4h2v2h-2M8 7h2v1h-2M10 12h2v1h-2M32 12h2v1h-2M10 16h2v2h-2M44 16h2v2h-2M12 20h2v1h-2M20 22h2v2h-2M26 27h2v1h-2M34 27h2v1h-2M44 28h2v2h-2M32 37h2v1h-2M6 48h2v1h-2M38 51h2v1h-2M32 58h2v2h-2M16 63h2v1h-2"/></g></pattern>
<pattern id="nD1" width="75" height="78" patternUnits="userSpaceOnUse" patternTransform="translate(410,59)"><g shape-rendering="crispEdges"><path fill="rgb(0,0,212)" d="M17 31h3v1h-3"/><path fill="rgb(0,0,196)" d="M47 31h3v1h-3"/><path fill="rgb(0,0,187)" d="M67 54h3v1h-3"/><path fill="rgb(0,0,178)" d="M0 15h2v1h-2M45 55h2v1h-2"/><path fill="rgb(0,0,170)" d="M67 6h3v1h-3M55 7h2v1h-2M45 15h2v1h-2M12 60h3v1h-3M17 67h3v1h-3M67 69h3v1h-3M50 75h2v1h-2"/><path fill="rgb(0,0,162)" d="M72 32h3v1h-3M7 54h3v1h-3M40 57h2v1h-2"/><path fill="rgb(0,0,153)" d="M10 13h2v1h-2M55 16h2v2h-2"/><path fill="rgb(0,0,144)" d="M22 12h3v1h-3M30 36h2v1h-2M32 48h3v1h-3"/><path fill="rgb(0,0,136)" d="M17 0h3v1h-3M27 0h3v1h-3M70 32h2v1h-2M22 56h3v1h-3M50 57h2v1h-2"/><path fill="rgb(0,0,128)" d="M15 36h2v1h-2M0 42h2v1h-2M42 52h3v2h-3"/><path fill="rgb(0,0,119)" d="M32 19h3v1h-3M32 22h3v2h-3M35 24h2v1h-2M5 25h2v1h-2M12 62h3v1h-3M22 64h3v2h-3M60 64h2v2h-2"/><path fill="rgb(0,0,110)" d="M65 1h2v1h-2M17 6h3v1h-3M50 10h2v2h-2M67 12h3v1h-3M72 12h3v1h-3M0 24h2v1h-2M72 25h3v1h-3M45 48h2v1h-2M5 54h2v1h-2M30 54h2v1h-2M72 69h3v1h-3M0 70h2v2h-2"/><path fill="rgb(0,0,102)" d="M27 2h3v1h-3M2 27h3v1h-3M12 27h3v1h-3M30 33h2v1h-2M25 38h2v1h-2M52 39h3v1h-3M5 48h2v1h-2M65 50h2v1h-2M5 60h2v1h-2M50 68h2v1h-2M32 76h3v2h-3"/><path fill="rgb(0,0,94)" d="M52 4h3v2h-3M15 16h2v2h-2M70 25h2v1h-2M65 27h2v1h-2M42 51h3v1h-3M17 66h3v1h-3M7 72h3v1h-3M42 72h3v1h-3"/><path fill="rgb(0,0,85)" d="M27 4h3v2h-3M72 4h3v2h-3M0 7h2v1h-2M67 8h3v1h-3M15 18h2v1h-2M50 20h2v1h-2M2 25h3v1h-3M40 30h2v1h-2M0 40h2v2h-2M47 43h3v1h-3M50 50h2v1h-2M15 56h2v1h-2M0 58h2v2h-2M0 62h2v1h-2M32 72h5v1h-5M10 73h2v1h-2"/><path fill="rgb(0,0,76)" d="M7 0h3v1h-3M27 1h3v1h-3M30 4h2v2h-2M7 6h3v1h-3M60 12h2v1h-2M15 13h2v1h-2M70 15h2v1h-2M17 19h3v1h-3M15 26h2v1h-2M55 27h2v1h-2M72 27h3v1h-3M62 31h3v1h-3M22 32h3v1h-3M15 33h2v1h-2M55 37h2v1h-2M65 37h2v1h-2M7 48h3v1h-3M50 48h2v1h-2M12 50h3v1h-3M25 57h2v1h-2M47 58h3v2h-3M12 67h3v1h-3M37 73h3v1h-3"/><path fill="rgb(0,0,68)" d="M30 0h2v1h-2M12 9h3v1h-3M62 9h3v1h-3M32 16h3v2h-3M72 18h3v1h-3M60 20h2v1h-2M60 21h2v1h-2M67 26h3v1h-3M20 27h2v1h-2M45 32h2v1h-2M55 32h2v1h-2M60 32h2v1h-2M42 33h3v1h-3M12 40h3v2h-3M12 43h3v1h-3M0 45h2v1h-2M0 48h2v1h-2M22 49h3v1h-3M15 50h2v1h-2M7 56h3v1h-3M42 60h3v1h-3M25 62h2v1h-2M47 63h3v1h-3M7 64h3v2h-3M52 68h3v1h-3M37 69h3v1h-3M15 72h2v1h-2M17 75h3v1h-3"/><path fill="rgb(0,0,60)" d="M32 8h3v1h-3M30 9h2v1h-2M32 10h3v2h-3M55 14h2v1h-2M72 15h3v1h-3M10 20h2v1h-2M67 21h3v1h-3M7 22h3v2h-3M27 28h3v2h-3M20 32h2v1h-2M57 33h3v1h-3M30 37h2v1h-2M70 39h2v1h-2M30 40h2v2h-2M17 44h3v1h-3M2 45h3v1h-3M55 45h2v1h-2M55 48h2v1h-2M37 49h3v1h-3M30 52h2v2h-2M22 55h5v1h-5M62 55h3v1h-3M30 56h2v1h-2M37 56h3v1h-3M0 57h2v1h-2M60 57h2v1h-2M0 60h2v1h-2M10 61h2v1h-2M50 62h5v1h-5M60 62h2v1h-2M27 63h3v1h-3M60 66h2v1h-2M62 72h3v1h-3M67 73h3v1h-3"/><path fill="rgb(0,0,51)" d="M72 0h3v1h-3M7 1h3v1h-3M22 1h3v1h-3M20 4h2v2h-2M57 7h5v1h-5M0 8h2v1h-2M27 8h3v1h-3M42 8h3v1h-3M45 12h2v1h-2M25 14h2v1h-2M7 15h3v1h-3M12 16h3v2h-3M5 18h2v1h-2M12 19h3v1h-3M57 19h3v1h-3M22 22h3v2h-3M20 25h2v1h-2M45 26h2v1h-2M20 28h2v2h-2M0 30h2v1h-2M35 30h2v1h-2M55 31h2v1h-2M5 32h2v1h-2M37 32h3v1h-3M7 33h3v1h-3M7 36h3v1h-3M40 38h2v1h-2M52 38h3v1h-3M50 39h2v1h-2M50 40h2v2h-2M60 40h2v2h-2M52 43h3v1h-3M67 46h3v2h-3M15 48h2v1h-2M42 48h3v1h-3M70 48h2v1h-2M10 51h2v1h-2M70 54h2v1h-2M0 55h2v1h-2M42 55h3v1h-3M55 55h2v1h-2M10 57h2v1h-2M30 57h2v1h-2M7 62h3v1h-3M27 62h3v1h-3M70 64h2v2h-2M67 66h3v1h-3M42 69h3v1h-3M20 70h2v2h-2M32 70h3v2h-3M30 74h2v1h-2M40 74h2v1h-2M30 75h2v1h-2"/><path fill="rgb(0,0,42)" d="M15 1h2v1h-2M2 7h3v1h-3M35 7h5v1h-5M72 8h3v1h-3M7 9h3v1h-3M30 12h2v1h-2M42 12h3v1h-3M35 15h2v1h-2M57 15h3v1h-3M55 19h2v1h-2M40 20h2v1h-2M62 20h3v1h-3M42 21h3v1h-3M65 24h2v1h-2M55 25h2v1h-2M60 25h2v1h-2M35 26h2v1h-2M7 28h3v2h-3M67 28h3v2h-3M65 32h2v1h-2M47 33h5v1h-5M35 34h5v2h-5M67 34h3v2h-3M67 36h3v1h-3M70 37h2v1h-2M7 38h3v1h-3M15 38h2v1h-2M32 38h3v1h-3M7 39h3v1h-3M0 43h2v1h-2M45 45h2v1h-2M10 46h2v2h-2M12 49h3v1h-3M57 49h3v1h-3M50 51h2v1h-2M50 54h2v1h-2M62 54h3v1h-3M20 55h2v1h-2M57 55h3v1h-3M52 56h3v1h-3M62 56h3v1h-3M5 57h2v1h-2M30 58h2v2h-2M52 58h3v2h-3M32 61h3v1h-3M55 72h2v1h-2M55 73h2v1h-2M55 74h2v1h-2M52 75h3v1h-3M22 76h3v2h-3"/><path fill="rgb(0,0,34)" d="M10 0h2v1h-2M42 0h3v1h-3M70 0h2v1h-2M67 1h3v1h-3M57 3h3v1h-3M25 4h2v2h-2M0 6h2v1h-2M5 8h2v1h-2M22 8h3v1h-3M70 8h2v1h-2M7 10h3v2h-3M20 14h2v1h-2M45 14h2v1h-2M40 16h2v2h-2M67 19h3v1h-3M22 20h3v1h-3M45 20h2v1h-2M72 20h3v1h-3M27 21h3v1h-3M2 22h3v2h-3M47 24h3v1h-3M25 26h2v1h-2M15 27h2v1h-2M37 27h3v1h-3M45 27h2v1h-2M35 28h2v2h-2M5 30h2v1h-2M27 30h3v1h-3M57 30h3v1h-3M2 31h3v1h-3M30 32h2v1h-2M42 34h3v2h-3M50 34h2v2h-2M32 36h3v1h-3M57 36h3v1h-3M65 38h2v1h-2M72 39h3v1h-3M7 40h3v2h-3M15 42h2v1h-2M30 42h2v1h-2M37 42h3v1h-3M37 43h3v1h-3M12 45h3v1h-3M17 46h3v2h-3M7 49h3v1h-3M42 49h3v1h-3M32 51h3v1h-3M2 52h3v2h-3M0 54h2v1h-2M35 55h2v1h-2M40 56h2v1h-2M67 56h3v1h-3M42 57h3v1h-3M47 57h3v1h-3M72 58h3v2h-3M32 60h3v1h-3M52 60h3v1h-3M57 60h3v1h-3M12 61h3v1h-3M20 61h2v1h-2M55 61h2v1h-2M62 62h3v1h-3M0 63h2v1h-2M32 64h3v2h-3M72 64h3v2h-3M25 66h5v1h-5M20 67h2v1h-2M52 67h3v1h-3M5 68h5v1h-5M67 68h3v1h-3M7 70h3v2h-3M67 74h3v1h-3M57 75h3v1h-3M67 76h3v2h-3"/><path fill="rgb(0,0,26)" d="M35 0h2v1h-2M67 0h3v1h-3M57 1h3v1h-3M70 1h2v1h-2M7 2h3v1h-3M37 2h3v1h-3M52 3h5v1h-5M45 4h2v2h-2M55 4h2v2h-2M27 7h3v1h-3M25 8h2v1h-2M10 9h2v1h-2M5 10h2v2h-2M42 10h3v2h-3M17 12h3v1h-3M30 13h2v1h-2M40 13h2v1h-2M45 13h2v1h-2M60 13h2v1h-2M12 14h3v1h-3M27 14h3v1h-3M47 14h3v1h-3M5 15h2v1h-2M15 15h2v1h-2M22 15h3v1h-3M62 15h3v1h-3M2 18h3v1h-3M22 18h3v1h-3M27 18h3v1h-3M40 18h2v1h-2M70 19h2v1h-2M20 20h2v1h-2M27 20h5v1h-5M50 21h2v1h-2M25 22h2v2h-2M37 22h3v2h-3M2 24h3v1h-3M40 25h2v1h-2M30 26h2v1h-2M25 28h2v2h-2M0 33h2v1h-2M20 33h2v1h-2M37 33h3v1h-3M22 34h3v2h-3M62 34h3v2h-3M50 36h5v1h-5M17 37h5v1h-5M57 37h3v1h-3M12 38h3v1h-3M10 39h2v1h-2M37 39h3v1h-3M55 39h2v1h-2M22 42h3v1h-3M32 42h3v1h-3M40 44h2v1h-2M47 44h3v1h-3M0 46h2v2h-2M15 46h2v2h-2M37 46h3v2h-3M55 46h2v2h-2M17 49h3v1h-3M2 50h3v1h-3M37 51h3v1h-3M47 51h3v1h-3M52 51h3v1h-3M62 51h5v1h-5M70 51h2v1h-2M17 52h3v2h-3M32 52h3v2h-3M15 54h2v1h-2M35 54h2v1h-2M2 56h3v1h-3M65 56h2v1h-2M55 58h2v2h-2M65 60h2v1h-2M5 61h2v1h-2M17 61h3v1h-3M50 61h2v1h-2M70 61h2v1h-2M55 62h2v1h-2M10 63h2v1h-2M17 63h3v1h-3M40 64h2v2h-2M47 64h3v2h-3M5 66h2v1h-2M42 66h3v1h-3M32 67h3v1h-3M47 67h3v1h-3M57 67h3v1h-3M55 68h2v1h-2M70 68h2v1h-2M25 69h2v1h-2M57 73h3v1h-3M50 74h2v1h-2M10 75h2v1h-2M15 75h2v1h-2M32 75h3v1h-3M37 75h3v1h-3M60 75h2v1h-2"/><path fill="rgb(0,0,17)" d="M62 0h3v1h-3M17 1h3v1h-3M50 1h2v1h-2M72 1h3v1h-3M2 2h5v1h-5M15 2h2v1h-2M50 2h2v1h-2M62 2h3v1h-3M72 3h3v1h-3M12 4h3v2h-3M50 4h2v2h-2M62 4h5v2h-5M70 4h2v2h-2M2 6h3v1h-3M37 6h3v1h-3M70 6h2v1h-2M5 7h2v1h-2M12 7h3v1h-3M30 7h2v1h-2M70 7h5v1h-5M45 8h2v1h-2M0 9h2v1h-2M22 9h3v1h-3M27 9h3v1h-3M65 9h2v1h-2M45 10h2v2h-2M65 10h2v2h-2M12 13h3v1h-3M37 13h3v1h-3M52 13h3v1h-3M62 13h3v1h-3M70 13h2v1h-2M15 14h5v1h-5M72 14h3v1h-3M7 16h3v2h-3M27 16h3v2h-3M12 20h3v1h-3M37 20h3v1h-3M52 20h3v1h-3M70 20h2v1h-2M52 22h3v2h-3M5 24h2v1h-2M22 24h3v1h-3M27 24h3v1h-3M40 24h2v1h-2M50 24h2v1h-2M15 25h2v1h-2M50 25h5v1h-5M5 26h2v1h-2M12 26h3v1h-3M57 26h3v1h-3M0 27h2v1h-2M5 27h2v1h-2M17 27h3v1h-3M17 28h3v2h-3M22 28h3v2h-3M47 28h3v2h-3M55 28h2v2h-2M15 31h2v1h-2M45 33h2v1h-2M0 36h2v1h-2M12 36h3v1h-3M27 36h3v1h-3M0 37h2v1h-2M40 39h2v1h-2M67 39h3v1h-3M20 40h2v2h-2M47 42h3v1h-3M57 42h3v1h-3M70 42h2v1h-2M15 43h2v1h-2M30 43h2v1h-2M45 43h2v1h-2M25 44h2v1h-2M37 45h3v1h-3M67 45h5v1h-5M10 48h2v1h-2M40 48h2v1h-2M52 48h3v1h-3M72 48h3v1h-3M25 49h2v1h-2M32 49h3v1h-3M65 49h7v1h-7M0 50h2v1h-2M10 50h2v1h-2M45 50h2v1h-2M67 50h3v1h-3M55 51h2v1h-2M0 52h2v2h-2M22 52h3v2h-3M50 52h2v2h-2M60 52h2v2h-2M20 54h2v1h-2M27 54h3v1h-3M40 54h2v1h-2M47 54h3v1h-3M72 54h3v1h-3M25 56h2v1h-2M27 57h3v1h-3M70 57h2v1h-2M15 58h2v2h-2M2 60h3v1h-3M22 60h3v1h-3M27 61h3v1h-3M22 62h3v1h-3M42 62h3v1h-3M47 62h3v1h-3M20 63h2v1h-2M57 63h3v1h-3M40 66h2v1h-2M52 66h3v1h-3M15 67h2v1h-2M27 67h3v1h-3M45 67h2v1h-2M27 68h3v1h-3M37 68h3v1h-3M47 69h3v1h-3M52 69h3v1h-3M57 69h3v1h-3M30 72h2v1h-2M20 73h2v1h-2M35 73h2v1h-2M40 73h2v1h-2M52 73h3v1h-3M5 74h2v1h-2M35 74h2v1h-2M67 75h3v1h-3M7 76h3v2h-3"/><path fill="rgb(0,0,8)" d="M47 0h5v1h-5M55 0h2v1h-2M32 1h3v1h-3M37 1h3v1h-3M12 2h3v1h-3M25 2h2v1h-2M40 2h2v1h-2M22 3h3v1h-3M27 6h3v1h-3M45 7h2v1h-2M12 8h3v1h-3M17 9h3v1h-3M35 10h2v2h-2M35 12h2v1h-2M55 12h2v1h-2M62 12h5v1h-5M7 13h3v1h-3M17 13h3v1h-3M65 13h2v1h-2M72 13h3v1h-3M50 14h2v1h-2M65 14h2v1h-2M70 14h2v1h-2M17 15h3v1h-3M25 16h2v2h-2M35 16h5v2h-5M72 16h3v2h-3M10 18h5v1h-5M32 18h3v1h-3M45 18h2v1h-2M62 18h3v1h-3M67 18h3v1h-3M52 19h3v1h-3M5 20h2v1h-2M7 21h3v1h-3M17 21h3v1h-3M62 24h3v1h-3M37 25h3v1h-3M37 26h3v1h-3M62 26h3v1h-3M7 27h3v1h-3M25 27h2v1h-2M32 27h3v1h-3M42 27h3v1h-3M50 27h2v1h-2M30 28h2v2h-2M52 28h3v2h-3M72 28h3v2h-3M2 30h3v1h-3M20 30h2v1h-2M25 30h2v1h-2M42 30h3v1h-3M10 31h2v1h-2M25 31h2v1h-2M52 31h3v1h-3M32 33h3v1h-3M55 33h2v1h-2M62 33h3v1h-3M67 33h3v1h-3M5 34h2v2h-2M17 34h3v2h-3M30 34h2v2h-2M45 34h2v2h-2M52 34h3v2h-3M70 34h2v2h-2M5 36h2v1h-2M10 36h2v1h-2M20 38h2v1h-2M30 38h2v1h-2M55 38h2v1h-2M2 39h3v1h-3M22 39h3v1h-3M42 40h3v2h-3M52 40h3v2h-3M12 42h3v1h-3M17 42h3v1h-3M27 43h3v1h-3M57 43h3v1h-3M72 43h3v1h-3M10 44h2v1h-2M72 44h3v1h-3M10 45h2v1h-2M30 45h2v1h-2M62 45h3v1h-3M7 46h3v2h-3M12 46h3v2h-3M47 46h3v2h-3M65 46h2v2h-2M72 46h3v2h-3M20 48h2v1h-2M27 48h3v1h-3M37 48h3v1h-3M62 48h3v1h-3M10 49h2v1h-2M5 50h2v1h-2M25 50h2v1h-2M57 50h5v1h-5M70 50h2v1h-2M60 51h2v1h-2M27 52h3v2h-3M2 54h3v1h-3M27 55h3v1h-3M32 55h3v1h-3M37 55h3v1h-3M47 55h3v1h-3M67 55h3v1h-3M0 56h2v1h-2M12 56h3v1h-3M17 56h3v1h-3M47 56h3v1h-3M2 57h3v1h-3M32 58h3v2h-3M37 58h5v2h-5M45 58h2v2h-2M60 58h2v2h-2M17 60h3v1h-3M37 60h3v1h-3M7 61h3v1h-3M22 61h3v1h-3M57 61h3v1h-3M15 64h2v2h-2M62 64h3v2h-3M10 66h2v1h-2M70 66h2v1h-2M5 67h2v1h-2M22 67h3v1h-3M37 67h3v1h-3M55 67h2v1h-2M25 68h2v1h-2M7 69h3v1h-3M70 69h2v1h-2M37 70h3v2h-3M55 70h2v2h-2M20 72h2v1h-2M27 72h3v1h-3M50 72h5v1h-5M62 73h3v1h-3M72 73h3v1h-3M10 74h2v1h-2M15 74h2v1h-2M45 74h2v1h-2M57 74h3v1h-3"/><path fill="rgb(0,8,0)" d="M20 0h2v1h-2M32 0h3v1h-3M0 1h2v1h-2M5 1h2v1h-2M25 1h2v1h-2M30 1h2v1h-2M55 1h2v1h-2M70 2h5v1h-5M2 3h3v1h-3M10 3h2v1h-2M20 3h2v1h-2M27 3h3v1h-3M60 3h2v1h-2M10 4h2v2h-2M17 4h3v2h-3M35 4h2v2h-2M42 4h3v2h-3M60 4h2v2h-2M57 6h3v1h-3M40 7h2v1h-2M47 7h3v1h-3M40 8h2v1h-2M47 8h3v1h-3M2 9h3v1h-3M15 9h2v1h-2M50 9h2v1h-2M55 9h2v1h-2M72 9h3v1h-3M17 10h3v2h-3M37 10h3v2h-3M60 10h2v2h-2M15 12h2v1h-2M40 12h2v1h-2M57 12h3v1h-3M70 12h2v1h-2M22 13h3v1h-3M47 13h5v1h-5M0 14h2v1h-2M10 14h2v1h-2M30 14h2v1h-2M57 14h3v1h-3M37 15h3v1h-3M47 15h3v1h-3M52 15h3v1h-3M65 15h2v1h-2M20 16h2v2h-2M17 18h3v1h-3M70 18h2v1h-2M15 19h2v1h-2M50 19h2v1h-2M42 20h3v1h-3M47 20h3v1h-3M67 20h3v1h-3M25 21h2v1h-2M65 21h2v1h-2M70 21h2v1h-2M0 22h2v2h-2M20 22h2v2h-2M45 22h2v2h-2M50 22h2v2h-2M67 22h3v2h-3M7 24h3v1h-3M15 24h2v1h-2M25 24h2v1h-2M32 25h3v1h-3M42 25h3v1h-3M62 25h3v1h-3M0 26h2v1h-2M20 26h2v1h-2M40 26h2v1h-2M55 26h2v1h-2M22 27h3v1h-3M27 27h5v1h-5M47 27h3v1h-3M70 27h2v1h-2M50 28h2v2h-2M7 30h3v1h-3M15 30h2v1h-2M50 30h5v1h-5M35 31h2v1h-2M65 31h2v1h-2M72 31h3v1h-3M47 32h3v1h-3M60 33h2v1h-2M20 34h2v2h-2M25 34h2v2h-2M32 34h3v2h-3M55 34h2v2h-2M37 36h3v1h-3M42 36h3v1h-3M55 36h2v1h-2M15 37h2v1h-2M22 37h3v1h-3M27 37h3v1h-3M47 37h3v1h-3M60 37h2v1h-2M47 38h3v1h-3M72 38h3v1h-3M25 39h5v1h-5M57 39h3v1h-3M65 39h2v1h-2M25 40h2v2h-2M32 40h3v2h-3M40 40h2v2h-2M65 40h5v2h-5M10 42h2v1h-2M62 42h3v1h-3M5 43h2v1h-2M32 43h3v1h-3M55 43h2v1h-2M60 43h2v1h-2M20 44h2v1h-2M35 44h5v1h-5M7 45h3v1h-3M60 45h2v1h-2M22 46h3v2h-3M30 46h2v2h-2M45 46h2v2h-2M57 46h3v2h-3M30 49h2v1h-2M35 49h2v1h-2M20 50h2v1h-2M37 50h3v1h-3M42 50h3v1h-3M55 50h2v1h-2M62 50h3v1h-3M7 51h3v1h-3M27 51h3v1h-3M7 52h5v2h-5M37 52h3v2h-3M67 52h3v2h-3M32 54h3v1h-3M2 55h3v1h-3M60 55h2v1h-2M65 55h2v1h-2M70 55h2v1h-2M15 57h2v1h-2M52 57h3v1h-3M22 58h3v2h-3M67 58h3v2h-3M27 60h3v1h-3M60 60h2v1h-2M67 60h3v1h-3M72 60h3v1h-3M62 61h3v1h-3M72 61h3v1h-3M15 62h2v1h-2M32 62h3v1h-3M45 62h2v1h-2M65 62h5v1h-5M7 63h3v1h-3M37 63h3v1h-3M50 63h2v1h-2M72 63h3v1h-3M0 64h2v2h-2M25 64h2v2h-2M15 66h2v1h-2M20 66h2v1h-2M45 66h2v1h-2M42 67h3v1h-3M65 67h2v1h-2M22 68h3v1h-3M40 68h2v1h-2M5 70h2v2h-2M30 70h2v2h-2M40 70h5v2h-5M62 70h3v2h-3M5 72h2v1h-2M10 72h2v1h-2M37 72h5v1h-5M45 72h2v1h-2M60 72h2v1h-2M12 73h3v1h-3M17 73h3v1h-3M22 73h5v1h-5M45 73h2v1h-2M12 74h3v1h-3M62 74h3v1h-3M25 75h2v1h-2M35 75h2v1h-2M55 75h2v1h-2M70 75h2v1h-2M0 76h5v2h-5M20 76h2v2h-2M27 76h3v2h-3M50 76h2v2h-2"/><path fill="rgb(0,17,0)" d="M12 0h3v1h-3M52 0h3v1h-3M57 0h5v1h-5M2 1h3v1h-3M35 1h2v1h-2M52 1h3v1h-3M20 2h2v1h-2M45 2h2v1h-2M55 2h2v1h-2M5 3h2v1h-2M12 3h8v1h-8M37 3h3v1h-3M62 3h3v1h-3M2 4h3v2h-3M40 4h2v2h-2M67 4h3v2h-3M5 6h2v1h-2M10 6h2v1h-2M20 6h2v1h-2M30 6h2v1h-2M50 6h2v1h-2M60 6h2v1h-2M15 7h2v1h-2M25 7h2v1h-2M52 7h3v1h-3M65 7h5v1h-5M2 8h3v1h-3M57 8h3v1h-3M62 8h5v1h-5M5 9h2v1h-2M32 9h5v1h-5M45 9h2v1h-2M57 9h3v1h-3M15 10h2v2h-2M40 10h2v2h-2M57 10h3v2h-3M67 10h5v2h-5M7 12h3v1h-3M12 12h3v1h-3M25 12h2v1h-2M32 12h3v1h-3M5 13h2v1h-2M32 13h3v1h-3M55 13h2v1h-2M5 14h5v1h-5M52 14h3v1h-3M12 15h3v1h-3M30 15h2v1h-2M40 15h2v1h-2M67 15h3v1h-3M0 16h2v2h-2M60 16h7v2h-7M70 16h2v2h-2M0 18h2v1h-2M7 18h3v1h-3M30 18h2v1h-2M35 18h2v1h-2M57 18h3v1h-3M0 19h2v1h-2M47 19h3v1h-3M60 19h2v1h-2M5 21h2v1h-2M47 21h3v1h-3M72 21h3v1h-3M5 22h2v2h-2M15 22h2v2h-2M35 22h2v2h-2M40 22h2v2h-2M47 22h3v2h-3M62 22h5v2h-5M20 24h2v1h-2M37 24h3v1h-3M42 24h3v1h-3M57 24h3v1h-3M67 24h5v1h-5M10 25h5v1h-5M30 25h2v1h-2M45 25h2v1h-2M65 25h5v1h-5M10 26h2v1h-2M50 26h2v1h-2M72 26h3v1h-3M10 27h2v1h-2M52 27h3v1h-3M0 28h2v2h-2M57 28h3v2h-3M65 28h2v2h-2M17 30h3v1h-3M22 30h3v1h-3M65 30h2v1h-2M72 30h3v1h-3M0 31h2v1h-2M20 31h2v1h-2M30 31h2v1h-2M40 31h2v1h-2M60 31h2v1h-2M0 32h2v1h-2M17 32h3v1h-3M32 32h3v1h-3M42 32h3v1h-3M52 32h3v1h-3M57 32h3v1h-3M10 33h2v1h-2M27 33h3v1h-3M12 34h5v2h-5M47 34h3v2h-3M60 34h2v2h-2M17 36h3v1h-3M22 36h3v1h-3M72 36h3v1h-3M7 37h5v1h-5M42 37h3v1h-3M22 38h3v1h-3M50 38h2v1h-2M67 38h3v1h-3M17 39h3v1h-3M30 39h5v1h-5M42 39h3v1h-3M10 40h2v2h-2M37 40h3v2h-3M72 40h3v2h-3M50 42h2v1h-2M67 42h3v1h-3M35 43h2v1h-2M0 44h5v1h-5M22 44h3v1h-3M45 44h2v1h-2M17 45h3v1h-3M50 45h2v1h-2M12 48h3v1h-3M0 49h2v1h-2M2 51h3v1h-3M12 51h5v1h-5M25 51h2v1h-2M40 51h2v1h-2M45 51h2v1h-2M5 52h2v2h-2M20 52h2v2h-2M10 54h5v1h-5M17 54h3v1h-3M37 54h3v1h-3M57 54h5v1h-5M5 55h5v1h-5M55 56h2v1h-2M60 56h2v1h-2M20 57h2v1h-2M32 57h3v1h-3M72 57h3v1h-3M2 58h3v2h-3M7 58h3v2h-3M25 58h5v2h-5M65 58h2v2h-2M7 60h3v1h-3M25 60h2v1h-2M40 60h2v1h-2M25 61h2v1h-2M52 61h3v1h-3M17 62h3v1h-3M12 63h5v1h-5M22 63h3v1h-3M32 63h3v1h-3M2 64h3v2h-3M17 64h3v2h-3M35 64h2v2h-2M30 66h2v1h-2M50 66h2v1h-2M72 66h3v1h-3M2 67h3v1h-3M0 68h5v1h-5M10 68h2v1h-2M32 68h3v1h-3M45 68h2v1h-2M0 69h2v1h-2M32 69h3v1h-3M60 69h2v1h-2M12 70h3v2h-3M17 70h3v2h-3M52 70h3v2h-3M67 70h3v2h-3M72 70h3v2h-3M12 72h3v1h-3M25 72h2v1h-2M65 72h5v1h-5M2 73h3v1h-3M32 73h3v1h-3M47 73h5v1h-5M60 73h2v1h-2M65 73h2v1h-2M70 73h2v1h-2M2 74h3v1h-3M7 74h3v1h-3M47 74h3v1h-3M5 75h2v1h-2M20 75h2v1h-2M10 76h2v2h-2M17 76h3v2h-3M42 76h3v2h-3M52 76h3v2h-3M62 76h5v2h-5M72 76h3v2h-3"/><path fill="rgb(0,26,0)" d="M2 0h5v1h-5M15 0h2v1h-2M40 0h2v1h-2M10 1h2v1h-2M40 1h2v1h-2M60 1h5v1h-5M22 2h3v1h-3M42 2h3v1h-3M47 2h3v1h-3M52 2h3v1h-3M60 2h2v1h-2M70 3h2v1h-2M22 4h3v2h-3M15 6h2v1h-2M22 6h3v1h-3M32 6h3v1h-3M52 6h3v1h-3M42 7h3v1h-3M20 8h2v1h-2M37 8h3v1h-3M52 8h3v1h-3M20 9h2v1h-2M25 9h2v1h-2M70 9h2v1h-2M2 10h3v2h-3M10 10h2v2h-2M55 10h2v2h-2M62 10h3v2h-3M2 12h3v1h-3M27 12h3v1h-3M47 12h3v1h-3M20 13h2v1h-2M42 13h3v1h-3M57 13h3v1h-3M60 14h5v1h-5M2 15h3v1h-3M27 15h3v1h-3M32 15h3v1h-3M2 16h5v2h-5M22 16h3v2h-3M30 16h2v2h-2M42 16h5v2h-5M67 16h3v2h-3M37 18h3v1h-3M47 18h3v1h-3M60 18h2v1h-2M20 19h2v1h-2M35 19h5v1h-5M62 19h3v1h-3M0 20h2v1h-2M35 20h2v1h-2M57 20h3v1h-3M65 20h2v1h-2M22 21h3v1h-3M35 21h2v1h-2M40 21h2v1h-2M10 22h5v2h-5M42 22h3v2h-3M55 22h5v2h-5M10 24h5v1h-5M17 24h3v1h-3M55 24h2v1h-2M17 25h3v1h-3M25 25h2v1h-2M35 25h2v1h-2M57 25h3v1h-3M52 26h3v1h-3M62 27h3v1h-3M67 27h3v1h-3M15 28h2v2h-2M40 28h2v2h-2M10 30h5v1h-5M30 30h2v1h-2M37 30h3v1h-3M62 30h3v1h-3M22 31h3v1h-3M42 31h3v1h-3M67 31h3v1h-3M7 32h10v1h-10M17 33h3v1h-3M40 33h2v1h-2M7 34h3v2h-3M20 36h2v1h-2M25 36h2v1h-2M35 36h2v1h-2M45 36h5v1h-5M60 36h2v1h-2M65 36h2v1h-2M2 37h3v1h-3M62 37h3v1h-3M72 37h3v1h-3M2 38h3v1h-3M27 38h3v1h-3M35 38h2v1h-2M70 38h2v1h-2M15 39h2v1h-2M62 39h3v1h-3M5 40h2v2h-2M35 40h2v2h-2M45 40h2v2h-2M7 42h3v1h-3M25 42h2v1h-2M60 42h2v1h-2M7 43h3v1h-3M25 43h2v1h-2M40 43h2v1h-2M62 43h3v1h-3M5 44h2v1h-2M30 44h2v1h-2M42 44h3v1h-3M55 44h2v1h-2M62 44h3v1h-3M5 45h2v1h-2M40 45h5v1h-5M52 45h3v1h-3M65 45h2v1h-2M72 45h3v1h-3M35 46h2v2h-2M62 46h3v2h-3M70 46h2v2h-2M25 48h2v1h-2M30 48h2v1h-2M35 48h2v1h-2M2 49h3v1h-3M15 49h2v1h-2M55 49h2v1h-2M72 49h3v1h-3M27 50h3v1h-3M35 50h2v1h-2M72 50h3v1h-3M57 51h3v1h-3M72 51h3v1h-3M40 52h2v2h-2M42 54h3v1h-3M55 54h2v1h-2M12 55h3v1h-3M52 55h3v1h-3M10 56h2v1h-2M20 56h2v1h-2M27 56h3v1h-3M35 56h2v1h-2M50 56h2v1h-2M70 56h2v1h-2M7 57h3v1h-3M12 57h3v1h-3M17 57h3v1h-3M37 57h3v1h-3M55 57h5v1h-5M67 57h3v1h-3M5 58h2v2h-2M62 60h3v1h-3M15 61h2v1h-2M45 61h2v1h-2M35 62h5v1h-5M70 62h2v1h-2M5 63h2v1h-2M25 63h2v1h-2M35 63h2v1h-2M45 63h2v1h-2M70 63h2v1h-2M27 64h3v2h-3M45 64h2v2h-2M50 64h2v2h-2M22 66h3v1h-3M65 66h2v1h-2M35 67h2v1h-2M12 68h3v1h-3M17 68h3v1h-3M2 69h3v1h-3M12 69h3v1h-3M27 69h5v1h-5M35 69h2v1h-2M65 69h2v1h-2M47 70h3v2h-3M65 70h2v2h-2M0 72h2v1h-2M47 72h3v1h-3M0 73h2v1h-2M27 73h5v1h-5M42 73h3v1h-3M0 74h2v1h-2M20 74h2v1h-2M27 74h3v1h-3M42 74h3v1h-3M70 74h2v1h-2M45 75h5v1h-5M25 76h2v2h-2"/><path fill="rgb(0,34,0)" d="M0 0h2v1h-2M22 0h3v1h-3M42 1h5v1h-5M10 2h2v1h-2M7 3h3v1h-3M30 3h2v1h-2M47 3h3v1h-3M65 3h2v1h-2M32 4h3v2h-3M37 4h3v2h-3M25 6h2v1h-2M45 6h2v1h-2M10 7h2v1h-2M15 8h5v1h-5M30 8h2v1h-2M37 9h5v1h-5M25 10h2v2h-2M52 10h3v2h-3M72 10h3v2h-3M20 12h2v1h-2M32 14h3v1h-3M10 15h2v1h-2M60 15h2v1h-2M10 16h2v2h-2M17 16h3v2h-3M47 16h3v2h-3M52 16h3v2h-3M57 16h3v2h-3M50 18h2v1h-2M55 18h2v1h-2M5 19h5v1h-5M42 19h3v1h-3M65 19h2v1h-2M7 20h3v1h-3M17 20h3v1h-3M12 21h5v1h-5M52 21h3v1h-3M30 22h2v2h-2M45 24h2v1h-2M52 24h3v1h-3M27 25h3v1h-3M47 25h3v1h-3M32 26h3v1h-3M47 26h3v1h-3M70 26h2v1h-2M40 27h2v1h-2M60 27h2v1h-2M2 28h3v2h-3M32 28h3v2h-3M45 28h2v2h-2M60 28h5v2h-5M32 30h3v1h-3M70 30h2v1h-2M5 31h5v1h-5M27 31h3v1h-3M25 32h2v1h-2M35 32h2v1h-2M52 33h3v1h-3M27 34h3v2h-3M40 34h2v2h-2M65 34h2v2h-2M62 36h3v1h-3M12 37h3v1h-3M50 37h2v1h-2M67 37h3v1h-3M0 39h2v1h-2M57 40h3v2h-3M70 40h2v2h-2M40 42h2v1h-2M45 42h2v1h-2M55 42h2v1h-2M10 43h2v1h-2M22 43h3v1h-3M65 43h5v1h-5M7 44h3v1h-3M65 44h5v1h-5M20 45h5v1h-5M20 46h2v2h-2M32 46h3v2h-3M50 46h2v2h-2M2 48h3v1h-3M57 48h3v1h-3M27 49h3v1h-3M45 49h2v1h-2M60 49h2v1h-2M7 50h3v1h-3M0 51h2v1h-2M67 51h3v1h-3M12 52h3v2h-3M35 52h2v2h-2M45 52h5v2h-5M52 52h3v2h-3M57 52h3v2h-3M62 52h5v2h-5M70 52h2v2h-2M22 54h5v1h-5M17 55h3v1h-3M30 55h2v1h-2M72 55h3v1h-3M42 56h3v1h-3M72 56h3v1h-3M35 57h2v1h-2M65 57h2v1h-2M42 58h3v2h-3M50 58h2v2h-2M47 60h3v1h-3M70 60h2v1h-2M0 61h2v1h-2M35 61h2v1h-2M67 61h3v1h-3M30 62h2v1h-2M40 62h2v1h-2M30 63h2v1h-2M42 63h3v1h-3M52 63h5v1h-5M62 63h3v1h-3M67 63h3v1h-3M30 64h2v2h-2M65 64h2v2h-2M0 66h5v1h-5M32 66h5v1h-5M0 67h2v1h-2M10 67h2v1h-2M50 67h2v1h-2M60 68h2v1h-2M72 68h3v1h-3M10 69h2v1h-2M15 69h2v1h-2M40 69h2v1h-2M45 69h2v1h-2M55 69h2v1h-2M25 70h5v2h-5M60 70h2v2h-2M72 72h3v1h-3M37 74h3v1h-3M65 74h2v1h-2M12 75h3v1h-3M42 75h3v1h-3M65 75h2v1h-2M72 75h3v1h-3M5 76h2v2h-2M40 76h2v2h-2M45 76h2v2h-2M55 76h2v2h-2M70 76h2v2h-2"/><path fill="rgb(0,42,0)" d="M65 0h2v1h-2M20 1h2v1h-2M30 2h2v1h-2M42 3h5v1h-5M0 4h2v2h-2M40 6h2v1h-2M62 6h3v1h-3M7 7h3v1h-3M32 7h3v1h-3M50 7h2v1h-2M7 8h3v1h-3M35 8h2v1h-2M50 8h2v1h-2M60 8h2v1h-2M0 10h2v2h-2M20 10h2v2h-2M27 10h3v2h-3M5 12h2v1h-2M37 12h3v1h-3M25 13h5v1h-5M35 13h2v1h-2M2 14h3v1h-3M40 14h2v1h-2M67 14h3v1h-3M42 18h3v1h-3M52 18h3v1h-3M2 19h3v1h-3M10 19h2v1h-2M72 19h3v1h-3M2 20h3v1h-3M25 20h2v1h-2M55 20h2v1h-2M10 21h2v1h-2M30 21h2v1h-2M45 21h2v1h-2M60 22h2v2h-2M30 24h2v1h-2M60 24h2v1h-2M22 25h3v1h-3M2 26h3v1h-3M22 26h3v1h-3M57 27h3v1h-3M10 28h2v2h-2M45 30h5v1h-5M12 31h3v1h-3M27 32h3v1h-3M25 33h2v1h-2M0 34h5v2h-5M10 34h2v2h-2M5 37h2v1h-2M35 37h2v1h-2M0 38h2v1h-2M10 38h2v1h-2M17 38h3v1h-3M57 38h8v1h-8M35 39h2v1h-2M2 40h3v2h-3M15 40h2v2h-2M27 40h3v2h-3M55 40h2v2h-2M5 42h2v1h-2M20 42h2v1h-2M35 42h2v1h-2M52 42h3v1h-3M2 43h3v1h-3M50 43h2v1h-2M70 43h2v1h-2M15 44h2v1h-2M32 44h3v1h-3M52 44h3v1h-3M57 44h5v1h-5M15 45h2v1h-2M27 45h3v1h-3M35 45h2v1h-2M47 45h3v1h-3M57 45h3v1h-3M2 46h3v2h-3M27 46h3v2h-3M42 46h3v2h-3M60 48h2v1h-2M20 49h2v1h-2M40 49h2v1h-2M40 50h2v1h-2M47 50h3v1h-3M5 51h2v1h-2M30 51h2v1h-2M35 51h2v1h-2M25 52h2v2h-2M65 54h2v1h-2M15 55h2v1h-2M5 56h2v1h-2M22 57h3v1h-3M45 57h2v1h-2M62 58h3v2h-3M35 60h2v1h-2M30 61h2v1h-2M40 61h2v1h-2M2 62h3v1h-3M57 62h3v1h-3M40 63h2v1h-2M12 64h3v2h-3M20 64h2v2h-2M52 64h3v2h-3M7 66h3v1h-3M12 66h3v1h-3M37 66h3v1h-3M7 67h3v1h-3M62 67h3v1h-3M70 67h5v1h-5M20 68h2v1h-2M62 68h3v1h-3M20 69h2v1h-2M15 70h2v2h-2M2 72h3v1h-3M22 72h3v1h-3M5 73h2v1h-2M32 74h3v1h-3M60 74h2v1h-2M22 75h3v1h-3M40 75h2v1h-2M15 76h2v2h-2M57 76h5v2h-5"/><path fill="rgb(0,51,0)" d="M45 0h2v1h-2M0 2h2v1h-2M35 2h2v1h-2M0 3h2v1h-2M25 3h2v1h-2M35 3h2v1h-2M57 4h3v2h-3M42 6h3v1h-3M72 6h3v1h-3M22 7h3v1h-3M62 7h3v1h-3M12 10h3v2h-3M10 12h2v1h-2M50 12h2v1h-2M0 13h5v1h-5M32 20h3v1h-3M0 21h5v1h-5M20 21h2v1h-2M62 21h3v1h-3M70 22h2v2h-2M17 26h3v1h-3M5 28h2v2h-2M12 28h3v2h-3M60 30h2v1h-2M37 31h3v1h-3M45 31h2v1h-2M50 31h2v1h-2M72 33h3v1h-3M25 37h2v1h-2M52 37h3v1h-3M42 38h5v1h-5M17 40h3v2h-3M27 42h3v1h-3M72 42h3v1h-3M42 43h3v1h-3M22 48h3v1h-3M65 48h2v1h-2M5 49h2v1h-2M52 49h3v1h-3M22 50h3v1h-3M57 56h3v1h-3M20 58h2v2h-2M57 58h3v2h-3M10 60h2v1h-2M20 60h2v1h-2M45 60h2v1h-2M2 61h3v1h-3M37 61h3v1h-3M42 61h3v1h-3M60 63h2v1h-2M57 66h3v1h-3M67 67h3v1h-3M35 68h2v1h-2M47 68h3v1h-3M50 69h2v1h-2M2 70h3v2h-3M17 72h3v1h-3M35 76h2v2h-2"/><path fill="rgb(0,60,0)" d="M57 2h3v1h-3M65 2h2v1h-2M32 3h3v1h-3M5 4h2v2h-2M37 14h3v1h-3M20 15h2v1h-2M25 15h2v1h-2M42 15h3v1h-3M50 15h2v1h-2M15 20h2v1h-2M7 25h3v1h-3M37 28h3v2h-3M57 34h3v2h-3M45 37h2v1h-2M22 40h3v2h-3M32 45h3v1h-3M25 46h2v2h-2M40 46h2v2h-2M55 52h2v2h-2M45 54h2v1h-2M65 63h2v1h-2M55 66h2v1h-2M60 67h2v1h-2M57 68h3v1h-3M22 69h3v1h-3M70 72h2v1h-2M7 73h3v1h-3M25 74h2v1h-2M52 74h3v1h-3M37 76h3v2h-3"/><path fill="rgb(0,68,0)" d="M42 9h3v1h-3M22 10h3v2h-3M42 26h3v1h-3M65 26h2v1h-2M67 32h3v1h-3M22 33h3v1h-3M5 38h2v1h-2M22 51h3v1h-3M72 52h3v2h-3M70 70h2v2h-2"/><path fill="rgb(0,76,0)" d="M67 13h3v1h-3"/></g></pattern>
<pattern id="nD2" width="65" height="66" patternUnits="userSpaceOnUse" patternTransform="translate(410,59)"><g shape-rendering="crispEdges"><path fill="rgb(0,0,94)" d="M57 33h3v1h-3M42 62h3v1h-3"/><path fill="rgb(0,0,76)" d="M57 8h3v1h-3M22 37h3v1h-3"/><path fill="rgb(0,0,68)" d="M45 15h2v1h-2M20 20h2v1h-2M60 38h2v1h-2M32 49h3v1h-3"/><path fill="rgb(0,0,60)" d="M40 2h2v1h-2M45 8h2v1h-2M37 10h3v2h-3M10 25h2v1h-2M2 38h3v1h-3M40 38h2v1h-2M32 43h3v1h-3M50 50h2v1h-2M57 56h3v1h-3M32 62h3v1h-3"/><path fill="rgb(0,0,51)" d="M42 4h3v2h-3M27 7h3v1h-3M30 10h2v2h-2M40 20h2v1h-2M25 27h2v1h-2M62 52h3v2h-3M7 54h3v1h-3M60 55h2v1h-2M25 57h2v1h-2M62 57h3v1h-3M25 61h2v1h-2"/><path fill="rgb(0,0,42)" d="M35 2h2v1h-2M12 4h3v2h-3M20 4h2v2h-2M55 6h2v1h-2M0 18h2v1h-2M30 20h2v1h-2M32 22h3v2h-3M5 24h2v1h-2M15 24h2v1h-2M5 25h2v1h-2M35 25h2v1h-2M27 26h3v1h-3M22 30h3v1h-3M62 32h3v1h-3M37 39h5v1h-5M37 44h3v1h-3M45 48h2v1h-2M27 50h3v1h-3M50 51h2v1h-2M15 54h2v1h-2M32 61h3v1h-3M47 61h3v1h-3M40 64h2v2h-2"/><path fill="rgb(0,0,34)" d="M7 1h3v1h-3M60 1h2v1h-2M0 2h2v1h-2M12 2h3v1h-3M32 2h3v1h-3M12 6h3v1h-3M17 6h3v1h-3M10 9h2v1h-2M17 9h3v1h-3M25 12h2v1h-2M32 12h3v1h-3M17 14h3v1h-3M55 15h2v1h-2M32 20h3v1h-3M52 26h3v1h-3M0 27h2v1h-2M57 31h3v1h-3M32 33h3v1h-3M60 34h2v2h-2M22 40h3v2h-3M45 40h2v2h-2M27 42h3v1h-3M52 44h3v1h-3M47 48h3v1h-3M7 49h3v1h-3M60 49h2v1h-2M27 51h3v1h-3M35 54h2v1h-2M57 57h5v1h-5M30 58h2v2h-2M50 58h2v2h-2M5 60h2v1h-2M52 60h3v1h-3M2 61h3v1h-3"/><path fill="rgb(0,0,26)" d="M27 0h3v1h-3M57 0h3v1h-3M62 0h3v1h-3M0 1h2v1h-2M22 1h3v1h-3M35 1h2v1h-2M62 1h3v1h-3M42 2h3v1h-3M20 3h2v1h-2M47 3h3v1h-3M5 4h2v2h-2M52 4h3v2h-3M15 6h2v1h-2M7 7h3v1h-3M50 7h2v1h-2M55 7h2v1h-2M7 8h3v1h-3M42 8h3v1h-3M35 10h2v2h-2M45 12h2v1h-2M50 12h2v1h-2M50 13h2v1h-2M35 14h2v1h-2M37 15h3v1h-3M57 15h3v1h-3M22 16h3v2h-3M32 19h3v1h-3M27 20h3v1h-3M37 20h3v1h-3M20 21h2v1h-2M30 22h2v2h-2M37 24h3v1h-3M2 25h3v1h-3M20 26h2v1h-2M5 27h2v1h-2M2 28h3v2h-3M2 30h3v1h-3M50 31h2v1h-2M55 31h2v1h-2M27 32h3v1h-3M15 33h2v1h-2M45 33h5v1h-5M32 34h3v2h-3M52 34h3v2h-3M20 36h2v1h-2M45 36h2v1h-2M0 37h2v1h-2M2 39h3v1h-3M12 39h3v1h-3M0 40h2v2h-2M7 40h3v2h-3M42 40h3v2h-3M2 42h3v1h-3M5 43h2v1h-2M17 43h3v1h-3M0 44h5v1h-5M20 46h2v2h-2M12 50h3v1h-3M17 50h3v1h-3M22 50h3v1h-3M10 51h2v1h-2M22 51h3v1h-3M35 51h2v1h-2M40 51h2v1h-2M57 51h3v1h-3M2 52h3v2h-3M30 52h2v2h-2M45 52h2v2h-2M57 52h3v2h-3M37 54h3v1h-3M42 54h3v1h-3M10 56h2v1h-2M32 56h3v1h-3M45 56h2v1h-2M50 56h2v1h-2M0 57h5v1h-5M22 57h3v1h-3M30 57h2v1h-2M10 60h2v1h-2M45 60h2v1h-2M5 61h2v1h-2M45 61h2v1h-2M12 62h3v1h-3"/><path fill="rgb(0,0,17)" d="M27 1h3v1h-3M45 1h2v1h-2M20 2h2v1h-2M60 2h2v1h-2M32 3h3v1h-3M40 3h2v1h-2M45 3h2v1h-2M52 3h3v1h-3M30 4h2v2h-2M55 4h2v2h-2M5 6h2v1h-2M20 6h2v1h-2M40 6h2v1h-2M45 6h2v1h-2M50 6h2v1h-2M17 8h3v1h-3M52 8h3v1h-3M35 9h2v1h-2M50 9h7v1h-7M0 12h2v1h-2M35 12h2v1h-2M20 13h2v1h-2M32 13h3v1h-3M42 13h3v1h-3M60 13h2v1h-2M15 14h2v1h-2M27 14h3v1h-3M40 14h2v1h-2M55 14h2v1h-2M22 15h3v1h-3M27 15h3v1h-3M2 16h3v2h-3M17 18h3v1h-3M42 18h3v1h-3M2 19h3v1h-3M7 19h3v1h-3M2 20h3v1h-3M7 20h3v1h-3M47 20h3v1h-3M57 20h3v1h-3M7 21h3v1h-3M30 21h2v1h-2M10 22h2v2h-2M50 24h2v1h-2M57 24h3v1h-3M22 25h3v1h-3M25 26h2v1h-2M15 27h2v1h-2M60 27h5v1h-5M7 30h3v1h-3M60 30h2v1h-2M42 31h3v1h-3M12 32h3v1h-3M45 32h2v1h-2M52 32h5v1h-5M12 33h3v1h-3M17 33h3v1h-3M35 33h2v1h-2M40 33h2v1h-2M52 33h3v1h-3M15 34h2v2h-2M20 34h5v2h-5M30 34h2v2h-2M40 34h2v2h-2M47 36h3v1h-3M7 37h3v1h-3M20 37h2v1h-2M30 37h2v1h-2M35 37h2v1h-2M55 37h2v1h-2M15 38h2v1h-2M32 40h3v2h-3M15 42h2v1h-2M45 42h2v1h-2M62 43h3v1h-3M5 44h2v1h-2M20 44h2v1h-2M0 45h2v1h-2M52 45h3v1h-3M15 48h2v1h-2M20 48h2v1h-2M20 49h5v1h-5M35 49h2v1h-2M45 49h2v1h-2M7 50h3v1h-3M35 50h2v1h-2M47 50h3v1h-3M60 50h2v1h-2M10 52h2v2h-2M37 52h3v2h-3M40 54h2v1h-2M7 55h3v1h-3M30 55h2v1h-2M17 56h3v1h-3M27 56h5v1h-5M12 57h3v1h-3M30 60h2v1h-2M5 62h2v1h-2M20 62h2v1h-2M10 63h2v1h-2M30 63h2v1h-2M50 63h2v1h-2M60 63h2v1h-2M2 64h3v2h-3M35 64h2v2h-2M55 64h5v2h-5"/><path fill="rgb(0,0,8)" d="M2 0h3v1h-3M40 0h2v1h-2M47 0h3v1h-3M55 0h2v1h-2M37 1h3v1h-3M7 2h3v1h-3M15 2h2v1h-2M50 2h2v1h-2M62 2h3v1h-3M55 3h2v1h-2M37 4h3v2h-3M50 4h2v2h-2M62 4h3v2h-3M22 6h3v1h-3M10 7h2v1h-2M25 7h2v1h-2M62 7h3v1h-3M15 8h2v1h-2M35 8h2v1h-2M32 9h3v1h-3M40 9h2v1h-2M32 10h3v2h-3M52 10h3v2h-3M57 10h3v2h-3M7 12h3v1h-3M30 12h2v1h-2M0 13h2v1h-2M37 13h3v1h-3M47 13h3v1h-3M62 13h3v1h-3M32 14h3v1h-3M37 14h3v1h-3M57 14h3v1h-3M35 15h2v1h-2M60 15h2v1h-2M0 16h2v2h-2M5 16h2v2h-2M57 16h3v2h-3M2 18h3v1h-3M37 18h3v1h-3M47 18h3v1h-3M55 18h2v1h-2M60 18h2v1h-2M17 19h3v1h-3M50 19h2v1h-2M55 19h2v1h-2M5 20h2v1h-2M12 20h3v1h-3M17 20h3v1h-3M2 21h5v1h-5M32 21h3v1h-3M37 21h3v1h-3M42 21h3v1h-3M47 21h8v1h-8M25 22h2v2h-2M45 22h7v2h-7M2 24h3v1h-3M20 24h2v1h-2M15 25h2v1h-2M25 25h2v1h-2M30 25h2v1h-2M37 25h3v1h-3M42 25h3v1h-3M5 26h2v1h-2M10 26h2v1h-2M15 26h5v1h-5M32 26h3v1h-3M50 26h2v1h-2M60 26h2v1h-2M17 27h3v1h-3M27 27h5v1h-5M42 27h3v1h-3M17 28h3v2h-3M25 28h2v2h-2M40 28h2v2h-2M62 28h3v2h-3M15 30h2v1h-2M20 30h2v1h-2M25 30h2v1h-2M42 30h3v1h-3M52 30h3v1h-3M5 31h2v1h-2M52 31h3v1h-3M2 32h3v1h-3M10 32h2v1h-2M20 32h2v1h-2M42 33h3v1h-3M60 33h2v1h-2M17 34h3v2h-3M27 34h3v2h-3M22 36h3v1h-3M50 36h2v1h-2M57 36h5v1h-5M40 37h2v1h-2M50 37h2v1h-2M60 37h5v1h-5M5 38h2v1h-2M25 38h7v1h-7M35 38h2v1h-2M47 38h3v1h-3M20 40h2v2h-2M55 40h5v2h-5M0 42h2v1h-2M7 42h3v1h-3M35 42h2v1h-2M52 42h3v1h-3M57 42h3v1h-3M0 43h5v1h-5M7 43h3v1h-3M15 43h2v1h-2M22 43h3v1h-3M35 43h2v1h-2M47 43h3v1h-3M52 43h3v1h-3M32 44h3v1h-3M62 44h3v1h-3M12 45h3v1h-3M17 45h5v1h-5M55 45h2v1h-2M22 46h15v2h-15M52 46h5v2h-5M62 46h3v2h-3M10 48h2v1h-2M30 48h2v1h-2M35 48h2v1h-2M52 48h3v1h-3M5 49h2v1h-2M40 49h2v1h-2M0 50h2v1h-2M10 50h2v1h-2M30 50h2v1h-2M57 50h3v1h-3M47 51h3v1h-3M62 51h3v1h-3M0 52h2v2h-2M25 52h2v2h-2M40 52h2v2h-2M50 52h2v2h-2M0 54h2v1h-2M62 54h3v1h-3M40 55h2v1h-2M50 55h2v1h-2M12 56h3v1h-3M47 56h3v1h-3M55 56h2v1h-2M60 56h2v1h-2M37 57h3v1h-3M42 57h3v1h-3M52 57h3v1h-3M12 58h3v2h-3M17 58h3v2h-3M60 58h2v2h-2M12 60h3v1h-3M10 61h2v1h-2M35 61h2v1h-2M42 61h3v1h-3M62 61h3v1h-3M0 62h5v1h-5M47 62h3v1h-3M7 63h3v1h-3M17 63h3v1h-3M22 63h3v1h-3M57 63h3v1h-3M15 64h5v2h-5M30 64h5v2h-5M52 64h3v2h-3"/><path fill="rgb(0,8,0)" d="M12 0h3v1h-3M30 0h2v1h-2M42 0h3v1h-3M60 0h2v1h-2M42 1h3v1h-3M50 1h2v1h-2M5 2h2v1h-2M0 3h7v1h-7M10 3h2v1h-2M15 3h5v1h-5M30 3h2v1h-2M35 3h2v1h-2M50 3h2v1h-2M57 3h3v1h-3M35 4h2v2h-2M57 4h3v2h-3M32 6h3v1h-3M52 6h3v1h-3M62 6h3v1h-3M2 7h3v1h-3M22 7h3v1h-3M47 7h3v1h-3M5 8h2v1h-2M20 8h2v1h-2M25 8h2v1h-2M30 8h2v1h-2M37 8h3v1h-3M47 8h3v1h-3M0 9h2v1h-2M12 9h3v1h-3M62 9h3v1h-3M10 10h5v2h-5M22 10h3v2h-3M27 10h3v2h-3M47 10h5v2h-5M55 10h2v2h-2M60 10h2v2h-2M2 12h3v1h-3M17 12h5v1h-5M27 12h3v1h-3M55 12h2v1h-2M60 12h2v1h-2M12 13h3v1h-3M17 13h3v1h-3M22 13h5v1h-5M35 13h2v1h-2M40 13h2v1h-2M57 13h3v1h-3M20 14h5v1h-5M45 14h2v1h-2M50 14h2v1h-2M62 14h3v1h-3M12 15h3v1h-3M17 15h3v1h-3M32 15h3v1h-3M50 15h5v1h-5M62 15h3v1h-3M7 16h5v2h-5M27 16h3v2h-3M32 16h3v2h-3M37 16h3v2h-3M55 16h2v2h-2M60 16h5v2h-5M5 18h2v1h-2M32 18h3v1h-3M45 18h2v1h-2M57 18h3v1h-3M0 19h2v1h-2M12 19h5v1h-5M22 19h3v1h-3M40 19h5v1h-5M57 19h5v1h-5M25 20h2v1h-2M55 20h2v1h-2M10 21h2v1h-2M55 21h2v1h-2M17 22h3v2h-3M22 22h3v2h-3M12 24h3v1h-3M22 24h3v1h-3M35 24h2v1h-2M45 24h2v1h-2M60 24h2v1h-2M12 25h3v1h-3M32 25h3v1h-3M47 25h3v1h-3M57 25h5v1h-5M22 26h3v1h-3M30 26h2v1h-2M37 26h3v1h-3M42 26h3v1h-3M47 26h3v1h-3M2 27h3v1h-3M7 27h8v1h-8M55 27h5v1h-5M0 28h2v2h-2M37 28h3v2h-3M47 28h3v2h-3M57 28h3v2h-3M10 30h2v1h-2M40 30h2v1h-2M0 31h5v1h-5M7 31h3v1h-3M15 31h12v1h-12M37 31h3v1h-3M45 31h5v1h-5M60 31h2v1h-2M15 32h2v1h-2M25 32h2v1h-2M42 32h3v1h-3M57 32h3v1h-3M0 33h5v1h-5M30 33h2v1h-2M62 33h3v1h-3M0 34h5v2h-5M12 34h3v2h-3M45 34h5v2h-5M57 34h3v2h-3M62 34h3v2h-3M10 36h2v1h-2M17 36h3v1h-3M55 36h2v1h-2M15 37h2v1h-2M27 37h3v1h-3M32 37h3v1h-3M37 37h3v1h-3M47 37h3v1h-3M57 37h3v1h-3M17 38h5v1h-5M37 38h3v1h-3M42 38h5v1h-5M55 38h2v1h-2M62 38h3v1h-3M15 39h2v1h-2M22 39h8v1h-8M35 39h2v1h-2M42 39h3v1h-3M52 39h5v1h-5M62 39h3v1h-3M60 40h2v2h-2M5 42h2v1h-2M17 42h3v1h-3M30 42h5v1h-5M40 42h2v1h-2M50 42h2v1h-2M20 43h2v1h-2M30 43h2v1h-2M50 43h2v1h-2M12 44h3v1h-3M25 44h7v1h-7M35 44h2v1h-2M42 44h5v1h-5M50 44h2v1h-2M2 45h3v1h-3M25 45h2v1h-2M30 45h5v1h-5M37 45h3v1h-3M50 45h2v1h-2M60 45h2v1h-2M0 46h2v2h-2M45 46h2v2h-2M57 46h5v2h-5M22 48h3v1h-3M32 48h3v1h-3M55 48h2v1h-2M2 49h3v1h-3M15 49h2v1h-2M27 49h3v1h-3M47 49h3v1h-3M57 49h3v1h-3M2 50h3v1h-3M45 50h2v1h-2M52 50h3v1h-3M0 51h2v1h-2M15 51h5v1h-5M25 51h2v1h-2M32 51h3v1h-3M45 51h2v1h-2M12 52h3v2h-3M17 52h3v2h-3M42 52h3v2h-3M47 52h3v2h-3M52 52h3v2h-3M2 54h3v1h-3M22 54h3v1h-3M30 54h2v1h-2M47 54h3v1h-3M57 54h3v1h-3M5 55h2v1h-2M17 55h8v1h-8M35 55h2v1h-2M45 55h2v1h-2M57 55h3v1h-3M0 56h2v1h-2M7 56h3v1h-3M15 56h2v1h-2M35 56h2v1h-2M62 56h3v1h-3M7 57h3v1h-3M15 57h2v1h-2M27 57h3v1h-3M50 57h2v1h-2M2 58h3v2h-3M15 58h2v2h-2M22 58h3v2h-3M37 58h8v2h-8M52 58h3v2h-3M57 58h3v2h-3M0 60h5v1h-5M7 60h3v1h-3M22 60h3v1h-3M27 60h3v1h-3M40 60h2v1h-2M50 60h2v1h-2M55 60h2v1h-2M60 60h2v1h-2M15 61h5v1h-5M27 61h3v1h-3M40 61h2v1h-2M50 61h7v1h-7M7 62h5v1h-5M27 62h3v1h-3M37 62h3v1h-3M0 63h2v1h-2M5 63h2v1h-2M12 63h3v1h-3M20 63h2v1h-2M32 63h5v1h-5M40 63h5v1h-5M55 63h2v1h-2M5 64h5v2h-5M20 64h2v2h-2M25 64h5v2h-5M47 64h5v2h-5M62 64h3v2h-3"/><path fill="rgb(0,17,0)" d="M0 0h2v1h-2M7 0h5v1h-5M15 0h2v1h-2M20 0h2v1h-2M35 0h2v1h-2M52 0h3v1h-3M2 1h3v1h-3M17 1h5v1h-5M32 1h3v1h-3M47 1h3v1h-3M52 1h5v1h-5M10 2h2v1h-2M22 2h3v1h-3M30 2h2v1h-2M47 2h3v1h-3M57 2h3v1h-3M12 3h3v1h-3M25 3h2v1h-2M7 4h3v2h-3M22 4h3v2h-3M32 4h3v2h-3M60 4h2v2h-2M10 6h2v1h-2M30 6h2v1h-2M37 6h3v1h-3M57 6h3v1h-3M5 7h2v1h-2M17 7h5v1h-5M42 7h3v1h-3M52 7h3v1h-3M60 7h2v1h-2M2 8h3v1h-3M12 8h3v1h-3M32 8h3v1h-3M5 9h2v1h-2M42 9h3v1h-3M47 9h3v1h-3M57 9h3v1h-3M7 10h3v2h-3M45 10h2v2h-2M37 12h8v1h-8M47 12h3v1h-3M2 13h3v1h-3M10 13h2v1h-2M52 13h3v1h-3M5 14h2v1h-2M25 14h2v1h-2M42 14h3v1h-3M5 15h2v1h-2M30 15h2v1h-2M42 15h3v1h-3M20 16h2v2h-2M25 16h2v2h-2M40 16h5v2h-5M50 16h5v2h-5M10 18h2v1h-2M15 18h2v1h-2M20 18h5v1h-5M27 18h3v1h-3M40 18h2v1h-2M5 19h2v1h-2M10 19h2v1h-2M20 19h2v1h-2M27 19h3v1h-3M37 19h3v1h-3M62 19h3v1h-3M0 20h2v1h-2M42 20h3v1h-3M50 20h5v1h-5M60 20h2v1h-2M12 21h3v1h-3M17 21h3v1h-3M25 21h2v1h-2M0 22h2v2h-2M7 22h3v2h-3M20 22h2v2h-2M35 22h5v2h-5M42 22h3v2h-3M55 22h5v2h-5M0 24h2v1h-2M17 24h3v1h-3M25 24h10v1h-10M42 24h3v1h-3M62 24h3v1h-3M45 25h2v1h-2M0 26h2v1h-2M7 26h3v1h-3M12 26h3v1h-3M20 27h5v1h-5M52 27h3v1h-3M5 28h2v2h-2M27 28h3v2h-3M32 28h3v2h-3M42 28h3v2h-3M50 28h2v2h-2M55 28h2v2h-2M12 30h3v1h-3M37 30h3v1h-3M45 30h2v1h-2M50 30h2v1h-2M55 30h5v1h-5M10 31h2v1h-2M40 31h2v1h-2M0 32h2v1h-2M7 32h3v1h-3M30 32h5v1h-5M37 32h3v1h-3M47 32h5v1h-5M5 33h2v1h-2M10 33h2v1h-2M20 33h2v1h-2M27 33h3v1h-3M5 34h7v2h-7M37 34h3v2h-3M2 36h3v1h-3M12 36h3v1h-3M27 36h3v1h-3M35 36h7v1h-7M62 36h3v1h-3M2 37h3v1h-3M10 37h2v1h-2M17 37h3v1h-3M45 37h2v1h-2M7 38h5v1h-5M50 38h2v1h-2M7 39h3v1h-3M20 39h2v1h-2M45 39h2v1h-2M60 39h2v1h-2M5 40h2v2h-2M15 40h2v2h-2M25 40h5v2h-5M47 40h3v2h-3M52 40h3v2h-3M62 40h3v2h-3M22 42h5v1h-5M37 42h3v1h-3M42 42h3v1h-3M47 42h3v1h-3M60 42h2v1h-2M10 43h2v1h-2M40 43h7v1h-7M57 43h3v1h-3M15 44h2v1h-2M22 44h3v1h-3M5 45h2v1h-2M27 45h3v1h-3M42 45h3v1h-3M57 45h3v1h-3M2 46h3v2h-3M15 46h5v2h-5M0 48h2v1h-2M5 48h5v1h-5M17 48h3v1h-3M50 48h2v1h-2M60 48h5v1h-5M42 49h3v1h-3M52 49h5v1h-5M62 49h3v1h-3M20 50h2v1h-2M37 50h3v1h-3M55 50h2v1h-2M7 51h3v1h-3M12 51h3v1h-3M30 51h2v1h-2M55 51h2v1h-2M60 51h2v1h-2M7 52h3v2h-3M15 52h2v2h-2M20 52h2v2h-2M27 52h3v2h-3M32 52h5v2h-5M55 52h2v2h-2M5 54h2v1h-2M10 54h2v1h-2M20 54h2v1h-2M25 54h5v1h-5M32 54h3v1h-3M45 54h2v1h-2M55 54h2v1h-2M15 55h2v1h-2M25 55h2v1h-2M42 55h3v1h-3M52 55h5v1h-5M62 55h3v1h-3M2 56h3v1h-3M22 56h5v1h-5M37 56h8v1h-8M52 56h3v1h-3M5 57h2v1h-2M40 57h2v1h-2M47 57h3v1h-3M0 58h2v2h-2M5 58h2v2h-2M25 58h5v2h-5M32 58h3v2h-3M62 58h3v2h-3M17 60h5v1h-5M25 60h2v1h-2M32 60h3v1h-3M37 60h3v1h-3M47 60h3v1h-3M22 61h3v1h-3M30 61h2v1h-2M37 61h3v1h-3M57 61h5v1h-5M15 62h5v1h-5M40 62h2v1h-2M45 62h2v1h-2M52 62h8v1h-8M15 63h2v1h-2M25 63h5v1h-5M45 63h2v1h-2M62 63h3v1h-3M0 64h2v2h-2"/><path fill="rgb(0,26,0)" d="M25 0h2v1h-2M45 0h2v1h-2M12 1h3v1h-3M25 1h2v1h-2M30 1h2v1h-2M2 2h3v1h-3M17 2h3v1h-3M27 2h3v1h-3M37 2h3v1h-3M7 3h3v1h-3M17 4h3v2h-3M25 4h2v2h-2M47 4h3v2h-3M0 6h2v1h-2M7 6h3v1h-3M12 7h5v1h-5M35 7h2v1h-2M2 9h3v1h-3M22 9h3v1h-3M37 9h3v1h-3M60 9h2v1h-2M20 10h2v2h-2M25 10h2v2h-2M40 10h2v2h-2M10 12h2v1h-2M57 12h3v1h-3M0 14h5v1h-5M12 14h3v1h-3M47 14h3v1h-3M60 14h2v1h-2M10 15h2v1h-2M12 16h5v2h-5M30 18h2v1h-2M45 19h2v1h-2M45 20h2v1h-2M62 20h3v1h-3M35 21h2v1h-2M40 21h2v1h-2M2 22h3v2h-3M27 22h3v2h-3M40 22h2v2h-2M52 22h3v2h-3M10 24h2v1h-2M52 24h3v1h-3M0 25h2v1h-2M27 25h3v1h-3M52 25h5v1h-5M62 26h3v1h-3M32 27h8v1h-8M45 27h2v1h-2M7 28h8v2h-8M20 28h2v2h-2M52 28h3v2h-3M17 30h3v1h-3M47 30h3v1h-3M27 31h3v1h-3M35 31h2v1h-2M62 31h3v1h-3M5 32h2v1h-2M60 32h2v1h-2M7 33h3v1h-3M22 33h3v1h-3M37 33h3v1h-3M25 37h2v1h-2M0 38h2v1h-2M12 38h3v1h-3M30 39h2v1h-2M57 39h3v1h-3M10 40h2v2h-2M30 40h2v2h-2M37 40h3v2h-3M10 42h2v1h-2M20 42h2v1h-2M62 42h3v1h-3M25 43h2v1h-2M40 44h2v1h-2M47 44h3v1h-3M55 44h2v1h-2M7 45h5v1h-5M35 45h2v1h-2M62 45h3v1h-3M10 46h2v2h-2M37 46h3v2h-3M40 48h5v1h-5M10 49h2v1h-2M50 49h2v1h-2M42 50h3v1h-3M62 50h3v1h-3M5 51h2v1h-2M22 52h3v2h-3M60 52h2v2h-2M12 54h3v1h-3M17 54h3v1h-3M10 55h2v1h-2M5 56h2v1h-2M35 57h2v1h-2M7 58h3v2h-3M35 58h2v2h-2M45 58h2v2h-2M62 60h3v1h-3M50 62h2v1h-2M62 62h3v1h-3M2 63h3v1h-3"/><path fill="rgb(0,34,0)" d="M45 7h2v1h-2M30 13h2v1h-2M40 15h2v1h-2M45 26h2v1h-2M32 38h3v1h-3M17 40h3v2h-3M55 42h2v1h-2M50 46h2v2h-2M37 55h3v1h-3"/></g></pattern>
<linearGradient id="cb" x1="0" y1="1" x2="0" y2="0"><stop offset="0.0000" stop-color="#440154"/><stop offset="0.0312" stop-color="#470d60"/><stop offset="0.0625" stop-color="#48186a"/><stop offset="0.0938" stop-color="#482374"/><stop offset="0.1250" stop-color="#472d7b"/><stop offset="0.1562" stop-color="#453781"/><stop offset="0.1875" stop-color="#424086"/><stop offset="0.2188" stop-color="#3e4989"/><stop offset="0.2500" stop-color="#3b528b"/><stop offset="0.2812" stop-color="#375b8d"/><stop offset="0.3125" stop-color="#33638d"/><stop offset="0.3438" stop-color="#2f6b8e"/><stop offset="0.3750" stop-color="#2c728e"/><stop offset="0.4062" stop-color="#297a8e"/><stop offset="0.4375" stop-color="#26828e"/><stop offset="0.4688" stop-color="#23898e"/><stop offset="0.5000" stop-color="#21918c"/><stop offset="0.5312" stop-color="#1f988b"/><stop offset="0.5625" stop-color="#1fa088"/><stop offset="0.5938" stop-color="#22a785"/><stop offset="0.6250" stop-color="#28ae80"/><stop offset="0.6562" stop-color="#32b67a"/><stop offset="0.6875" stop-color="#3fbc73"/><stop offset="0.7188" stop-color="#4ec36b"/><stop offset="0.7500" stop-color="#5ec962"/><stop offset="0.7812" stop-color="#70cf57"/><stop offset="0.8125" stop-color="#84d44b"/><stop offset="0.8438" stop-color="#98d83e"/><stop offset="0.8750" stop-color="#addc30"/><stop offset="0.9062" stop-color="#c2df23"/><stop offset="0.9375" stop-color="#d8e219"/><stop offset="0.9688" stop-color="#ece51b"/><stop offset="1.0000" stop-color="#fde725"/></linearGradient>
</defs>
<rect width="640" height="480" fill="#fff"/>
<g filter="url(#vir)" shape-rendering="crispEdges">
<rect x="80" y="58" width="398" height="370" fill="#800000"/>
<path fill="#490000" d="M391 59h1v368h-1"/><path fill="#4c0000" d="M86 59h1v209h-1M389 59h1v368h-1"/><path fill="#500000" d="M86 268h1v32h-1M88 59h1v42h-1M93 59h1v14h-1M94 59h1v204h-1M388 59h1v368h-1M393 59h1v368h-1M395 59h1v368h-1M405 59h1v368h-1"/><path fill="#530000" d="M81 59h1v204h-1M86 300h1v32h-1M87 59h1v204h-1M88 101h1v186h-1M90 59h1v5h-1M91 59h1v209h-1M92 59h1v206h-1M93 73h1v207h-1M94 263h1v32h-1M95 59h1v210h-1M97 59h1v204h-1M330 59h2v368h-2M338 59h1v368h-1M360 59h2v368h-2M363 59h1v368h-1M367 59h2v368h-2M371 59h1v368h-1M373 59h1v368h-1M375 59h1v368h-1M383 59h2v368h-2M386 59h2v368h-2M390 59h1v368h-1M392 59h1v368h-1M407 59h1v368h-1M423 59h1v368h-1M425 59h1v368h-1"/><path fill="#560000" d="M81 263h1v32h-1M86 332h1v95h-1M87 263h1v32h-1M88 287h1v32h-1M90 64h1v213h-1M91 268h1v32h-1M92 265h1v32h-1M93 280h1v32h-1M94 295h1v32h-1M95 269h1v32h-1M96 59h1v209h-1M97 263h1v32h-1M98 59h1v20h-1M329 59h1v368h-1M339 59h1v368h-1M341 59h4v368h-4M346 59h2v368h-2M358 59h1v368h-1M362 59h1v368h-1M369 59h2v368h-2M372 59h1v368h-1M378 59h1v368h-1M382 59h1v368h-1M385 59h1v368h-1M394 59h1v368h-1M403 59h2v368h-2M406 59h1v368h-1M412 59h2v368h-2M416 59h1v368h-1M418 59h1v368h-1M420 59h1v368h-1M422 59h1v368h-1M424 59h1v368h-1"/><path fill="#590000" d="M81 295h1v32h-1M83 59h1v23h-1M84 59h1v7h-1M87 295h1v32h-1M88 319h1v108h-1M90 277h1v32h-1M91 300h1v32h-1M92 297h1v32h-1M93 312h1v115h-1M94 327h1v100h-1M95 301h1v32h-1M96 268h1v32h-1M97 295h1v32h-1M98 79h1v202h-1M99 345h1v82h-1M100 351h1v76h-1M101 374h1v53h-1M102 373h1v54h-1M103 375h1v52h-1M104 376h1v51h-1M105 376h1v51h-1M116 298h1v124h-1M290 252h1v175h-1M332 59h1v368h-1M334 59h4v368h-4M340 59h1v368h-1M348 59h1v368h-1M355 59h3v368h-3M359 59h1v368h-1M365 59h1v368h-1M374 59h1v368h-1M376 59h1v368h-1M379 59h1v368h-1M414 59h2v368h-2M417 59h1v368h-1M426 59h1v368h-1"/><path fill="#5c0000" d="M81 327h1v100h-1M83 82h1v200h-1M84 66h1v212h-1M87 327h1v100h-1M90 309h1v118h-1M91 332h1v95h-1M92 329h1v98h-1M95 333h1v94h-1M96 300h1v32h-1M97 327h1v100h-1M98 281h1v32h-1M99 59h1v286h-1M100 59h1v292h-1M101 368h1v6h-1M102 366h1v7h-1M103 370h1v5h-1M104 371h1v5h-1M105 372h1v4h-1M116 422h1v5h-1M119 325h1v77h-1M137 359h1v27h-1M283 266h1v161h-1M290 59h1v193h-1M291 258h1v169h-1M293 250h1v177h-1M294 257h1v170h-1M295 249h1v178h-1M296 260h1v167h-1M298 259h1v168h-1M299 265h1v162h-1M333 59h1v368h-1M345 59h1v368h-1M364 59h1v368h-1M366 59h1v368h-1M408 59h3v368h-3M419 59h1v368h-1M421 59h1v368h-1M427 59h1v368h-1"/><path fill="#600000" d="M82 59h1v217h-1M83 282h1v32h-1M84 278h1v32h-1M89 59h1v39h-1M96 332h1v95h-1M98 313h1v114h-1M101 362h1v6h-1M102 359h1v7h-1M103 365h1v5h-1M104 366h1v5h-1M105 367h1v5h-1M116 59h1v100h-1M116 297h1v1h-1M118 313h1v97h-1M119 298h1v27h-1M119 402h1v25h-1M131 316h1v92h-1M137 298h1v61h-1M137 386h1v41h-1M140 364h1v21h-1M144 313h1v96h-1M148 303h1v114h-1M159 349h1v41h-1M281 265h1v162h-1M283 251h1v15h-1M286 252h1v175h-1M287 256h1v171h-1M288 254h1v173h-1M289 254h1v173h-1M291 59h1v199h-1M292 251h1v176h-1M293 59h1v191h-1M294 59h1v198h-1M295 59h1v190h-1M296 240h1v20h-1M298 239h1v20h-1M299 245h1v20h-1M300 268h1v159h-1M301 264h1v163h-1M411 59h1v368h-1"/><path fill="#630000" d="M82 276h1v32h-1M83 314h1v113h-1M84 310h1v117h-1M89 98h1v188h-1M101 356h1v6h-1M102 351h1v8h-1M103 360h1v5h-1M104 361h1v5h-1M105 363h1v4h-1M114 335h1v61h-1M116 159h1v42h-1M116 270h1v25h-1M118 298h1v15h-1M118 410h1v17h-1M119 59h1v77h-1M120 364h1v21h-1M122 298h1v129h-1M124 328h1v73h-1M125 320h1v85h-1M130 306h1v109h-1M131 298h1v18h-1M131 408h1v19h-1M134 305h1v110h-1M135 369h1v14h-1M137 59h1v43h-1M140 298h1v66h-1M140 385h1v42h-1M144 298h1v15h-1M144 409h1v18h-1M145 345h1v47h-1M148 298h1v5h-1M148 417h1v10h-1M153 314h1v95h-1M155 329h1v71h-1M159 298h1v51h-1M159 390h1v37h-1M277 266h1v161h-1M281 251h1v14h-1M283 59h1v54h-1M283 242h1v9h-1M286 59h1v51h-1M286 243h1v9h-1M287 59h1v44h-1M287 247h1v9h-1M288 59h1v49h-1M288 244h1v10h-1M289 59h1v48h-1M289 244h1v10h-1M292 59h1v192h-1M296 59h1v181h-1M297 249h1v178h-1M298 59h1v180h-1M299 59h1v186h-1M300 248h1v20h-1M301 244h1v20h-1"/><path fill="#660000" d="M82 308h1v32h-1M89 286h1v32h-1M101 350h1v6h-1M102 344h1v7h-1M103 355h1v5h-1M104 356h1v5h-1M105 358h1v5h-1M113 302h1v115h-1M114 298h1v37h-1M114 396h1v31h-1M115 309h1v103h-1M116 201h1v33h-1M117 348h1v42h-1M118 59h1v89h-1M119 136h1v48h-1M119 270h1v1h-1M119 274h1v21h-1M119 297h1v1h-1M120 298h1v66h-1M120 385h1v42h-1M121 312h1v98h-1M124 298h1v30h-1M124 401h1v26h-1M125 298h1v22h-1M125 405h1v22h-1M127 316h1v91h-1M129 364h1v21h-1M130 298h1v8h-1M130 415h1v12h-1M131 59h1v86h-1M133 302h1v115h-1M134 298h1v7h-1M134 415h1v12h-1M135 298h1v71h-1M135 383h1v44h-1M137 102h1v69h-1M137 274h1v21h-1M137 297h1v1h-1M140 59h1v38h-1M141 372h1v10h-1M144 59h1v89h-1M145 298h1v47h-1M145 392h1v35h-1M148 59h1v96h-1M149 302h1v115h-1M151 298h1v47h-1M153 298h1v16h-1M153 409h1v18h-1M155 298h1v31h-1M155 400h1v27h-1M158 313h1v97h-1M159 59h1v53h-1M225 270h1v16h-1M226 270h1v19h-1M277 251h1v15h-1M280 263h1v164h-1M281 59h1v55h-1M281 241h1v10h-1M283 113h1v20h-1M283 227h1v15h-1M284 253h1v174h-1M285 259h1v168h-1M286 110h1v20h-1M286 229h1v14h-1M287 103h1v20h-1M287 236h1v11h-1M288 108h1v20h-1M288 232h1v12h-1M289 107h1v20h-1M289 232h1v12h-1M297 59h1v190h-1M300 59h1v189h-1M301 59h1v185h-1M351 59h1v368h-1M401 59h2v368h-2M465 59h1v368h-1M468 59h2v368h-2"/><path fill="#690000" d="M82 340h1v87h-1M89 318h1v109h-1M101 344h1v6h-1M102 337h1v7h-1M103 350h1v5h-1M104 351h1v5h-1M105 354h1v4h-1M111 59h1v368h-1M113 298h1v4h-1M113 417h1v10h-1M114 59h1v67h-1M115 298h1v11h-1M115 412h1v15h-1M116 234h1v21h-1M116 257h1v13h-1M117 298h1v50h-1M117 390h1v37h-1M118 148h1v42h-1M118 270h1v1h-1M118 274h1v21h-1M118 297h1v1h-1M119 184h1v35h-1M120 59h1v38h-1M121 298h1v14h-1M121 410h1v17h-1M122 59h1v106h-1M122 285h1v10h-1M122 297h1v1h-1M123 302h1v115h-1M124 59h1v74h-1M125 59h1v82h-1M126 301h1v117h-1M127 298h1v18h-1M127 407h1v20h-1M129 298h1v66h-1M129 385h1v42h-1M130 59h1v94h-1M131 145h1v43h-1M131 270h1v1h-1M131 274h1v21h-1M131 297h1v1h-1M133 298h1v4h-1M133 417h1v10h-1M134 59h1v95h-1M135 59h1v33h-1M136 298h1v125h-1M137 171h1v39h-1M137 270h1v1h-1M138 337h1v59h-1M139 316h1v92h-1M140 97h1v73h-1M140 276h1v19h-1M140 297h1v1h-1M141 298h1v74h-1M141 382h1v45h-1M143 346h1v45h-1M144 148h1v42h-1M144 270h1v1h-1M144 274h1v21h-1M144 297h1v1h-1M145 59h1v57h-1M146 339h1v55h-1M148 155h1v41h-1M148 270h1v1h-1M148 274h1v21h-1M148 297h1v1h-1M149 298h1v4h-1M149 417h1v10h-1M150 301h1v116h-1M153 59h1v88h-1M154 304h1v112h-1M155 59h1v73h-1M158 298h1v15h-1M158 410h1v17h-1M159 112h1v56h-1M159 270h1v1h-1M159 274h1v21h-1M159 297h1v1h-1M212 270h1v14h-1M213 270h1v24h-1M216 270h1v15h-1M217 270h1v18h-1M219 270h1v22h-1M223 270h1v14h-1M224 270h1v19h-1M225 286h1v13h-1M226 289h1v138h-1M233 270h1v22h-1M256 263h1v164h-1M257 267h1v160h-1M274 268h1v159h-1M276 262h1v165h-1M277 59h1v54h-1M277 242h1v9h-1M278 260h1v167h-1M280 249h1v14h-1M281 114h1v20h-1M281 226h1v15h-1M282 253h1v174h-1M283 133h1v94h-1M284 59h1v49h-1M284 244h1v9h-1M285 248h1v11h-1M286 130h1v99h-1M287 123h1v113h-1M288 128h1v104h-1M289 127h1v105h-1M315 59h1v368h-1M400 59h1v368h-1M431 59h3v368h-3M455 59h1v368h-1M461 59h1v368h-1"/><path fill="#6c0000" d="M101 338h1v6h-1M102 59h1v278h-1M103 345h1v5h-1M104 347h1v4h-1M105 349h1v5h-1M113 59h1v97h-1M114 126h1v53h-1M114 270h1v25h-1M114 297h1v1h-1M115 59h1v92h-1M117 59h1v54h-1M118 190h1v34h-1M119 219h1v36h-1M119 257h1v13h-1M120 97h1v73h-1M120 275h1v20h-1M120 297h1v1h-1M121 59h1v90h-1M122 165h1v42h-1M122 270h1v1h-1M122 274h1v11h-1M123 298h1v4h-1M123 417h1v10h-1M124 133h1v49h-1M124 270h1v1h-1M124 274h1v21h-1M124 297h1v1h-1M125 141h1v45h-1M125 270h1v1h-1M125 274h1v21h-1M125 297h1v1h-1M126 298h1v3h-1M126 418h1v9h-1M127 59h1v86h-1M128 349h1v41h-1M129 59h1v38h-1M130 153h1v41h-1M130 270h1v1h-1M130 274h1v21h-1M130 297h1v1h-1M131 188h1v35h-1M133 59h1v96h-1M134 154h1v41h-1M134 270h1v1h-1M134 274h1v21h-1M134 297h1v1h-1M135 92h1v77h-1M135 278h1v17h-1M135 297h1v1h-1M136 423h1v4h-1M137 210h1v38h-1M138 298h1v39h-1M138 396h1v31h-1M139 298h1v18h-1M139 408h1v19h-1M140 170h1v40h-1M140 270h1v1h-1M140 274h1v2h-1M141 59h1v30h-1M142 338h1v57h-1M143 298h1v48h-1M143 391h1v36h-1M144 190h1v34h-1M145 116h1v59h-1M145 270h1v1h-1M145 274h1v21h-1M145 297h1v1h-1M146 298h1v41h-1M146 394h1v33h-1M147 301h1v117h-1M148 196h1v34h-1M149 59h1v96h-1M150 298h1v3h-1M150 417h1v10h-1M151 59h1v101h-1M151 293h1v2h-1M151 297h1v1h-1M152 346h1v45h-1M153 147h1v37h-1M153 270h1v1h-1M153 274h1v21h-1M153 297h1v1h-1M154 298h1v6h-1M154 416h1v11h-1M155 132h1v44h-1M155 270h1v1h-1M155 274h1v21h-1M155 297h1v1h-1M156 324h1v79h-1M158 59h1v89h-1M159 168h1v31h-1M164 298h1v86h-1M196 59h1v99h-1M196 270h1v157h-1M212 284h1v13h-1M213 294h1v133h-1M215 270h1v13h-1M216 285h1v14h-1M217 288h1v139h-1M218 270h1v16h-1M219 292h1v135h-1M221 270h1v16h-1M223 284h1v14h-1M224 289h1v138h-1M225 299h1v128h-1M226 59h1v96h-1M227 270h1v15h-1M233 292h1v135h-1M234 270h1v18h-1M236 270h1v23h-1M237 270h1v18h-1M238 270h1v24h-1M256 253h1v10h-1M257 257h1v10h-1M258 259h1v168h-1M268 261h1v166h-1M270 264h1v163h-1M273 253h1v174h-1M274 252h1v16h-1M276 249h1v13h-1M277 113h1v20h-1M277 227h1v15h-1M278 248h1v12h-1M280 59h1v57h-1M280 240h1v9h-1M281 134h1v92h-1M282 59h1v50h-1M282 244h1v9h-1M284 108h1v20h-1M284 232h1v12h-1M285 59h1v61h-1M285 238h1v10h-1M319 59h1v368h-1M353 59h1v368h-1M396 59h1v368h-1M452 59h1v368h-1M458 59h1v368h-1M460 59h1v368h-1M466 59h2v368h-2"/><path fill="#700000" d="M101 59h1v279h-1M103 340h1v5h-1M104 342h1v5h-1M105 345h1v4h-1M109 59h1v368h-1M113 156h1v41h-1M113 270h1v25h-1M113 297h1v1h-1M114 179h1v36h-1M115 151h1v41h-1M115 270h1v25h-1M115 297h1v1h-1M117 113h1v61h-1M117 270h1v1h-1M117 274h1v21h-1M117 297h1v1h-1M118 224h1v31h-1M118 257h1v13h-1M120 170h1v40h-1M120 270h1v1h-1M120 274h1v1h-1M121 149h1v41h-1M121 270h1v1h-1M121 274h1v21h-1M121 297h1v1h-1M122 207h1v33h-1M123 59h1v96h-1M124 182h1v36h-1M125 186h1v35h-1M126 59h1v97h-1M127 145h1v43h-1M127 270h1v1h-1M127 274h1v21h-1M127 297h1v1h-1M128 298h1v51h-1M128 390h1v37h-1M129 97h1v73h-1M129 276h1v19h-1M129 297h1v1h-1M130 194h1v34h-1M131 223h1v32h-1M131 257h1v13h-1M132 302h1v115h-1M133 155h1v42h-1M133 270h1v1h-1M133 274h1v21h-1M133 297h1v1h-1M134 195h1v33h-1M135 169h1v40h-1M135 270h1v1h-1M135 274h1v4h-1M136 59h1v101h-1M136 293h1v2h-1M136 297h1v1h-1M137 248h1v7h-1M137 257h1v13h-1M138 59h1v65h-1M139 59h1v86h-1M140 210h1v37h-1M141 89h1v79h-1M141 279h1v16h-1M141 297h1v1h-1M142 298h1v40h-1M142 395h1v32h-1M143 59h1v56h-1M144 224h1v31h-1M144 257h1v13h-1M145 175h1v38h-1M146 59h1v63h-1M147 298h1v3h-1M147 418h1v9h-1M148 230h1v25h-1M148 257h1v13h-1M149 155h1v40h-1M149 270h1v1h-1M149 274h1v21h-1M149 297h1v1h-1M150 59h1v96h-1M151 160h1v38h-1M151 270h1v1h-1M151 274h1v19h-1M152 298h1v48h-1M152 391h1v36h-1M153 184h1v29h-1M154 59h1v95h-1M155 176h1v32h-1M156 298h1v26h-1M156 403h1v24h-1M157 354h1v34h-1M158 148h1v32h-1M158 270h1v1h-1M158 274h1v21h-1M158 297h1v1h-1M159 199h1v19h-1M161 298h1v111h-1M162 298h1v110h-1M163 298h1v89h-1M164 384h1v43h-1M166 59h1v110h-1M166 270h1v25h-1M166 297h1v130h-1M169 59h1v119h-1M169 270h1v25h-1M169 297h1v130h-1M175 59h1v111h-1M175 270h1v25h-1M175 297h1v130h-1M196 158h1v34h-1M199 59h1v94h-1M199 270h1v157h-1M212 297h1v130h-1M213 59h1v111h-1M214 270h1v13h-1M215 283h1v14h-1M216 299h1v128h-1M217 59h1v93h-1M218 286h1v13h-1M219 59h1v106h-1M221 286h1v13h-1M223 298h1v129h-1M224 59h1v98h-1M225 59h1v129h-1M226 155h1v41h-1M227 285h1v14h-1M228 270h1v24h-1M230 270h1v19h-1M231 270h1v22h-1M232 270h1v22h-1M233 59h1v105h-1M234 288h1v139h-1M235 270h1v22h-1M236 293h1v134h-1M237 288h1v139h-1M238 294h1v133h-1M256 243h1v10h-1M257 247h1v10h-1M258 249h1v10h-1M268 251h1v10h-1M269 261h1v166h-1M270 254h1v10h-1M273 59h1v49h-1M273 244h1v9h-1M274 59h1v52h-1M274 242h1v10h-1M275 253h1v174h-1M276 59h1v58h-1M276 240h1v9h-1M277 133h1v94h-1M278 59h1v60h-1M278 239h1v9h-1M279 268h1v159h-1M280 116h1v20h-1M280 224h1v16h-1M282 109h1v20h-1M282 231h1v13h-1M284 128h1v104h-1M285 120h1v20h-1M285 221h1v17h-1M317 59h1v368h-1M354 59h1v368h-1M397 59h1v368h-1M430 59h1v368h-1M438 59h1v368h-1M440 59h1v368h-1M451 59h1v368h-1M456 59h2v368h-2M462 59h1v368h-1"/><path fill="#730000" d="M103 59h1v281h-1M104 337h1v5h-1M105 341h1v4h-1M113 197h1v33h-1M114 215h1v55h-1M115 192h1v34h-1M116 255h1v2h-1M117 174h1v38h-1M120 210h1v37h-1M121 190h1v34h-1M122 240h1v15h-1M122 257h1v13h-1M123 155h1v41h-1M123 270h1v1h-1M123 274h1v21h-1M123 297h1v1h-1M124 218h1v37h-1M124 257h1v13h-1M125 221h1v34h-1M125 257h1v13h-1M126 156h1v41h-1M126 270h1v1h-1M126 274h1v21h-1M126 297h1v1h-1M127 188h1v34h-1M128 59h1v53h-1M129 170h1v40h-1M129 270h1v1h-1M129 274h1v2h-1M130 228h1v27h-1M130 257h1v13h-1M132 298h1v4h-1M132 417h1v10h-1M133 197h1v33h-1M134 228h1v27h-1M134 257h1v13h-1M135 209h1v36h-1M136 160h1v43h-1M136 270h1v1h-1M136 274h1v19h-1M138 124h1v54h-1M138 270h1v1h-1M138 274h1v21h-1M138 297h1v1h-1M139 145h1v43h-1M139 270h1v1h-1M139 274h1v21h-1M139 297h1v1h-1M140 247h1v8h-1M140 257h1v13h-1M141 168h1v41h-1M141 270h1v1h-1M141 274h1v5h-1M142 59h1v64h-1M143 115h1v60h-1M143 270h1v1h-1M143 274h1v21h-1M143 297h1v1h-1M145 213h1v41h-1M145 265h1v5h-1M146 122h1v55h-1M146 270h1v1h-1M146 274h1v21h-1M146 297h1v1h-1M147 59h1v97h-1M149 195h1v31h-1M150 155h1v39h-1M150 270h1v1h-1M150 274h1v21h-1M150 297h1v1h-1M151 198h1v27h-1M152 59h1v56h-1M153 213h1v28h-1M154 154h1v34h-1M154 270h1v1h-1M154 274h1v21h-1M154 297h1v1h-1M155 208h1v22h-1M156 59h1v78h-1M157 298h1v56h-1M157 388h1v39h-1M158 180h1v29h-1M159 218h1v22h-1M161 409h1v18h-1M162 408h1v19h-1M163 387h1v40h-1M164 59h1v95h-1M164 270h1v25h-1M164 297h1v1h-1M166 169h1v38h-1M169 178h1v30h-1M170 59h1v117h-1M170 270h1v25h-1M170 297h1v130h-1M171 59h1v105h-1M171 270h1v25h-1M171 297h1v130h-1M174 59h1v125h-1M174 270h1v25h-1M174 297h1v130h-1M175 170h1v34h-1M194 59h1v99h-1M194 270h1v157h-1M196 192h1v20h-1M199 153h1v33h-1M200 59h1v114h-1M200 270h1v157h-1M209 270h1v12h-1M212 59h1v122h-1M213 170h1v37h-1M214 283h1v13h-1M215 297h1v130h-1M216 59h1v127h-1M217 152h1v42h-1M218 299h1v128h-1M219 165h1v41h-1M221 299h1v128h-1M222 270h1v11h-1M223 59h1v124h-1M224 157h1v42h-1M225 188h1v25h-1M226 196h1v19h-1M227 299h1v128h-1M228 294h1v133h-1M230 289h1v138h-1M231 292h1v135h-1M232 292h1v135h-1M233 164h1v41h-1M234 59h1v94h-1M235 292h1v135h-1M236 59h1v110h-1M237 59h1v94h-1M238 59h1v111h-1M254 263h1v164h-1M255 261h1v166h-1M256 59h1v184h-1M257 59h1v188h-1M258 239h1v10h-1M262 261h1v166h-1M264 265h1v162h-1M266 262h1v165h-1M268 241h1v10h-1M269 251h1v10h-1M270 244h1v10h-1M273 108h1v20h-1M273 232h1v12h-1M274 111h1v20h-1M274 228h1v14h-1M275 59h1v50h-1M275 244h1v9h-1M276 117h1v20h-1M276 223h1v17h-1M278 119h1v20h-1M278 222h1v17h-1M279 252h1v16h-1M280 136h1v88h-1M282 129h1v102h-1M285 140h1v81h-1M327 59h1v368h-1M349 59h1v368h-1M352 59h1v368h-1M439 59h1v368h-1M453 59h1v368h-1M459 59h1v368h-1"/><path fill="#760000" d="M104 59h1v278h-1M105 336h1v5h-1M113 230h1v40h-1M115 226h1v44h-1M116 295h1v2h-1M117 212h1v41h-1M117 267h1v3h-1M120 247h1v8h-1M120 257h1v13h-1M121 224h1v31h-1M121 257h1v13h-1M123 196h1v34h-1M126 197h1v34h-1M127 222h1v33h-1M127 257h1v13h-1M128 112h1v62h-1M128 270h1v1h-1M128 274h1v21h-1M128 297h1v1h-1M129 210h1v37h-1M132 59h1v96h-1M133 230h1v25h-1M133 257h1v13h-1M135 245h1v10h-1M135 257h1v13h-1M136 203h1v32h-1M138 178h1v37h-1M139 188h1v35h-1M141 209h1v36h-1M142 123h1v55h-1M142 270h1v1h-1M142 274h1v21h-1M142 297h1v1h-1M143 175h1v38h-1M145 254h1v1h-1M145 257h1v8h-1M146 177h1v37h-1M147 156h1v41h-1M147 270h1v1h-1M147 274h1v21h-1M147 297h1v1h-1M149 226h1v29h-1M149 257h1v13h-1M150 194h1v30h-1M151 225h1v30h-1M151 257h1v13h-1M152 115h1v57h-1M152 270h1v1h-1M152 274h1v21h-1M152 297h1v1h-1M153 241h1v14h-1M153 257h1v13h-1M154 188h1v27h-1M155 230h1v25h-1M155 257h1v13h-1M156 137h1v40h-1M156 270h1v1h-1M156 274h1v21h-1M156 297h1v1h-1M157 59h1v48h-1M158 209h1v19h-1M159 240h1v15h-1M159 257h1v10h-1M161 59h1v120h-1M161 270h1v25h-1M161 297h1v1h-1M162 59h1v119h-1M162 270h1v25h-1M162 297h1v1h-1M163 59h1v97h-1M163 270h1v25h-1M163 297h1v1h-1M164 154h1v43h-1M166 207h1v12h-1M169 208h1v11h-1M170 176h1v31h-1M171 164h1v35h-1M172 59h1v116h-1M172 270h1v25h-1M172 297h1v130h-1M174 184h1v25h-1M175 204h1v10h-1M176 59h1v109h-1M176 270h1v25h-1M176 297h1v130h-1M182 59h1v101h-1M182 270h1v25h-1M182 297h1v130h-1M184 59h1v124h-1M184 270h1v157h-1M186 59h1v96h-1M186 270h1v157h-1M193 59h1v122h-1M193 270h1v157h-1M194 158h1v34h-1M196 212h1v8h-1M199 186h1v24h-1M200 173h1v33h-1M209 282h1v13h-1M210 270h1v15h-1M212 181h1v30h-1M213 207h1v15h-1M214 296h1v131h-1M215 59h1v121h-1M216 186h1v26h-1M217 194h1v20h-1M218 59h1v129h-1M219 206h1v13h-1M221 59h1v130h-1M222 281h1v13h-1M223 183h1v28h-1M224 199h1v17h-1M225 213h1v17h-1M226 215h1v18h-1M227 59h1v127h-1M228 59h1v111h-1M230 59h1v96h-1M231 59h1v106h-1M232 59h1v105h-1M233 205h1v14h-1M234 153h1v41h-1M235 59h1v107h-1M236 169h1v38h-1M237 153h1v42h-1M238 170h1v37h-1M254 253h1v10h-1M255 251h1v10h-1M258 59h1v180h-1M260 261h1v166h-1M262 251h1v10h-1M263 263h1v164h-1M264 255h1v10h-1M266 252h1v10h-1M267 260h1v167h-1M268 59h1v182h-1M269 241h1v10h-1M270 59h1v185h-1M271 262h1v165h-1M273 128h1v104h-1M274 131h1v97h-1M275 109h1v20h-1M275 231h1v13h-1M276 137h1v86h-1M278 139h1v83h-1M279 59h1v52h-1M279 242h1v10h-1M316 59h1v368h-1M318 59h1v368h-1M350 59h1v368h-1M434 59h1v368h-1M436 59h1v368h-1M444 59h3v368h-3M450 59h1v368h-1M454 59h1v368h-1M474 59h2v368h-2"/><path fill="#790000" d="M85 59h1v206h-1M105 59h1v277h-1M117 253h1v2h-1M117 257h1v10h-1M119 255h1v2h-1M119 295h1v2h-1M123 230h1v25h-1M123 257h1v13h-1M126 231h1v24h-1M126 257h1v13h-1M128 174h1v38h-1M129 247h1v8h-1M129 257h1v13h-1M132 155h1v42h-1M132 270h1v1h-1M132 274h1v21h-1M132 297h1v1h-1M136 235h1v20h-1M136 257h1v13h-1M137 255h1v2h-1M138 215h1v40h-1M138 257h1v13h-1M139 223h1v32h-1M139 257h1v13h-1M141 245h1v10h-1M141 257h1v13h-1M142 178h1v36h-1M143 213h1v41h-1M143 265h1v5h-1M146 214h1v41h-1M146 257h1v1h-1M146 260h1v10h-1M147 197h1v33h-1M150 224h1v31h-1M150 257h1v13h-1M152 172h1v36h-1M154 215h1v27h-1M156 177h1v31h-1M157 107h1v61h-1M157 274h1v21h-1M157 297h1v1h-1M158 228h1v25h-1M160 298h1v129h-1M161 179h1v33h-1M162 178h1v33h-1M163 156h1v45h-1M164 197h1v19h-1M166 219h1v15h-1M168 59h1v105h-1M168 270h1v25h-1M168 297h1v130h-1M169 219h1v12h-1M170 207h1v11h-1M171 199h1v15h-1M172 175h1v32h-1M174 209h1v9h-1M175 214h1v9h-1M176 168h1v33h-1M177 59h1v93h-1M177 270h1v25h-1M177 297h1v130h-1M181 59h1v113h-1M181 270h1v25h-1M181 297h1v130h-1M182 160h1v34h-1M183 59h1v92h-1M183 270h1v157h-1M184 183h1v26h-1M185 59h1v120h-1M185 270h1v157h-1M186 155h1v34h-1M187 59h1v103h-1M187 270h1v157h-1M193 181h1v27h-1M194 192h1v20h-1M195 59h1v121h-1M195 270h1v157h-1M196 220h1v8h-1M197 59h1v95h-1M197 270h1v157h-1M198 59h1v99h-1M198 270h1v157h-1M199 210h1v8h-1M200 206h1v9h-1M209 59h1v117h-1M209 295h1v132h-1M210 285h1v14h-1M212 211h1v15h-1M213 222h1v18h-1M214 59h1v120h-1M215 180h1v30h-1M216 212h1v17h-1M217 214h1v18h-1M218 188h1v25h-1M219 219h1v19h-1M221 189h1v24h-1M222 294h1v133h-1M223 211h1v17h-1M224 216h1v18h-1M225 230h1v18h-1M226 233h1v18h-1M227 186h1v26h-1M228 170h1v37h-1M230 155h1v41h-1M231 165h1v41h-1M232 164h1v42h-1M233 219h1v18h-1M234 194h1v21h-1M235 166h1v40h-1M236 207h1v14h-1M237 195h1v20h-1M238 207h1v15h-1M254 243h1v10h-1M255 241h1v10h-1M260 251h1v10h-1M261 268h1v159h-1M262 241h1v10h-1M263 253h1v10h-1M264 245h1v10h-1M265 265h1v162h-1M266 242h1v10h-1M267 250h1v10h-1M269 59h1v182h-1M271 252h1v10h-1M275 129h1v102h-1M279 111h1v20h-1M279 228h1v14h-1M310 59h1v368h-1M328 59h1v368h-1M473 59h1v368h-1M476 59h1v368h-1"/><path fill="#7c0000" d="M85 265h1v32h-1M118 255h1v2h-1M118 295h1v2h-1M119 271h1v3h-1M122 255h1v2h-1M128 212h1v41h-1M128 267h1v3h-1M131 255h1v2h-1M131 295h1v2h-1M132 197h1v33h-1M137 271h1v3h-1M137 295h1v2h-1M140 255h1v2h-1M142 214h1v41h-1M142 257h1v1h-1M142 259h1v11h-1M143 254h1v1h-1M143 257h1v8h-1M144 255h1v2h-1M144 295h1v2h-1M146 258h1v2h-1M147 230h1v25h-1M147 257h1v13h-1M148 255h1v2h-1M148 271h1v3h-1M148 295h1v2h-1M151 345h1v79h-1M152 208h1v26h-1M154 242h1v13h-1M154 257h1v13h-1M156 208h1v21h-1M157 168h1v32h-1M157 270h1v1h-1M158 253h1v2h-1M158 257h1v13h-1M161 212h1v19h-1M162 211h1v18h-1M163 201h1v18h-1M164 216h1v18h-1M166 234h1v15h-1M166 295h1v2h-1M168 164h1v38h-1M169 231h1v12h-1M169 295h1v2h-1M170 218h1v11h-1M171 214h1v10h-1M172 207h1v9h-1M174 218h1v10h-1M175 223h1v9h-1M175 295h1v2h-1M176 201h1v13h-1M177 152h1v34h-1M181 172h1v34h-1M182 194h1v18h-1M183 151h1v34h-1M184 209h1v8h-1M185 179h1v29h-1M186 189h1v22h-1M187 162h1v34h-1M190 59h1v115h-1M190 270h1v157h-1M191 59h1v115h-1M191 270h1v157h-1M193 208h1v9h-1M194 212h1v7h-1M195 180h1v28h-1M196 228h1v8h-1M197 154h1v33h-1M198 158h1v34h-1M199 218h1v8h-1M200 215h1v8h-1M209 176h1v33h-1M210 59h1v127h-1M210 299h1v128h-1M212 226h1v19h-1M213 240h1v18h-1M214 179h1v31h-1M215 210h1v16h-1M216 229h1v18h-1M217 232h1v18h-1M218 213h1v17h-1M219 238h1v18h-1M221 213h1v17h-1M222 59h1v114h-1M223 228h1v18h-1M224 234h1v18h-1M225 248h1v20h-1M226 251h1v17h-1M227 212h1v17h-1M228 207h1v15h-1M230 196h1v19h-1M231 206h1v14h-1M232 206h1v13h-1M233 237h1v18h-1M234 215h1v17h-1M235 206h1v14h-1M236 221h1v18h-1M237 215h1v18h-1M238 222h1v18h-1M241 270h1v17h-1M242 270h1v13h-1M254 59h1v184h-1M255 59h1v182h-1M260 241h1v10h-1M261 258h1v10h-1M262 59h1v182h-1M263 243h1v10h-1M264 59h1v186h-1M265 255h1v10h-1M266 59h1v183h-1M267 240h1v10h-1M271 242h1v10h-1M272 266h1v161h-1M279 131h1v97h-1M309 59h1v368h-1M326 59h1v368h-1M448 59h1v368h-1"/><path fill="#800000" d="M85 297h1v32h-1M108 371h1v56h-1M114 296h1v1h-1M118 271h1v3h-1M120 255h1v2h-1M122 271h1v3h-1M122 295h1v2h-1M124 255h1v2h-1M124 295h1v2h-1M125 255h1v2h-1M125 295h1v2h-1M128 253h1v2h-1M128 257h1v10h-1M130 255h1v2h-1M130 271h1v3h-1M130 295h1v2h-1M131 271h1v3h-1M132 230h1v25h-1M132 257h1v13h-1M134 255h1v2h-1M134 271h1v3h-1M134 295h1v2h-1M135 255h1v2h-1M140 271h1v3h-1M140 295h1v2h-1M142 258h1v1h-1M144 271h1v3h-1M145 255h1v2h-1M151 424h1v3h-1M152 234h1v21h-1M152 257h1v13h-1M153 255h1v2h-1M153 295h1v2h-1M155 295h1v2h-1M156 229h1v26h-1M156 257h1v1h-1M156 260h1v10h-1M157 200h1v20h-1M159 269h1v1h-1M159 271h1v3h-1M159 295h1v2h-1M160 59h1v140h-1M160 270h1v25h-1M160 297h1v1h-1M161 231h1v21h-1M162 229h1v21h-1M163 219h1v19h-1M164 234h1v17h-1M166 249h1v6h-1M166 257h1v10h-1M168 202h1v13h-1M169 243h1v12h-1M170 229h1v11h-1M170 295h1v2h-1M171 224h1v10h-1M171 295h1v2h-1M172 216h1v10h-1M174 228h1v9h-1M174 295h1v2h-1M175 232h1v10h-1M176 214h1v8h-1M177 186h1v24h-1M180 59h1v121h-1M180 270h1v25h-1M180 297h1v130h-1M181 206h1v9h-1M182 212h1v8h-1M183 185h1v25h-1M184 217h1v9h-1M185 208h1v8h-1M186 211h1v8h-1M187 196h1v17h-1M189 59h1v106h-1M189 270h1v157h-1M190 174h1v32h-1M191 174h1v32h-1M193 217h1v8h-1M194 219h1v9h-1M195 208h1v8h-1M196 236h1v9h-1M197 187h1v23h-1M198 192h1v20h-1M199 226h1v9h-1M200 223h1v9h-1M202 59h1v107h-1M202 270h1v157h-1M205 59h1v116h-1M205 270h1v157h-1M209 209h1v15h-1M210 186h1v26h-1M212 245h1v23h-1M213 258h1v10h-1M214 210h1v16h-1M215 226h1v18h-1M216 247h1v21h-1M217 250h1v18h-1M218 230h1v18h-1M219 256h1v12h-1M221 230h1v18h-1M222 173h1v35h-1M223 246h1v22h-1M224 252h1v16h-1M227 229h1v18h-1M228 222h1v18h-1M230 215h1v18h-1M231 220h1v18h-1M232 219h1v18h-1M233 255h1v15h-1M234 232h1v18h-1M235 220h1v18h-1M236 239h1v18h-1M237 233h1v18h-1M238 240h1v18h-1M241 287h1v13h-1M242 283h1v13h-1M243 270h1v11h-1M244 270h1v14h-1M260 59h1v182h-1M261 248h1v10h-1M263 59h1v184h-1M265 245h1v10h-1M267 59h1v181h-1M271 59h1v183h-1M272 256h1v10h-1M311 59h1v368h-1M435 59h1v368h-1M437 59h1v368h-1M447 59h1v368h-1M449 59h1v368h-1M472 59h1v368h-1"/><path fill="#830000" d="M85 329h1v98h-1M108 339h1v32h-1M113 295h1v2h-1M114 295h1v1h-1M115 295h1v2h-1M117 255h1v2h-1M120 271h1v3h-1M120 295h1v2h-1M121 255h1v2h-1M121 295h1v2h-1M124 271h1v3h-1M125 271h1v3h-1M127 255h1v2h-1M127 295h1v2h-1M129 255h1v2h-1M133 255h1v2h-1M133 271h1v3h-1M133 295h1v2h-1M135 271h1v3h-1M135 295h1v2h-1M136 255h1v2h-1M141 255h1v2h-1M145 271h1v3h-1M145 295h1v2h-1M149 255h1v2h-1M149 271h1v3h-1M149 295h1v2h-1M151 255h1v2h-1M151 271h1v3h-1M151 295h1v2h-1M153 271h1v3h-1M155 255h1v2h-1M155 271h1v3h-1M156 258h1v2h-1M157 220h1v25h-1M158 295h1v2h-1M159 255h1v2h-1M159 267h1v2h-1M160 199h1v21h-1M161 252h1v3h-1M161 257h1v10h-1M162 250h1v5h-1M162 257h1v10h-1M163 238h1v17h-1M164 251h1v4h-1M164 257h1v10h-1M168 215h1v13h-1M169 257h1v10h-1M170 240h1v12h-1M171 234h1v11h-1M172 226h1v10h-1M172 295h1v2h-1M174 237h1v10h-1M175 242h1v9h-1M176 222h1v9h-1M176 295h1v2h-1M177 210h1v8h-1M180 180h1v28h-1M181 215h1v8h-1M182 220h1v8h-1M182 295h1v2h-1M183 210h1v8h-1M184 226h1v8h-1M185 216h1v9h-1M186 219h1v8h-1M187 213h1v7h-1M189 165h1v34h-1M190 206h1v9h-1M191 206h1v9h-1M193 225h1v9h-1M194 228h1v8h-1M195 216h1v9h-1M196 245h1v8h-1M197 210h1v8h-1M198 212h1v7h-1M199 235h1v8h-1M200 232h1v8h-1M202 166h1v33h-1M203 59h1v116h-1M203 270h1v157h-1M205 175h1v32h-1M209 224h1v18h-1M210 212h1v17h-1M214 226h1v18h-1M215 244h1v24h-1M218 248h1v20h-1M221 248h1v20h-1M222 208h1v15h-1M227 247h1v21h-1M228 240h1v18h-1M230 233h1v18h-1M231 238h1v18h-1M232 237h1v18h-1M234 250h1v20h-1M235 238h1v18h-1M236 257h1v13h-1M237 251h1v19h-1M238 258h1v12h-1M239 270h1v14h-1M240 270h1v24h-1M241 59h1v132h-1M241 300h1v127h-1M242 59h1v120h-1M242 296h1v131h-1M243 281h1v13h-1M244 284h1v13h-1M261 59h1v189h-1M265 59h1v186h-1M272 246h1v10h-1M303 59h1v368h-1M320 59h2v368h-2M441 59h1v368h-1M443 59h1v368h-1"/><path fill="#860000" d="M108 307h1v32h-1M117 271h1v3h-1M117 295h1v2h-1M121 271h1v3h-1M123 255h1v2h-1M123 271h1v3h-1M123 295h1v2h-1M126 255h1v2h-1M126 271h1v3h-1M126 295h1v2h-1M127 271h1v3h-1M129 271h1v3h-1M129 295h1v2h-1M136 271h1v3h-1M136 295h1v2h-1M138 255h1v2h-1M139 255h1v2h-1M139 295h1v2h-1M141 271h1v3h-1M141 295h1v2h-1M143 255h1v2h-1M146 255h1v2h-1M150 255h1v2h-1M150 271h1v3h-1M150 295h1v2h-1M154 255h1v2h-1M154 271h1v3h-1M154 295h1v2h-1M157 245h1v10h-1M157 257h1v13h-1M158 255h1v2h-1M158 271h1v3h-1M160 220h1v22h-1M163 257h1v10h-1M168 228h1v13h-1M168 295h1v2h-1M169 269h1v1h-1M170 252h1v3h-1M170 257h1v10h-1M171 245h1v10h-1M172 236h1v10h-1M174 247h1v8h-1M175 251h1v4h-1M175 257h1v10h-1M176 231h1v9h-1M177 218h1v9h-1M177 295h1v2h-1M180 208h1v9h-1M181 223h1v8h-1M181 295h1v2h-1M182 228h1v9h-1M183 218h1v8h-1M184 234h1v8h-1M185 225h1v8h-1M186 227h1v8h-1M187 220h1v9h-1M189 199h1v14h-1M190 215h1v8h-1M191 215h1v8h-1M192 59h1v107h-1M192 270h1v157h-1M193 234h1v8h-1M194 236h1v9h-1M195 225h1v8h-1M196 253h1v2h-1M196 257h1v10h-1M197 218h1v9h-1M198 219h1v9h-1M199 243h1v9h-1M200 240h1v8h-1M202 199h1v14h-1M203 175h1v32h-1M204 59h1v93h-1M204 270h1v157h-1M205 207h1v8h-1M207 59h1v102h-1M207 270h1v157h-1M209 242h1v26h-1M210 229h1v18h-1M214 244h1v24h-1M222 223h1v18h-1M225 268h1v2h-1M226 268h1v2h-1M228 258h1v10h-1M230 251h1v19h-1M231 256h1v14h-1M232 255h1v15h-1M235 256h1v14h-1M239 284h1v14h-1M240 59h1v111h-1M240 294h1v133h-1M241 191h1v23h-1M242 179h1v31h-1M243 59h1v113h-1M243 294h1v133h-1M244 59h1v121h-1M244 297h1v130h-1M253 59h1v368h-1M272 59h1v187h-1M312 59h2v368h-2M322 59h1v368h-1M377 59h1v368h-1M380 59h1v368h-1M428 59h1v368h-1M442 59h1v368h-1"/><path fill="#890000" d="M108 59h1v248h-1M128 255h1v2h-1M138 271h1v3h-1M138 295h1v2h-1M139 271h1v3h-1M142 255h1v2h-1M143 271h1v3h-1M143 295h1v2h-1M146 271h1v3h-1M146 295h1v2h-1M147 255h1v2h-1M147 271h1v3h-1M147 295h1v2h-1M156 295h1v2h-1M160 242h1v13h-1M160 257h1v10h-1M161 269h1v1h-1M161 295h1v2h-1M162 295h1v2h-1M163 269h1v1h-1M164 269h1v1h-1M164 295h1v2h-1M165 298h1v84h-1M166 255h1v1h-1M166 269h1v1h-1M168 241h1v13h-1M169 267h1v2h-1M171 257h1v10h-1M172 246h1v9h-1M174 257h1v10h-1M176 240h1v9h-1M177 227h1v8h-1M180 217h1v8h-1M181 231h1v9h-1M182 237h1v8h-1M183 226h1v8h-1M184 242h1v9h-1M185 233h1v8h-1M186 235h1v9h-1M187 229h1v8h-1M189 213h1v8h-1M190 223h1v9h-1M191 223h1v9h-1M192 166h1v34h-1M193 242h1v8h-1M194 245h1v8h-1M195 233h1v8h-1M197 227h1v8h-1M198 228h1v8h-1M199 252h1v3h-1M199 257h1v10h-1M200 248h1v7h-1M202 213h1v8h-1M203 207h1v8h-1M204 152h1v34h-1M205 215h1v9h-1M207 161h1v34h-1M210 247h1v21h-1M211 270h1v23h-1M212 268h1v2h-1M213 268h1v2h-1M216 268h1v2h-1M217 268h1v2h-1M219 268h1v2h-1M222 241h1v27h-1M223 268h1v2h-1M224 268h1v2h-1M229 270h1v24h-1M239 298h1v129h-1M240 170h1v37h-1M241 214h1v17h-1M242 210h1v16h-1M243 172h1v36h-1M244 180h1v30h-1M305 59h1v368h-1M314 59h1v368h-1M381 59h1v368h-1M429 59h1v368h-1"/><path fill="#8c0000" d="M110 59h1v368h-1M112 59h1v368h-1M128 271h1v3h-1M128 295h1v2h-1M132 255h1v2h-1M132 271h1v3h-1M132 295h1v2h-1M142 271h1v3h-1M142 295h1v2h-1M152 255h1v2h-1M152 271h1v3h-1M152 295h1v2h-1M156 255h1v2h-1M156 271h1v3h-1M161 255h1v2h-1M162 255h1v2h-1M162 269h1v1h-1M163 295h1v2h-1M164 255h1v2h-1M165 382h1v45h-1M166 256h1v1h-1M168 254h1v1h-1M168 257h1v10h-1M169 255h1v2h-1M170 269h1v1h-1M172 257h1v10h-1M176 249h1v6h-1M176 257h1v1h-1M177 235h1v9h-1M180 225h1v8h-1M180 295h1v2h-1M181 240h1v8h-1M182 245h1v8h-1M183 234h1v9h-1M184 251h1v4h-1M184 257h1v3h-1M185 241h1v9h-1M186 244h1v8h-1M187 237h1v9h-1M189 221h1v9h-1M190 232h1v8h-1M191 232h1v8h-1M192 200h1v14h-1M193 250h1v5h-1M193 257h1v2h-1M194 253h1v2h-1M194 257h1v10h-1M195 241h1v9h-1M196 267h1v3h-1M197 235h1v8h-1M198 236h1v8h-1M200 257h1v10h-1M202 221h1v9h-1M203 215h1v9h-1M204 186h1v24h-1M205 224h1v8h-1M207 195h1v18h-1M211 59h1v108h-1M211 293h1v134h-1M215 268h1v2h-1M218 268h1v2h-1M221 268h1v2h-1M227 268h1v2h-1M229 294h1v133h-1M239 59h1v124h-1M240 207h1v15h-1M241 231h1v18h-1M242 226h1v18h-1M243 208h1v15h-1M244 210h1v16h-1M306 59h1v368h-1"/><path fill="#8f0000" d="M107 354h1v73h-1M157 255h1v2h-1M157 271h1v3h-1M157 295h1v2h-1M160 269h1v1h-1M161 267h1v2h-1M162 267h1v2h-1M163 255h1v2h-1M163 267h1v2h-1M164 267h1v2h-1M165 59h1v93h-1M165 270h1v25h-1M165 297h1v1h-1M166 267h1v2h-1M170 255h1v2h-1M170 267h1v2h-1M171 269h1v1h-1M173 59h1v92h-1M173 270h1v25h-1M173 297h1v130h-1M174 269h1v1h-1M175 269h1v1h-1M176 258h1v9h-1M177 244h1v9h-1M180 233h1v9h-1M181 248h1v7h-1M182 253h1v2h-1M182 257h1v10h-1M183 243h1v8h-1M184 260h1v7h-1M185 250h1v5h-1M185 257h1v1h-1M186 252h1v3h-1M186 257h1v10h-1M187 246h1v8h-1M189 230h1v8h-1M190 240h1v9h-1M191 240h1v9h-1M192 214h1v7h-1M193 259h1v11h-1M194 267h1v3h-1M195 250h1v5h-1M195 257h1v1h-1M196 255h1v2h-1M197 243h1v9h-1M198 244h1v9h-1M199 267h1v3h-1M201 59h1v97h-1M201 270h1v157h-1M202 230h1v8h-1M203 224h1v8h-1M204 210h1v8h-1M205 232h1v8h-1M207 213h1v7h-1M209 268h1v2h-1M211 167h1v39h-1M214 268h1v2h-1M220 270h1v18h-1M228 268h1v2h-1M229 59h1v112h-1M239 183h1v28h-1M240 222h1v18h-1M241 249h1v21h-1M242 244h1v26h-1M243 223h1v18h-1M244 226h1v18h-1M245 270h1v23h-1M304 59h1v368h-1M307 59h2v368h-2M323 59h1v368h-1"/><path fill="#930000" d="M107 322h1v32h-1M160 267h1v2h-1M160 295h1v2h-1M165 152h1v41h-1M168 269h1v1h-1M171 255h1v2h-1M173 151h1v34h-1M174 255h1v2h-1M174 267h1v2h-1M175 255h1v2h-1M176 269h1v1h-1M177 253h1v2h-1M177 257h1v10h-1M180 242h1v8h-1M181 257h1v10h-1M183 251h1v4h-1M183 257h1v10h-1M185 258h1v9h-1M187 254h1v1h-1M187 257h1v10h-1M189 238h1v8h-1M190 249h1v6h-1M191 249h1v6h-1M192 221h1v9h-1M195 258h1v9h-1M197 252h1v3h-1M197 257h1v10h-1M198 253h1v2h-1M198 257h1v10h-1M199 255h1v1h-1M200 267h1v3h-1M201 156h1v34h-1M202 238h1v8h-1M203 232h1v8h-1M204 218h1v8h-1M205 240h1v9h-1M207 220h1v9h-1M210 268h1v2h-1M211 206h1v15h-1M220 288h1v139h-1M222 268h1v2h-1M229 171h1v37h-1M239 211h1v16h-1M240 240h1v18h-1M243 241h1v29h-1M244 244h1v26h-1M245 59h1v111h-1M245 293h1v134h-1M302 59h1v368h-1M324 59h2v368h-2M463 59h2v368h-2"/><path fill="#960000" d="M106 375h1v52h-1M107 59h1v263h-1M160 255h1v2h-1M165 193h1v21h-1M167 59h1v114h-1M167 270h1v25h-1M167 297h1v130h-1M168 255h1v2h-1M168 267h1v2h-1M171 267h1v2h-1M172 255h1v2h-1M172 269h1v1h-1M173 185h1v24h-1M175 267h1v2h-1M176 267h1v2h-1M179 59h1v101h-1M179 270h1v25h-1M179 297h1v130h-1M180 250h1v5h-1M180 257h1v1h-1M184 269h1v1h-1M185 269h1v1h-1M186 269h1v1h-1M189 246h1v9h-1M190 257h1v10h-1M191 257h1v10h-1M192 230h1v8h-1M194 255h1v2h-1M195 267h1v3h-1M199 256h1v1h-1M200 255h1v2h-1M201 190h1v21h-1M202 246h1v9h-1M203 240h1v9h-1M204 226h1v9h-1M205 249h1v6h-1M207 229h1v8h-1M211 221h1v18h-1M220 59h1v94h-1M229 208h1v14h-1M239 227h1v18h-1M240 258h1v12h-1M245 170h1v37h-1M398 59h2v368h-2"/><path fill="#990000" d="M106 343h1v32h-1M165 214h1v16h-1M167 173h1v34h-1M172 267h1v2h-1M173 209h1v10h-1M176 255h1v2h-1M178 59h1v118h-1M178 270h1v25h-1M178 297h1v130h-1M179 160h1v34h-1M180 258h1v9h-1M182 255h1v2h-1M182 269h1v1h-1M183 269h1v1h-1M184 255h1v2h-1M184 267h1v2h-1M185 267h1v2h-1M186 255h1v1h-1M187 267h1v3h-1M189 257h1v10h-1M190 267h1v3h-1M191 267h1v3h-1M192 238h1v8h-1M193 255h1v2h-1M197 267h1v3h-1M198 267h1v3h-1M201 211h1v8h-1M202 257h1v10h-1M203 249h1v6h-1M204 235h1v8h-1M205 257h1v10h-1M207 237h1v8h-1M211 239h1v18h-1M220 153h1v41h-1M229 222h1v18h-1M239 245h1v25h-1M245 207h1v15h-1"/><path fill="#9c0000" d="M106 311h1v32h-1M165 230h1v16h-1M167 207h1v12h-1M173 219h1v9h-1M173 295h1v2h-1M177 255h1v2h-1M177 269h1v1h-1M178 177h1v30h-1M179 194h1v18h-1M180 269h1v1h-1M181 255h1v2h-1M181 269h1v1h-1M183 267h1v2h-1M185 255h1v2h-1M186 256h1v1h-1M186 267h1v2h-1M187 255h1v2h-1M192 246h1v9h-1M195 255h1v2h-1M197 255h1v1h-1M198 255h1v2h-1M201 219h1v8h-1M202 267h1v3h-1M203 257h1v10h-1M204 243h1v8h-1M205 267h1v3h-1M206 59h1v111h-1M206 270h1v157h-1M207 245h1v9h-1M211 257h1v11h-1M220 194h1v21h-1M229 240h1v18h-1M245 222h1v18h-1M248 59h1v2h-1M248 62h1v1h-1M248 64h1v2h-1M248 67h1v1h-1M248 69h1v2h-1M248 72h1v1h-1M248 74h1v1h-1M248 77h1v1h-1M248 79h1v1h-1M248 82h1v1h-1M248 84h1v1h-1M248 86h1v2h-1M248 89h1v1h-1M248 91h1v2h-1M248 94h1v1h-1M248 96h1v2h-1M248 99h1v1h-1M248 101h1v1h-1M248 104h1v1h-1M248 106h1v1h-1M248 109h1v1h-1M248 111h1v1h-1M248 113h1v2h-1M248 116h1v1h-1M248 118h1v2h-1M248 121h1v1h-1M248 123h1v2h-1M248 126h1v1h-1M248 128h1v1h-1M248 131h1v1h-1M248 133h1v1h-1M248 136h1v1h-1M248 138h1v1h-1M248 140h1v2h-1M248 143h1v1h-1M248 145h1v2h-1M248 148h1v1h-1M248 150h1v2h-1M248 153h1v1h-1M248 155h1v1h-1M248 158h1v1h-1M248 160h1v1h-1M248 163h1v1h-1M248 165h1v1h-1M248 167h1v2h-1M248 170h1v1h-1M248 172h1v2h-1M248 175h1v1h-1M248 177h1v1h-1M248 180h1v1h-1M248 182h1v1h-1M248 185h1v1h-1M248 187h1v1h-1M248 190h1v1h-1M248 192h1v1h-1M248 194h1v2h-1M248 197h1v1h-1M248 199h1v2h-1M248 202h1v1h-1M248 204h1v1h-1M248 207h1v1h-1M248 209h1v1h-1M248 212h1v1h-1M248 214h1v1h-1M248 217h1v1h-1M248 219h1v1h-1M248 221h1v2h-1M248 224h1v1h-1M248 226h1v2h-1M248 229h1v1h-1M248 231h1v1h-1M248 234h1v1h-1M248 236h1v1h-1M248 239h1v1h-1M248 241h1v1h-1M248 244h1v1h-1M248 246h1v1h-1M248 248h1v2h-1M248 251h1v1h-1M248 253h1v2h-1M248 256h1v1h-1M248 258h1v1h-1M248 261h1v1h-1M248 263h1v1h-1M248 266h1v1h-1M248 268h1v1h-1M248 270h1v2h-1M248 273h1v1h-1M248 275h1v2h-1M248 278h1v1h-1M248 280h1v2h-1M248 283h1v1h-1M248 285h1v1h-1M248 288h1v1h-1M248 290h1v1h-1M248 293h1v1h-1M248 295h1v1h-1M248 297h1v2h-1M248 300h1v1h-1M248 302h1v2h-1M248 305h1v1h-1M248 307h1v2h-1M248 310h1v1h-1M248 312h1v1h-1M248 315h1v1h-1M248 317h1v1h-1M248 320h1v1h-1M248 322h1v1h-1M248 324h1v2h-1M248 327h1v1h-1M248 329h1v2h-1M248 332h1v1h-1M248 334h1v2h-1M248 337h1v1h-1M248 339h1v1h-1M248 342h1v1h-1M248 344h1v1h-1M248 347h1v1h-1M248 349h1v1h-1M248 351h1v2h-1M248 354h1v1h-1M248 356h1v2h-1M248 359h1v1h-1M248 361h1v1h-1M248 364h1v1h-1M248 366h1v1h-1M248 369h1v1h-1M248 371h1v1h-1M248 374h1v1h-1M248 376h1v1h-1M248 378h1v2h-1M248 381h1v1h-1M248 383h1v2h-1M248 386h1v1h-1M248 388h1v1h-1M248 391h1v1h-1M248 393h1v1h-1M248 396h1v1h-1M248 398h1v1h-1M248 401h1v1h-1M248 403h1v1h-1M248 405h1v2h-1M248 408h1v1h-1M248 410h1v2h-1M248 413h1v1h-1M248 415h1v1h-1M248 418h1v1h-1M248 420h1v1h-1M248 423h1v1h-1M248 425h1v1h-1M259 264h1v163h-1"/><path fill="#9f0000" d="M106 59h1v252h-1M165 246h1v9h-1M165 257h1v10h-1M167 219h1v14h-1M173 228h1v10h-1M178 207h1v9h-1M179 212h1v8h-1M180 267h1v2h-1M181 267h1v2h-1M182 267h1v2h-1M183 255h1v2h-1M189 267h1v3h-1M190 255h1v2h-1M191 255h1v2h-1M192 257h1v10h-1M197 256h1v1h-1M201 227h1v9h-1M204 251h1v4h-1M204 257h1v10h-1M206 170h1v34h-1M207 254h1v13h-1M220 215h1v17h-1M229 258h1v10h-1M245 240h1v18h-1M259 254h1v10h-1"/><path fill="#a30000" d="M167 233h1v14h-1M167 295h1v2h-1M173 238h1v10h-1M177 267h1v2h-1M178 216h1v8h-1M179 220h1v8h-1M179 295h1v2h-1M180 255h1v2h-1M188 59h1v103h-1M188 270h1v157h-1M189 255h1v2h-1M192 267h1v3h-1M201 236h1v8h-1M202 255h1v2h-1M203 267h1v3h-1M205 255h1v2h-1M206 204h1v10h-1M220 232h1v18h-1M245 258h1v12h-1M259 244h1v10h-1"/><path fill="#a60000" d="M165 269h1v1h-1M165 295h1v2h-1M167 247h1v8h-1M167 257h1v10h-1M173 248h1v7h-1M173 257h1v1h-1M178 224h1v8h-1M178 295h1v2h-1M179 228h1v9h-1M188 162h1v34h-1M201 244h1v8h-1M203 255h1v2h-1M204 267h1v3h-1M206 214h1v8h-1M207 267h1v3h-1M211 268h1v2h-1M220 250h1v18h-1M252 59h1v368h-1M259 59h1v185h-1M471 59h1v368h-1"/><path fill="#a90000" d="M173 258h1v9h-1M178 232h1v9h-1M179 237h1v8h-1M188 196h1v17h-1M192 255h1v2h-1M201 252h1v3h-1M201 257h1v10h-1M204 255h1v1h-1M206 222h1v9h-1M229 268h1v2h-1M470 59h1v368h-1"/><path fill="#ac0000" d="M165 255h1v2h-1M165 267h1v2h-1M167 269h1v1h-1M178 241h1v8h-1M179 245h1v8h-1M188 213h1v7h-1M204 256h1v1h-1M206 231h1v8h-1"/><path fill="#af0000" d="M167 267h1v2h-1M173 269h1v1h-1M178 249h1v6h-1M179 253h1v2h-1M179 257h1v10h-1M188 220h1v9h-1M201 267h1v3h-1M206 239h1v8h-1M220 268h1v2h-1M246 59h1v368h-1"/><path fill="#b20000" d="M167 255h1v2h-1M173 255h1v2h-1M178 257h1v10h-1M188 229h1v8h-1M201 255h1v2h-1M206 247h1v8h-1"/><path fill="#b60000" d="M173 267h1v2h-1M178 269h1v1h-1M179 269h1v1h-1M188 237h1v8h-1M206 257h1v10h-1"/><path fill="#b90000" d="M178 267h1v2h-1M179 255h1v2h-1M179 267h1v2h-1M188 245h1v9h-1M251 59h1v368h-1"/><path fill="#bc0000" d="M178 255h1v2h-1M188 254h1v1h-1M188 257h1v10h-1M206 267h1v3h-1"/><path fill="#bf0000" d="M188 267h1v3h-1M206 255h1v2h-1"/><path fill="#c60000" d="M188 255h1v2h-1M247 59h1v368h-1"/><path fill="#c90000" d="M248 61h1v1h-1M248 63h1v1h-1M248 66h1v1h-1M248 68h1v1h-1M248 71h1v1h-1M248 73h1v1h-1M248 75h1v2h-1M248 78h1v1h-1M248 80h1v2h-1M248 83h1v1h-1M248 85h1v1h-1M248 88h1v1h-1M248 90h1v1h-1M248 93h1v1h-1M248 95h1v1h-1M248 98h1v1h-1M248 100h1v1h-1M248 102h1v2h-1M248 105h1v1h-1M248 107h1v2h-1M248 110h1v1h-1M248 112h1v1h-1M248 115h1v1h-1M248 117h1v1h-1M248 120h1v1h-1M248 122h1v1h-1M248 125h1v1h-1M248 127h1v1h-1M248 129h1v2h-1M248 132h1v1h-1M248 134h1v2h-1M248 137h1v1h-1M248 139h1v1h-1M248 142h1v1h-1M248 144h1v1h-1M248 147h1v1h-1M248 149h1v1h-1M248 152h1v1h-1M248 154h1v1h-1M248 156h1v2h-1M248 159h1v1h-1M248 161h1v2h-1M248 164h1v1h-1M248 166h1v1h-1M248 169h1v1h-1M248 171h1v1h-1M248 174h1v1h-1M248 176h1v1h-1M248 178h1v2h-1M248 181h1v1h-1M248 183h1v2h-1M248 186h1v1h-1M248 188h1v2h-1M248 191h1v1h-1M248 193h1v1h-1M248 196h1v1h-1M248 198h1v1h-1M248 201h1v1h-1M248 203h1v1h-1M248 205h1v2h-1M248 208h1v1h-1M248 210h1v2h-1M248 213h1v1h-1M248 215h1v2h-1M248 218h1v1h-1M248 220h1v1h-1M248 223h1v1h-1M248 225h1v1h-1M248 228h1v1h-1M248 230h1v1h-1M248 232h1v2h-1M248 235h1v1h-1M248 237h1v2h-1M248 240h1v1h-1M248 242h1v2h-1M248 245h1v1h-1M248 247h1v1h-1M248 250h1v1h-1M248 252h1v1h-1M248 255h1v1h-1M248 257h1v1h-1M248 259h1v2h-1M248 262h1v1h-1M248 264h1v2h-1M248 267h1v1h-1M248 269h1v1h-1M248 272h1v1h-1M248 274h1v1h-1M248 277h1v1h-1M248 279h1v1h-1M248 282h1v1h-1M248 284h1v1h-1M248 286h1v2h-1M248 289h1v1h-1M248 291h1v2h-1M248 294h1v1h-1M248 296h1v1h-1M248 299h1v1h-1M248 301h1v1h-1M248 304h1v1h-1M248 306h1v1h-1M248 309h1v1h-1M248 311h1v1h-1M248 313h1v2h-1M248 316h1v1h-1M248 318h1v2h-1M248 321h1v1h-1M248 323h1v1h-1M248 326h1v1h-1M248 328h1v1h-1M248 331h1v1h-1M248 333h1v1h-1M248 336h1v1h-1M248 338h1v1h-1M248 340h1v2h-1M248 343h1v1h-1M248 345h1v2h-1M248 348h1v1h-1M248 350h1v1h-1M248 353h1v1h-1M248 355h1v1h-1M248 358h1v1h-1M248 360h1v1h-1M248 362h1v2h-1M248 365h1v1h-1M248 367h1v2h-1M248 370h1v1h-1M248 372h1v2h-1M248 375h1v1h-1M248 377h1v1h-1M248 380h1v1h-1M248 382h1v1h-1M248 385h1v1h-1M248 387h1v1h-1M248 389h1v2h-1M248 392h1v1h-1M248 394h1v2h-1M248 397h1v1h-1M248 399h1v2h-1M248 402h1v1h-1M248 404h1v1h-1M248 407h1v1h-1M248 409h1v1h-1M248 412h1v1h-1M248 414h1v1h-1M248 416h1v2h-1M248 419h1v1h-1M248 421h1v2h-1M248 424h1v1h-1M248 426h1v1h-1"/><path fill="#d60000" d="M208 59h1v368h-1"/><path fill="#d90000" d="M249 59h2v368h-2"/>
<rect x="81" y="59" width="169" height="368" fill="url(#nA1)" style="mix-blend-mode:screen"/>
<rect x="81" y="59" width="169" height="368" fill="url(#nA2)" style="mix-blend-mode:screen"/>
<rect x="250" y="59" width="80" height="368" fill="url(#nB1)" style="mix-blend-mode:screen"/>
<rect x="250" y="59" width="80" height="368" fill="url(#nB2)" style="mix-blend-mode:screen"/>
<rect x="330" y="59" width="80" height="368" fill="url(#nC1)" style="mix-blend-mode:screen"/>
<rect x="330" y="59" width="80" height="368" fill="url(#nC2)" style="mix-blend-mode:screen"/>
<rect x="410" y="59" width="67" height="368" fill="url(#nD1)" style="mix-blend-mode:screen"/>
<rect x="410" y="59" width="67" height="368" fill="url(#nD2)" style="mix-blend-mode:screen"/>
<path fill="#790000" opacity="0.40" d="M85 59h1v206h-1z"/><path fill="#7c0000" opacity="0.40" d="M85 265h1v32h-1z"/><path fill="#800000" opacity="0.40" d="M85 297h1v32h-1z"/><path fill="#830000" opacity="0.30" d="M239 270h1v14h-1z"/><path fill="#830000" opacity="0.40" d="M85 329h1v98h-1z"/><path fill="#860000" opacity="0.20" d="M192 59h1v107h-1zM192 270h1v157h-1zM377 59h1v368h-1zM380 59h1v368h-1z"/><path fill="#860000" opacity="0.30" d="M239 284h1v14h-1z"/><path fill="#890000" opacity="0.20" d="M192 166h1v34h-1zM381 59h1v368h-1z"/><path fill="#890000" opacity="0.30" d="M165 298h1v84h-1zM211 270h1v23h-1zM239 298h1v129h-1z"/><path fill="#890000" opacity="0.50" d="M229 270h1v24h-1z"/><path fill="#8c0000" opacity="0.20" d="M192 200h1v14h-1z"/><path fill="#8c0000" opacity="0.30" d="M112 59h1v368h-1zM165 382h1v45h-1zM211 59h1v108h-1zM211 293h1v134h-1zM239 59h1v124h-1z"/><path fill="#8c0000" opacity="0.40" d="M110 59h1v368h-1z"/><path fill="#8c0000" opacity="0.50" d="M229 294h1v133h-1z"/><path fill="#8f0000" opacity="0.20" d="M192 214h1v7h-1z"/><path fill="#8f0000" opacity="0.30" d="M165 59h1v93h-1zM165 270h1v25h-1zM165 297h1v1h-1zM173 59h1v92h-1zM173 270h1v25h-1zM173 297h1v130h-1zM201 59h1v97h-1zM201 270h1v157h-1zM211 167h1v39h-1zM239 183h1v28h-1z"/><path fill="#8f0000" opacity="0.50" d="M220 270h1v18h-1zM229 59h1v112h-1z"/><path fill="#930000" opacity="0.20" d="M192 221h1v9h-1z"/><path fill="#930000" opacity="0.30" d="M165 152h1v41h-1zM173 151h1v34h-1zM201 156h1v34h-1zM211 206h1v15h-1zM239 211h1v16h-1z"/><path fill="#930000" opacity="0.50" d="M220 288h1v139h-1zM229 171h1v37h-1z"/><path fill="#960000" opacity="0.20" d="M179 59h1v101h-1zM179 270h1v25h-1zM179 297h1v130h-1zM192 230h1v8h-1z"/><path fill="#960000" opacity="0.30" d="M165 193h1v21h-1zM173 185h1v24h-1zM201 190h1v21h-1zM211 221h1v18h-1zM239 227h1v18h-1z"/><path fill="#960000" opacity="0.40" d="M167 59h1v114h-1zM167 270h1v25h-1zM167 297h1v130h-1z"/><path fill="#960000" opacity="0.50" d="M220 59h1v94h-1zM229 208h1v14h-1z"/><path fill="#990000" opacity="0.20" d="M178 59h1v118h-1zM178 270h1v25h-1zM178 297h1v130h-1zM179 160h1v34h-1zM192 238h1v8h-1z"/><path fill="#990000" opacity="0.30" d="M165 214h1v16h-1zM173 209h1v10h-1zM201 211h1v8h-1zM211 239h1v18h-1zM239 245h1v25h-1z"/><path fill="#990000" opacity="0.40" d="M167 173h1v34h-1z"/><path fill="#990000" opacity="0.50" d="M220 153h1v41h-1zM229 222h1v18h-1z"/><path fill="#9c0000" opacity="0.20" d="M178 177h1v30h-1zM179 194h1v18h-1zM192 246h1v9h-1z"/><path fill="#9c0000" opacity="0.30" d="M165 230h1v16h-1zM173 219h1v9h-1zM173 295h1v2h-1zM201 219h1v8h-1zM211 257h1v11h-1z"/><path fill="#9c0000" opacity="0.40" d="M167 207h1v12h-1zM259 264h1v163h-1z"/><path fill="#9c0000" opacity="0.50" d="M220 194h1v21h-1zM229 240h1v18h-1zM248 59h1v2h-1zM248 62h1v1h-1zM248 64h1v2h-1zM248 67h1v1h-1zM248 69h1v2h-1zM248 72h1v1h-1zM248 74h1v1h-1zM248 77h1v1h-1zM248 79h1v1h-1zM248 82h1v1h-1zM248 84h1v1h-1zM248 86h1v2h-1zM248 89h1v1h-1zM248 91h1v2h-1zM248 94h1v1h-1zM248 96h1v2h-1zM248 99h1v1h-1zM248 101h1v1h-1zM248 104h1v1h-1zM248 106h1v1h-1zM248 109h1v1h-1zM248 111h1v1h-1zM248 113h1v2h-1zM248 116h1v1h-1zM248 118h1v2h-1zM248 121h1v1h-1zM248 123h1v2h-1zM248 126h1v1h-1zM248 128h1v1h-1zM248 131h1v1h-1zM248 133h1v1h-1zM248 136h1v1h-1zM248 138h1v1h-1zM248 140h1v2h-1zM248 143h1v1h-1zM248 145h1v2h-1zM248 148h1v1h-1zM248 150h1v2h-1zM248 153h1v1h-1zM248 155h1v1h-1zM248 158h1v1h-1zM248 160h1v1h-1zM248 163h1v1h-1zM248 165h1v1h-1zM248 167h1v2h-1zM248 170h1v1h-1zM248 172h1v2h-1zM248 175h1v1h-1zM248 177h1v1h-1zM248 180h1v1h-1zM248 182h1v1h-1zM248 185h1v1h-1zM248 187h1v1h-1zM248 190h1v1h-1zM248 192h1v1h-1zM248 194h1v2h-1zM248 197h1v1h-1zM248 199h1v2h-1zM248 202h1v1h-1zM248 204h1v1h-1zM248 207h1v1h-1zM248 209h1v1h-1zM248 212h1v1h-1zM248 214h1v1h-1zM248 217h1v1h-1zM248 219h1v1h-1zM248 221h1v2h-1zM248 224h1v1h-1zM248 226h1v2h-1zM248 229h1v1h-1zM248 231h1v1h-1zM248 234h1v1h-1zM248 236h1v1h-1zM248 239h1v1h-1zM248 241h1v1h-1zM248 244h1v1h-1zM248 246h1v1h-1zM248 248h1v2h-1zM248 251h1v1h-1zM248 253h1v2h-1zM248 256h1v1h-1zM248 258h1v1h-1zM248 261h1v1h-1zM248 263h1v1h-1zM248 266h1v1h-1zM248 268h1v1h-1zM248 270h1v2h-1zM248 273h1v1h-1zM248 275h1v2h-1zM248 278h1v1h-1zM248 280h1v2h-1zM248 283h1v1h-1zM248 285h1v1h-1zM248 288h1v1h-1zM248 290h1v1h-1zM248 293h1v1h-1zM248 295h1v1h-1zM248 297h1v2h-1zM248 300h1v1h-1zM248 302h1v2h-1zM248 305h1v1h-1zM248 307h1v2h-1zM248 310h1v1h-1zM248 312h1v1h-1zM248 315h1v1h-1zM248 317h1v1h-1zM248 320h1v1h-1zM248 322h1v1h-1zM248 324h1v2h-1zM248 327h1v1h-1zM248 329h1v2h-1zM248 332h1v1h-1zM248 334h1v2h-1zM248 337h1v1h-1zM248 339h1v1h-1zM248 342h1v1h-1zM248 344h1v1h-1zM248 347h1v1h-1zM248 349h1v1h-1zM248 351h1v2h-1zM248 354h1v1h-1zM248 356h1v2h-1zM248 359h1v1h-1zM248 361h1v1h-1zM248 364h1v1h-1zM248 366h1v1h-1zM248 369h1v1h-1zM248 371h1v1h-1zM248 374h1v1h-1zM248 376h1v1h-1zM248 378h1v2h-1zM248 381h1v1h-1zM248 383h1v2h-1zM248 386h1v1h-1zM248 388h1v1h-1zM248 391h1v1h-1zM248 393h1v1h-1zM248 396h1v1h-1zM248 398h1v1h-1zM248 401h1v1h-1zM248 403h1v1h-1zM248 405h1v2h-1zM248 408h1v1h-1zM248 410h1v2h-1zM248 413h1v1h-1zM248 415h1v1h-1zM248 418h1v1h-1zM248 420h1v1h-1zM248 423h1v1h-1zM248 425h1v1h-1z"/><path fill="#9f0000" opacity="0.20" d="M178 207h1v9h-1zM179 212h1v8h-1zM192 257h1v10h-1z"/><path fill="#9f0000" opacity="0.30" d="M165 246h1v9h-1zM165 257h1v10h-1zM173 228h1v10h-1zM201 227h1v9h-1z"/><path fill="#9f0000" opacity="0.40" d="M167 219h1v14h-1zM259 254h1v10h-1z"/><path fill="#9f0000" opacity="0.50" d="M220 215h1v17h-1zM229 258h1v10h-1z"/><path fill="#a30000" opacity="0.20" d="M178 216h1v8h-1zM179 220h1v8h-1zM179 295h1v2h-1zM192 267h1v3h-1z"/><path fill="#a30000" opacity="0.30" d="M173 238h1v10h-1zM201 236h1v8h-1z"/><path fill="#a30000" opacity="0.40" d="M167 233h1v14h-1zM167 295h1v2h-1zM188 59h1v103h-1zM188 270h1v157h-1zM259 244h1v10h-1z"/><path fill="#a30000" opacity="0.50" d="M220 232h1v18h-1z"/><path fill="#a60000" opacity="0.20" d="M178 224h1v8h-1zM178 295h1v2h-1zM179 228h1v9h-1zM252 59h1v368h-1z"/><path fill="#a60000" opacity="0.30" d="M165 269h1v1h-1zM165 295h1v2h-1zM173 248h1v7h-1zM173 257h1v1h-1zM201 244h1v8h-1zM211 268h1v2h-1z"/><path fill="#a60000" opacity="0.40" d="M167 247h1v8h-1zM167 257h1v10h-1zM188 162h1v34h-1zM259 59h1v185h-1z"/><path fill="#a60000" opacity="0.50" d="M220 250h1v18h-1z"/><path fill="#a90000" opacity="0.20" d="M178 232h1v9h-1zM179 237h1v8h-1zM192 255h1v2h-1z"/><path fill="#a90000" opacity="0.30" d="M173 258h1v9h-1zM201 252h1v3h-1zM201 257h1v10h-1z"/><path fill="#a90000" opacity="0.40" d="M188 196h1v17h-1z"/><path fill="#a90000" opacity="0.50" d="M229 268h1v2h-1z"/><path fill="#ac0000" opacity="0.20" d="M178 241h1v8h-1zM179 245h1v8h-1z"/><path fill="#ac0000" opacity="0.30" d="M165 255h1v2h-1zM165 267h1v2h-1z"/><path fill="#ac0000" opacity="0.40" d="M167 269h1v1h-1zM188 213h1v7h-1z"/><path fill="#af0000" opacity="0.20" d="M178 249h1v6h-1zM179 253h1v2h-1zM179 257h1v10h-1z"/><path fill="#af0000" opacity="0.30" d="M173 269h1v1h-1zM201 267h1v3h-1zM246 59h1v368h-1z"/><path fill="#af0000" opacity="0.40" d="M167 267h1v2h-1zM188 220h1v9h-1z"/><path fill="#af0000" opacity="0.50" d="M220 268h1v2h-1z"/><path fill="#b20000" opacity="0.20" d="M178 257h1v10h-1z"/><path fill="#b20000" opacity="0.30" d="M173 255h1v2h-1zM201 255h1v2h-1z"/><path fill="#b20000" opacity="0.40" d="M167 255h1v2h-1zM188 229h1v8h-1z"/><path fill="#b60000" opacity="0.20" d="M178 269h1v1h-1zM179 269h1v1h-1z"/><path fill="#b60000" opacity="0.30" d="M173 267h1v2h-1z"/><path fill="#b60000" opacity="0.40" d="M188 237h1v8h-1z"/><path fill="#b90000" opacity="0.20" d="M178 267h1v2h-1zM179 255h1v2h-1zM179 267h1v2h-1z"/><path fill="#b90000" opacity="0.40" d="M188 245h1v9h-1zM251 59h1v368h-1z"/><path fill="#bc0000" opacity="0.20" d="M178 255h1v2h-1z"/><path fill="#bc0000" opacity="0.40" d="M188 254h1v1h-1zM188 257h1v10h-1z"/><path fill="#bf0000" opacity="0.40" d="M188 267h1v3h-1z"/><path fill="#c60000" opacity="0.40" d="M188 255h1v2h-1zM247 59h1v368h-1z"/><path fill="#c90000" opacity="0.50" d="M248 61h1v1h-1zM248 63h1v1h-1zM248 66h1v1h-1zM248 68h1v1h-1zM248 71h1v1h-1zM248 73h1v1h-1zM248 75h1v2h-1zM248 78h1v1h-1zM248 80h1v2h-1zM248 83h1v1h-1zM248 85h1v1h-1zM248 88h1v1h-1zM248 90h1v1h-1zM248 93h1v1h-1zM248 95h1v1h-1zM248 98h1v1h-1zM248 100h1v1h-1zM248 102h1v2h-1zM248 105h1v1h-1zM248 107h1v2h-1zM248 110h1v1h-1zM248 112h1v1h-1zM248 115h1v1h-1zM248 117h1v1h-1zM248 120h1v1h-1zM248 122h1v1h-1zM248 125h1v1h-1zM248 127h1v1h-1zM248 129h1v2h-1zM248 132h1v1h-1zM248 134h1v2h-1zM248 137h1v1h-1zM248 139h1v1h-1zM248 142h1v1h-1zM248 144h1v1h-1zM248 147h1v1h-1zM248 149h1v1h-1zM248 152h1v1h-1zM248 154h1v1h-1zM248 156h1v2h-1zM248 159h1v1h-1zM248 161h1v2h-1zM248 164h1v1h-1zM248 166h1v1h-1zM248 169h1v1h-1zM248 171h1v1h-1zM248 174h1v1h-1zM248 176h1v1h-1zM248 178h1v2h-1zM248 181h1v1h-1zM248 183h1v2h-1zM248 186h1v1h-1zM248 188h1v2h-1zM248 191h1v1h-1zM248 193h1v1h-1zM248 196h1v1h-1zM248 198h1v1h-1zM248 201h1v1h-1zM248 203h1v1h-1zM248 205h1v2h-1zM248 208h1v1h-1zM248 210h1v2h-1zM248 213h1v1h-1zM248 215h1v2h-1zM248 218h1v1h-1zM248 220h1v1h-1zM248 223h1v1h-1zM248 225h1v1h-1zM248 228h1v1h-1zM248 230h1v1h-1zM248 232h1v2h-1zM248 235h1v1h-1zM248 237h1v2h-1zM248 240h1v1h-1zM248 242h1v2h-1zM248 245h1v1h-1zM248 247h1v1h-1zM248 250h1v1h-1zM248 252h1v1h-1zM248 255h1v1h-1zM248 257h1v1h-1zM248 259h1v2h-1zM248 262h1v1h-1zM248 264h1v2h-1zM248 267h1v1h-1zM248 269h1v1h-1zM248 272h1v1h-1zM248 274h1v1h-1zM248 277h1v1h-1zM248 279h1v1h-1zM248 282h1v1h-1zM248 284h1v1h-1zM248 286h1v2h-1zM248 289h1v1h-1zM248 291h1v2h-1zM248 294h1v1h-1zM248 296h1v1h-1zM248 299h1v1h-1zM248 301h1v1h-1zM248 304h1v1h-1zM248 306h1v1h-1zM248 309h1v1h-1zM248 311h1v1h-1zM248 313h1v2h-1zM248 316h1v1h-1zM248 318h1v2h-1zM248 321h1v1h-1zM248 323h1v1h-1zM248 326h1v1h-1zM248 328h1v1h-1zM248 331h1v1h-1zM248 333h1v1h-1zM248 336h1v1h-1zM248 338h1v1h-1zM248 340h1v2h-1zM248 343h1v1h-1zM248 345h1v2h-1zM248 348h1v1h-1zM248 350h1v1h-1zM248 353h1v1h-1zM248 355h1v1h-1zM248 358h1v1h-1zM248 360h1v1h-1zM248 362h1v2h-1zM248 365h1v1h-1zM248 367h1v2h-1zM248 370h1v1h-1zM248 372h1v2h-1zM248 375h1v1h-1zM248 377h1v1h-1zM248 380h1v1h-1zM248 382h1v1h-1zM248 385h1v1h-1zM248 387h1v1h-1zM248 389h1v2h-1zM248 392h1v1h-1zM248 394h1v2h-1zM248 397h1v1h-1zM248 399h1v2h-1zM248 402h1v1h-1zM248 404h1v1h-1zM248 407h1v1h-1zM248 409h1v1h-1zM248 412h1v1h-1zM248 414h1v1h-1zM248 416h1v2h-1zM248 419h1v1h-1zM248 421h1v2h-1zM248 424h1v1h-1zM248 426h1v1h-1z"/><path fill="#d60000" opacity="0.60" d="M208 59h1v368h-1z"/><path fill="#d90000" opacity="0.50" d="M249 59h1v368h-1zM250 59h1v368h-1z"/>
</g>
<rect x="503" y="59" width="17" height="368" fill="url(#cb)" shape-rendering="crispEdges"/>
<g shape-rendering="crispEdges" fill="none" stroke="#000" stroke-width="3" stroke-opacity="0.055">
<rect x="80.5" y="58.5" width="397" height="369"/>
<rect x="502.5" y="58.5" width="18" height="369"/>
<path d="M92.5 428v4M150.5 428v4M208.5 428v4M267.5 428v4M325.5 428v4M383.5 428v4M442.5 428v4"/>
<path d="M80 58.5h-4M80 119.5h-4M80 181.5h-4M80 242.5h-4M80 304.5h-4M80 366.5h-4M80 427.5h-4"/>
<path d="M521 58.5h4M521 119.5h4M521 181.5h4M521 242.5h4M521 304.5h4M521 366.5h4M521 427.5h4"/>
</g>
<g shape-rendering="crispEdges" fill="none" stroke="#000" stroke-width="1">
<rect x="80.5" y="58.5" width="397" height="369"/>
<rect x="502.5" y="58.5" width="18" height="369"/>
<path d="M92.5 428v4M150.5 428v4M208.5 428v4M267.5 428v4M325.5 428v4M383.5 428v4M442.5 428v4"/>
<path d="M80 58.5h-4M80 119.5h-4M80 181.5h-4M80 242.5h-4M80 304.5h-4M80 366.5h-4M80 427.5h-4"/>
<path d="M521 58.5h4M521 119.5h4M521 181.5h4M521 242.5h4M521 304.5h4M521 366.5h4M521 427.5h4"/>
</g>
<g shape-rendering="crispEdges" fill="#000" fill-opacity="0.5"><rect x="92" y="432" width="1" height="1"/><rect x="150" y="432" width="1" height="1"/><rect x="208" y="432" width="1" height="1"/><rect x="267" y="432" width="1" height="1"/><rect x="325" y="432" width="1" height="1"/><rect x="383" y="432" width="1" height="1"/><rect x="442" y="432" width="1" height="1"/><rect x="75" y="58" width="1" height="1"/><rect x="525" y="58" width="1" height="1"/><rect x="75" y="119" width="1" height="1"/><rect x="525" y="119" width="1" height="1"/><rect x="75" y="181" width="1" height="1"/><rect x="525" y="181" width="1" height="1"/><rect x="75" y="242" width="1" height="1"/><rect x="525" y="242" width="1" height="1"/><rect x="75" y="304" width="1" height="1"/><rect x="525" y="304" width="1" height="1"/><rect x="75" y="366" width="1" height="1"/><rect x="525" y="366" width="1" height="1"/><rect x="75" y="427" width="1" height="1"/><rect x="525" y="427" width="1" height="1"/></g>
<g class="t" text-anchor="middle">
<text x="92.5" y="448">2</text><text x="150.5" y="448">4</text><text x="208.5" y="448">6</text><text x="267.5" y="448">8</text><text x="325.5" y="448">10</text><text x="383.5" y="448">12</text><text x="442.5" y="448">14</text>
<text x="0" y="467" transform="translate(278.7,0) scale(1.012,1)">Frequency[MHz]</text>
<text transform="translate(26,244) rotate(-90)">Virtual Distance[Km]</text>
<text transform="translate(563,244) rotate(-90) scale(1.02,1)">Power [dB]</text>
</g>
<g class="t" text-anchor="end">
<text x="70" y="63">3000</text><text x="70" y="125">2500</text><text x="70" y="186">2000</text><text x="70" y="248">1500</text><text x="70" y="310">1000</text><text x="70" y="371">500</text><text x="70" y="433">0</text>
</g>
<g class="t">
<text x="530" y="63">60</text><text x="530" y="125">50</text><text x="530" y="186">40</text><text x="530" y="248">30</text><text x="530" y="310">20</text><text x="530" y="371">10</text><text x="530" y="433">0</text>
</g>
<g class="ti" text-anchor="middle" transform="translate(278.5,0) scale(1.011,1)">
<text x="0" y="32">Ionogram Jicamarca-Piura Polarization NE45°</text>
<text x="0.3" y="49">12/04/2024-04:13:05 UTC</text>
</g>
</svg>
</body></html>
